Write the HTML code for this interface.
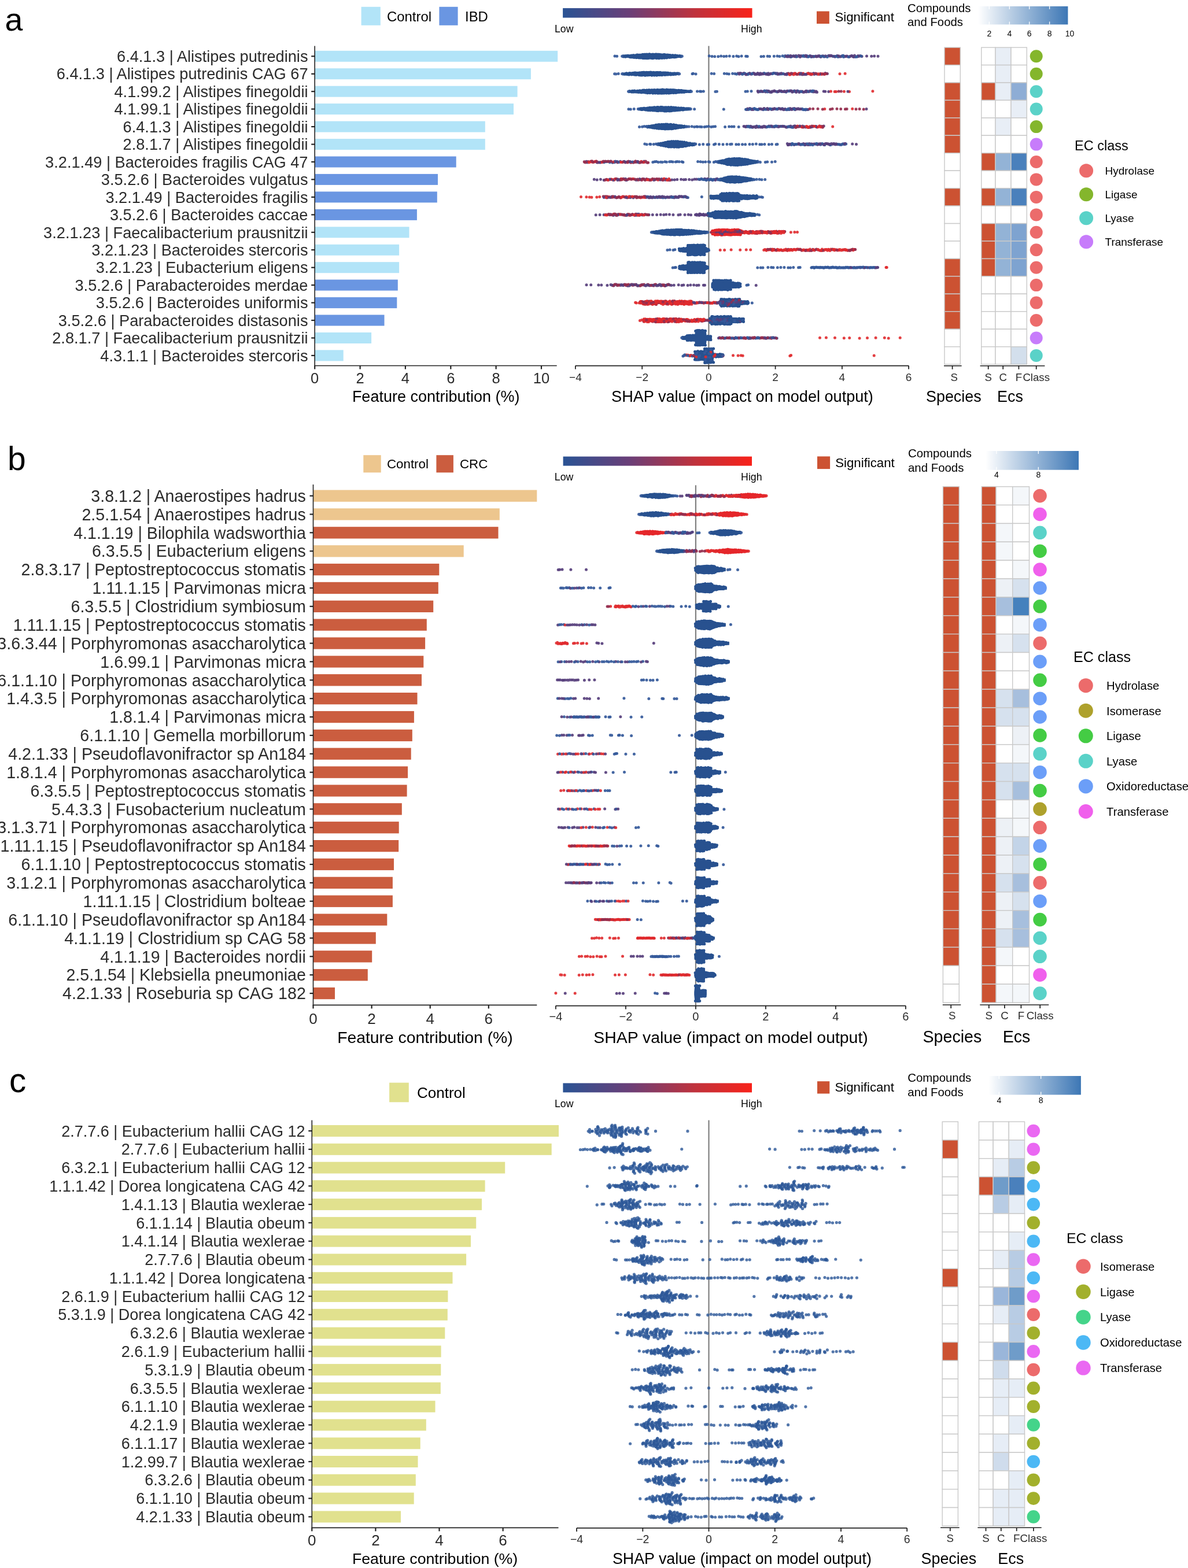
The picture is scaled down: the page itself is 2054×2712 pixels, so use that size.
<!DOCTYPE html><html><head><meta charset="utf-8"><title>Figure</title><style>html,body{margin:0;padding:0;background:#fff;}svg{display:block;font-family:"Liberation Sans",Arial,sans-serif;}path.db,path.dp,path.dr,path.dm{fill:none;stroke-linecap:round;stroke-width:5px}path.db{stroke:#28518f}path.dr{stroke:#e5262a}path.dp{stroke:#573d7a}path.dm{stroke:#952e4e}path.dB,path.dP,path.dR,path.dM,path.dc{fill:none;stroke-linecap:round;stroke-width:5px}path.dB{stroke:#34599a;stroke-opacity:.92}path.dP{stroke:#573f7c;stroke-opacity:.92}path.dR{stroke:#e02a2e;stroke-opacity:.9}path.dM{stroke:#952e4e;stroke-opacity:.92}path.dc{stroke:#2a5697;stroke-opacity:.8;stroke-width:5.2px}</style></head><body><svg width="2054" height="2712" viewBox="0 0 2054 2712"><rect width="2054" height="2712" fill="#fff"/><defs><linearGradient id="shapgrad"><stop offset="0" stop-color="#2a5394"/><stop offset="0.35" stop-color="#6a3f78"/><stop offset="0.7" stop-color="#c0323c"/><stop offset="1" stop-color="#f8221a"/></linearGradient><linearGradient id="ga"><stop offset="0" stop-color="#ffffff"/><stop offset="1" stop-color="#3d77b5"/></linearGradient><linearGradient id="gb"><stop offset="0" stop-color="#ffffff"/><stop offset="1" stop-color="#3d77b5"/></linearGradient><linearGradient id="gc"><stop offset="0" stop-color="#ffffff"/><stop offset="1" stop-color="#3d77b5"/></linearGradient></defs>
<text x="8.5" y="53.3" font-size="55.5" fill="#000">a</text>
<text x="532.5" y="107" font-size="27.2" fill="#2b2b2b" text-anchor="end">6.4.1.3 | Alistipes putredinis</text>
<text x="532.5" y="137.4" font-size="27.2" fill="#2b2b2b" text-anchor="end">6.4.1.3 | Alistipes putredinis CAG 67</text>
<text x="532.5" y="167.9" font-size="27.2" fill="#2b2b2b" text-anchor="end">4.1.99.2 | Alistipes finegoldii</text>
<text x="532.5" y="198.3" font-size="27.2" fill="#2b2b2b" text-anchor="end">4.1.99.1 | Alistipes finegoldii</text>
<text x="532.5" y="228.8" font-size="27.2" fill="#2b2b2b" text-anchor="end">6.4.1.3 | Alistipes finegoldii</text>
<text x="532.5" y="259.2" font-size="27.2" fill="#2b2b2b" text-anchor="end">2.8.1.7 | Alistipes finegoldii</text>
<text x="532.5" y="289.7" font-size="27.2" fill="#2b2b2b" text-anchor="end">3.2.1.49 | Bacteroides fragilis CAG 47</text>
<text x="532.5" y="320.1" font-size="27.2" fill="#2b2b2b" text-anchor="end">3.5.2.6 | Bacteroides vulgatus</text>
<text x="532.5" y="350.6" font-size="27.2" fill="#2b2b2b" text-anchor="end">3.2.1.49 | Bacteroides fragilis</text>
<text x="532.5" y="381" font-size="27.2" fill="#2b2b2b" text-anchor="end">3.5.2.6 | Bacteroides caccae</text>
<text x="532.5" y="411.5" font-size="27.2" fill="#2b2b2b" text-anchor="end">3.2.1.23 | Faecalibacterium prausnitzii</text>
<text x="532.5" y="441.9" font-size="27.2" fill="#2b2b2b" text-anchor="end">3.2.1.23 | Bacteroides stercoris</text>
<text x="532.5" y="472.4" font-size="27.2" fill="#2b2b2b" text-anchor="end">3.2.1.23 | Eubacterium eligens</text>
<text x="532.5" y="502.8" font-size="27.2" fill="#2b2b2b" text-anchor="end">3.5.2.6 | Parabacteroides merdae</text>
<text x="532.5" y="533.3" font-size="27.2" fill="#2b2b2b" text-anchor="end">3.5.2.6 | Bacteroides uniformis</text>
<text x="532.5" y="563.7" font-size="27.2" fill="#2b2b2b" text-anchor="end">3.5.2.6 | Parabacteroides distasonis</text>
<text x="532.5" y="594.2" font-size="27.2" fill="#2b2b2b" text-anchor="end">2.8.1.7 | Faecalibacterium prausnitzii</text>
<text x="532.5" y="624.6" font-size="27.2" fill="#2b2b2b" text-anchor="end">4.3.1.1 | Bacteroides stercoris</text>
<rect x="544.2" y="87.8" width="420" height="19" fill="#b2e4f8"/>
<rect x="544.2" y="118.2" width="373.7" height="19" fill="#b2e4f8"/>
<rect x="544.2" y="148.7" width="350.4" height="19" fill="#b2e4f8"/>
<rect x="544.2" y="179.1" width="343.8" height="19" fill="#b2e4f8"/>
<rect x="544.2" y="209.6" width="294.6" height="19" fill="#b2e4f8"/>
<rect x="544.2" y="240.1" width="294.6" height="19" fill="#b2e4f8"/>
<rect x="544.2" y="270.5" width="244.5" height="19" fill="#6a96e2"/>
<rect x="544.2" y="300.9" width="212.8" height="19" fill="#6a96e2"/>
<rect x="544.2" y="331.4" width="211.6" height="19" fill="#6a96e2"/>
<rect x="544.2" y="361.9" width="176.7" height="19" fill="#6a96e2"/>
<rect x="544.2" y="392.3" width="163.3" height="19" fill="#b2e4f8"/>
<rect x="544.2" y="422.8" width="145.9" height="19" fill="#b2e4f8"/>
<rect x="544.2" y="453.2" width="145.9" height="19" fill="#b2e4f8"/>
<rect x="544.2" y="483.6" width="143.6" height="19" fill="#6a96e2"/>
<rect x="544.2" y="514.1" width="142.1" height="19" fill="#6a96e2"/>
<rect x="544.2" y="544.5" width="120.3" height="19" fill="#6a96e2"/>
<rect x="544.2" y="575" width="97.9" height="19" fill="#b2e4f8"/>
<rect x="544.2" y="605.4" width="49.5" height="19" fill="#b2e4f8"/>
<line x1="544.2" y1="79.4" x2="544.2" y2="633.3" stroke="#222222" stroke-width="1.6"/>
<line x1="538.2" y1="97.3" x2="544.2" y2="97.3" stroke="#222" stroke-width="2.2"/>
<line x1="538.2" y1="127.8" x2="544.2" y2="127.8" stroke="#222" stroke-width="2.2"/>
<line x1="538.2" y1="158.2" x2="544.2" y2="158.2" stroke="#222" stroke-width="2.2"/>
<line x1="538.2" y1="188.6" x2="544.2" y2="188.6" stroke="#222" stroke-width="2.2"/>
<line x1="538.2" y1="219.1" x2="544.2" y2="219.1" stroke="#222" stroke-width="2.2"/>
<line x1="538.2" y1="249.6" x2="544.2" y2="249.6" stroke="#222" stroke-width="2.2"/>
<line x1="538.2" y1="280" x2="544.2" y2="280" stroke="#222" stroke-width="2.2"/>
<line x1="538.2" y1="310.4" x2="544.2" y2="310.4" stroke="#222" stroke-width="2.2"/>
<line x1="538.2" y1="340.9" x2="544.2" y2="340.9" stroke="#222" stroke-width="2.2"/>
<line x1="538.2" y1="371.4" x2="544.2" y2="371.4" stroke="#222" stroke-width="2.2"/>
<line x1="538.2" y1="401.8" x2="544.2" y2="401.8" stroke="#222" stroke-width="2.2"/>
<line x1="538.2" y1="432.2" x2="544.2" y2="432.2" stroke="#222" stroke-width="2.2"/>
<line x1="538.2" y1="462.7" x2="544.2" y2="462.7" stroke="#222" stroke-width="2.2"/>
<line x1="538.2" y1="493.1" x2="544.2" y2="493.1" stroke="#222" stroke-width="2.2"/>
<line x1="538.2" y1="523.6" x2="544.2" y2="523.6" stroke="#222" stroke-width="2.2"/>
<line x1="538.2" y1="554" x2="544.2" y2="554" stroke="#222" stroke-width="2.2"/>
<line x1="538.2" y1="584.5" x2="544.2" y2="584.5" stroke="#222" stroke-width="2.2"/>
<line x1="538.2" y1="614.9" x2="544.2" y2="614.9" stroke="#222" stroke-width="2.2"/>
<line x1="543.4" y1="632.5" x2="962.7" y2="632.5" stroke="#222222" stroke-width="1.6"/>
<line x1="544.2" y1="632.5" x2="544.2" y2="638.5" stroke="#222" stroke-width="2.2"/>
<text x="544.2" y="663" font-size="25.5" fill="#2b2b2b" text-anchor="middle">0</text>
<line x1="622.6" y1="632.5" x2="622.6" y2="638.5" stroke="#222" stroke-width="2.2"/>
<text x="622.6" y="663" font-size="25.5" fill="#2b2b2b" text-anchor="middle">2</text>
<line x1="700.9" y1="632.5" x2="700.9" y2="638.5" stroke="#222" stroke-width="2.2"/>
<text x="700.9" y="663" font-size="25.5" fill="#2b2b2b" text-anchor="middle">4</text>
<line x1="779.3" y1="632.5" x2="779.3" y2="638.5" stroke="#222" stroke-width="2.2"/>
<text x="779.3" y="663" font-size="25.5" fill="#2b2b2b" text-anchor="middle">6</text>
<line x1="857.6" y1="632.5" x2="857.6" y2="638.5" stroke="#222" stroke-width="2.2"/>
<text x="857.6" y="663" font-size="25.5" fill="#2b2b2b" text-anchor="middle">8</text>
<line x1="936" y1="632.5" x2="936" y2="638.5" stroke="#222" stroke-width="2.2"/>
<text x="936" y="663" font-size="25.5" fill="#2b2b2b" text-anchor="middle">10</text>
<text x="753.7" y="695" font-size="27" fill="#000" text-anchor="middle">Feature contribution (%)</text>
<rect x="624.6" y="11.8" width="33.2" height="32" fill="#b2e4f8"/>
<text x="669" y="36.5" font-size="23.9" fill="#000">Control</text>
<rect x="759.4" y="11.8" width="32.2" height="32" fill="#6a96e2"/>
<text x="804" y="36.5" font-size="23.9" fill="#000">IBD</text>
<line x1="1225.4" y1="79.5" x2="1225.4" y2="632.6" stroke="#808080" stroke-width="2.2"/>
<line x1="994.9" y1="632.6" x2="1571.1" y2="632.6" stroke="#222222" stroke-width="1.6"/>
<line x1="994.9" y1="632.6" x2="994.9" y2="638.6" stroke="#222222" stroke-width="1.8"/>
<text x="994.9" y="659.2" font-size="19" fill="#2b2b2b" text-anchor="middle">−4</text>
<line x1="1110.2" y1="632.6" x2="1110.2" y2="638.6" stroke="#222222" stroke-width="1.8"/>
<text x="1110.2" y="659.2" font-size="19" fill="#2b2b2b" text-anchor="middle">−2</text>
<line x1="1225.4" y1="632.6" x2="1225.4" y2="638.6" stroke="#222222" stroke-width="1.8"/>
<text x="1225.4" y="659.2" font-size="19" fill="#2b2b2b" text-anchor="middle">0</text>
<line x1="1340.6" y1="632.6" x2="1340.6" y2="638.6" stroke="#222222" stroke-width="1.8"/>
<text x="1340.6" y="659.2" font-size="19" fill="#2b2b2b" text-anchor="middle">2</text>
<line x1="1455.9" y1="632.6" x2="1455.9" y2="638.6" stroke="#222222" stroke-width="1.8"/>
<text x="1455.9" y="659.2" font-size="19" fill="#2b2b2b" text-anchor="middle">4</text>
<line x1="1571.1" y1="632.6" x2="1571.1" y2="638.6" stroke="#222222" stroke-width="1.8"/>
<text x="1571.1" y="659.2" font-size="19" fill="#2b2b2b" text-anchor="middle">6</text>
<text x="1283.5" y="695.2" font-size="27.1" fill="#000" text-anchor="middle">SHAP value (impact on model output)</text>
<rect x="973.1" y="14.1" width="327.4" height="16.5" fill="url(#shapgrad)"/>
<text x="959" y="55.8" font-size="17.7" fill="#000">Low</text>
<text x="1317.5" y="55.8" font-size="17.7" fill="#000" text-anchor="end">High</text>
<rect x="1412" y="19.5" width="21.8" height="21.5" fill="#cc5232"/>
<text x="1443.5" y="37.2" font-size="22.2" fill="#000">Significant</text>
<text x="1569" y="20.6" font-size="20.3" fill="#000">Compounds</text>
<text x="1569" y="45.3" font-size="20.3" fill="#000">and Foods</text>
<rect x="1690.9" y="10.9" width="155.5" height="31.5" fill="url(#ga)"/>
<line x1="1710.3" y1="10.9" x2="1710.3" y2="15.9" stroke="#fff" stroke-width="1.3"/>
<line x1="1710.3" y1="37.4" x2="1710.3" y2="42.4" stroke="#fff" stroke-width="1.3"/>
<text x="1710.3" y="63.2" font-size="14" fill="#000" text-anchor="middle">2</text>
<line x1="1745.3" y1="10.9" x2="1745.3" y2="15.9" stroke="#fff" stroke-width="1.3"/>
<line x1="1745.3" y1="37.4" x2="1745.3" y2="42.4" stroke="#fff" stroke-width="1.3"/>
<text x="1745.3" y="63.2" font-size="14" fill="#000" text-anchor="middle">4</text>
<line x1="1779.7" y1="10.9" x2="1779.7" y2="15.9" stroke="#fff" stroke-width="1.3"/>
<line x1="1779.7" y1="37.4" x2="1779.7" y2="42.4" stroke="#fff" stroke-width="1.3"/>
<text x="1779.7" y="63.2" font-size="14" fill="#000" text-anchor="middle">6</text>
<line x1="1814.6" y1="10.9" x2="1814.6" y2="15.9" stroke="#fff" stroke-width="1.3"/>
<line x1="1814.6" y1="37.4" x2="1814.6" y2="42.4" stroke="#fff" stroke-width="1.3"/>
<text x="1814.6" y="63.2" font-size="14" fill="#000" text-anchor="middle">8</text>
<text x="1849.5" y="63.2" font-size="14" fill="#000" text-anchor="middle">10</text>
<rect x="1633" y="82.1" width="27.3" height="30.5" fill="#cc5232" stroke="#c9c9c9" stroke-width="1.4"/>
<rect x="1633" y="112.5" width="27.3" height="30.4" fill="#fff" stroke="#c9c9c9" stroke-width="1.4"/>
<rect x="1633" y="143" width="27.3" height="30.4" fill="#cc5232" stroke="#c9c9c9" stroke-width="1.4"/>
<rect x="1633" y="173.4" width="27.3" height="30.4" fill="#cc5232" stroke="#c9c9c9" stroke-width="1.4"/>
<rect x="1633" y="203.9" width="27.3" height="30.4" fill="#cc5232" stroke="#c9c9c9" stroke-width="1.4"/>
<rect x="1633" y="234.3" width="27.3" height="30.5" fill="#cc5232" stroke="#c9c9c9" stroke-width="1.4"/>
<rect x="1633" y="264.8" width="27.3" height="30.4" fill="#fff" stroke="#c9c9c9" stroke-width="1.4"/>
<rect x="1633" y="295.2" width="27.3" height="30.4" fill="#fff" stroke="#c9c9c9" stroke-width="1.4"/>
<rect x="1633" y="325.7" width="27.3" height="30.4" fill="#cc5232" stroke="#c9c9c9" stroke-width="1.4"/>
<rect x="1633" y="356.1" width="27.3" height="30.4" fill="#fff" stroke="#c9c9c9" stroke-width="1.4"/>
<rect x="1633" y="386.6" width="27.3" height="30.4" fill="#fff" stroke="#c9c9c9" stroke-width="1.4"/>
<rect x="1633" y="417" width="27.3" height="30.4" fill="#fff" stroke="#c9c9c9" stroke-width="1.4"/>
<rect x="1633" y="447.5" width="27.3" height="30.4" fill="#cc5232" stroke="#c9c9c9" stroke-width="1.4"/>
<rect x="1633" y="477.9" width="27.3" height="30.4" fill="#cc5232" stroke="#c9c9c9" stroke-width="1.4"/>
<rect x="1633" y="508.4" width="27.3" height="30.5" fill="#cc5232" stroke="#c9c9c9" stroke-width="1.4"/>
<rect x="1633" y="538.8" width="27.3" height="30.5" fill="#cc5232" stroke="#c9c9c9" stroke-width="1.4"/>
<rect x="1633" y="569.3" width="27.3" height="30.5" fill="#fff" stroke="#c9c9c9" stroke-width="1.4"/>
<rect x="1633" y="599.7" width="27.3" height="30.5" fill="#fff" stroke="#c9c9c9" stroke-width="1.4"/>
<rect x="1696.8" y="82.1" width="24.2" height="30.5" fill="#fff" stroke="#c9c9c9" stroke-width="1.4"/>
<rect x="1721" y="82.1" width="27" height="30.5" fill="#e8eef6" stroke="#c9c9c9" stroke-width="1.4"/>
<rect x="1748" y="82.1" width="27.3" height="30.5" fill="#fff" stroke="#c9c9c9" stroke-width="1.4"/>
<rect x="1696.8" y="112.5" width="24.2" height="30.4" fill="#fff" stroke="#c9c9c9" stroke-width="1.4"/>
<rect x="1721" y="112.5" width="27" height="30.4" fill="#e8eef6" stroke="#c9c9c9" stroke-width="1.4"/>
<rect x="1748" y="112.5" width="27.3" height="30.4" fill="#fff" stroke="#c9c9c9" stroke-width="1.4"/>
<rect x="1696.8" y="143" width="24.2" height="30.4" fill="#cc5232" stroke="#c9c9c9" stroke-width="1.4"/>
<rect x="1721" y="143" width="27" height="30.4" fill="#e8eef6" stroke="#c9c9c9" stroke-width="1.4"/>
<rect x="1748" y="143" width="27.3" height="30.4" fill="#8eadd5" stroke="#c9c9c9" stroke-width="1.4"/>
<rect x="1696.8" y="173.4" width="24.2" height="30.4" fill="#fff" stroke="#c9c9c9" stroke-width="1.4"/>
<rect x="1721" y="173.4" width="27" height="30.4" fill="#fff" stroke="#c9c9c9" stroke-width="1.4"/>
<rect x="1748" y="173.4" width="27.3" height="30.4" fill="#e8eef6" stroke="#c9c9c9" stroke-width="1.4"/>
<rect x="1696.8" y="203.9" width="24.2" height="30.4" fill="#fff" stroke="#c9c9c9" stroke-width="1.4"/>
<rect x="1721" y="203.9" width="27" height="30.4" fill="#e8eef6" stroke="#c9c9c9" stroke-width="1.4"/>
<rect x="1748" y="203.9" width="27.3" height="30.4" fill="#fff" stroke="#c9c9c9" stroke-width="1.4"/>
<rect x="1696.8" y="234.3" width="24.2" height="30.5" fill="#fff" stroke="#c9c9c9" stroke-width="1.4"/>
<rect x="1721" y="234.3" width="27" height="30.5" fill="#fff" stroke="#c9c9c9" stroke-width="1.4"/>
<rect x="1748" y="234.3" width="27.3" height="30.5" fill="#fff" stroke="#c9c9c9" stroke-width="1.4"/>
<rect x="1696.8" y="264.8" width="24.2" height="30.4" fill="#cc5232" stroke="#c9c9c9" stroke-width="1.4"/>
<rect x="1721" y="264.8" width="27" height="30.4" fill="#93b3d6" stroke="#c9c9c9" stroke-width="1.4"/>
<rect x="1748" y="264.8" width="27.3" height="30.4" fill="#4a80bc" stroke="#c9c9c9" stroke-width="1.4"/>
<rect x="1696.8" y="295.2" width="24.2" height="30.4" fill="#fff" stroke="#c9c9c9" stroke-width="1.4"/>
<rect x="1721" y="295.2" width="27" height="30.4" fill="#fff" stroke="#c9c9c9" stroke-width="1.4"/>
<rect x="1748" y="295.2" width="27.3" height="30.4" fill="#fff" stroke="#c9c9c9" stroke-width="1.4"/>
<rect x="1696.8" y="325.7" width="24.2" height="30.4" fill="#cc5232" stroke="#c9c9c9" stroke-width="1.4"/>
<rect x="1721" y="325.7" width="27" height="30.4" fill="#93b3d6" stroke="#c9c9c9" stroke-width="1.4"/>
<rect x="1748" y="325.7" width="27.3" height="30.4" fill="#4a80bc" stroke="#c9c9c9" stroke-width="1.4"/>
<rect x="1696.8" y="356.1" width="24.2" height="30.4" fill="#fff" stroke="#c9c9c9" stroke-width="1.4"/>
<rect x="1721" y="356.1" width="27" height="30.4" fill="#fff" stroke="#c9c9c9" stroke-width="1.4"/>
<rect x="1748" y="356.1" width="27.3" height="30.4" fill="#fff" stroke="#c9c9c9" stroke-width="1.4"/>
<rect x="1696.8" y="386.6" width="24.2" height="30.4" fill="#cc5232" stroke="#c9c9c9" stroke-width="1.4"/>
<rect x="1721" y="386.6" width="27" height="30.4" fill="#93b3d6" stroke="#c9c9c9" stroke-width="1.4"/>
<rect x="1748" y="386.6" width="27.3" height="30.4" fill="#7ea3d0" stroke="#c9c9c9" stroke-width="1.4"/>
<rect x="1696.8" y="417" width="24.2" height="30.4" fill="#cc5232" stroke="#c9c9c9" stroke-width="1.4"/>
<rect x="1721" y="417" width="27" height="30.4" fill="#93b3d6" stroke="#c9c9c9" stroke-width="1.4"/>
<rect x="1748" y="417" width="27.3" height="30.4" fill="#7ea3d0" stroke="#c9c9c9" stroke-width="1.4"/>
<rect x="1696.8" y="447.5" width="24.2" height="30.4" fill="#cc5232" stroke="#c9c9c9" stroke-width="1.4"/>
<rect x="1721" y="447.5" width="27" height="30.4" fill="#93b3d6" stroke="#c9c9c9" stroke-width="1.4"/>
<rect x="1748" y="447.5" width="27.3" height="30.4" fill="#7ea3d0" stroke="#c9c9c9" stroke-width="1.4"/>
<rect x="1696.8" y="477.9" width="24.2" height="30.4" fill="#fff" stroke="#c9c9c9" stroke-width="1.4"/>
<rect x="1721" y="477.9" width="27" height="30.4" fill="#fff" stroke="#c9c9c9" stroke-width="1.4"/>
<rect x="1748" y="477.9" width="27.3" height="30.4" fill="#fff" stroke="#c9c9c9" stroke-width="1.4"/>
<rect x="1696.8" y="508.4" width="24.2" height="30.5" fill="#fff" stroke="#c9c9c9" stroke-width="1.4"/>
<rect x="1721" y="508.4" width="27" height="30.5" fill="#fff" stroke="#c9c9c9" stroke-width="1.4"/>
<rect x="1748" y="508.4" width="27.3" height="30.5" fill="#fff" stroke="#c9c9c9" stroke-width="1.4"/>
<rect x="1696.8" y="538.8" width="24.2" height="30.5" fill="#fff" stroke="#c9c9c9" stroke-width="1.4"/>
<rect x="1721" y="538.8" width="27" height="30.5" fill="#fff" stroke="#c9c9c9" stroke-width="1.4"/>
<rect x="1748" y="538.8" width="27.3" height="30.5" fill="#fff" stroke="#c9c9c9" stroke-width="1.4"/>
<rect x="1696.8" y="569.3" width="24.2" height="30.5" fill="#fff" stroke="#c9c9c9" stroke-width="1.4"/>
<rect x="1721" y="569.3" width="27" height="30.5" fill="#fff" stroke="#c9c9c9" stroke-width="1.4"/>
<rect x="1748" y="569.3" width="27.3" height="30.5" fill="#fff" stroke="#c9c9c9" stroke-width="1.4"/>
<rect x="1696.8" y="599.7" width="24.2" height="30.5" fill="#fff" stroke="#c9c9c9" stroke-width="1.4"/>
<rect x="1721" y="599.7" width="27" height="30.5" fill="#fff" stroke="#c9c9c9" stroke-width="1.4"/>
<rect x="1748" y="599.7" width="27.3" height="30.5" fill="#d3dfec" stroke="#c9c9c9" stroke-width="1.4"/>
<circle cx="1791.7" cy="97.3" r="11" fill="#84b62c"/>
<circle cx="1791.7" cy="127.8" r="11" fill="#84b62c"/>
<circle cx="1791.7" cy="158.2" r="11" fill="#5ad2c8"/>
<circle cx="1791.7" cy="188.6" r="11" fill="#5ad2c8"/>
<circle cx="1791.7" cy="219.1" r="11" fill="#84b62c"/>
<circle cx="1791.7" cy="249.6" r="11" fill="#c77cfb"/>
<circle cx="1791.7" cy="280" r="11" fill="#ec6b6b"/>
<circle cx="1791.7" cy="310.4" r="11" fill="#ec6b6b"/>
<circle cx="1791.7" cy="340.9" r="11" fill="#ec6b6b"/>
<circle cx="1791.7" cy="371.4" r="11" fill="#ec6b6b"/>
<circle cx="1791.7" cy="401.8" r="11" fill="#ec6b6b"/>
<circle cx="1791.7" cy="432.2" r="11" fill="#ec6b6b"/>
<circle cx="1791.7" cy="462.7" r="11" fill="#ec6b6b"/>
<circle cx="1791.7" cy="493.1" r="11" fill="#ec6b6b"/>
<circle cx="1791.7" cy="523.6" r="11" fill="#ec6b6b"/>
<circle cx="1791.7" cy="554" r="11" fill="#ec6b6b"/>
<circle cx="1791.7" cy="584.5" r="11" fill="#c77cfb"/>
<circle cx="1791.7" cy="614.9" r="11" fill="#5ad2c8"/>
<text x="1858" y="260" font-size="23.5" fill="#000">EC class</text>
<circle cx="1878.1" cy="295.3" r="12" fill="#ec6b6b"/>
<text x="1910.5" y="302.1" font-size="19" fill="#000">Hydrolase</text>
<circle cx="1878.1" cy="336.3" r="12" fill="#84b62c"/>
<text x="1910.5" y="343.1" font-size="19" fill="#000">Ligase</text>
<circle cx="1878.1" cy="377.3" r="12" fill="#5ad2c8"/>
<text x="1910.5" y="384.1" font-size="19" fill="#000">Lyase</text>
<circle cx="1878.1" cy="418.3" r="12" fill="#c77cfb"/>
<text x="1910.5" y="425.1" font-size="19" fill="#000">Transferase</text>
<line x1="1632" y1="632.7" x2="1662.6" y2="632.7" stroke="#222222" stroke-width="1.6"/>
<line x1="1646.6" y1="632.7" x2="1646.6" y2="638.7" stroke="#222222" stroke-width="1.8"/>
<text x="1649.6" y="658.7" font-size="18.6" fill="#2b2b2b" text-anchor="middle">S</text>
<line x1="1694.6" y1="632.7" x2="1806.4" y2="632.7" stroke="#222222" stroke-width="1.6"/>
<line x1="1708.7" y1="632.7" x2="1708.7" y2="638.7" stroke="#222222" stroke-width="1.8"/>
<text x="1708.7" y="658.7" font-size="18.6" fill="#2b2b2b" text-anchor="middle">S</text>
<line x1="1734.2" y1="632.7" x2="1734.2" y2="638.7" stroke="#222222" stroke-width="1.8"/>
<text x="1734.2" y="658.7" font-size="18.6" fill="#2b2b2b" text-anchor="middle">C</text>
<line x1="1761.4" y1="632.7" x2="1761.4" y2="638.7" stroke="#222222" stroke-width="1.8"/>
<text x="1761.4" y="658.7" font-size="18.6" fill="#2b2b2b" text-anchor="middle">F</text>
<line x1="1791.7" y1="632.7" x2="1791.7" y2="638.7" stroke="#222222" stroke-width="1.8"/>
<text x="1791.7" y="658.7" font-size="18.6" fill="#2b2b2b" text-anchor="middle">Class</text>
<text x="1601" y="695" font-size="26.9" fill="#000">Species</text>
<text x="1724" y="695" font-size="26.9" fill="#000">Ecs</text>
<polygon points="1075.6,94.4 1077.2,94.5 1078.8,94.3 1080.4,94.6 1082,94 1083.6,94.2 1085.2,93.8 1086.8,94.1 1088.4,94.2 1090,94.1 1091.6,93.6 1093.2,93.8 1094.8,93.1 1096.4,93.4 1098,93.4 1099.6,93.3 1101.2,92.3 1102.8,92.8 1104.4,92.7 1106,92.8 1107.6,92.7 1109.2,92.5 1110.8,91.8 1112.4,92 1114,91.8 1115.6,91.8 1117.2,91.7 1118.8,91.6 1120.4,92 1122,91.3 1123.6,91.3 1125.2,92 1126.8,91.9 1128.4,91.5 1130,91.8 1131.6,91.9 1133.2,91.4 1134.8,91.4 1136.4,91.8 1138,91.7 1139.6,91.7 1141.2,92.1 1142.8,92.2 1144.4,92.4 1146,92.6 1147.6,91.9 1149.2,92.1 1150.8,92.5 1152.4,92.7 1154,92.6 1155.6,92.8 1157.2,93 1158.8,93 1160.4,93.6 1162,93.5 1163.6,93.1 1165.2,94 1166.8,93.3 1168.4,93.5 1170,94 1171.6,93.9 1173.2,94.6 1174.8,94.1 1176.4,94.2 1178,94.7 1179.3,94.4 1179.3,100.2 1178,100.2 1176.4,100.6 1174.8,99.9 1173.2,100 1171.6,100.2 1170,100.8 1168.4,101 1166.8,101.2 1165.2,101.3 1163.6,101.1 1162,100.9 1160.4,101.5 1158.8,101.6 1157.2,101.9 1155.6,101.2 1154,102.2 1152.4,102.4 1150.8,102 1149.2,102.7 1147.6,102.6 1146,102.5 1144.4,103 1142.8,102.5 1141.2,102.8 1139.6,103.2 1138,103.1 1136.4,102.7 1134.8,103.3 1133.2,102.4 1131.6,102.6 1130,103 1128.4,103.2 1126.8,102.9 1125.2,102.8 1123.6,102.6 1122,103 1120.4,103.1 1118.8,103.2 1117.2,103 1115.6,103 1114,103 1112.4,103.1 1110.8,103 1109.2,102.2 1107.6,102.4 1106,102.3 1104.4,102.5 1102.8,101.8 1101.2,102 1099.6,102.2 1098,101.5 1096.4,101.9 1094.8,101.5 1093.2,101.3 1091.6,101.3 1090,101.2 1088.4,101 1086.8,100.2 1085.2,100.1 1083.6,100.1 1082,100.7 1080.4,100.5 1078.8,100.3 1077.2,100.5 1075.6,99.7" fill="#28518f"/>
<polygon points="1075.6,125.2 1077.2,125.2 1078.8,125.4 1080.4,125.3 1082,124.6 1083.6,124.3 1085.2,125 1086.8,124.6 1088.4,124.1 1090,124.3 1091.6,124.5 1093.2,124.1 1094.8,123.9 1096.4,123.6 1098,123.4 1099.6,123.5 1101.2,124 1102.8,123.8 1104.4,123.7 1106,123.3 1107.6,123.5 1109.2,123.1 1110.8,122.9 1112.4,122.7 1114,122.8 1115.6,123.3 1117.2,122.7 1118.8,123 1120.4,122.9 1122,122.9 1123.6,122.7 1125.2,122.5 1126.8,122.9 1128.4,123.3 1130,122.7 1131.6,123.3 1133.2,123.3 1134.8,122.9 1136.4,123.1 1138,122.9 1139.6,123.3 1141.2,122.8 1142.8,123.3 1144.4,123.8 1146,123.4 1147.6,123.6 1149.2,123.5 1150.8,123.5 1152.4,123.7 1154,123.7 1155.6,123.8 1157.2,124.5 1158.8,124.2 1160.4,124.5 1162,124.9 1163.6,124.6 1165.2,124.7 1166.8,124.3 1168.4,125 1170,124.5 1171.6,124.6 1173.2,124.8 1174.7,124.6 1174.7,130.5 1173.2,130.4 1171.6,130.1 1170,130.2 1168.4,131.1 1166.8,130.5 1165.2,131.2 1163.6,131.1 1162,131 1160.4,131.6 1158.8,131.4 1157.2,131 1155.6,131.5 1154,131.6 1152.4,131.4 1150.8,131.7 1149.2,132.1 1147.6,131.6 1146,131.7 1144.4,132.4 1142.8,131.8 1141.2,132.3 1139.6,132.1 1138,132 1136.4,132.5 1134.8,132.8 1133.2,132 1131.6,132.7 1130,132.2 1128.4,132.3 1126.8,132.9 1125.2,132.1 1123.6,132.1 1122,132.2 1120.4,132.3 1118.8,132.4 1117.2,132.3 1115.6,133 1114,132.4 1112.4,132.1 1110.8,132.5 1109.2,132.5 1107.6,132.6 1106,132.2 1104.4,132.3 1102.8,131.5 1101.2,131.5 1099.6,132.2 1098,131.4 1096.4,131.8 1094.8,131.1 1093.2,131.2 1091.6,131.6 1090,130.8 1088.4,131.5 1086.8,131.4 1085.2,130.9 1083.6,131 1082,130.4 1080.4,131 1078.8,130.4 1077.2,130.8 1075.6,130.1" fill="#28518f"/>
<polygon points="1086.5,155.7 1088.1,155.1 1089.7,155.4 1091.3,155.5 1092.9,154.8 1094.5,155.1 1096.1,154.8 1097.7,154.6 1099.3,155.4 1100.9,155.1 1102.5,154.7 1104.1,154.9 1105.7,154.2 1107.3,154.4 1108.9,154.7 1110.5,153.8 1112.1,153.7 1113.7,153.5 1115.3,154.1 1116.9,154.1 1118.5,153.3 1120.1,153.9 1121.7,153 1123.3,153.5 1124.9,153.7 1126.5,153.2 1128.1,153.5 1129.7,153.6 1131.3,153 1132.9,153.4 1134.5,153.5 1136.1,153.1 1137.7,152.9 1139.3,153.4 1140.9,153.2 1142.5,153.2 1144.1,152.7 1145.7,152.6 1147.3,152.9 1148.9,153.2 1150.5,153.5 1152.1,152.6 1153.7,152.9 1155.3,153 1156.9,153.6 1158.5,153 1160.1,153.2 1161.7,153.3 1163.3,153.3 1164.9,153.2 1166.5,153.5 1168.1,153.8 1169.7,154.1 1171.3,154.2 1172.9,153.7 1174.5,154.1 1176.1,154.3 1177.7,154.1 1179.3,154.3 1180.9,154.7 1182.5,154.7 1184.1,155 1185.7,154.9 1187.3,155.3 1188.9,155.5 1190.5,155.5 1192.1,155.6 1193.7,155.1 1195.3,155.1 1195.4,155.4 1195.4,160.7 1195.3,160.6 1193.7,161 1192.1,161.1 1190.5,161 1188.9,160.7 1187.3,160.9 1185.7,161.1 1184.1,161.5 1182.5,162 1180.9,161.4 1179.3,162.1 1177.7,161.7 1176.1,161.7 1174.5,162 1172.9,162.1 1171.3,162.3 1169.7,162.7 1168.1,163 1166.5,162.4 1164.9,163.2 1163.3,162.8 1161.7,162.7 1160.1,163.1 1158.5,163.2 1156.9,163.4 1155.3,163.4 1153.7,163.1 1152.1,163.8 1150.5,163.1 1148.9,163.4 1147.3,163.5 1145.7,163.5 1144.1,163.7 1142.5,163.4 1140.9,163.6 1139.3,163.6 1137.7,163.7 1136.1,163.4 1134.5,163 1132.9,163.7 1131.3,163 1129.7,163.4 1128.1,163.7 1126.5,162.6 1124.9,163.1 1123.3,163.2 1121.7,162.8 1120.1,163.3 1118.5,163.2 1116.9,162.4 1115.3,162.7 1113.7,162.1 1112.1,161.9 1110.5,162.1 1108.9,162.5 1107.3,162.1 1105.7,161.8 1104.1,162 1102.5,161.7 1100.9,161.5 1099.3,161.6 1097.7,161.2 1096.1,161.5 1094.5,161.6 1092.9,161.5 1091.3,161.5 1089.7,160.8 1088.1,161.1 1086.5,161.3" fill="#28518f"/>
<polygon points="1103.2,186.2 1104.8,185.9 1106.4,185.4 1108,185.2 1109.6,185.3 1111.2,185.3 1112.8,184.8 1114.4,184.7 1116,185.3 1117.6,184.9 1119.2,184.5 1120.8,184.6 1122.4,184.1 1124,183.8 1125.6,184.3 1127.2,183.8 1128.8,183.9 1130.4,183.3 1132,183.3 1133.6,183.8 1135.2,183.2 1136.8,182.9 1138.4,183 1140,183.7 1141.6,182.8 1143.2,182.9 1144.8,182.7 1146.4,183.4 1148,183.4 1149.6,183.6 1151.2,183.2 1152.8,183.4 1154.4,183.5 1156,183.1 1157.6,183.7 1159.2,183.2 1160.8,183 1162.4,183.8 1164,183.4 1165.6,183.8 1167.2,184.1 1168.8,183.7 1170.4,184.5 1172,184.5 1173.6,184.2 1175.2,184.9 1176.8,184.5 1178.4,184.6 1180,185 1181.6,184.7 1183.2,184.9 1184.8,185.7 1186.4,185.3 1188,185.4 1189.6,185.3 1191.2,185.6 1192.8,185.5 1194.3,185.7 1194.3,191.6 1192.8,191.1 1191.2,191.5 1189.6,191.3 1188,191.7 1186.4,191.6 1184.8,191.7 1183.2,191.7 1181.6,192.4 1180,192.6 1178.4,192.1 1176.8,192.5 1175.2,192.8 1173.6,192.8 1172,193 1170.4,193.1 1168.8,193.2 1167.2,193.4 1165.6,193.4 1164,193.4 1162.4,193.8 1160.8,194.3 1159.2,194.2 1157.6,194.4 1156,194.3 1154.4,193.9 1152.8,194.4 1151.2,194.5 1149.6,194.4 1148,194.4 1146.4,193.7 1144.8,193.7 1143.2,193.8 1141.6,193.8 1140,193.6 1138.4,194.3 1136.8,193.9 1135.2,194.1 1133.6,193.4 1132,193.5 1130.4,193.3 1128.8,193.5 1127.2,193 1125.6,192.8 1124,193.5 1122.4,192.8 1120.8,193.2 1119.2,192.7 1117.6,192.4 1116,192.4 1114.4,192 1112.8,191.6 1111.2,192.1 1109.6,191.9 1108,192 1106.4,191.3 1104.8,191.5 1103.2,190.9" fill="#28518f"/>
<polygon points="1118.2,215.9 1119.8,216.5 1121.4,215.8 1123,216.2 1124.6,215.8 1126.2,215.2 1127.8,215.3 1129.4,214.7 1131,215.1 1132.6,214 1134.2,213.8 1135.8,213.7 1137.4,213.6 1139,213.1 1140.6,213.3 1142.2,213.5 1143.8,212.7 1145.4,213.2 1147,212.8 1148.6,213.2 1150.2,212.5 1151.8,212.8 1153.4,212.5 1155,213.1 1156.6,213.4 1158.2,212.9 1159.8,212.7 1161.4,213.2 1163,213.9 1164.6,213.1 1166.2,213.7 1167.8,214.3 1169.4,214.1 1171,214.8 1172.6,215.1 1174.2,215.2 1175.8,214.7 1177.4,215.4 1179,215.1 1180.6,216.1 1182.2,216.1 1183.8,215.6 1185.4,216.7 1186.8,216.3 1186.8,221.5 1185.4,221.6 1183.8,222.1 1182.2,222.4 1180.6,222.2 1179,222.5 1177.4,223.1 1175.8,222.8 1174.2,223.1 1172.6,223.4 1171,223.5 1169.4,224.1 1167.8,224.5 1166.2,224.1 1164.6,224.7 1163,224.9 1161.4,225.2 1159.8,225.2 1158.2,224.8 1156.6,225.5 1155,224.9 1153.4,225.6 1151.8,224.9 1150.2,225.7 1148.6,225.3 1147,225.1 1145.4,225.1 1143.8,224.9 1142.2,224.8 1140.6,224.5 1139,225.1 1137.4,224.2 1135.8,224.6 1134.2,223.9 1132.6,223.5 1131,224 1129.4,223.3 1127.8,223.5 1126.2,222.8 1124.6,222.6 1123,222.5 1121.4,222.1 1119.8,222.4 1118.2,222.2" fill="#28518f"/>
<polygon points="1136.1,247 1137.7,246.1 1139.3,246.6 1140.9,246 1142.5,245.4 1144.1,245.7 1145.7,244.9 1147.3,245.1 1148.9,244.2 1150.5,244.1 1152.1,244 1153.7,243 1155.3,243 1156.9,242.7 1158.5,243.1 1160.1,242.2 1161.7,242.2 1163.3,242.5 1164.9,242.1 1166.5,242.7 1168.1,242.1 1169.7,242.5 1171.3,242.3 1172.9,242.3 1174.5,243.2 1176.1,242.8 1177.7,243.4 1179.3,243.1 1180.9,243.7 1182.5,243.6 1184.1,243.6 1185.7,244.7 1187.3,244.1 1188.9,245.3 1190.5,245.6 1192.1,245.6 1193.7,245.3 1195.3,246.4 1196.9,246.2 1198.5,246.5 1200.1,246.3 1201.7,246.3 1201.8,246.6 1201.8,252.7 1201.7,252.4 1200.1,252.9 1198.5,253 1196.9,253.4 1195.3,252.9 1193.7,253.1 1192.1,254 1190.5,253.6 1188.9,254.3 1187.3,254.6 1185.7,255.3 1184.1,254.7 1182.5,255.2 1180.9,255.9 1179.3,255.8 1177.7,256 1176.1,255.8 1174.5,256.8 1172.9,256.8 1171.3,256.6 1169.7,256.8 1168.1,256.1 1166.5,256.8 1164.9,256.6 1163.3,256.2 1161.7,256.1 1160.1,256.7 1158.5,256 1156.9,256.6 1155.3,256.3 1153.7,255.8 1152.1,255.1 1150.5,255.4 1148.9,254.6 1147.3,254.4 1145.7,254.2 1144.1,253.5 1142.5,253.9 1140.9,253.1 1139.3,252.8 1137.7,252.6 1136.1,252.7" fill="#28518f"/>
<polygon points="1239.8,277.1 1241.4,277.2 1243,276.5 1244.6,276.5 1246.2,275.9 1247.8,275.7 1249.4,275.3 1251,275.4 1252.6,275 1254.2,273.9 1255.8,273.4 1257.4,273.3 1259,272.8 1260.6,272.5 1262.2,272.8 1263.8,272.9 1265.4,272.3 1267,272.6 1268.6,272 1270.2,271.8 1271.8,272.4 1273.4,271.9 1275,272.3 1276.6,272.1 1278.2,271.9 1279.8,271.9 1281.4,272.7 1283,272.6 1284.6,273.1 1286.2,273.5 1287.8,272.8 1289.4,273.6 1291,273.4 1292.6,273.9 1294.2,274 1295.8,275.1 1297.4,275.3 1299,275.6 1300.6,275.8 1302.2,276.3 1303.8,276.3 1305.4,276.6 1307,276.7 1308.6,276.9 1310.2,276.5 1311.3,276.6 1311.3,282.5 1310.2,282.7 1308.6,282.8 1307,283.5 1305.4,283.6 1303.8,283.8 1302.2,284.3 1300.6,284.2 1299,284.7 1297.4,285.1 1295.8,285.2 1294.2,285.4 1292.6,286.4 1291,286 1289.4,286.8 1287.8,286.4 1286.2,287 1284.6,286.7 1283,287.3 1281.4,287.5 1279.8,287.3 1278.2,287.4 1276.6,287.8 1275,288.2 1273.4,287.8 1271.8,288 1270.2,287.7 1268.6,287.7 1267,287.6 1265.4,287.3 1263.8,287.9 1262.2,287.3 1260.6,286.8 1259,287 1257.4,287 1255.8,286.5 1254.2,285.8 1252.6,285.1 1251,285 1249.4,284.2 1247.8,284.5 1246.2,284 1244.6,283.4 1243,283.5 1241.4,283.3 1239.8,282.8" fill="#28518f"/>
<polygon points="1243.3,308 1244.9,307.2 1246.5,307.2 1248.1,307.1 1249.7,306.8 1251.3,305.4 1252.9,305.4 1254.5,305 1256.1,304.8 1257.7,303.9 1259.3,303.8 1260.9,303.8 1262.5,303.4 1264.1,303.6 1265.7,303.2 1267.3,303.6 1268.9,303.8 1270.5,303.4 1272.1,303.4 1273.7,303.2 1275.3,303.9 1276.9,304.1 1278.5,303.6 1280.1,304.4 1281.7,304.4 1283.3,304.9 1284.9,304.6 1286.5,305.3 1288.1,305.2 1289.7,305.4 1291.3,305.8 1292.9,306 1294.5,306.4 1296.1,306.6 1297.7,306.8 1299.3,306.8 1300.9,307.9 1302.5,307.6 1302.6,307.1 1302.6,313.8 1302.5,313.6 1300.9,313.6 1299.3,313.5 1297.7,314.1 1296.1,314.3 1294.5,314.3 1292.9,314.9 1291.3,315.2 1289.7,315.6 1288.1,315.4 1286.5,315.5 1284.9,315.9 1283.3,316.6 1281.7,317 1280.1,317.1 1278.5,317.1 1276.9,317.5 1275.3,316.8 1273.7,317 1272.1,317.4 1270.5,317.7 1268.9,317.4 1267.3,317.3 1265.7,317 1264.1,317.2 1262.5,317.6 1260.9,317.3 1259.3,316.5 1257.7,317.1 1256.1,316.8 1254.5,316.3 1252.9,315.5 1251.3,315.1 1249.7,314.6 1248.1,314 1246.5,313.6 1244.9,313.9 1243.3,313.5" fill="#28518f"/>
<polygon points="1226.9,338.3 1228.1,337.3 1229.3,337.3 1230.5,337.3 1231.7,336.9 1232.9,337.4 1234.1,337.1 1235.3,337.2 1236.5,337.5 1237.7,337.2 1238.9,337.2 1240.1,337.4 1241.3,336.7 1242.5,337.2 1243.7,336.7 1244.9,337 1246.1,335.1 1247.3,332.8 1248.5,333.3 1249.7,333.3 1250.9,332.7 1252.1,333 1253.3,333.2 1254.5,333.2 1255.7,332.8 1256.9,332.6 1258.1,333.2 1259.3,333.2 1260.5,332.9 1261.7,333.1 1262.9,332.9 1264.1,332.9 1265.3,332.9 1266.5,333 1267.7,332.6 1268.9,332.9 1270.1,333.3 1271.3,333.1 1272.5,333.2 1273.7,333.3 1274.9,332.6 1276.1,332.7 1277.3,332.8 1278.5,335.7 1279.7,336 1280.9,336.6 1282.1,336.8 1283.3,336.6 1284.5,336.2 1285.7,336.7 1286.9,336.5 1288.1,336.6 1289.3,336.3 1290.5,337.1 1291.7,336.4 1292.9,336.8 1294.1,336.7 1295.3,337.2 1296.5,337.3 1297.7,336.9 1298.9,336.8 1300.1,337.3 1301.3,336.8 1302.5,337.1 1303.7,337.6 1304.9,337 1306.1,337.7 1307.3,337.3 1308.5,337.7 1309.7,337.9 1310.9,338 1311.4,338.6 1311.4,343.6 1310.9,343.4 1309.7,344.1 1308.5,344.2 1307.3,344.6 1306.1,344.9 1304.9,344.9 1303.7,344.8 1302.5,344.5 1301.3,344.4 1300.1,344.5 1298.9,345 1297.7,344.7 1296.5,344.9 1295.3,344.7 1294.1,345 1292.9,345.2 1291.7,344.6 1290.5,344.8 1289.3,345.1 1288.1,345.3 1286.9,345.4 1285.7,345.3 1284.5,345.3 1283.3,345.3 1282.1,345.3 1280.9,345.1 1279.7,345.2 1278.5,346 1277.3,348.8 1276.1,349 1274.9,348.7 1273.7,349 1272.5,349.3 1271.3,348.8 1270.1,349 1268.9,349.2 1267.7,348.8 1266.5,349 1265.3,348.5 1264.1,348.7 1262.9,348.8 1261.7,348.6 1260.5,348.7 1259.3,348.9 1258.1,348.6 1256.9,349 1255.7,349.3 1254.5,349 1253.3,348.7 1252.1,349 1250.9,349.1 1249.7,349.1 1248.5,348.6 1247.3,349.3 1246.1,346.7 1244.9,345.1 1243.7,345 1242.5,344.7 1241.3,344.4 1240.1,344.9 1238.9,344.3 1237.7,345 1236.5,344.9 1235.3,344.3 1234.1,344.7 1232.9,344.5 1231.7,344.5 1230.5,344.7 1229.3,344.1 1228.1,344.5 1226.9,343.7" fill="#28518f"/>
<polygon points="1222.4,368.9 1223.6,368.3 1224.8,367.9 1226,367.5 1227.2,367.3 1228.4,367 1229.6,367.3 1230.8,366.6 1232,367.1 1233.2,366.5 1234.4,365.4 1235.6,364.5 1236.8,364.4 1238,364.1 1239.2,364 1240.4,364.1 1241.6,364.5 1242.8,364.6 1244,364 1245.2,364.2 1246.4,364 1247.6,364.7 1248.8,364.2 1250,364.5 1251.2,364.5 1252.4,364.5 1253.6,363.9 1254.8,363.9 1256,364.1 1257.2,364.1 1258.4,364.4 1259.6,364.4 1260.8,364 1262,364.1 1263.2,364.4 1264.4,363.9 1265.6,364.4 1266.8,363.8 1268,364.2 1269.2,364 1270.4,364.1 1271.6,363.8 1272.8,364 1274,364.2 1275.2,364.2 1276.4,364.4 1277.6,365.3 1278.8,365.2 1280,365 1281.2,365.8 1282.4,365.8 1283.6,366 1284.8,366.1 1286,366.7 1287.2,366.4 1288.4,366.9 1289.6,367 1290.8,366.9 1292,367.3 1293.2,367.8 1294.4,367.6 1295.6,367.5 1296.8,367.8 1298,367.4 1299.2,367.9 1300.4,367.9 1301.6,368.3 1302.8,368.5 1304,368.2 1305.2,368 1306.4,368.8 1307.4,368.8 1307.4,374.1 1306.4,374.1 1305.2,374.2 1304,374.4 1302.8,374.5 1301.6,375 1300.4,374.4 1299.2,374.5 1298,375 1296.8,374.9 1295.6,374.9 1294.4,375.3 1293.2,375.5 1292,375.5 1290.8,375.3 1289.6,375.8 1288.4,375.4 1287.2,375.7 1286,376.2 1284.8,376.6 1283.6,376.6 1282.4,376.9 1281.2,377 1280,377.4 1278.8,377.4 1277.6,377.6 1276.4,378.2 1275.2,378.2 1274,378.2 1272.8,378.7 1271.6,378.9 1270.4,378.6 1269.2,378.5 1268,378.6 1266.8,378.6 1265.6,378.6 1264.4,378.6 1263.2,378.3 1262,378.7 1260.8,378.2 1259.6,378.6 1258.4,378.8 1257.2,378.7 1256,378.7 1254.8,378.4 1253.6,378.6 1252.4,378.8 1251.2,378.1 1250,378.5 1248.8,378.5 1247.6,378.4 1246.4,378.5 1245.2,378.3 1244,378.8 1242.8,378.3 1241.6,378.3 1240.4,378.5 1239.2,378.5 1238,378.4 1236.8,378.3 1235.6,378.7 1234.4,377.7 1233.2,376.8 1232,375.8 1230.8,376 1229.6,376 1228.4,375.8 1227.2,375.3 1226,375.4 1224.8,375 1223.6,374.4 1222.4,373.9" fill="#28518f"/>
<polygon points="1126.3,399.3 1127.9,399.3 1129.5,398.8 1131.1,398.9 1132.7,398.6 1134.3,398 1135.9,397.9 1137.5,398.2 1139.1,397.3 1140.7,397.4 1142.3,396.7 1143.9,396.7 1145.5,396.3 1147.1,396.8 1148.7,396.6 1150.3,396.2 1151.9,395.5 1153.5,395.8 1155.1,395.4 1156.7,395.8 1158.3,395.9 1159.9,395.3 1161.5,395.4 1163.1,395.6 1164.7,395.2 1166.3,395.4 1167.9,395 1169.5,394.9 1171.1,395.1 1172.7,394.9 1174.3,395.1 1175.9,394.9 1177.5,395.1 1179.1,395 1180.7,395.8 1182.3,395.9 1183.9,395.7 1185.5,396 1187.1,396 1188.7,396.3 1190.3,395.8 1191.9,396 1193.5,396.7 1195.1,396 1196.7,396.5 1198.3,396.5 1199.9,396.6 1201.5,397.1 1203.1,397.4 1204.7,397.2 1206.3,397.7 1207.9,398.1 1209.5,397.6 1211.1,398.3 1212.7,398.2 1214.3,398.7 1215.9,398.8 1217.5,398.4 1219.1,398.8 1220.7,399 1222.3,398.9 1223.7,398.9 1223.7,404.2 1222.3,404.7 1220.7,404.7 1219.1,405.4 1217.5,405 1215.9,404.9 1214.3,405.5 1212.7,405.7 1211.1,406 1209.5,406 1207.9,405.9 1206.3,405.9 1204.7,405.8 1203.1,406.1 1201.5,406.4 1199.9,406.2 1198.3,406.8 1196.7,407.1 1195.1,406.8 1193.5,407.4 1191.9,407 1190.3,407.7 1188.7,407.3 1187.1,408 1185.5,407.5 1183.9,407.7 1182.3,407.9 1180.7,408.3 1179.1,408.1 1177.5,408 1175.9,408.4 1174.3,408.6 1172.7,408.1 1171.1,408 1169.5,407.8 1167.9,408.4 1166.3,408.4 1164.7,408.6 1163.1,408 1161.5,407.9 1159.9,408.5 1158.3,407.9 1156.7,408 1155.1,407.5 1153.5,408.1 1151.9,407.6 1150.3,407.5 1148.7,407.5 1147.1,407.5 1145.5,407.3 1143.9,406.9 1142.3,406.2 1140.7,405.9 1139.1,405.5 1137.5,405.9 1135.9,405.4 1134.3,405.7 1132.7,405.3 1131.1,405.2 1129.5,404.6 1127.9,404.5 1126.3,404.2" fill="#28518f"/>
<polygon points="1229.4,399.3 1230.6,398.7 1231.8,397.3 1233,397.1 1234.2,396.8 1235.4,396.3 1236.6,396.2 1237.8,395.8 1239,395.4 1240.2,395.6 1241.4,395.5 1242.6,395.5 1243.8,396.1 1245,395.5 1246.2,395.9 1247.4,396.1 1248.6,395.7 1249.8,396.1 1251,395.7 1252.2,395.7 1253.4,395.6 1254.6,395.4 1255.8,395.6 1257,395.8 1258.2,395.9 1259.4,395.7 1260.6,396 1261.8,396 1263,396.1 1264.2,395.7 1265.4,395.5 1266.6,395.6 1267.8,395.8 1269,395.6 1270.2,396 1271.4,395.8 1272.6,395.6 1273.8,395.6 1275,395.6 1276.2,395.5 1277.4,395.9 1278.6,396.1 1279.8,396.4 1281,397.6 1282.2,398.3 1283.4,398.5 1284.6,399.2 1285.4,399.2 1285.4,404.5 1284.6,404.2 1283.4,405.1 1282.2,405.7 1281,406.2 1279.8,407.2 1278.6,407.5 1277.4,407.6 1276.2,408.1 1275,407.9 1273.8,408 1272.6,407.7 1271.4,407.6 1270.2,408 1269,407.8 1267.8,408.1 1266.6,407.6 1265.4,407.7 1264.2,407.7 1263,407.8 1261.8,408 1260.6,407.5 1259.4,407.9 1258.2,407.7 1257,407.6 1255.8,407.7 1254.6,408.1 1253.4,408 1252.2,407.8 1251,407.6 1249.8,407.5 1248.6,407.5 1247.4,408 1246.2,407.6 1245,408.1 1243.8,408.1 1242.6,407.4 1241.4,407.7 1240.2,408.1 1239,407.8 1237.8,407.5 1236.6,407.7 1235.4,407.5 1234.2,406.9 1233,406.3 1231.8,406.4 1230.6,404.8 1229.4,404.3" fill="#e5262a"/>
<polygon points="1172.4,430 1173.6,429.3 1174.8,428.8 1176,428.6 1177.2,428.3 1178.4,428.4 1179.6,428.7 1180.8,427.9 1182,428.3 1183.2,428.1 1184.4,427.7 1185.6,428 1186.8,427.7 1188,422.1 1189.2,422.1 1190.4,422.4 1191.6,422.2 1192.8,422 1194,422.4 1195.2,422.6 1196.4,422 1197.6,422.2 1198.8,421.9 1200,421.9 1201.2,422 1202.4,422.4 1203.6,422.2 1204.8,422.6 1206,422.2 1207.2,422.6 1208.4,422.5 1209.6,422.2 1210.8,422.3 1212,422.4 1213.2,421.9 1214.4,422.6 1215.6,422.2 1216.8,422.3 1218,422 1219.2,422.3 1220.4,428 1221.6,428.6 1222.8,428.7 1224,428.8 1225.2,429 1226.4,429.7 1227.1,429.5 1227.1,434.6 1226.4,435.3 1225.2,435.1 1224,435.8 1222.8,435.9 1221.6,436.4 1220.4,436.9 1219.2,442.4 1218,442.3 1216.8,442.5 1215.6,441.9 1214.4,442.4 1213.2,442 1212,442.3 1210.8,442.5 1209.6,441.9 1208.4,441.9 1207.2,442.1 1206,442.6 1204.8,442.6 1203.6,442.1 1202.4,442.5 1201.2,442.3 1200,442.5 1198.8,442.3 1197.6,442.5 1196.4,442.3 1195.2,442.5 1194,442.2 1192.8,442.6 1191.6,442.5 1190.4,442.1 1189.2,442.4 1188,442 1186.8,436.6 1185.6,437 1184.4,436.2 1183.2,436.2 1182,436.1 1180.8,436.3 1179.6,436.5 1178.4,435.7 1177.2,436.1 1176,436 1174.8,435.8 1173.6,435 1172.4,434.4" fill="#28518f"/>
<polygon points="1172.4,460.5 1173.6,460 1174.8,458.6 1176,458.5 1177.2,458.7 1178.4,458.7 1179.6,458.3 1180.8,458.5 1182,458.1 1183.2,458.3 1184.4,457.8 1185.6,457.6 1186.8,457.9 1188,452.8 1189.2,452.5 1190.4,452.2 1191.6,452.2 1192.8,452.7 1194,452.3 1195.2,452.4 1196.4,452.1 1197.6,452.2 1198.8,452 1200,452 1201.2,452 1202.4,452 1203.6,452.1 1204.8,452.2 1206,452.2 1207.2,452.1 1208.4,452.4 1209.6,452.3 1210.8,452.4 1212,452.3 1213.2,452.1 1214.4,452.1 1215.6,452.3 1216.8,452.5 1218,452.4 1219.2,452.6 1220.4,458.1 1221.6,459 1222.8,459.5 1224,459.2 1225.2,460.2 1225.9,460.1 1225.9,465.4 1225.2,465.1 1224,465.8 1222.8,466.3 1221.6,467 1220.4,466.8 1219.2,472.7 1218,472.9 1216.8,472.8 1215.6,473 1214.4,473.1 1213.2,472.9 1212,473.1 1210.8,473.2 1209.6,472.9 1208.4,472.6 1207.2,472.6 1206,473.2 1204.8,473.3 1203.6,472.7 1202.4,473.1 1201.2,472.7 1200,473 1198.8,473 1197.6,473.2 1196.4,472.7 1195.2,473.4 1194,473.2 1192.8,473.3 1191.6,472.8 1190.4,472.8 1189.2,472.7 1188,472.8 1186.8,467.5 1185.6,467.4 1184.4,467.5 1183.2,467.8 1182,467.5 1180.8,467 1179.6,466.7 1178.4,467.2 1177.2,466.5 1176,466.8 1174.8,466.8 1173.6,466 1172.4,465.4" fill="#28518f"/>
<polygon points="1229.4,490.4 1230.6,489.1 1231.8,487.3 1233,484.4 1234.2,483.9 1235.4,483.6 1236.6,484 1237.8,483.4 1239,483.7 1240.2,483.6 1241.4,483.6 1242.6,483.3 1243.8,484 1245,483.4 1246.2,483.3 1247.4,483.4 1248.6,483.4 1249.8,483.5 1251,483.8 1252.2,483.6 1253.4,483.9 1254.6,483.3 1255.8,483.6 1257,483.3 1258.2,483.3 1259.4,483.8 1260.6,483.4 1261.8,483.8 1263,483.3 1264.2,487.7 1265.4,487.8 1266.6,488.1 1267.8,487.7 1269,488.2 1270.2,487.6 1271.4,487.6 1272.6,487.9 1273.8,488.1 1275,488.3 1276.2,488 1277.4,488.2 1278.6,488.4 1279.8,488.4 1281,489.8 1281.4,490.9 1281.4,495.9 1281,496.1 1279.8,497.6 1278.6,498.1 1277.4,497.9 1276.2,497.9 1275,498.2 1273.8,498.1 1272.6,498.7 1271.4,498.8 1270.2,498.5 1269,498.4 1267.8,498.2 1266.6,499 1265.4,498.6 1264.2,498.4 1263,502.8 1261.8,502.6 1260.6,502.3 1259.4,502.7 1258.2,502.8 1257,502.4 1255.8,502.3 1254.6,502.7 1253.4,502.6 1252.2,503 1251,502.5 1249.8,502.4 1248.6,502.6 1247.4,502.8 1246.2,502.8 1245,502.7 1243.8,502.9 1242.6,502.9 1241.4,503 1240.2,502.3 1239,502.5 1237.8,502.4 1236.6,503 1235.4,503 1234.2,502.6 1233,501.9 1231.8,498.4 1230.6,496.7 1229.4,495.4" fill="#28518f"/>
<polygon points="1242.4,521.4 1243.6,520.2 1244.8,519.5 1246,516.6 1247.2,516.1 1248.4,516 1249.6,516.4 1250.8,516 1252,515.8 1253.2,515.8 1254.4,516.4 1255.6,515.8 1256.8,515.8 1258,516.5 1259.2,516.2 1260.4,516.1 1261.6,516.4 1262.8,516.1 1264,516.6 1265.2,516.3 1266.4,516.1 1267.6,516.6 1268.8,516.1 1270,516.3 1271.2,516.1 1272.4,516.5 1273.6,516.1 1274.8,516.6 1276,515.8 1277.2,516 1278.4,516.2 1279.6,517.3 1280.8,519.7 1282,519.6 1283.2,519.7 1284.4,519.4 1285.6,519.9 1286.8,519.6 1288,520.1 1289.2,520.1 1290.4,519.9 1291.6,520.4 1292.8,520.5 1294,520.1 1295.2,521.4 1295.4,521.5 1295.4,526.3 1295.2,525.8 1294,526.9 1292.8,527.2 1291.6,527.4 1290.4,527.2 1289.2,527.1 1288,527.6 1286.8,527 1285.6,527 1284.4,527.5 1283.2,527.6 1282,527.9 1280.8,527.9 1279.6,530.2 1278.4,530.6 1277.2,531.3 1276,531 1274.8,530.8 1273.6,531.3 1272.4,530.6 1271.2,530.8 1270,531.3 1268.8,531.1 1267.6,531.3 1266.4,531.3 1265.2,530.9 1264,531.1 1262.8,530.7 1261.6,531 1260.4,530.7 1259.2,530.9 1258,530.7 1256.8,531.4 1255.6,531.1 1254.4,531 1253.2,530.7 1252,530.6 1250.8,531.1 1249.6,531 1248.4,531.1 1247.2,530.7 1246,530 1244.8,528.2 1243.6,526.7 1242.4,525.9" fill="#28518f"/>
<polygon points="1225.4,551.9 1226.6,550.6 1227.8,549.3 1229,546.7 1230.2,546 1231.4,545.8 1232.6,546.3 1233.8,545.7 1235,546.2 1236.2,545.8 1237.4,546 1238.6,545.7 1239.8,546.4 1241,546.1 1242.2,546.4 1243.4,545.8 1244.6,545.9 1245.8,546.3 1247,546.1 1248.2,545.9 1249.4,546.3 1250.6,545.9 1251.8,546.4 1253,546 1254.2,545.9 1255.4,545.7 1256.6,546 1257.8,545.7 1259,545.7 1260.2,546.3 1261.4,545.7 1262.6,546.2 1263.8,545.9 1265,548.3 1266.2,549.8 1267.4,549.5 1268.6,549.5 1269.8,549.5 1271,549.9 1272.2,550 1273.4,549.5 1274.6,549.9 1275.8,549.8 1277,550.2 1278.2,549.9 1279.4,550 1280.6,549.9 1281.8,549.8 1283,550.4 1284.2,550.2 1285.4,549.8 1286.6,550.6 1287.4,551.9 1287.4,556.8 1286.6,557 1285.4,557.8 1284.2,558.1 1283,557.7 1281.8,557.8 1280.6,558.4 1279.4,558.3 1278.2,557.9 1277,557.9 1275.8,557.9 1274.6,558.7 1273.4,558 1272.2,558.1 1271,558.5 1269.8,558.4 1268.6,558.1 1267.4,558.9 1266.2,558.9 1265,560.3 1263.8,561.8 1262.6,561.9 1261.4,562 1260.2,561.8 1259,562.3 1257.8,562.3 1256.6,562.1 1255.4,562.1 1254.2,561.9 1253,562.2 1251.8,561.7 1250.6,562.1 1249.4,562.2 1248.2,561.8 1247,561.8 1245.8,562.3 1244.6,562.2 1243.4,561.7 1242.2,562.4 1241,562 1239.8,562.1 1238.6,562 1237.4,561.7 1236.2,562.2 1235,562.1 1233.8,562 1232.6,561.8 1231.4,562.1 1230.2,562 1229,561.2 1227.8,558.5 1226.6,557.8 1225.4,556.7" fill="#28518f"/>
<polygon points="1178.4,581.6 1179.6,581.4 1180.8,581.2 1182,581.6 1183.2,581.5 1184.4,581.3 1185.6,581.1 1186.8,581.5 1188,578.4 1189.2,578.4 1190.4,578.3 1191.6,578.5 1192.8,578.4 1194,578.2 1195.2,578.4 1196.4,578.6 1197.6,578.3 1198.8,578.8 1200,578.9 1201.2,578.8 1202.4,570.4 1203.6,570.3 1204.8,570.6 1206,570.5 1207.2,569.8 1208.4,570 1209.6,570.6 1210.8,569.9 1212,570.1 1213.2,570.3 1214.4,570.6 1215.6,570.2 1216.8,570.1 1218,570.2 1219.2,570.1 1220.4,570.1 1221.6,580.1 1222.8,579.9 1224,579.7 1225.2,580.2 1226.4,580.2 1227.6,579.7 1228.8,580 1230,580.5 1230.9,582.3 1230.9,587 1230,588.8 1228.8,589.1 1227.6,589.2 1226.4,589.3 1225.2,589 1224,588.8 1222.8,589.2 1221.6,589.1 1220.4,598.8 1219.2,599 1218,598.7 1216.8,598.5 1215.6,598.4 1214.4,598.7 1213.2,598.6 1212,598.5 1210.8,598.5 1209.6,598.5 1208.4,598.8 1207.2,598.8 1206,599 1204.8,598.6 1203.6,598.9 1202.4,599.2 1201.2,590.6 1200,590.7 1198.8,590.1 1197.6,590.3 1196.4,590.6 1195.2,590.7 1194,590.6 1192.8,590.2 1191.6,590.6 1190.4,590.9 1189.2,590.6 1188,590.4 1186.8,588 1185.6,588 1184.4,588 1183.2,587.9 1182,587.9 1180.8,587.5 1179.6,586.9 1178.4,586.6" fill="#28518f"/>
<polygon points="1199.4,612.8 1200.6,609.7 1201.8,606.2 1203,606.7 1204.2,606.7 1205.4,606.7 1206.6,606.6 1207.8,606.7 1209,606.7 1210.2,606.5 1211.4,606.5 1212.6,606.4 1213.8,606.1 1215,606.5 1216.2,606 1217.4,601.3 1218.6,601.3 1219.8,601.3 1221,601.1 1222.2,601.4 1223.4,601.5 1224.6,601.7 1225.8,601.5 1227,601.5 1228.2,601.1 1229.4,601.5 1230.6,601.1 1231.8,601.6 1233,601.7 1234.2,610.6 1235.4,610.7 1236.6,610.9 1237.8,610.8 1239,611.4 1240.2,610.8 1241.4,611.5 1242.6,611.6 1243.8,611.5 1245,611.5 1246.2,611.7 1247.4,611.4 1248.6,611.4 1249.8,611.7 1250.4,612.7 1250.4,617.6 1249.8,618.2 1248.6,618.8 1247.4,618.7 1246.2,618.4 1245,618.4 1243.8,618.4 1242.6,618.6 1241.4,618.7 1240.2,619 1239,618.6 1237.8,618.7 1236.6,619 1235.4,618.8 1234.2,618.8 1233,628.9 1231.8,628.2 1230.6,628.4 1229.4,628.3 1228.2,628.6 1227,628.9 1225.8,628.8 1224.6,628.2 1223.4,628.8 1222.2,628.2 1221,628.5 1219.8,628.7 1218.6,628.9 1217.4,628.7 1216.2,623.8 1215,623.8 1213.8,623.9 1212.6,623.2 1211.4,623.8 1210.2,623.3 1209,623.5 1207.8,623.9 1206.6,623.3 1205.4,623.2 1204.2,623.8 1203,623.9 1201.8,623.3 1200.6,620.8 1199.4,617.8" fill="#28518f"/>
<path class="dR" d="M1375.3 218.3h0M1173.8 553.3h0M1167.1 551.5h0M1119.4 526.5h0M1186.2 525.3h0M1123.2 552.1h0M1142.8 523.1h0M1475.1 432.8h0M1147.8 553.3h0M1169.3 553.6h0M1167.2 552.8h0M1199.4 555.6h0M1143.8 521.7h0M1388.7 127.1h0M1434.9 433.5h0M1186.2 614.4h0M1305.1 403.1h0M1139.4 522.2h0M1192.3 523.3h0M1152.4 523.8h0M1389.8 432h0M1138.4 552.6h0M1387.1 220.1h0M1400.5 431.1h0M1193.2 523.5h0M1190.8 553.6h0M1381.2 127.3h0M1336.4 400.7h0M1442.7 432.9h0M1162.3 524.9h0M1337.4 432.4h0M1213.4 555.1h0M1161.8 554.6h0M1170.7 552.5h0M1443.5 584.2h0M1077.6 279.8h0M1178.6 520.8h0M1290.7 401h0M1339.5 402.7h0M1208.8 553.4h0M1350.9 400.3h0M1346.4 432h0M1370 433h0M1105.2 524h0M1420.6 433.5h0M1180.6 524.5h0M1024.3 280.4h0M1376 127.9h0M1110.6 522.6h0M1109.3 521.6h0M1137.5 556.8h0M1344.1 431.3h0M1138.3 523.7h0M1177.8 552.1h0M1120.5 526h0M1143.9 524.5h0M1062 311.3h0M1314.6 400.1h0M1468.7 584.5h0M1436.6 431.1h0M1267.5 614.8h0M1377.2 431.2h0M1069.3 370.6h0M1301.1 401.9h0M1091.9 340.6h0M1188.1 523.4h0M1073.7 342.1h0M1128.6 553.5h0M1234.8 523.1h0M1327.6 400.4h0M1293.6 402.6h0M1074.1 309.2h0M1127.2 522.6h0M1287.4 401.6h0M1217.1 554.4h0M1151.8 521h0M1200.1 553.7h0M1163.4 525.5h0M1193.5 524.1h0M1140.8 523.3h0M1130 522.5h0M1164.9 522.1h0M1061 370.2h0M1060.1 310.8h0M1141.6 552.2h0M1508.9 157.7h0M1078 372h0M1465.9 433.3h0M1190.5 555.3h0M1148.9 524.8h0M1376.1 432.2h0M1125.5 555h0M1239.5 614.6h0M1181 523.6h0M1471.5 432h0M1194.1 524.6h0M1030.1 279.1h0M1174.3 525.2h0M1135.3 524.6h0M1134 555.2h0M1206.9 552.1h0M1057.6 310.3h0M1350.1 432.2h0M1118.8 554h0M1157 521.4h0M1134.5 526.5h0M1373.8 401.5h0"/>
<path class="dB" d="M1252.5 552h0M1229.7 219.6h0M1238.4 309.5h0M1343.8 158.9h0M1209.6 615.1h0M1495.8 462.7h0M1192 615.5h0M1410.4 462.2h0M1246.6 97h0M1137 341.7h0M1379 157.4h0M1353 96.8h0M1278.2 554.7h0M1204.2 219.1h0M1174.7 127.8h0M1356.6 98.1h0M1341.7 158.3h0M1505.8 462.5h0M1218 219.6h0M1118.2 219.1h0M1230 310.5h0M1301.3 127h0M1058.9 281.2h0M1227.4 618.1h0M1336.9 462.7h0M1317 310.8h0M1096.2 188.6h0M1293.6 492.8h0M1242.4 310.4h0M1271.7 554.9h0M1429.4 462.4h0M1307.8 189.1h0M1249 583.7h0M1409.1 462.4h0M1222.5 617.7h0M1373.1 158.2h0M1271.2 552.2h0M1142 340.6h0M1457.9 248.9h0M1163.2 462.9h0M1280.1 583.9h0M1410.4 249.2h0M1231 97.6h0M1486.1 462.2h0M1332.8 159.3h0M1197 127.8h0M1279.4 554.5h0M1225.2 218.6h0M1340.9 126.7h0M1179.3 97.3h0M1411.6 462.3h0M1196.2 218.8h0M1131.9 279.7h0M1272.7 521.6h0M1168.2 280.1h0M1072.5 279.2h0M1351.2 218.5h0M1273.6 96.9h0M1270.8 127.6h0M1350 158.1h0M1063 97.1h0M1346.7 187.8h0M1207.5 618.7h0M1234.3 280.5h0M1272.3 555.7h0M1419.1 462.8h0M1286.5 524.8h0M1075.6 97.3h0M1044.4 280.7h0M1313.7 249.8h0M1273.4 584.8h0M1236.9 158.5h0M1283.5 249.8h0M1284.1 523.4h0M1097.8 279.9h0M1359.2 159.3h0M1228.5 611.9h0M1357.4 96.6h0M1374.9 218.6h0M1343.2 584.9h0M1239.4 158.3h0M1067.4 279.6h0M1130.2 249.5h0M1215.7 249.5h0M1264.3 549.7h0M1304.2 310.8h0M1233.2 550.4h0M1314.9 158.4h0"/>
<path class="dM" d="M1368.4 127.1h0M1214.8 555.3h0M1264 522.7h0M1453.7 188.6h0M1091.2 371.8h0M1236.2 404.1h0M1401.8 127.5h0M1132.8 310.8h0M1480 188.7h0M1477.7 431.4h0M1091.5 491.9h0M1124.4 553.6h0M1294.3 585.2h0M1102.2 310h0M1113.7 340.9h0M1076.7 339.9h0M1406.3 218.2h0M1282.5 401.9h0M1133.7 491.9h0M1066 309.4h0M1300.1 400.8h0M1164.3 521.8h0M1176.2 552.7h0M1334 432.5h0M1282.5 402.3h0M1296.3 583.9h0M1399.6 433.4h0M1050.2 311h0M1264.5 520.3h0M1318.3 584.3h0M1166.5 520.7h0M1386.2 433.3h0M1150.2 525.1h0M1417.6 433.3h0M1079.9 371.9h0M1208.6 523.2h0M1093.4 370.6h0M1260.7 403.2h0M1266.9 584.6h0M1127.1 554.8h0M1229.6 524h0M1258.4 403.1h0M1185.7 614h0M1345.9 403.2h0M1399.6 220h0M1105.4 280.9h0M1411.5 127.5h0M1136.2 523.5h0M1067.8 281.1h0M1106.9 522.1h0M1071.2 370.9h0M1123.6 521h0M1297.9 402.6h0M1084.3 341.9h0M1243 523.1h0M1201.4 524.4h0M1294.5 403.5h0M1051.7 340.5h0M1368.4 431.6h0M1396.2 433.2h0M1345.8 403.1h0M1289.4 585.2h0M1132.4 554h0M1405.7 188.2h0M1221.7 523.6h0M1321.3 402h0M1194.1 614.5h0M1286.9 584.1h0M1305.2 403.3h0M1082.8 493.8h0M1379.7 218.6h0M1258.8 400.3h0M1118.9 552.8h0M1306.8 401.1h0M1118.8 523.1h0"/>
<path class="db" d="M1245.2 525.5h0M1214.5 571.6h0M1240.4 616.2h0M1280 375.7h0M1197.4 588.1h0M1186.9 434.3h0M1210.7 471.4h0M1268.8 529.1h0M1238.5 339h0M1239.6 366.6h0M1234.9 548.5h0M1296 343.3h0M1279.5 343h0M1275.4 556.9h0M1241.3 484.9h0M1212.6 572.1h0M1212.7 440.1h0M1252.3 547.3h0M1256.7 518.3h0M1208.8 608.7h0M1248.2 334.8h0M1202.6 572.4h0M1234.9 616.8h0M1259.5 547.6h0M1242.6 548.3h0M1213.5 471.1h0M1232 373.7h0M1236.5 342.6h0M1278.7 556.8h0M1282.2 367.2h0M1198.9 453.9h0M1196.7 453.7h0M1180.7 583.2h0M1272.6 334.7h0M1238 617.3h0M1213 454.8h0M1204.6 571.7h0M1245.1 548.5h0M1277.7 490h0M1275.5 489.7h0M1232.1 368.1h0M1194.5 454.7h0M1294.5 343.5h0M1191.9 424.4h0M1240.2 547.5h0M1215.4 471.8h0M1266.8 552.1h0M1264.9 346.7h0M1243.7 343.1h0M1225.7 603.4h0M1263.5 518.2h0M1244.9 521.4h0M1250.1 529h0M1260.2 500.3h0M1251.6 529.2h0M1187.9 580.8h0M1271 556.7h0M1270.5 365.6h0M1220.7 460.7h0M1232.4 489.9h0M1273 551.5h0M1190.9 580.6h0M1290.8 524.8h0M1232.3 547.5h0M1251.1 376.4h0M1273.2 365.4h0M1303.4 342.3h0M1267.5 347.5h0M1301.3 372.7h0M1175.3 433.3h0M1208.3 424.3h0M1189.8 453.8h0M1218 440.5h0M1193.9 471.6h0M1182.3 466h0M1303.2 338.7h0"/>
<path class="dP" d="M1387.4 97.2h0M1423.5 249.3h0M1511.6 97h0M1305.5 128.8h0M1143.5 341.6h0M1263.1 403.4h0M1371.5 220.3h0M1311.2 220.1h0M1281.9 127.3h0M1386.1 249.6h0M1476.2 98.6h0M1100.6 372.2h0M1329 188.6h0M1034.8 493h0M1513.7 462.8h0M1487.2 96.4h0M1337 126.6h0M1238.3 401.9h0M1231.3 401.3h0M1014 492.7h0M1409.6 158.9h0M1210.7 370.2h0M1334.1 189.4h0M1346.3 187.7h0M1412.9 97.8h0M1364.3 96.9h0M1060.3 372.5h0M1185.5 310.6h0M1382.9 96.8h0M1090 340.1h0M1441.7 97.2h0M1324.8 220.1h0M1390.2 189.6h0M1047.1 340.8h0M1389 159.4h0M1083.5 311.4h0M1348.4 127.6h0M1089.6 341.7h0M1348.4 218.4h0M1080.8 341h0M1367.3 249.3h0M1381 248.4h0M1328.2 126.8h0M1257 404.8h0M1302.2 189.4h0M1209 372.4h0M1151.7 371.1h0M1362.4 250.7h0M1518 97.2h0M1222.1 554h0M1143.6 493.5h0M1138.3 493.3h0M1108.1 310.4h0M1364.9 189.6h0M1065.7 342.1h0M1381.8 159.4h0M1468.8 98.2h0M1270.3 553.4h0M1361.3 248.6h0M1268.9 585.3h0M1085.5 494.4h0M1060.3 311.6h0M1390.5 159.3h0M1157.7 493.1h0M1343.4 219h0M1357.2 128.5h0M1134.8 340.8h0M1217.1 372.3h0M1325.6 188.9h0M1373.4 187.5h0M1416.4 249.5h0M1393 219.9h0M1356.7 188.7h0M1481.4 462.8h0M1394.5 158.9h0M1336.6 583.9h0M1405.5 127.6h0M1336.5 188.9h0M1325.7 157.1h0M1101.2 370.2h0M1431.1 249h0M1416.8 97.4h0M1220.2 553.9h0M1165.6 342h0M1121.9 493h0M1445.7 248.7h0M1366 187.5h0M1209.7 310.6h0M1412.5 159.4h0M1498.5 96.9h0M1068.3 370.9h0M1378.3 157h0M1216.3 370.6h0M1044.1 371.5h0M1477.2 462.6h0M1335.5 219.3h0M1202.4 371.6h0M1374.5 249.8h0M1430.4 127.5h0M1362 157.2h0M1409.5 97.4h0M1087.8 494.3h0M1432.7 158.4h0M1204.6 493.6h0M1160.8 340h0M1379.2 249.1h0M1161.7 310.9h0M1323.4 218.9h0M1141.8 492.2h0M1513 462.9h0M1407.4 98h0M1123.6 310.7h0M1308.5 128.6h0M1374.2 127h0M1417.5 217.9h0M1354.9 127.7h0M1291.3 218.2h0M1391.3 218.9h0M1154.5 341.1h0M1140.6 492h0M1395.6 157.7h0M1339.6 157.7h0M1276.1 126.8h0M1075 492.9h0"/>
<path class="dr" d="M1250.4 405.9h0M1238.6 398.2h0M1272.2 397.9h0M1248 406.4h0M1282.6 402.8h0M1253.3 397.7h0M1244.1 405.3h0M1280 398.8h0M1274.5 397.5h0M1255.7 397.9h0"/>
<path class="dB" d="M1110.5 219.3h0M1251.3 557.4h0M1325.7 127.4h0M1235.4 310.6h0M1266.6 127.3h0M1294.6 584.9h0M1340.9 217.9h0M1232 625.3h0M1231.2 557.5h0M1234.6 127.5h0M1252.3 127.3h0M1367.5 98.6h0M1126.3 401.8h0M1069.2 127.5h0M1234.5 250h0M1499.8 463.1h0M1251.6 97.5h0M1451.5 250h0M1309.5 371h0M1479.4 98.4h0M1273.5 128.2h0M1407.5 463.3h0M1289 158.3h0M1458 462.9h0M1326 219.4h0M1090.3 189h0M1397.2 189.5h0M1316.2 340.7h0M1219.4 623.1h0M1079.8 279.7h0M1064.9 128.1h0M1327.8 462.6h0M1256.7 127.6h0M1422.1 462.5h0M1455.2 463.1h0M1292.3 157.9h0M1475.5 462.9h0M1301.4 249.5h0M1362.8 462.9h0M1206.1 219.3h0M1062.6 127.8h0M1348.2 128.2h0M1233.8 616.5h0M1329.4 249.8h0M1448.3 249.4h0M1351.7 158.4h0M1356.2 157.5h0M1262.8 558.5h0M1507.8 463h0M1256.9 249.6h0M1322.7 310.6h0M1180.9 280.4h0M1308.2 310.3h0M1402 157.8h0M1309.8 463h0M1360.5 219.9h0M1277.2 219.4h0M1299 157.8h0M1418.8 250.2h0M1383.2 462.4h0M1209.3 250h0M1312.4 188.6h0M1236.5 218.7h0M1220.6 310.7h0M1380.4 157.7h0M1103.2 188.6h0M1236.7 615.4h0M1300.2 220.3h0M1265.1 249.2h0M1298 188.2h0M1331.1 188h0M1219.3 309.4h0M1296.4 220.1h0M1215.8 620.4h0M1331.4 159.1h0M1201.8 249.6h0M1333.2 219h0M1242.5 613.9h0M1182.6 615.1h0M1220.7 606.8h0M1245.3 551.6h0M1248.3 614.2h0M1247.8 615.4h0M1249.2 558.1h0M1146.3 342.1h0M1233.6 548.6h0M1203 127.9h0M1355.9 462.4h0M1237.3 279.6h0M1375.7 249.5h0M1496.7 462.6h0M1169.5 341.4h0M1326.6 584.3h0M1318.9 462.9h0M1364 157.7h0M1239.4 553.1h0M1200 614.4h0M1315.2 462.9h0M1401.8 249h0M1205.2 609.3h0M1392.7 189.9h0M1262.6 249.5h0M1189.3 341.8h0M1075.6 127.8h0"/>
<path class="db" d="M1284.4 339h0M1284.3 342.9h0M1239.1 376.2h0M1237.1 366.1h0M1223.4 463.7h0M1280.8 555.9h0M1183.5 583.6h0M1228.7 581.8h0M1276.7 335.2h0M1286.8 338.4h0M1217.1 572.2h0M1222.3 434.5h0M1271.2 517.6h0M1262 548.3h0M1208.3 471.1h0M1232.2 560h0M1206.7 571.4h0M1237.9 548.5h0M1199.4 440.6h0M1282.6 375h0M1234.5 500.4h0M1257.8 346.6h0M1203.9 622.2h0M1256.1 334.6h0M1250 547.9h0M1225.4 433.1h0M1249.3 616.1h0M1262.9 334.4h0M1272.8 496.2h0M1256.4 377.1h0M1254 376.7h0M1241.2 343h0M1180.6 585.6h0M1228.2 603.7h0M1224.7 431.8h0M1254 528.5h0M1213.6 608.2h0M1237 376.5h0M1229.9 343h0M1246.4 501.1h0M1306.1 339.5h0M1279.9 337.8h0M1204 424.7h0M1213.8 423.9h0M1263.6 528.5h0M1277.3 496.4h0M1198 580.1h0M1257.4 529.2h0M1214.3 621.3h0M1202.4 596.4h0M1251.2 500.2h0M1241.4 376.2h0M1249.8 613.5h0M1253.1 500.4h0M1206.7 622.3h0M1229.2 369.6h0M1222.5 431.1h0M1234.6 339.4h0M1296.4 372.6h0M1204.2 608.6h0M1221.6 586.9h0M1234.8 612.7h0M1201.2 453.7h0M1248.9 501.1h0M1223.8 603.9h0M1263.2 484.9h0M1210.1 597h0M1243.5 376h0M1280.4 367.5h0"/>
<path class="dP" d="M1312.9 128.9h0M1410.9 218.6h0M1271.5 400h0M1346.1 219.4h0M1346.1 127.7h0M1222.8 310.3h0M1306.7 127.9h0M1331 158.9h0M1434.9 250.6h0M1379.9 97.2h0M1276.3 584.3h0M1333.7 159.5h0M1315.8 128.5h0M1348.6 188h0M1056.6 341.2h0M1174.2 339.6h0M1099.5 311.2h0M1230.9 311.1h0M1284.1 524.1h0M1384.5 218.8h0M1452.5 250h0M1078.2 309.2h0M1455 97.1h0M1387.8 217.9h0M1107.1 371.6h0M1142.2 371.3h0M1021.7 492.8h0M1512.4 462.8h0M1470.5 462.7h0M1143.8 309.6h0M1187.4 341.4h0M1494.5 463h0M1182.2 310.8h0M1013.8 279.3h0M1514.8 463h0M1038.4 310.3h0M1287.5 127.3h0M1347.8 157.1h0M1284.8 127.4h0M1039.8 493.1h0M1152.9 493.3h0M1047.4 371.3h0M1337.4 219.1h0M1404.9 219.3h0M1487.4 463.1h0M1345.3 218.2h0M1160.6 493.5h0M1113.2 309.5h0M1369.7 97.4h0M1376.3 96.3h0M1395.9 189.4h0M1359.7 219.9h0M1115.8 339.8h0M1376.6 159.5h0M1324.1 128.2h0M1281.4 127h0M1328.2 189.6h0M1168.5 340.3h0M1093.2 492.1h0M1350.5 157.3h0M1340.6 584.2h0M1338.9 188.1h0M1261.5 523.2h0M1209.5 370.1h0M1184 340.2h0M1055.4 278.9h0M1506.7 97.3h0M1365.3 249.9h0M1388.7 248.7h0M1135.6 371.6h0M1150.5 494.2h0M1087.8 309.4h0M1105.9 309.4h0M1076 371.2h0M1064.7 372h0M1217.5 554.5h0M1260.9 399.2h0M1373.9 157h0M1411.8 219.7h0M1057.7 339.9h0M1386.6 158h0M1405.7 97.9h0M1406.7 126.8h0M1253.8 551.2h0M1451.6 98h0M1424.2 217.9h0M1441.3 248.5h0M1081.5 309.2h0M1173.2 492.8h0M1135.1 340.8h0M1110.8 372.1h0M1337.2 584.1h0M1245.3 523.8h0M1323.6 585h0M1071.1 340.8h0M1106.8 310.8h0M1392.1 249.2h0M1426.8 158.3h0M1121.8 493.6h0M1116.6 494.2h0M1328 583.9h0M1378.8 97.4h0M1242.4 400.6h0M1101.9 341h0M1380.9 96.1h0M1236.4 401.5h0M1118.3 493.2h0M1469.8 97.3h0M1227.4 523.7h0M1415.6 249.2h0M1178.9 493.5h0M1079.1 279.3h0M1321.5 157.6h0M1234.6 399.7h0M1270.5 553h0M1416.5 96.4h0M1200.7 310h0M1068.4 309.9h0M1267.3 402.4h0M1182.1 339.9h0M1171.6 341h0M1360.3 157.6h0M1383 188.8h0M1290.2 219.1h0M1101.2 311.3h0M1344.1 189.1h0M1350.3 218.6h0"/>
<path class="dM" d="M1210.6 552.3h0M1256.8 399.9h0M1450.1 157.9h0M1154.5 556.8h0M1378.6 431.1h0M1330.1 431.4h0M1461.4 188.7h0M1143.5 522h0M1250.7 404.1h0M1133.3 492.3h0M1060 339.7h0M1287.4 523.8h0M1100.1 280.4h0M1136.6 521.7h0M1236.5 403.8h0M1272.2 518.9h0M1065 370.8h0M1439.1 188.3h0M1362.8 431.2h0M1445 432.1h0M1319.5 584.1h0M1193.2 523.6h0M1072.2 370.7h0M1308.2 400.5h0M1397.6 220.4h0M1438.4 431.9h0M1060.6 280.7h0M1411.7 431.1h0M1158.3 311.7h0M1272.1 403.7h0M1156.3 492h0M1422.2 220.2h0M1130.1 494.2h0M1109.2 280.3h0M1072 311.3h0M1289.4 400.3h0M1150.2 520.8h0M1120.2 492.1h0M1314.5 584.4h0M1174.4 552.4h0M1190 525.9h0M1270.1 522h0M1038.2 280.9h0M1059 493.5h0M1400.2 188.2h0M1195.4 521.3h0M1280.6 401.9h0M1413.5 432h0M1302.7 585.1h0M1091.8 371.6h0M1155.7 311.4h0M1332.7 584h0M1209.7 553.8h0M1215.2 552.7h0M1253.1 405h0M1419.3 127.7h0M1330.7 584.8h0M1139.6 556.8h0M1128.7 556.2h0M1307.2 400.9h0M1474.2 431.1h0M1321 585h0M1038.6 280.6h0M1079 371.2h0M1121.4 522.9h0M1324 401.8h0M1086.5 341.6h0M1115.5 311.4h0M1145.5 493.8h0M1425.4 128.6h0M1112.1 340.7h0M1303.5 402.4h0M1090.8 281.2h0M1439.4 431.1h0"/>
<path class="dR" d="M1233.6 522.9h0M1022.9 341.2h0M1339.7 402.3h0M1086.9 371.9h0M1124.4 521.5h0M1304 402.5h0M1140.7 523.5h0M1129.6 525.4h0M1332.4 403.5h0M1358.8 431.1h0M1189.5 525.5h0M1168 553h0M1379.3 128.4h0M1130 552.4h0M1107.7 521.6h0M1355.8 431.9h0M1375 126.9h0M1082.9 340.1h0M1019.2 341h0M1138.1 521.5h0M1401 220.3h0M1208.5 553.5h0M1147.1 522.9h0M1421.3 431h0M1115.6 526.4h0M1132.7 555.3h0M1341.4 402.4h0M1163.6 553.1h0M1061 340.7h0M1100.3 524h0M1148.8 525h0M1425.7 431.7h0M1374.7 432.1h0M1421.8 127.8h0M1175.2 521.2h0M1115.2 553.1h0M1053.5 340.6h0M1131.1 554.8h0M1056.8 310.1h0M1132.8 522.7h0M1183.3 524.6h0M1135.2 556.7h0M1158.7 554.3h0M1295.9 403.2h0M1130.5 553.3h0M1169.5 522.3h0M1202.3 556h0M1170.9 524h0M1195.3 555.7h0M1536.2 585h0M1200.9 552.7h0M1147.8 521.9h0M1193.7 554.9h0M1095 309.6h0M1146.3 555.7h0M1150.3 554.3h0M1214.5 555h0M1361.4 433.4h0M1461.1 127.3h0M1112.9 553.1h0M1131.2 553.5h0M1470.1 432.6h0M1323 402.4h0M1152.2 522.6h0M1109.4 553.6h0M1220 617.2h0M1107.7 342.1h0M1077.8 339.9h0M1004.5 340.6h0M1228 524.5h0M1279.7 432.2h0M1143 553.5h0M1045.3 311.5h0M1138.8 553h0M1167.5 525.1h0M1092.6 280.8h0M1468.5 158.4h0M1134.1 556.7h0M1106.4 554.4h0M1385.4 219.3h0M1177.6 523.5h0M1050 371.7h0M1151.3 553h0M1124.3 522.3h0M1115.5 524.3h0M1292 401.5h0M1291.1 402.5h0M1205.9 552.5h0M1424.6 432.9h0M1394.5 128.3h0M1096.6 340.2h0M1382 126.8h0M1195.8 523.1h0M1176.8 521.9h0M1346.2 400.9h0M1347.5 432.9h0M1033.6 280.9h0M1140.2 521.6h0M1120.5 553.9h0M1131 553.6h0M1085.2 280.9h0"/>
<path class="dr" d="M1282.2 399.6h0M1246.7 406.2h0M1246.7 397.7h0M1239.4 406.1h0M1241.4 398.2h0"/>
<path class="dM" d="M1217.8 554.4h0M1298.2 584.9h0M1143.5 556.7h0M1402.3 129h0M1275.1 584.6h0M1118.9 310.3h0M1224.6 554.3h0M1094.2 493.5h0M1283.5 523.9h0M1263.8 585h0M1023.7 278.8h0M1212.5 555.2h0M1352.3 433.3h0M1067.9 341.5h0M1131.7 309.8h0M1165.1 520.7h0M1342.3 585.1h0M1458.5 432.2h0M1280.4 523h0M1393.9 432.2h0M1102.1 494.3h0M1072.5 341.9h0M1249.7 522h0M1313.6 584.9h0M1111.8 493h0M1223.5 553.7h0M1089.2 372.5h0M1086.5 279.1h0M1052.1 311.2h0M1062.8 492h0M1148.6 493.1h0M1389.5 128.8h0M1074.6 311.1h0M1042.7 279.9h0M1100 492.5h0M1248.4 404.2h0M1133.2 552h0M1389 219.9h0M1218.8 553.6h0M1021.2 279.2h0M1251.9 403.6h0M1095.1 281.2h0M1319.5 401.3h0M1133.2 525.2h0M1055.6 310.3h0M1086.8 492.1h0M1135.2 309.7h0M1359.9 432.6h0M1127.2 493.8h0M1113 555.9h0M1245.8 521.8h0M1175.4 522.6h0M1338.4 431.3h0M1269.6 585.3h0M1253.5 401.3h0M1447 188.3h0M1422.7 433.3h0M1125.5 311.2h0M1150.8 553.4h0M1467.6 432.8h0M1050.7 341.4h0M1251.5 585.2h0M1167.6 523.6h0M1333.7 585.3h0M1131.8 492.2h0M1316.3 584.2h0M1062.9 370.1h0M1139.8 523.3h0M1356.1 400.6h0M1464.1 188.4h0M1010.2 279.8h0M1381.1 219.3h0M1182.5 521.2h0M1413 219.9h0M1049.3 339.8h0M1465.2 433h0"/>
<path class="dB" d="M1215.4 280.3h0M1427 462.2h0M1393.5 189h0M1259.9 520.3h0M1423.5 463.3h0M1462.7 249.1h0M1318.9 158.6h0M1302.6 310.4h0M1395.1 96.6h0M1178.7 584.3h0M1319.6 189.7h0M1227.4 310.5h0M1464.5 462.8h0M1356.1 218.4h0M1200.6 188.7h0M1153.9 432.6h0M1369.5 248.6h0M1460.6 249.7h0M1342.3 217.9h0M1313 310.3h0M1365.8 157.1h0M1245.6 526.8h0M1117.3 218.7h0M1327.9 157.4h0M1342.1 249.8h0M1223 250h0M1174.2 279.7h0M1221.4 219.1h0M1309.9 584.8h0M1170.9 279.6h0M1213.2 219.4h0M1260.8 559.4h0M1433.7 463.2h0M1449.4 463.2h0M1478.2 463.2h0M1228.9 309.8h0M1474.5 462.9h0M1274.9 584.7h0M1340.2 279.6h0M1372.8 96.7h0M1291 493.3h0M1306.3 189.1h0M1421.5 96.9h0M1233.1 218.9h0M1313.2 157.9h0M1168.4 462.5h0M1126.3 341.5h0M1366.5 462.9h0M1448.9 98.5h0M1431.1 97.1h0M1447.1 96.7h0M1341.8 188.8h0M1377 98.2h0M1119.4 340.2h0M1253.6 219.6h0M1375.7 98.1h0M1371.3 187.9h0M1385.5 188.7h0M1368.4 97.6h0M1333.6 462.5h0M1255.9 97.3h0M1271.7 584h0M1440.2 97.6h0M1114.8 249.1h0M1437 463.1h0M1409 248.9h0M1498.6 462.6h0M1401.5 96.8h0M1413.5 462.7h0M1402.7 98.4h0M1362.3 127.2h0M1430.4 98.5h0M1213.3 340.4h0M1296 249.6h0M1321.9 249.6h0M1366.2 219.4h0M1428.8 97.9h0M1412.1 462.2h0M1207.4 310.1h0M1117.1 341.6h0M1426.8 462.3h0M1344 249.6h0M1317 249.8h0M1118.2 249.7h0M1267.9 97.5h0M1464.7 462.3h0M1392 189.6h0M1247.4 614.1h0M1349.9 462.4h0M1492.6 462.1h0M1454.2 250.4h0M1263.2 584.6h0M1272.3 521.2h0M1261.3 97h0M1054.3 280.7h0M1128.8 280.5h0M1504 463.1h0M1239.8 280h0M1425.8 250.8h0M1299 219.3h0"/>
<path class="dP" d="M1334.1 218h0M1292.5 188.1h0M1362.1 219.2h0M1353.3 158.2h0M1211.9 371.5h0M1475.1 97.9h0M1312.8 188.2h0M1324.8 585.2h0M1113.9 371.7h0M1084.3 280h0M1150.4 311.3h0M1426.9 126.6h0M1312.9 128h0M1276.7 404h0M1383.9 250.3h0M1278.2 128.3h0M1289.2 219.5h0M1358.6 219.8h0M1299.7 189.6h0M1303 126.5h0M1067.8 372.1h0M1398.4 158.7h0M1334.9 188.4h0M1297.8 218.2h0M1366.9 157.2h0M1326.8 128.7h0M1339 219.5h0M1461.4 97.8h0M1307.2 493.6h0M1385.2 96.6h0M1436.5 96.1h0M1286.2 126.5h0M1464.3 96.9h0M1459.7 97.3h0M1157.4 371.1h0M1128.3 371.5h0M1094.9 341.9h0M1097.8 372.6h0M1123.3 341.5h0M1396.8 97.9h0M1453.7 98.1h0M1364.5 218.7h0M1142.2 310.8h0M1320.2 158h0M1407.8 157.5h0M1423.1 96.7h0M1286 218.5h0M1393.5 249h0M1145.1 339.8h0M1296.3 126.8h0M1099.7 340.5h0M1371.4 96.8h0M1157.8 340.7h0M1252.5 399.9h0M1035 280.8h0M1498 188.5h0M1387 128.9h0M1255.5 550.1h0M1146.6 492.9h0M1398.5 127h0M1220.3 370.9h0M1113.6 279h0M1403.7 248.9h0M1320.5 188h0M1242.9 523.6h0M1378.5 219.3h0M1061.2 494.1h0M1280.5 555.7h0M1295.4 188.3h0M1382.6 158.7h0M1323.7 159h0M1304.2 584h0M1376.4 158.5h0M1167.5 340.6h0M1411.1 157.9h0M1361 127.2h0M1219 371.9h0M1097.6 492.8h0M1440 249.2h0M1374 217.8h0M1472.6 96.5h0M1234.5 310.2h0M1322.6 127.4h0M1214.6 371.5h0M1032.1 280.9h0M1310.6 583.8h0M1392.1 158.4h0M1334.9 157.9h0M1243.1 523.3h0M1236 524h0M1225.7 554.1h0M1105.6 494h0M1138.6 493.3h0M1320 127.6h0M1291.8 189.1h0M1427.1 248.6h0M1041 280.3h0M1383.9 158.1h0M1433.4 96.1h0M1079.1 492.2h0M1321.8 188.5h0M1135 494h0M1447.6 96.5h0M1370.1 127.3h0M1322.2 583.9h0M1338.8 157h0M1056.1 370.8h0M1189.1 493.6h0M1137.4 309.9h0M1230.7 556.7h0M1088.5 280h0M1318.4 220.1h0M1075.6 280.4h0"/>
<path class="dR" d="M1178.6 521.3h0M1342.2 400.1h0M1160.7 553.5h0M1147.3 555.1h0M1303.4 401.9h0M1144.1 520.9h0M1137.1 551.3h0M1187.9 613.9h0M1307.5 403.4h0M1326.2 403.3h0M1116.8 552.5h0M1172.9 521.5h0M1234.7 616.2h0M1408.1 433h0M1048.6 371.9h0M1173.9 524.5h0M1108.6 521.4h0M1180.6 521.7h0M1318.3 400.9h0M1453.4 432.8h0M1329.6 431.9h0M1171.8 526.4h0M1192.3 526.2h0M1396.5 220.3h0M1085.8 370.5h0M1157.9 555.3h0M1366.1 431.6h0M1197.3 524.2h0M1137.7 311.3h0M1224.5 523.6h0M1140.6 521.8h0M1027.9 279.7h0M1499.5 584.5h0M1147.3 556.8h0M1160.9 525h0M1215.7 553.7h0M1138.6 520.9h0M1164.8 524.7h0M1148.8 309.3h0M1321.4 402.1h0M1309.5 403.5h0M1161.5 526.5h0M1399.6 127.9h0M1157.5 524.3h0M1388.7 432.8h0M1093.9 309.4h0M1452.2 431.5h0M1181.9 554.4h0M1333.9 402.7h0M1186.9 552.5h0M1172.9 521.5h0M1112 525.6h0M1063.3 309.6h0M1327.8 400.7h0M1387.5 432.6h0M1169.4 551.4h0M1126.1 521.7h0M1314 403h0M1181.9 553.8h0M1463.6 432.5h0M1141 552.6h0M1107.1 524.1h0M1195.9 526.3h0M1163.5 552.7h0M1178.6 525.6h0M1115.2 341.5h0M1455.1 433.1h0M1155 522.5h0M1130 552.4h0M1158 551.9h0M1106 341.2h0M1158.5 524.6h0M1156.6 309.2h0M1292.8 403h0M1310.9 400.5h0M1116.1 521.5h0M1310.4 402.1h0M1288.9 401.1h0M1154.8 524h0M1125.2 553.2h0M1333 403.1h0M1128.1 526.5h0M1173.6 552.7h0M1121.5 556.8h0M1137.7 556.2h0M1318.1 402.9h0M1144.5 555.6h0M1147 551.3h0M1354.3 433.2h0M1231.3 524.2h0M1372.3 431.5h0M1212.3 552.4h0M1142.6 523.7h0M1183.1 554h0M1113.1 553.2h0M1440.6 431.8h0M1324.9 402.1h0M1163.9 522.1h0M1190.1 614.2h0M1532 462.5h0M1357.9 432.8h0M1211.6 523.5h0M1162.7 525.8h0M1420.7 128.6h0M1169.1 522.7h0"/>
<path class="dr" d="M1267.7 398.3h0M1276.9 397.6h0M1265 406h0M1260.7 398h0"/>
<path class="db" d="M1246 345h0M1222.6 461.5h0M1282.8 551.5h0M1228.9 587.7h0M1258.6 560.8h0M1196.4 424.3h0M1308.1 338.6h0M1260.4 366.2h0M1270.3 347.2h0M1301.7 370h0M1201.4 621.9h0M1189.5 424.6h0M1248.7 366.2h0M1279.9 491h0M1282.1 338.3h0M1267.5 366.6h0M1263.4 500.4h0M1243 613.2h0M1229.4 374h0M1288.5 521.8h0M1218.4 424.6h0M1272.6 377.2h0M1183 585.7h0M1282.6 521.7h0M1189.2 440.7h0M1274.8 347.4h0M1253.5 346.7h0M1199.3 423.9h0M1200.8 471.4h0M1238.6 484.9h0M1277.7 347.3h0M1274.1 518.1h0M1285.4 551.6h0M1261.1 376.3h0M1217 596.5h0M1286.9 369.3h0M1270.5 496.2h0M1215 454.6h0M1244 339.4h0M1208.2 454h0M1273 556.8h0M1289.4 373.9h0M1237 501.2h0M1265.2 334.7h0M1218.3 603.2h0M1246.2 366.3h0M1252.4 560.8h0M1204.2 440.7h0M1230.7 547.6h0M1301.7 342.4h0M1255.2 500.5h0M1234.4 367.7h0M1285.1 524.9h0M1244.5 366.7h0M1290.6 521.9h0M1266.5 529.2h0M1226.4 581.9h0M1191.3 440.7h0M1237.3 613h0M1240.4 560.6h0M1201.4 441.1h0M1299.4 342.8h0M1188.1 588.4h0M1292.5 521.5h0M1184.7 460.4h0M1216.6 608.3h0M1206.6 607.6h0M1238.6 500.8h0M1206 423.7h0M1224.5 587.2h0M1186.8 429.5h0M1223.6 627.3h0M1225.9 626.2h0M1254.1 518.2h0M1245.1 560.4h0M1220.4 464.7h0M1259.4 528.7h0M1229 338.9h0M1249.2 517.7h0M1181.9 459.6h0M1194.7 588.4h0M1200.5 580.2h0"/>
<path class="dR" d="M1281.2 614.7h0M1170.9 521.8h0M1113.5 551.8h0M1205.4 555.6h0M1124.3 554.5h0M1190.6 526h0M1245.2 432.6h0M1117.6 524.5h0M1040.6 280.5h0M1123 553.5h0M1115.9 551.7h0M1397.5 432.3h0M1128.9 525.6h0M1394.5 218.4h0M1323.2 401.1h0M1184.2 522h0M1188.6 552.5h0M1148.7 551.9h0M1433.2 431.9h0M1134.2 556.2h0M1176.6 555.3h0M1156 524.9h0M1174.3 523.3h0M1131.4 524.2h0M1172.3 552.9h0M1155.1 553.1h0M1345 432.7h0M1135.7 521.1h0M1203.4 555.5h0M1142 521.1h0M1476.7 431.4h0M1193.3 615.4h0M1152.8 552.8h0M1378.9 217.9h0M1330.8 401.6h0M1140.2 551.6h0M1198.2 554.3h0M1514.1 584.3h0M1108.6 279.3h0M1174.9 554.5h0M1351.6 401.3h0M1452 127.7h0M1144.8 552h0M1367.8 432.2h0M1177.2 525.1h0M1217 524.2h0M1456.5 432h0M1229 608.9h0M1193.2 555.5h0M1182.1 525.4h0M1204.8 523.2h0M1141.2 553.7h0M1184.7 555.2h0M1181 552.8h0M1218.6 523.6h0M1114.9 523h0M1109.8 521.7h0M1209.7 553.2h0M1155.7 524.6h0M1111.9 523.1h0M1299.8 401.1h0M1147.5 521.3h0M1192 555.9h0M1276.1 615h0M1445.6 158.4h0M1121.1 554.3h0M1158.2 555.5h0M1242.6 614.2h0M1207.4 556h0M1112.8 526h0M1144.5 553.5h0M1148.7 524.4h0M1117.6 521.8h0M1071.2 279.9h0M1159.7 525.6h0M1158.8 551.4h0M1122.1 523.1h0M1156.5 554.2h0M1112 525.3h0M1333.3 400.6h0M1087.8 339.7h0M1367.4 401.8h0M1365.8 615.4h0M1029.2 279.4h0M1149.4 551.6h0M1533.2 462.5h0M1380 431h0M1127.5 525.7h0M1119.9 552.2h0M1340 432.4h0M1184.2 521h0M1427.5 431.8h0M1459.4 158.2h0M1383.2 431h0M1137.3 552.7h0M1425.9 127.9h0M1347.6 400.5h0M1439.7 219.1h0M1137 555.1h0M1160.3 522.7h0M1336 431.7h0M1237.7 522.9h0M1122.5 552.4h0M1031.8 340.9h0M1400.3 218.7h0M1214.7 523.3h0M1322.7 431.4h0M1175 520.7h0M1231.8 524.2h0M1172 525.1h0M1130.9 525.4h0M1139.2 552.2h0M1142.1 556.8h0M1132 554.6h0"/>
<path class="dP" d="M1218.2 309.3h0M1357.7 188.5h0M1501.6 462.7h0M1140.9 341.6h0M1396.7 250.5h0M1152 309.7h0M1400.1 96.5h0M1517.6 462.5h0M1300 584.5h0M1162.8 341.6h0M1407.1 249.1h0M1473.7 97.1h0M1184 371.5h0M1071 493h0M1321.2 187.4h0M1322.4 219.4h0M1338.6 584.5h0M1310.2 157.5h0M1369.8 159.2h0M1317.9 158.3h0M1259.6 584.8h0M1442.6 248.7h0M1377.6 188.4h0M1089.8 280h0M1267.7 555.5h0M1329.2 218.1h0M1155.1 491.9h0M1118.7 492.7h0M1419 98.4h0M1306.7 584.9h0M1130.6 341.2h0M1438.2 96.7h0M1301.9 219.9h0M1337.6 188.3h0M1320.9 218.3h0M1102.5 494h0M1223.5 309.2h0M1477.5 96.1h0M1044.2 311.5h0M1243.6 523.6h0M1429.7 248.4h0M1032.2 310.9h0M1030.2 371.7h0M1166.2 310.9h0M1402.3 219.8h0M1049.9 493.6h0M1356.2 189.5h0M1425.3 98h0M1165.2 493.2h0M1123.6 494h0M1447.1 249.7h0M1412.7 128.2h0M1054.4 371.7h0M1295.7 126.9h0M1389.5 248.8h0M1427.1 96.8h0M1072.7 493.5h0M1407.9 128.5h0M1104.3 370.3h0M1299.3 128.3h0M1432.6 249.1h0M1257.6 405h0M1354.7 189.7h0M1414.9 248.9h0M1292 128.7h0M1110.8 492.3h0M1248.3 520.6h0M1122 371.4h0M1194.5 371.8h0M1236.2 553.2h0M1310 126.5h0M1360.8 98h0M1493.5 463h0M1132.7 341.7h0M1256.5 400.8h0M1399.1 248.5h0M1366.9 96.3h0M1141.3 311.1h0M1099.6 492.1h0M1294.1 127.2h0M1345.4 158.4h0M1374.8 189.8h0M1118.3 340.6h0M1411.6 98.1h0M1257.4 549h0M1284.3 523.3h0M1108.5 493.1h0M1151.9 341.2h0M1319.5 218.7h0M1381.9 249h0M1457.4 249h0M1137 493.9h0M1216.3 493.2h0M1170.8 310.6h0M1239.7 523.5h0M1483.5 96.4h0M1410.5 97h0M1172.9 341.4h0M1276.5 552.6h0M1301.2 188.6h0M1120.1 341h0M1277.5 585.1h0M1045.5 279.2h0M1252.6 552.2h0M1420.7 249h0M1246.3 519.9h0M1369 189.6h0M1482.1 462.9h0M1394.8 98.1h0M1278.1 520.4h0M1314.6 220.1h0M1331.9 217.9h0"/>
<path class="dM" d="M1060 494h0M1344.4 401.7h0M1120.7 371.7h0M1405.4 431.2h0M1112.5 280.7h0M1356.8 400.5h0M1177.8 523.2h0M1271.3 400.4h0M1403.8 218h0M1121.2 554.5h0M1420.6 218.4h0M1404.2 432.8h0M1109.5 311.6h0M1259 528h0M1123 311.5h0M1172.7 555.8h0M1261.5 403.9h0M1104 341.2h0M1183.6 522.9h0M1067.4 493.8h0M1100.6 340.1h0M1119 281.2h0M1170.4 556.2h0M1135.2 551.7h0M1301.8 583.9h0M1118.3 371.2h0M1113.9 525.4h0M1031.4 278.9h0M1043.2 339.7h0M1334.4 403h0M1423.6 127.9h0M1153.7 492.6h0M1079.8 340.7h0M1203.7 524.3h0M1103.3 279.7h0M1149.1 556.8h0M1493.2 189h0M1072.8 310h0M1199.9 615.6h0M1266.3 401.2h0M1255.4 584.5h0M1229.4 401.8h0M1113.5 492h0M1117.8 309.5h0M1162.3 525.1h0M1363.3 127.1h0M1115.8 370.7h0M1098.9 370.2h0M1110.3 522.2h0M1329.4 402.6h0M1114.4 310.8h0M1160.4 553.5h0M1151.1 552.3h0M1105.4 372.6h0M1120.7 310.2h0M1454.2 158.1h0M1114.7 521.9h0M1110.6 309.6h0M1109.1 492.7h0M1110.2 370.9h0M1198.3 555.3h0M1056.6 279.1h0M1091.1 310.1h0M1469.3 433.5h0M1225.8 523.8h0M1120.1 525.2h0M1022.1 279.1h0M1409.6 431.9h0M1049.7 279.5h0M1414 188.3h0M1026.1 280.6h0M1120.5 521.1h0M1330.9 401.4h0"/>
<path class="dB" d="M1015.5 280.9h0M1265.1 219.1h0M1225.5 249.8h0M1370.1 248.5h0M1510.8 462.5h0M1226.3 311.3h0M1435.6 462.8h0M1186.8 219.1h0M1246.7 555.1h0M1282.1 97.1h0M1272.8 249.7h0M1436 250.8h0M1206.2 621h0M1421.5 248.6h0M1246.1 527.8h0M1352.1 218.4h0M1186.5 340.4h0M1486.4 97.1h0M1210.2 219.2h0M1200.5 219.4h0M1314.4 280.4h0M1086.5 158.2h0M1233.7 553.2h0M1062.5 280.7h0M1326.7 280h0M1344 97.1h0M1432.3 462.6h0M1323.8 189.3h0M1285.1 555.5h0M1238.3 550.9h0M1321 126.5h0M1307.3 249.1h0M1397.6 158.1h0M1237.1 557h0M1291.5 128.5h0M1469.6 462.4h0M1239 615.1h0M1353.5 127.5h0M1347.9 97.4h0M1291.6 583.9h0M1086.9 188.8h0M1294.4 218.2h0M1389.5 96.2h0M1183.8 613.8h0M1136.1 249.6h0M1457.1 463h0M1320.4 97.6h0M1293.9 523.8h0M1472.1 462.7h0M1250.2 614.8h0M1251.3 188.9h0M1131 341.2h0M1304.6 187.8h0M1150.5 342.1h0M1267.9 554h0M1406.6 97.4h0M1123.6 249.2h0M1371.7 462.6h0M1402.9 463h0M1236.1 559.1h0M1368.3 250.4h0M1437.5 462.5h0M1308.9 584.2h0M1227 280.2h0M1138.1 280.5h0M1226 611.5h0M1438.9 462.3h0M1509.6 462.4h0M1225.1 279.7h0M1362.3 96.2h0M1202.8 249.1h0M1103.9 280.9h0M1312.6 340.8h0M1391.1 250.7h0M1352.5 187.8h0M1351.6 128h0M1308.2 218h0M1415.3 462.4h0M1235.7 97.7h0M1206.6 279.6h0M1312.7 371.7h0M1311.3 280h0M1300.3 524.1h0M1226.3 554.6h0M1441.5 462.8h0M1268.9 526h0M1232.1 311.7h0M1334.9 584.1h0M1332.4 188.6h0M1377.3 249.8h0M1205.5 158.1h0M1284.8 523.4h0M1397 98.1h0M1234.4 555.2h0M1219.7 280.1h0M1447.6 463.1h0M1256.6 584h0M1166.5 462.8h0"/>
<path class="db" d="M1216 621.2h0M1193.4 580.3h0M1244.7 612.6h0M1258.5 485.7h0M1241 339h0M1193.7 424.5h0M1219.5 572.2h0M1218.3 454.9h0M1263.5 376.7h0M1176.9 433.9h0M1294.9 369.4h0M1220.2 429.2h0M1215.9 440.3h0M1283.3 555.6h0M1256.4 560.5h0M1226.4 587.2h0M1268.6 551.4h0M1267.8 376.9h0M1258.2 501.4h0M1204.8 596.8h0M1261.8 529.2h0M1273.1 528.7h0M1254.6 548.1h0M1286 521.7h0M1308.3 342.8h0M1199.5 588.2h0M1281 525.8h0M1282.9 525.3h0M1252.3 517.8h0M1183.9 465.3h0M1224.7 372.9h0M1306.1 343.2h0M1199.3 471h0M1208 439.8h0M1296.5 338.8h0M1270.7 376.2h0M1260 485.8h0M1191.8 471.1h0M1256.1 347.6h0M1212 596.3h0M1254.2 365.4h0M1230.2 603.2h0M1269.6 490.3h0M1177.2 461h0M1189.4 471.7h0M1258 335.2h0M1243.4 500.4h0M1261.9 560.8h0M1291.5 373.6h0M1189.9 588h0M1179.2 430.3h0M1234.5 560h0M1247.1 616.6h0M1275.9 529.7h0M1247.5 529.4h0M1271.1 551.4h0M1267.4 489h0M1276.4 517.8h0M1292 343.8h0M1254.1 560.3h0M1203.4 454.9h0M1177.2 465.2h0M1258.8 366.3h0M1185.8 585.8h0M1246.8 517.5h0M1304.6 372.8h0M1216.2 423.7h0M1174.3 430.2h0M1205.7 454.1h0M1179.4 465.3h0M1231.4 339.6h0M1210.7 453.8h0M1220.7 627.2h0M1272.7 346.8h0M1277.2 376h0"/>
<path class="dr" d="M1265.6 398h0M1275.5 405.7h0M1269.8 397.3h0M1231.7 399.2h0M1234.3 404.7h0M1236.9 398.2h0M1277.9 405.8h0M1234.8 399.1h0"/>
<path class="dM" d="M1134.4 526.3h0M1279.5 401.6h0M1409.9 126.9h0M1098.8 278.8h0M1069.8 340.2h0M1066.1 372.4h0M1128.5 493.3h0M1178.2 553.4h0M1065 309.2h0M1113.7 339.7h0M1226.7 554.3h0M1402.6 433.5h0M1395.8 127.5h0M1289.1 584.9h0M1087.9 370.7h0M1095 371.2h0M1109.2 371.1h0M1384.4 431.7h0M1332.6 402.7h0M1314.2 400.5h0M1156.9 552h0M1179.4 554.5h0M1317 583.9h0M1081.2 281.1h0M1111.9 522.1h0M1312.9 402.7h0M1353.8 400.3h0M1257.6 584.5h0M1070.3 493.1h0M1083.9 492.5h0M1139.6 309.4h0M1297.3 400.2h0M1052.4 279.2h0M1043.1 278.9h0M1176.3 555.8h0M1055.3 371.3h0M1209.5 522.8h0M1255.3 403.9h0M1124.7 311.5h0M1096.5 492.3h0M1260.1 526.3h0M1308.6 403.5h0M1170.2 555h0M1216 523.8h0M1418.3 127.4h0M1156.1 556.5h0M1183.2 552.8h0M1011.3 280.7h0M1115.2 280.2h0M1226.1 554.3h0M1017 279.4h0M1386.4 127.2h0M1076.5 280.4h0M1180.6 552.9h0M1337.4 400.7h0M1071.3 310.9h0M1149.4 494.4h0M1342.5 400.7h0M1012.4 281.1h0M1239.3 524.4h0M1286 402.6h0M1046.4 339.8h0M1062.8 341.1h0M1081.9 493.1h0M1145.2 311.2h0M1081.4 372.4h0M1135.7 309.4h0M1346.9 400.2h0M1145.2 492.8h0M1048.7 310.2h0M1174 551.6h0M1472.4 432h0M1053.4 370.7h0M1278.8 584.4h0M1478.7 431.4h0M1116.4 279.1h0M1284.9 401.7h0M1168.4 551.4h0M1377.2 219.2h0M1114.6 370.9h0M1429.2 127.4h0"/>
<path class="dR" d="M1151.8 556.1h0M1186.4 553.1h0M1383.8 218.5h0M1204.9 552.2h0M1172.1 555.2h0M1173.5 556.7h0M1160.3 524.9h0M1236.8 613.7h0M1119.2 553h0M1325.1 433.2h0M1186.3 524.9h0M1120.5 552.8h0M1124.7 525.3h0M1143.1 554.6h0M1352 401.2h0M1158.9 554h0M1096.4 371.9h0M1123.3 523.4h0M1129 552.4h0M1213.5 553.8h0M1156 523.9h0M1114.3 523.1h0M1297.7 431.9h0M1378.5 401.5h0M1336.7 402.7h0M1284.2 615.2h0M1013.9 340.7h0M1414.6 431.5h0M1187.2 554.2h0M1343.9 403.4h0M1141.5 554.3h0M1309.9 402.5h0M1397.2 126.8h0M1365 128.9h0M1350.3 403.6h0M1319.9 400.8h0M1450.8 432.7h0M1135.7 555.6h0M1158 523.5h0M1529.3 584.2h0M1176.8 552.2h0M1182.1 525.8h0M1195.6 523.2h0M1144.3 525.2h0M1406.4 432h0M1132.9 555.5h0M1449.7 432h0M1127.3 310.3h0M1121.6 554.3h0M1019.5 280.6h0M1117.5 554.8h0M1306.3 401.5h0M1169.5 556.8h0M1326 402h0M1124.5 553.4h0M1194.4 521.1h0M1216.9 552.1h0M1462.3 432.8h0M1165.5 554.6h0M1093.3 340.1h0M1187.3 521.7h0M1127.1 523.5h0M1436.5 157.9h0M1146 552.2h0M1203.4 553.4h0M1443.1 158.4h0M1195.6 614.7h0M1177.1 525.1h0M1429 431.6h0M1248.4 614.3h0M1348.6 400.9h0M1312.8 402h0M1298.3 401.4h0M1111.1 341.3h0M1121.5 525.9h0M1432.2 431.2h0M1062 279.6h0M1395.5 219.1h0M1074.7 340.9h0M1179.3 523.9h0M1136.7 520.7h0M1204 617.3h0M1018.3 281h0M1335.3 433.3h0M1168.1 525.9h0M1210.7 552.9h0M1363.6 432.3h0M1149 554.5h0M1150.3 522.9h0M1395.9 432.4h0M1118.4 520.7h0M1146.3 526.6h0M1143.2 525h0M1173.7 553.4h0M1415.6 432.6h0M1160 522.7h0M1339.9 400.6h0M1123.5 523.8h0M1196.9 556h0M1133.1 520.8h0M1073.1 370.9h0M1350.6 432h0M1169.1 525.2h0M1190 522.8h0M1320.7 432.6h0M1473.7 188.2h0M1287.2 402.9h0M1200.7 552.8h0M1419.1 433.2h0M1184.9 521.6h0M1166.4 523.2h0M1417.5 584.2h0M1098.6 523.3h0M1163.1 520.8h0M1126.9 555.5h0M1404.2 128.3h0M1301.8 400.3h0M1247.9 614.1h0M1347.4 400.3h0"/>
<path class="dP" d="M1148.2 340.4h0M1089.6 279.7h0M1149.3 341h0M1351.1 188.2h0M1027.3 310.2h0M1359.5 96.9h0M1181.9 492.9h0M1199.1 522.9h0M1204.2 370.8h0M1368.1 157h0M1063.3 340h0M1354.6 218.8h0M1391.7 128.5h0M1124.8 340.2h0M1296.5 187.4h0M1140.1 340.1h0M1283.6 522.9h0M1418.1 248.5h0M1310.2 219.6h0M1276.7 521.3h0M1246.7 585.1h0M1246.4 552.6h0M1082.2 311.4h0M1361 189.7h0M1367 218h0M1473.7 249.1h0M1329 129h0M1083.5 372.6h0M1284.8 584.5h0M1176.1 371.3h0M1199.6 493h0M1410.2 218.5h0M1304 127.2h0M1082.8 341.6h0M1365.8 97.9h0M1204 310.1h0M1444.1 250h0M1077.5 493.8h0M1355.5 158.5h0M1433.6 249.4h0M1184.7 339.8h0M1178.4 339.7h0M1484.7 97.3h0M1244 583.9h0M1069.4 310.9h0M1240 309.3h0M1281 584.6h0M1392.6 250.6h0M1236.8 311.4h0M1393.7 157.3h0M1360.2 129h0M1400.7 157.3h0M1406.1 158.9h0M1362.7 98h0M1375.9 188.5h0M1143 494.3h0M1343.6 126.7h0M1317.1 189.1h0M1465.8 97.7h0M1213.4 523.4h0M1370.1 188.2h0M1222.5 371.7h0M1333.4 127.3h0M1306.7 220.4h0M1177.6 310.3h0M1489 462.5h0M1363.3 250.6h0M1402.5 97.6h0M1207.5 523.8h0M1253.7 584.9h0M1319.1 128.1h0M1270.4 585h0M1147.7 371.4h0M1102.3 279.2h0M1353.1 188.3h0M1381.3 249.4h0M1331.3 128h0M1381.9 188.8h0M1311 159.3h0M1382.8 217.9h0M1165.2 340.7h0M1172.9 371.7h0M1417.1 128.5h0M1490.1 97.4h0M1384.6 126.7h0M1315.8 157.4h0M1297.9 128.1h0M1444.4 97.6h0M1314.4 126.8h0M1282.9 584.6h0M1220 523.6h0M1240.3 552.3h0M1443.7 98.3h0M1212.5 523.1h0M1278.8 399.3h0M1357.6 158.4h0M1404.2 97.6h0M1308.6 218.4h0M1067.9 311.5h0M1387.5 158.6h0M1153.4 340.7h0M1261.8 584.7h0M1380 187.7h0M1054.6 341.6h0M1076.5 493h0M1193.9 492.9h0"/>
<path class="dB" d="M1467 462.7h0M1292.2 97.4h0M1260.6 219.1h0M1484 462.4h0M1160.3 279.5h0M1503.6 463.1h0M1164 432.6h0M1461 463.2h0M1269 219.1h0M1246.4 524.1h0M1446.4 462.9h0M1217.4 310.7h0M1070 280.4h0M1387.1 188.2h0M1398.1 98h0M1272 520.9h0M1195.4 158.2h0M1362.6 219.2h0M1404.1 462.4h0M1180.9 615.9h0M1419.9 462.7h0M1480.2 463h0M1343.2 188.6h0M1363.5 219.1h0M1211.2 279.7h0M1191.1 218.9h0M1152.4 280.3h0M1284.4 554.2h0M1288.2 127.2h0M1121.1 340.5h0M1243.3 310.4h0M1429 462.5h0M1157.6 279.8h0M1388.8 189.8h0M1364.4 189.4h0M1250.9 558.2h0M1269.9 554.6h0M1181.6 340.7h0M1212.8 309.2h0M1163.4 341h0M1230.1 127.3h0M1342.1 127.8h0M1425.2 463.1h0M1293.3 128.4h0M1467.8 463.2h0M1066.6 97.3h0M1329.1 584.6h0M1293.9 189.5h0M1312.5 218.5h0M1405.1 250.7h0M1390.9 97.7h0M1296.9 188.7h0M1272.3 584.1h0M1419.8 97.3h0M1203.6 612.7h0M1456.2 97h0M1458.6 98.5h0M1189 615.1h0M1387.3 250.1h0M1459.1 462.9h0M1288.6 249.7h0M1310.4 189.7h0M1363 188.1h0M1233.4 310.5h0M1306.3 584.7h0M1334.5 280.2h0M1330.5 219.2h0M1210.6 310.1h0M1424.6 98h0M1198.5 127.3h0M1160.1 341.2h0M1210.2 158h0M1241.7 97.8h0M1064 279h0M1281.8 584.2h0M1125 249.5h0M1318.4 341.3h0M1467.1 98.6h0M1208.5 616.5h0M1236.9 249.1h0M1197.1 615.9h0M1216.3 157.9h0M1251.2 555.9h0M1204.6 610.6h0M1218.4 610.5h0M1327.1 159.1h0M1188.4 219h0M1431.2 462.1h0M1277 97.7h0M1372.2 157.4h0M1300.2 127.8h0M1048.1 279.7h0M1221.2 311.7h0M1105.5 219.5h0M1335.5 127.7h0M1488.2 462.2h0M1388.2 96.8h0"/>
<path class="db" d="M1274.8 495.9h0M1270.5 334.8h0M1209.4 621.9h0M1206.9 597.1h0M1247.5 612.9h0M1175.1 464.4h0M1219.9 434.4h0M1231.9 496.5h0M1259.6 517.8h0M1301.6 338.8h0M1264 559.8h0M1278.2 367.2h0M1294.3 372.7h0M1285.1 368.6h0M1227.4 551h0M1205.4 471.4h0M1214.6 596.4h0M1246.4 547.5h0M1251.3 334.9h0M1278.7 517.4h0M1268.9 518.5h0M1303.6 370.3h0M1238.9 342.6h0M1181.5 434.5h0M1266.1 556.8h0M1274.7 334.4h0M1246.6 485.4h0M1193.8 440.4h0M1206.4 440h0M1248.8 347.3h0M1266.8 518.1h0M1230.6 560.4h0M1299.4 339.6h0M1211.1 440.7h0M1285.5 556.5h0M1260.9 334.2h0M1245.6 616.8h0M1217.6 471.5h0M1299.1 372.9h0M1267.9 496.6h0M1236.6 484.9h0M1243.8 485.1h0M1271.1 529.1h0M1272.7 490.5h0M1233.8 343.3h0M1237.3 560.8h0M1260.7 347.4h0M1249.6 559.5h0M1247 376.5h0M1248.7 485.4h0M1276.2 551.8h0M1268.4 556.7h0M1280 495.2h0M1203.9 471.3h0M1251.2 347.2h0M1186.4 459.8h0M1218.6 627.4h0M1185.3 582.8h0M1209.2 571.5h0M1253.1 484.9h0M1224.4 369.1h0M1275.3 366.1h0M1184.5 434.8h0M1195.9 439.8h0M1262.3 346.9h0M1280.4 521.1h0M1247.3 559.8h0M1179.3 433.7h0"/>
<path class="dr" d="M1273.1 405.3h0M1257.7 397.5h0M1258.2 405.8h0M1255.8 405.6h0M1249 397.6h0M1280.1 405.9h0M1260.2 405.9h0M1236.1 406.2h0M1251.1 397.4h0"/>
<path class="dP" d="M1296.5 585.3h0M1367.7 188.7h0M1428.7 248.6h0M1207.4 371.7h0M1378.8 188.6h0M1049.4 342h0M1124.2 341.8h0M1315.9 219.5h0M1248.9 405.1h0M1370.6 158.5h0M1054.3 310h0M1287.8 218.8h0M1472 96.8h0M1256.3 555.2h0M1393 96.1h0M1127.6 341.9h0M1393.3 128.7h0M1437.2 248.4h0M1326.6 187.6h0M1315.4 188.2h0M1317.3 127.5h0M1200.9 523.5h0M1196.7 310.9h0M1241.1 523.9h0M1176.1 339.9h0M1129.5 493.6h0M1065.5 492.1h0M1516.4 462.7h0M1126.1 493.2h0M1249.4 523.9h0M1424.6 250.6h0M1206.5 371.4h0M1267 518.9h0M1462.5 97.2h0M1336.8 157.9h0M1273.4 523h0M1138.6 340.3h0M1434.8 97h0M1350.7 126.8h0M1424.2 158.1h0M1311.4 127.7h0M1044.3 341.4h0M1163.9 371.6h0M1465.9 158.3h0M1365 249.3h0M1374 97.7h0M1122.1 342h0M1346.5 157.9h0M1190.2 371.2h0M1344.9 158.3h0M1156.9 341.5h0M1357.8 128.4h0M1413.3 250.3h0M1438.7 249.1h0M1350.1 188.8h0M1459.2 249h0M1037.1 371.4h0M1383.4 98.4h0M1115.1 493.8h0M1151.2 493.5h0M1339.4 126.7h0M1398.3 250.2h0M1383 128.5h0M1450.1 96.7h0M1403.8 157.8h0M1179.6 340.5h0M1208.1 493.2h0M1285.4 523h0M1353.4 218.2h0M1243.6 553.9h0M1065.9 279.7h0M1289.9 129h0M1095.4 492.5h0M1384.5 188.4h0M1130.6 311.5h0M1329 157.5h0M1482.6 98.1h0M1314.9 188.2h0M1191.6 310.4h0M1461.1 248.3h0M1344.9 128.4h0M1302.4 219.5h0M1480.5 249.6h0M1213.5 371.2h0M1057.7 493h0M1393.9 96.8h0M1205 372.3h0M1369.5 128h0M1084.4 371h0M1368.4 219.5h0M1242.5 584.8h0M1056 492.5h0M1339.3 187.7h0M1290.9 189.4h0M1414.4 96.7h0M1331.8 127.8h0M1471.3 463.1h0M1036.7 281.1h0M1371.8 218.4h0M1104.2 493.9h0M1066.5 492.5h0M1279.4 126.5h0M1081.9 280.4h0M1305 218.9h0M1256.9 525h0M1274.3 400.5h0M1129.3 340.6h0M1090.1 493h0M1317.3 220h0M1373 250.4h0M1073.9 492.6h0M1177.2 340.1h0M1244.4 403.4h0M1155.5 341.2h0M1218.5 493.3h0"/>
<path class="dR" d="M1325.8 432.1h0M1128.3 522.5h0M1161.9 556.2h0M1302.1 403h0M1165 553.6h0M1414.8 219.5h0M1119.6 310.9h0M1046.7 371.8h0M1125.6 552.2h0M1461.7 431.4h0M1131 524.6h0M1294.2 401.4h0M1342.3 433.3h0M1172.5 524.6h0M1511.2 615h0M1408.1 218.4h0M1155 526.2h0M1189.4 523.7h0M1153.7 526.1h0M1191.5 521h0M1193.7 520.9h0M1295.2 400.7h0M1442.4 431.2h0M1187.9 521.9h0M1160.5 523.8h0M1367.6 614.6h0M1155.2 553.1h0M1202.8 554.6h0M1419 219.7h0M1314.9 402.5h0M1166.3 523.8h0M1170.6 521.8h0M1373 127.3h0M1185.2 554.9h0M1126.1 520.8h0M1296 402.4h0M1335.1 431.1h0M1372.3 129h0M1158.2 520.7h0M1107.3 371.3h0M1285.8 400.7h0M1153.5 311.6h0M1196.9 554.8h0M1328.9 431.9h0M1165.8 551.8h0M1102.8 372.2h0M1157.8 522.6h0M1556.2 584.3h0M1354.9 400.3h0M1195.5 553.5h0M1355.2 402.6h0M1316.1 402.3h0M1146.1 522.7h0M1415 128.4h0M1415 127.8h0M1425.8 188.5h0M1428.4 584h0M1459.9 431.6h0M1222.9 523.7h0M1050.9 311.2h0M1182.9 526.5h0M1112.3 280.6h0M1340.9 401.3h0M1118.4 556.3h0M1127.8 554.3h0M1249.9 615.4h0M1119.1 556.7h0M1353.9 402.3h0M1337.5 401.4h0M1373.1 431.2h0M1171.4 522.8h0M1147.6 309.3h0M1048.2 341.8h0M1188.8 525.5h0M1348.6 400.7h0M1290.2 432h0M1391.4 432.9h0M1252.6 432.4h0M1178.6 556h0M1205.4 523.9h0M1073.7 280.4h0M1108.7 524.3h0M1348.7 432.2h0M1116.1 553.9h0M1152.7 553.4h0M1134.6 524.7h0M1264.1 431.9h0M1161.9 556.2h0M1167.6 552.3h0M1486.1 584.9h0M1448.3 433h0M1089.2 309.3h0M1237.1 613.7h0M1114 556.2h0M1365.4 432.9h0M1150.3 553.5h0M1459.3 584.7h0M1036.7 340.5h0M1186.4 524.2h0M1114.1 523.7h0M1302.8 402h0M1300.2 403.3h0M1146.1 551.9h0M1076.3 310h0M1114 553.2h0M1160.5 551.6h0M1315.7 401.9h0M1153.1 526.1h0M1446.3 431.9h0M1113.3 525h0M1430.6 433.2h0M1137 521.7h0M1324.8 432.4h0M1338.9 400.3h0M1366.2 128.9h0M1113.1 371.9h0M1416.5 218h0"/>
<path class="dB" d="M1451.3 462.2h0M1408 463.2h0M1489 97h0M1491.2 462.3h0M1213.9 309.9h0M1323.3 280.4h0M1309.3 189.5h0M1462.2 462.3h0M1444.8 462.3h0M1249 615.4h0M1334.5 249.6h0M1338.6 218.8h0M1445.4 97.6h0M1194.3 188.6h0M1252.2 584.8h0M1385.2 158.6h0M1338.3 97.3h0M1411.9 248.3h0M1250 249.7h0M1373.2 189h0M1450 249.8h0M1243.3 249.5h0M1337.8 126.5h0M1312.1 584.5h0M1418.1 462.3h0M1424.4 463h0M1166.9 431.8h0M1369.3 220.2h0M1359.8 189.8h0M1293.3 584.1h0M1113.9 218.6h0M1344.3 462.7h0M1134.8 279.6h0M1400.9 250.4h0M1447.1 462.9h0M1149.6 279.8h0M1327.7 219h0M1289.5 189.3h0M1303.8 187.7h0M1289.6 97.2h0M1229.1 624.8h0M1466.1 462.7h0M1268.7 520.6h0M1440 462.1h0M1241.5 311h0M1443.4 462.8h0M1215.3 310.4h0M1316 97.8h0M1403.2 158.3h0M1292.8 219.2h0M1226.2 96.8h0M1257.4 558.6h0M1265.7 584.9h0M1456.2 249.3h0M1406.1 462.3h0M1416.8 462.9h0M1405.4 157.1h0M1260.2 128.1h0M1253.4 554.8h0M1453.7 463h0M1225.5 310.5h0M1481.1 98.1h0M1145.1 280.4h0M1322.1 156.9h0M1385 249.9h0M1330.6 97.4h0M1254.2 552.7h0M1395.8 248.8h0M1452.7 463.2h0M1270.1 555.8h0M1457.6 96.1h0M1178.9 279.7h0M1249.9 614.8h0M1158.1 432h0M1327.1 97.2h0M1093.9 280h0M1283.5 128.5h0M1223.7 401.8h0M1212.3 158.2h0M1163.3 280h0M1134.3 249.1h0M1142.4 280.2h0M1229.2 604.5h0M1277.2 249.7h0M1380.5 462.7h0M1372.4 249.8h0"/>
<path class="db" d="M1230.5 626.6h0M1277.8 529.6h0M1186.7 465.5h0M1251.3 366.7h0M1227.3 373.5h0M1196.8 471.5h0M1294.4 339.2h0M1233.6 626.7h0M1177.5 430.8h0M1179.5 459.7h0M1265 488.9h0M1211.2 621.6h0M1286.9 342.7h0M1233.8 484.9h0M1191.6 453.6h0M1285.1 374.4h0M1242.5 617h0M1183.9 430.5h0M1291.6 338.2h0M1241.9 559.7h0M1221.5 603.3h0M1242.1 366h0M1278.1 551h0M1194.8 581h0M1192.5 588h0M1219.4 597.1h0M1228.3 626.9h0M1287 374.7h0M1201.5 608.2h0M1289.5 339.3h0M1182 429.6h0M1227.7 369.7h0M1211.8 607.8h0M1175 460.4h0M1282 344.1h0M1248.5 376.6h0M1267.4 334.3h0M1289.4 369.3h0M1228 557.7h0M1263.3 547.4h0M1234.7 376h0M1287.9 524.7h0M1236.3 339.4h0M1296.2 368.9h0M1241.9 501.3h0M1263.7 366h0M1274.6 376.3h0M1292.6 525.1h0M1252.8 335h0M1231.9 342.5h0M1255.9 485.1h0M1257 547.7h0M1211.1 424h0M1299 369.8h0M1201 424.2h0M1266.1 366.6h0M1265.8 376.3h0M1265.1 496.3h0M1261.3 517.6h0M1258.1 376.5h0M1280.3 552.1h0M1223.7 581.5h0M1292.2 369.5h0M1240.5 613.4h0M1245.6 336.5h0M1233.6 602.9h0M1251.4 486.1h0M1256.1 365.9h0M1221.1 582.1h0M1288.8 343.6h0"/>
<path class="dM" d="M1152.9 551.6h0M1120.6 281.3h0M1128.2 309.2h0M1422.8 218.8h0M1153.5 525.2h0M1377.8 128.5h0M1381.6 431.8h0M1069 492.9h0M1125.3 493.6h0M1058.1 371.8h0M1271.4 399.5h0M1332 431.1h0M1166.8 556.3h0M1286.3 585.1h0M1204.4 553.3h0M1098.1 339.9h0M1085.1 280.4h0M1098.3 310.3h0M1283.2 401.2h0M1106.5 281.2h0M1097 280.3h0M1146.5 311.5h0M1133.3 556.7h0M1261.1 584h0M1327.4 584.3h0M1317 400.1h0M1112.7 523.2h0M1249.8 584.2h0M1486.1 188.4h0M1327.4 431.3h0M1047 311h0M1117.5 524h0M1074.9 370.9h0M1129.6 523h0M1304.7 583.7h0M1367.5 127.1h0M1262.4 399.2h0M1059.1 371.3h0M1066.5 341.8h0M1128.8 309.8h0M1267.6 519.2h0M1148.1 555.6h0M1164 551.6h0M1329.5 400.8h0M1317.4 401.9h0M1107.3 494.2h0M1198.8 615h0M1422.3 188.9h0M1117.7 553.4h0M1188.6 555.7h0M1146.3 522.3h0M1100.8 342.1h0M1119 371.6h0M1080.4 310.7h0M1058.6 341.3h0M1375.9 220.4h0M1109.9 280.2h0M1111.7 309.7h0M1077.1 309.5h0M1191.6 555.6h0M1186.2 554.3h0M1103.8 311.2h0M1245.8 399.9h0M1278.1 519.1h0M1091.8 310.1h0M1047 279h0M1105.8 340.7h0M1080.6 492h0M1447.1 432.5h0M1097.2 309.9h0M1162.6 520.9h0M1109.1 340.8h0M1051.2 279.1h0M1064.3 492.1h0M1245.5 584.6h0M1392.9 433.4h0M1086.9 309.5h0M1085.4 310.4h0M1298.2 401.1h0M1052 370.4h0M1341.6 432.4h0M1147.3 493.1h0M1125.7 524.4h0M1435.6 189.1h0"/>
<path class="dr" d="M1232 404.8h0M1243.2 397.5h0M1267.8 405.2h0M1270.6 405.8h0M1241.7 405.9h0M1263.4 398.2h0M1253.2 406.1h0M1262.9 406.3h0"/>
<text x="13" y="813" font-size="57" fill="#000">b</text>
<text x="528.8" y="867.8" font-size="28.6" fill="#2b2b2b" text-anchor="end">3.8.1.2 | Anaerostipes hadrus</text>
<text x="528.8" y="899.6" font-size="28.6" fill="#2b2b2b" text-anchor="end">2.5.1.54 | Anaerostipes hadrus</text>
<text x="528.8" y="931.5" font-size="28.6" fill="#2b2b2b" text-anchor="end">4.1.1.19 | Bilophila wadsworthia</text>
<text x="528.8" y="963.4" font-size="28.6" fill="#2b2b2b" text-anchor="end">6.3.5.5 | Eubacterium eligens</text>
<text x="528.8" y="995.2" font-size="28.6" fill="#2b2b2b" text-anchor="end">2.8.3.17 | Peptostreptococcus stomatis</text>
<text x="528.8" y="1027.1" font-size="28.6" fill="#2b2b2b" text-anchor="end">1.11.1.15 | Parvimonas micra</text>
<text x="528.8" y="1059" font-size="28.6" fill="#2b2b2b" text-anchor="end">6.3.5.5 | Clostridium symbiosum</text>
<text x="528.8" y="1090.8" font-size="28.6" fill="#2b2b2b" text-anchor="end">1.11.1.15 | Peptostreptococcus stomatis</text>
<text x="528.8" y="1122.7" font-size="28.6" fill="#2b2b2b" text-anchor="end">3.6.3.44 | Porphyromonas asaccharolytica</text>
<text x="528.8" y="1154.6" font-size="28.6" fill="#2b2b2b" text-anchor="end">1.6.99.1 | Parvimonas micra</text>
<text x="528.8" y="1186.5" font-size="28.6" fill="#2b2b2b" text-anchor="end">6.1.1.10 | Porphyromonas asaccharolytica</text>
<text x="528.8" y="1218.3" font-size="28.6" fill="#2b2b2b" text-anchor="end">1.4.3.5 | Porphyromonas asaccharolytica</text>
<text x="528.8" y="1250.2" font-size="28.6" fill="#2b2b2b" text-anchor="end">1.8.1.4 | Parvimonas micra</text>
<text x="528.8" y="1282.1" font-size="28.6" fill="#2b2b2b" text-anchor="end">6.1.1.10 | Gemella morbillorum</text>
<text x="528.8" y="1313.9" font-size="28.6" fill="#2b2b2b" text-anchor="end">4.2.1.33 | Pseudoflavonifractor sp An184</text>
<text x="528.8" y="1345.8" font-size="28.6" fill="#2b2b2b" text-anchor="end">1.8.1.4 | Porphyromonas asaccharolytica</text>
<text x="528.8" y="1377.7" font-size="28.6" fill="#2b2b2b" text-anchor="end">6.3.5.5 | Peptostreptococcus stomatis</text>
<text x="528.8" y="1409.5" font-size="28.6" fill="#2b2b2b" text-anchor="end">5.4.3.3 | Fusobacterium nucleatum</text>
<text x="528.8" y="1441.4" font-size="28.6" fill="#2b2b2b" text-anchor="end">3.1.3.71 | Porphyromonas asaccharolytica</text>
<text x="528.8" y="1473.3" font-size="28.6" fill="#2b2b2b" text-anchor="end">1.11.1.15 | Pseudoflavonifractor sp An184</text>
<text x="528.8" y="1505.2" font-size="28.6" fill="#2b2b2b" text-anchor="end">6.1.1.10 | Peptostreptococcus stomatis</text>
<text x="528.8" y="1537" font-size="28.6" fill="#2b2b2b" text-anchor="end">3.1.2.1 | Porphyromonas asaccharolytica</text>
<text x="528.8" y="1568.9" font-size="28.6" fill="#2b2b2b" text-anchor="end">1.11.1.15 | Clostridium bolteae</text>
<text x="528.8" y="1600.8" font-size="28.6" fill="#2b2b2b" text-anchor="end">6.1.1.10 | Pseudoflavonifractor sp An184</text>
<text x="528.8" y="1632.6" font-size="28.6" fill="#2b2b2b" text-anchor="end">4.1.1.19 | Clostridium sp CAG 58</text>
<text x="528.8" y="1664.5" font-size="28.6" fill="#2b2b2b" text-anchor="end">4.1.1.19 | Bacteroides nordii</text>
<text x="528.8" y="1696.4" font-size="28.6" fill="#2b2b2b" text-anchor="end">2.5.1.54 | Klebsiella pneumoniae</text>
<text x="528.8" y="1728.2" font-size="28.6" fill="#2b2b2b" text-anchor="end">4.2.1.33 | Roseburia sp CAG 182</text>
<rect x="541.5" y="847.5" width="386.8" height="20.3" fill="#edc68e"/>
<rect x="541.5" y="879.3" width="322.3" height="20.3" fill="#edc68e"/>
<rect x="541.5" y="911.2" width="320" height="20.3" fill="#cb5d3f"/>
<rect x="541.5" y="943.1" width="260.2" height="20.3" fill="#edc68e"/>
<rect x="541.5" y="974.9" width="217.8" height="20.3" fill="#cb5d3f"/>
<rect x="541.5" y="1006.8" width="216.3" height="20.3" fill="#cb5d3f"/>
<rect x="541.5" y="1038.7" width="207.7" height="20.3" fill="#cb5d3f"/>
<rect x="541.5" y="1070.5" width="196.3" height="20.3" fill="#cb5d3f"/>
<rect x="541.5" y="1102.4" width="193.6" height="20.3" fill="#cb5d3f"/>
<rect x="541.5" y="1134.3" width="190.8" height="20.3" fill="#cb5d3f"/>
<rect x="541.5" y="1166.1" width="187.5" height="20.3" fill="#cb5d3f"/>
<rect x="541.5" y="1198" width="180" height="20.3" fill="#cb5d3f"/>
<rect x="541.5" y="1229.9" width="174.4" height="20.3" fill="#cb5d3f"/>
<rect x="541.5" y="1261.8" width="171.3" height="20.3" fill="#cb5d3f"/>
<rect x="541.5" y="1293.6" width="169.2" height="20.3" fill="#cb5d3f"/>
<rect x="541.5" y="1325.5" width="163.6" height="20.3" fill="#cb5d3f"/>
<rect x="541.5" y="1357.4" width="162.1" height="20.3" fill="#cb5d3f"/>
<rect x="541.5" y="1389.2" width="153.3" height="20.3" fill="#cb5d3f"/>
<rect x="541.5" y="1421.1" width="148.2" height="20.3" fill="#cb5d3f"/>
<rect x="541.5" y="1453" width="147.7" height="20.3" fill="#cb5d3f"/>
<rect x="541.5" y="1484.8" width="139.5" height="20.3" fill="#cb5d3f"/>
<rect x="541.5" y="1516.7" width="137.4" height="20.3" fill="#cb5d3f"/>
<rect x="541.5" y="1548.6" width="137.4" height="20.3" fill="#cb5d3f"/>
<rect x="541.5" y="1580.5" width="127.8" height="20.3" fill="#cb5d3f"/>
<rect x="541.5" y="1612.3" width="108.3" height="20.3" fill="#cb5d3f"/>
<rect x="541.5" y="1644.2" width="101.7" height="20.3" fill="#cb5d3f"/>
<rect x="541.5" y="1676.1" width="94.3" height="20.3" fill="#cb5d3f"/>
<rect x="541.5" y="1707.9" width="37.5" height="20.3" fill="#cb5d3f"/>
<line x1="541.5" y1="838" x2="541.5" y2="1739.2" stroke="#222222" stroke-width="1.6"/>
<line x1="535.5" y1="857.6" x2="541.5" y2="857.6" stroke="#222" stroke-width="2.2"/>
<line x1="535.5" y1="889.5" x2="541.5" y2="889.5" stroke="#222" stroke-width="2.2"/>
<line x1="535.5" y1="921.3" x2="541.5" y2="921.3" stroke="#222" stroke-width="2.2"/>
<line x1="535.5" y1="953.2" x2="541.5" y2="953.2" stroke="#222" stroke-width="2.2"/>
<line x1="535.5" y1="985.1" x2="541.5" y2="985.1" stroke="#222" stroke-width="2.2"/>
<line x1="535.5" y1="1017" x2="541.5" y2="1017" stroke="#222" stroke-width="2.2"/>
<line x1="535.5" y1="1048.8" x2="541.5" y2="1048.8" stroke="#222" stroke-width="2.2"/>
<line x1="535.5" y1="1080.7" x2="541.5" y2="1080.7" stroke="#222" stroke-width="2.2"/>
<line x1="535.5" y1="1112.6" x2="541.5" y2="1112.6" stroke="#222" stroke-width="2.2"/>
<line x1="535.5" y1="1144.4" x2="541.5" y2="1144.4" stroke="#222" stroke-width="2.2"/>
<line x1="535.5" y1="1176.3" x2="541.5" y2="1176.3" stroke="#222" stroke-width="2.2"/>
<line x1="535.5" y1="1208.2" x2="541.5" y2="1208.2" stroke="#222" stroke-width="2.2"/>
<line x1="535.5" y1="1240" x2="541.5" y2="1240" stroke="#222" stroke-width="2.2"/>
<line x1="535.5" y1="1271.9" x2="541.5" y2="1271.9" stroke="#222" stroke-width="2.2"/>
<line x1="535.5" y1="1303.8" x2="541.5" y2="1303.8" stroke="#222" stroke-width="2.2"/>
<line x1="535.5" y1="1335.7" x2="541.5" y2="1335.7" stroke="#222" stroke-width="2.2"/>
<line x1="535.5" y1="1367.5" x2="541.5" y2="1367.5" stroke="#222" stroke-width="2.2"/>
<line x1="535.5" y1="1399.4" x2="541.5" y2="1399.4" stroke="#222" stroke-width="2.2"/>
<line x1="535.5" y1="1431.3" x2="541.5" y2="1431.3" stroke="#222" stroke-width="2.2"/>
<line x1="535.5" y1="1463.1" x2="541.5" y2="1463.1" stroke="#222" stroke-width="2.2"/>
<line x1="535.5" y1="1495" x2="541.5" y2="1495" stroke="#222" stroke-width="2.2"/>
<line x1="535.5" y1="1526.9" x2="541.5" y2="1526.9" stroke="#222" stroke-width="2.2"/>
<line x1="535.5" y1="1558.7" x2="541.5" y2="1558.7" stroke="#222" stroke-width="2.2"/>
<line x1="535.5" y1="1590.6" x2="541.5" y2="1590.6" stroke="#222" stroke-width="2.2"/>
<line x1="535.5" y1="1622.5" x2="541.5" y2="1622.5" stroke="#222" stroke-width="2.2"/>
<line x1="535.5" y1="1654.3" x2="541.5" y2="1654.3" stroke="#222" stroke-width="2.2"/>
<line x1="535.5" y1="1686.2" x2="541.5" y2="1686.2" stroke="#222" stroke-width="2.2"/>
<line x1="535.5" y1="1718.1" x2="541.5" y2="1718.1" stroke="#222" stroke-width="2.2"/>
<line x1="540.7" y1="1738.4" x2="928.3" y2="1738.4" stroke="#222222" stroke-width="1.6"/>
<line x1="541.5" y1="1738.4" x2="541.5" y2="1744.4" stroke="#222" stroke-width="2.2"/>
<text x="541.5" y="1770.6" font-size="26" fill="#2b2b2b" text-anchor="middle">0</text>
<line x1="642.6" y1="1738.4" x2="642.6" y2="1744.4" stroke="#222" stroke-width="2.2"/>
<text x="642.6" y="1770.6" font-size="26" fill="#2b2b2b" text-anchor="middle">2</text>
<line x1="743.7" y1="1738.4" x2="743.7" y2="1744.4" stroke="#222" stroke-width="2.2"/>
<text x="743.7" y="1770.6" font-size="26" fill="#2b2b2b" text-anchor="middle">4</text>
<line x1="844.8" y1="1738.4" x2="844.8" y2="1744.4" stroke="#222" stroke-width="2.2"/>
<text x="844.8" y="1770.6" font-size="26" fill="#2b2b2b" text-anchor="middle">6</text>
<text x="734.9" y="1803.6" font-size="28.3" fill="#000" text-anchor="middle">Feature contribution (%)</text>
<rect x="628.3" y="787.2" width="30.4" height="30.1" fill="#edc68e"/>
<text x="669" y="810.1" font-size="22.3" fill="#000">Control</text>
<rect x="754.4" y="787.2" width="29.5" height="30.1" fill="#cb5d3f"/>
<text x="795" y="810.1" font-size="22.3" fill="#000">CRC</text>
<line x1="1202.9" y1="839.2" x2="1202.9" y2="1739.6" stroke="#808080" stroke-width="2.2"/>
<line x1="960.9" y1="1739.6" x2="1565.9" y2="1739.6" stroke="#222222" stroke-width="1.6"/>
<line x1="960.9" y1="1739.6" x2="960.9" y2="1745.6" stroke="#222222" stroke-width="1.8"/>
<text x="960.9" y="1764.8" font-size="20" fill="#2b2b2b" text-anchor="middle">−4</text>
<line x1="1081.9" y1="1739.6" x2="1081.9" y2="1745.6" stroke="#222222" stroke-width="1.8"/>
<text x="1081.9" y="1764.8" font-size="20" fill="#2b2b2b" text-anchor="middle">−2</text>
<line x1="1202.9" y1="1739.6" x2="1202.9" y2="1745.6" stroke="#222222" stroke-width="1.8"/>
<text x="1202.9" y="1764.8" font-size="20" fill="#2b2b2b" text-anchor="middle">0</text>
<line x1="1323.9" y1="1739.6" x2="1323.9" y2="1745.6" stroke="#222222" stroke-width="1.8"/>
<text x="1323.9" y="1764.8" font-size="20" fill="#2b2b2b" text-anchor="middle">2</text>
<line x1="1444.9" y1="1739.6" x2="1444.9" y2="1745.6" stroke="#222222" stroke-width="1.8"/>
<text x="1444.9" y="1764.8" font-size="20" fill="#2b2b2b" text-anchor="middle">4</text>
<line x1="1565.9" y1="1739.6" x2="1565.9" y2="1745.6" stroke="#222222" stroke-width="1.8"/>
<text x="1565.9" y="1764.8" font-size="20" fill="#2b2b2b" text-anchor="middle">6</text>
<text x="1263.5" y="1803.8" font-size="28.4" fill="#000" text-anchor="middle">SHAP value (impact on model output)</text>
<rect x="973.6" y="789.6" width="326.4" height="16" fill="url(#shapgrad)"/>
<text x="958.8" y="830.8" font-size="17.7" fill="#000">Low</text>
<text x="1317.5" y="830.8" font-size="17.7" fill="#000" text-anchor="end">High</text>
<rect x="1413" y="789.4" width="22.1" height="21.7" fill="#cc5232"/>
<text x="1444.3" y="808.3" font-size="22.2" fill="#000">Significant</text>
<text x="1570" y="791" font-size="20.4" fill="#000">Compounds</text>
<text x="1570" y="816.3" font-size="20.4" fill="#000">and Foods</text>
<rect x="1704" y="780" width="161" height="32.7" fill="url(#gb)"/>
<line x1="1722.9" y1="780" x2="1722.9" y2="785" stroke="#fff" stroke-width="1.3"/>
<line x1="1722.9" y1="807.7" x2="1722.9" y2="812.7" stroke="#fff" stroke-width="1.3"/>
<text x="1722.9" y="826.4" font-size="14" fill="#000" text-anchor="middle">4</text>
<line x1="1795.3" y1="780" x2="1795.3" y2="785" stroke="#fff" stroke-width="1.3"/>
<line x1="1795.3" y1="807.7" x2="1795.3" y2="812.7" stroke="#fff" stroke-width="1.3"/>
<text x="1795.3" y="826.4" font-size="14" fill="#000" text-anchor="middle">8</text>
<rect x="1630.4" y="841.7" width="27.9" height="31.9" fill="#cc5232" stroke="#c9c9c9" stroke-width="1.4"/>
<rect x="1630.4" y="873.5" width="27.9" height="31.9" fill="#cc5232" stroke="#c9c9c9" stroke-width="1.4"/>
<rect x="1630.4" y="905.4" width="27.9" height="31.9" fill="#cc5232" stroke="#c9c9c9" stroke-width="1.4"/>
<rect x="1630.4" y="937.3" width="27.9" height="31.9" fill="#cc5232" stroke="#c9c9c9" stroke-width="1.4"/>
<rect x="1630.4" y="969.1" width="27.9" height="31.9" fill="#cc5232" stroke="#c9c9c9" stroke-width="1.4"/>
<rect x="1630.4" y="1001" width="27.9" height="31.9" fill="#cc5232" stroke="#c9c9c9" stroke-width="1.4"/>
<rect x="1630.4" y="1032.9" width="27.9" height="31.9" fill="#cc5232" stroke="#c9c9c9" stroke-width="1.4"/>
<rect x="1630.4" y="1064.8" width="27.9" height="31.9" fill="#cc5232" stroke="#c9c9c9" stroke-width="1.4"/>
<rect x="1630.4" y="1096.6" width="27.9" height="31.9" fill="#cc5232" stroke="#c9c9c9" stroke-width="1.4"/>
<rect x="1630.4" y="1128.5" width="27.9" height="31.9" fill="#cc5232" stroke="#c9c9c9" stroke-width="1.4"/>
<rect x="1630.4" y="1160.4" width="27.9" height="31.9" fill="#cc5232" stroke="#c9c9c9" stroke-width="1.4"/>
<rect x="1630.4" y="1192.2" width="27.9" height="31.9" fill="#cc5232" stroke="#c9c9c9" stroke-width="1.4"/>
<rect x="1630.4" y="1224.1" width="27.9" height="31.9" fill="#cc5232" stroke="#c9c9c9" stroke-width="1.4"/>
<rect x="1630.4" y="1256" width="27.9" height="31.9" fill="#cc5232" stroke="#c9c9c9" stroke-width="1.4"/>
<rect x="1630.4" y="1287.8" width="27.9" height="31.9" fill="#cc5232" stroke="#c9c9c9" stroke-width="1.4"/>
<rect x="1630.4" y="1319.7" width="27.9" height="31.9" fill="#cc5232" stroke="#c9c9c9" stroke-width="1.4"/>
<rect x="1630.4" y="1351.6" width="27.9" height="31.9" fill="#cc5232" stroke="#c9c9c9" stroke-width="1.4"/>
<rect x="1630.4" y="1383.5" width="27.9" height="31.9" fill="#cc5232" stroke="#c9c9c9" stroke-width="1.4"/>
<rect x="1630.4" y="1415.3" width="27.9" height="31.9" fill="#cc5232" stroke="#c9c9c9" stroke-width="1.4"/>
<rect x="1630.4" y="1447.2" width="27.9" height="31.9" fill="#cc5232" stroke="#c9c9c9" stroke-width="1.4"/>
<rect x="1630.4" y="1479.1" width="27.9" height="31.9" fill="#cc5232" stroke="#c9c9c9" stroke-width="1.4"/>
<rect x="1630.4" y="1510.9" width="27.9" height="31.9" fill="#cc5232" stroke="#c9c9c9" stroke-width="1.4"/>
<rect x="1630.4" y="1542.8" width="27.9" height="31.9" fill="#cc5232" stroke="#c9c9c9" stroke-width="1.4"/>
<rect x="1630.4" y="1574.7" width="27.9" height="31.9" fill="#cc5232" stroke="#c9c9c9" stroke-width="1.4"/>
<rect x="1630.4" y="1606.5" width="27.9" height="31.9" fill="#cc5232" stroke="#c9c9c9" stroke-width="1.4"/>
<rect x="1630.4" y="1638.4" width="27.9" height="31.9" fill="#cc5232" stroke="#c9c9c9" stroke-width="1.4"/>
<rect x="1630.4" y="1670.3" width="27.9" height="31.9" fill="#fff" stroke="#c9c9c9" stroke-width="1.4"/>
<rect x="1630.4" y="1702.2" width="27.9" height="31.9" fill="#fff" stroke="#c9c9c9" stroke-width="1.4"/>
<rect x="1697.2" y="841.7" width="24.9" height="31.9" fill="#cc5232" stroke="#c9c9c9" stroke-width="1.4"/>
<rect x="1722.1" y="841.7" width="28.6" height="31.9" fill="#fff" stroke="#c9c9c9" stroke-width="1.4"/>
<rect x="1750.7" y="841.7" width="28.8" height="31.9" fill="#f4f7fa" stroke="#c9c9c9" stroke-width="1.4"/>
<rect x="1697.2" y="873.5" width="24.9" height="31.9" fill="#cc5232" stroke="#c9c9c9" stroke-width="1.4"/>
<rect x="1722.1" y="873.5" width="28.6" height="31.9" fill="#fff" stroke="#c9c9c9" stroke-width="1.4"/>
<rect x="1750.7" y="873.5" width="28.8" height="31.9" fill="#fff" stroke="#c9c9c9" stroke-width="1.4"/>
<rect x="1697.2" y="905.4" width="24.9" height="31.9" fill="#cc5232" stroke="#c9c9c9" stroke-width="1.4"/>
<rect x="1722.1" y="905.4" width="28.6" height="31.9" fill="#f4f7fa" stroke="#c9c9c9" stroke-width="1.4"/>
<rect x="1750.7" y="905.4" width="28.8" height="31.9" fill="#fff" stroke="#c9c9c9" stroke-width="1.4"/>
<rect x="1697.2" y="937.3" width="24.9" height="31.9" fill="#cc5232" stroke="#c9c9c9" stroke-width="1.4"/>
<rect x="1722.1" y="937.3" width="28.6" height="31.9" fill="#f4f7fa" stroke="#c9c9c9" stroke-width="1.4"/>
<rect x="1750.7" y="937.3" width="28.8" height="31.9" fill="#fff" stroke="#c9c9c9" stroke-width="1.4"/>
<rect x="1697.2" y="969.1" width="24.9" height="31.9" fill="#cc5232" stroke="#c9c9c9" stroke-width="1.4"/>
<rect x="1722.1" y="969.1" width="28.6" height="31.9" fill="#fff" stroke="#c9c9c9" stroke-width="1.4"/>
<rect x="1750.7" y="969.1" width="28.8" height="31.9" fill="#f4f7fa" stroke="#c9c9c9" stroke-width="1.4"/>
<rect x="1697.2" y="1001" width="24.9" height="31.9" fill="#cc5232" stroke="#c9c9c9" stroke-width="1.4"/>
<rect x="1722.1" y="1001" width="28.6" height="31.9" fill="#edf1f6" stroke="#c9c9c9" stroke-width="1.4"/>
<rect x="1750.7" y="1001" width="28.8" height="31.9" fill="#d6e1ee" stroke="#c9c9c9" stroke-width="1.4"/>
<rect x="1697.2" y="1032.9" width="24.9" height="31.9" fill="#cc5232" stroke="#c9c9c9" stroke-width="1.4"/>
<rect x="1722.1" y="1032.9" width="28.6" height="31.9" fill="#a7bfdd" stroke="#c9c9c9" stroke-width="1.4"/>
<rect x="1750.7" y="1032.9" width="28.8" height="31.9" fill="#4581bd" stroke="#c9c9c9" stroke-width="1.4"/>
<rect x="1697.2" y="1064.8" width="24.9" height="31.9" fill="#cc5232" stroke="#c9c9c9" stroke-width="1.4"/>
<rect x="1722.1" y="1064.8" width="28.6" height="31.9" fill="#fff" stroke="#c9c9c9" stroke-width="1.4"/>
<rect x="1750.7" y="1064.8" width="28.8" height="31.9" fill="#f4f7fa" stroke="#c9c9c9" stroke-width="1.4"/>
<rect x="1697.2" y="1096.6" width="24.9" height="31.9" fill="#cc5232" stroke="#c9c9c9" stroke-width="1.4"/>
<rect x="1722.1" y="1096.6" width="28.6" height="31.9" fill="#edf1f6" stroke="#c9c9c9" stroke-width="1.4"/>
<rect x="1750.7" y="1096.6" width="28.8" height="31.9" fill="#d6e1ee" stroke="#c9c9c9" stroke-width="1.4"/>
<rect x="1697.2" y="1128.5" width="24.9" height="31.9" fill="#cc5232" stroke="#c9c9c9" stroke-width="1.4"/>
<rect x="1722.1" y="1128.5" width="28.6" height="31.9" fill="#fff" stroke="#c9c9c9" stroke-width="1.4"/>
<rect x="1750.7" y="1128.5" width="28.8" height="31.9" fill="#fff" stroke="#c9c9c9" stroke-width="1.4"/>
<rect x="1697.2" y="1160.4" width="24.9" height="31.9" fill="#cc5232" stroke="#c9c9c9" stroke-width="1.4"/>
<rect x="1722.1" y="1160.4" width="28.6" height="31.9" fill="#fff" stroke="#c9c9c9" stroke-width="1.4"/>
<rect x="1750.7" y="1160.4" width="28.8" height="31.9" fill="#fff" stroke="#c9c9c9" stroke-width="1.4"/>
<rect x="1697.2" y="1192.2" width="24.9" height="31.9" fill="#cc5232" stroke="#c9c9c9" stroke-width="1.4"/>
<rect x="1722.1" y="1192.2" width="28.6" height="31.9" fill="#d6e1ee" stroke="#c9c9c9" stroke-width="1.4"/>
<rect x="1750.7" y="1192.2" width="28.8" height="31.9" fill="#a7bfdd" stroke="#c9c9c9" stroke-width="1.4"/>
<rect x="1697.2" y="1224.1" width="24.9" height="31.9" fill="#cc5232" stroke="#c9c9c9" stroke-width="1.4"/>
<rect x="1722.1" y="1224.1" width="28.6" height="31.9" fill="#d6e1ee" stroke="#c9c9c9" stroke-width="1.4"/>
<rect x="1750.7" y="1224.1" width="28.8" height="31.9" fill="#d6e1ee" stroke="#c9c9c9" stroke-width="1.4"/>
<rect x="1697.2" y="1256" width="24.9" height="31.9" fill="#cc5232" stroke="#c9c9c9" stroke-width="1.4"/>
<rect x="1722.1" y="1256" width="28.6" height="31.9" fill="#fff" stroke="#c9c9c9" stroke-width="1.4"/>
<rect x="1750.7" y="1256" width="28.8" height="31.9" fill="#edf1f6" stroke="#c9c9c9" stroke-width="1.4"/>
<rect x="1697.2" y="1287.8" width="24.9" height="31.9" fill="#cc5232" stroke="#c9c9c9" stroke-width="1.4"/>
<rect x="1722.1" y="1287.8" width="28.6" height="31.9" fill="#fff" stroke="#c9c9c9" stroke-width="1.4"/>
<rect x="1750.7" y="1287.8" width="28.8" height="31.9" fill="#f4f7fa" stroke="#c9c9c9" stroke-width="1.4"/>
<rect x="1697.2" y="1319.7" width="24.9" height="31.9" fill="#cc5232" stroke="#c9c9c9" stroke-width="1.4"/>
<rect x="1722.1" y="1319.7" width="28.6" height="31.9" fill="#d6e1ee" stroke="#c9c9c9" stroke-width="1.4"/>
<rect x="1750.7" y="1319.7" width="28.8" height="31.9" fill="#d6e1ee" stroke="#c9c9c9" stroke-width="1.4"/>
<rect x="1697.2" y="1351.6" width="24.9" height="31.9" fill="#cc5232" stroke="#c9c9c9" stroke-width="1.4"/>
<rect x="1722.1" y="1351.6" width="28.6" height="31.9" fill="#d6e1ee" stroke="#c9c9c9" stroke-width="1.4"/>
<rect x="1750.7" y="1351.6" width="28.8" height="31.9" fill="#a7bfdd" stroke="#c9c9c9" stroke-width="1.4"/>
<rect x="1697.2" y="1383.5" width="24.9" height="31.9" fill="#cc5232" stroke="#c9c9c9" stroke-width="1.4"/>
<rect x="1722.1" y="1383.5" width="28.6" height="31.9" fill="#fff" stroke="#c9c9c9" stroke-width="1.4"/>
<rect x="1750.7" y="1383.5" width="28.8" height="31.9" fill="#f4f7fa" stroke="#c9c9c9" stroke-width="1.4"/>
<rect x="1697.2" y="1415.3" width="24.9" height="31.9" fill="#cc5232" stroke="#c9c9c9" stroke-width="1.4"/>
<rect x="1722.1" y="1415.3" width="28.6" height="31.9" fill="#edf1f6" stroke="#c9c9c9" stroke-width="1.4"/>
<rect x="1750.7" y="1415.3" width="28.8" height="31.9" fill="#f4f7fa" stroke="#c9c9c9" stroke-width="1.4"/>
<rect x="1697.2" y="1447.2" width="24.9" height="31.9" fill="#cc5232" stroke="#c9c9c9" stroke-width="1.4"/>
<rect x="1722.1" y="1447.2" width="28.6" height="31.9" fill="#edf1f6" stroke="#c9c9c9" stroke-width="1.4"/>
<rect x="1750.7" y="1447.2" width="28.8" height="31.9" fill="#c3d4e8" stroke="#c9c9c9" stroke-width="1.4"/>
<rect x="1697.2" y="1479.1" width="24.9" height="31.9" fill="#cc5232" stroke="#c9c9c9" stroke-width="1.4"/>
<rect x="1722.1" y="1479.1" width="28.6" height="31.9" fill="#edf1f6" stroke="#c9c9c9" stroke-width="1.4"/>
<rect x="1750.7" y="1479.1" width="28.8" height="31.9" fill="#d6e1ee" stroke="#c9c9c9" stroke-width="1.4"/>
<rect x="1697.2" y="1510.9" width="24.9" height="31.9" fill="#cc5232" stroke="#c9c9c9" stroke-width="1.4"/>
<rect x="1722.1" y="1510.9" width="28.6" height="31.9" fill="#d6e1ee" stroke="#c9c9c9" stroke-width="1.4"/>
<rect x="1750.7" y="1510.9" width="28.8" height="31.9" fill="#a7bfdd" stroke="#c9c9c9" stroke-width="1.4"/>
<rect x="1697.2" y="1542.8" width="24.9" height="31.9" fill="#cc5232" stroke="#c9c9c9" stroke-width="1.4"/>
<rect x="1722.1" y="1542.8" width="28.6" height="31.9" fill="#edf1f6" stroke="#c9c9c9" stroke-width="1.4"/>
<rect x="1750.7" y="1542.8" width="28.8" height="31.9" fill="#d6e1ee" stroke="#c9c9c9" stroke-width="1.4"/>
<rect x="1697.2" y="1574.7" width="24.9" height="31.9" fill="#cc5232" stroke="#c9c9c9" stroke-width="1.4"/>
<rect x="1722.1" y="1574.7" width="28.6" height="31.9" fill="#edf1f6" stroke="#c9c9c9" stroke-width="1.4"/>
<rect x="1750.7" y="1574.7" width="28.8" height="31.9" fill="#a7bfdd" stroke="#c9c9c9" stroke-width="1.4"/>
<rect x="1697.2" y="1606.5" width="24.9" height="31.9" fill="#cc5232" stroke="#c9c9c9" stroke-width="1.4"/>
<rect x="1722.1" y="1606.5" width="28.6" height="31.9" fill="#d6e1ee" stroke="#c9c9c9" stroke-width="1.4"/>
<rect x="1750.7" y="1606.5" width="28.8" height="31.9" fill="#a7bfdd" stroke="#c9c9c9" stroke-width="1.4"/>
<rect x="1697.2" y="1638.4" width="24.9" height="31.9" fill="#cc5232" stroke="#c9c9c9" stroke-width="1.4"/>
<rect x="1722.1" y="1638.4" width="28.6" height="31.9" fill="#f4f7fa" stroke="#c9c9c9" stroke-width="1.4"/>
<rect x="1750.7" y="1638.4" width="28.8" height="31.9" fill="#fff" stroke="#c9c9c9" stroke-width="1.4"/>
<rect x="1697.2" y="1670.3" width="24.9" height="31.9" fill="#cc5232" stroke="#c9c9c9" stroke-width="1.4"/>
<rect x="1722.1" y="1670.3" width="28.6" height="31.9" fill="#fff" stroke="#c9c9c9" stroke-width="1.4"/>
<rect x="1750.7" y="1670.3" width="28.8" height="31.9" fill="#fff" stroke="#c9c9c9" stroke-width="1.4"/>
<rect x="1697.2" y="1702.2" width="24.9" height="31.9" fill="#cc5232" stroke="#c9c9c9" stroke-width="1.4"/>
<rect x="1722.1" y="1702.2" width="28.6" height="31.9" fill="#f4f7fa" stroke="#c9c9c9" stroke-width="1.4"/>
<rect x="1750.7" y="1702.2" width="28.8" height="31.9" fill="#f4f7fa" stroke="#c9c9c9" stroke-width="1.4"/>
<circle cx="1798" cy="857.6" r="11.8" fill="#ec6b6b"/>
<circle cx="1798" cy="889.5" r="11.8" fill="#f060ec"/>
<circle cx="1798" cy="921.3" r="11.8" fill="#5ad2c8"/>
<circle cx="1798" cy="953.2" r="11.8" fill="#44cc44"/>
<circle cx="1798" cy="985.1" r="11.8" fill="#f060ec"/>
<circle cx="1798" cy="1017" r="11.8" fill="#6b9ef8"/>
<circle cx="1798" cy="1048.8" r="11.8" fill="#44cc44"/>
<circle cx="1798" cy="1080.7" r="11.8" fill="#6b9ef8"/>
<circle cx="1798" cy="1112.6" r="11.8" fill="#ec6b6b"/>
<circle cx="1798" cy="1144.4" r="11.8" fill="#6b9ef8"/>
<circle cx="1798" cy="1176.3" r="11.8" fill="#44cc44"/>
<circle cx="1798" cy="1208.2" r="11.8" fill="#6b9ef8"/>
<circle cx="1798" cy="1240" r="11.8" fill="#6b9ef8"/>
<circle cx="1798" cy="1271.9" r="11.8" fill="#44cc44"/>
<circle cx="1798" cy="1303.8" r="11.8" fill="#5ad2c8"/>
<circle cx="1798" cy="1335.7" r="11.8" fill="#6b9ef8"/>
<circle cx="1798" cy="1367.5" r="11.8" fill="#44cc44"/>
<circle cx="1798" cy="1399.4" r="11.8" fill="#aea12c"/>
<circle cx="1798" cy="1431.3" r="11.8" fill="#ec6b6b"/>
<circle cx="1798" cy="1463.1" r="11.8" fill="#6b9ef8"/>
<circle cx="1798" cy="1495" r="11.8" fill="#44cc44"/>
<circle cx="1798" cy="1526.9" r="11.8" fill="#ec6b6b"/>
<circle cx="1798" cy="1558.7" r="11.8" fill="#6b9ef8"/>
<circle cx="1798" cy="1590.6" r="11.8" fill="#44cc44"/>
<circle cx="1798" cy="1622.5" r="11.8" fill="#5ad2c8"/>
<circle cx="1798" cy="1654.3" r="11.8" fill="#5ad2c8"/>
<circle cx="1798" cy="1686.2" r="11.8" fill="#f060ec"/>
<circle cx="1798" cy="1718.1" r="11.8" fill="#5ad2c8"/>
<text x="1856" y="1145" font-size="25.1" fill="#000">EC class</text>
<circle cx="1877.3" cy="1185.7" r="12.5" fill="#ec6b6b"/>
<text x="1913" y="1193" font-size="20.3" fill="#000">Hydrolase</text>
<circle cx="1877.3" cy="1229.2" r="12.5" fill="#aea12c"/>
<text x="1913" y="1236.6" font-size="20.3" fill="#000">Isomerase</text>
<circle cx="1877.3" cy="1272.8" r="12.5" fill="#44cc44"/>
<text x="1913" y="1280.1" font-size="20.3" fill="#000">Ligase</text>
<circle cx="1877.3" cy="1316.3" r="12.5" fill="#5ad2c8"/>
<text x="1913" y="1323.7" font-size="20.3" fill="#000">Lyase</text>
<circle cx="1877.3" cy="1359.9" r="12.5" fill="#6b9ef8"/>
<text x="1913" y="1367.2" font-size="20.3" fill="#000">Oxidoreductase</text>
<circle cx="1877.3" cy="1403.5" r="12.5" fill="#f060ec"/>
<text x="1913" y="1410.8" font-size="20.3" fill="#000">Transferase</text>
<line x1="1629.8" y1="1738" x2="1661.3" y2="1738" stroke="#222222" stroke-width="1.6"/>
<line x1="1644.2" y1="1738" x2="1644.2" y2="1744" stroke="#222222" stroke-width="1.8"/>
<text x="1646.2" y="1763.2" font-size="18.7" fill="#2b2b2b" text-anchor="middle">S</text>
<line x1="1694.3" y1="1738" x2="1813.3" y2="1738" stroke="#222222" stroke-width="1.6"/>
<line x1="1709.8" y1="1738" x2="1709.8" y2="1744" stroke="#222222" stroke-width="1.8"/>
<text x="1709.8" y="1763.2" font-size="18.7" fill="#2b2b2b" text-anchor="middle">S</text>
<line x1="1736.9" y1="1738" x2="1736.9" y2="1744" stroke="#222222" stroke-width="1.8"/>
<text x="1736.9" y="1763.2" font-size="18.7" fill="#2b2b2b" text-anchor="middle">C</text>
<line x1="1765.4" y1="1738" x2="1765.4" y2="1744" stroke="#222222" stroke-width="1.8"/>
<text x="1765.4" y="1763.2" font-size="18.7" fill="#2b2b2b" text-anchor="middle">F</text>
<line x1="1798.2" y1="1738" x2="1798.2" y2="1744" stroke="#222222" stroke-width="1.8"/>
<text x="1798.2" y="1763.2" font-size="18.7" fill="#2b2b2b" text-anchor="middle">Class</text>
<text x="1595.5" y="1803.4" font-size="28.6" fill="#000">Species</text>
<text x="1733.7" y="1803.4" font-size="28.6" fill="#000">Ecs</text>
<polygon points="1108.1,855.4 1109.7,854.4 1111.3,855 1112.9,854.7 1114.5,854.5 1116.1,854.3 1117.7,853.9 1119.3,854 1120.9,854 1122.5,853.3 1124.1,852.7 1125.7,853 1127.3,852.7 1128.9,852.7 1130.5,852.3 1132.1,852.3 1133.7,852.5 1135.3,852.6 1136.9,852.8 1138.5,852.6 1140.1,852.7 1141.7,852.3 1143.3,852.9 1144.9,852.8 1146.5,852.6 1148.1,852.8 1149.7,853 1151.3,853 1152.9,853.8 1154.5,853.7 1156.1,854.1 1157.7,853.8 1159.3,854.5 1160.9,854.9 1162.5,855.1 1164.1,855.3 1165.1,854.9 1165.1,860.3 1164.1,860.6 1162.5,860.3 1160.9,860.4 1159.3,860.5 1157.7,860.9 1156.1,861.3 1154.5,862 1152.9,861.8 1151.3,862.4 1149.7,862.6 1148.1,862.8 1146.5,862.6 1144.9,862.9 1143.3,862.4 1141.7,863.3 1140.1,863.1 1138.5,863.2 1136.9,863.1 1135.3,862.5 1133.7,863.2 1132.1,862.3 1130.5,862.1 1128.9,862.6 1127.3,862.8 1125.7,862 1124.1,861.6 1122.5,861.6 1120.9,861.7 1119.3,861.9 1117.7,861.1 1116.1,860.7 1114.5,860.9 1112.9,860.5 1111.3,860.8 1109.7,860 1108.1,860.7" fill="#28518f"/>
<polygon points="1269.5,855.1 1271,854.6 1272.6,854.1 1274.2,854.8 1275.8,853.9 1277.4,854 1279,854 1280.6,853.3 1282.2,853.1 1283.8,853.5 1285.4,853.1 1287,853.2 1288.6,852.4 1290.2,853 1291.8,852.6 1293.4,852.1 1295,852.7 1296.6,852.2 1298.2,852.8 1299.8,853 1301.4,852.6 1303,852.7 1304.6,853.3 1306.2,852.7 1307.8,853.7 1309.4,853.2 1311,854 1312.6,854 1314.2,853.6 1315.8,853.8 1317.4,854.4 1319,854.8 1320.6,854.4 1322.2,854.8 1323.8,855.1 1325.1,854.8 1325.1,860.5 1323.8,860.2 1322.2,860.5 1320.6,860.8 1319,861 1317.4,860.8 1315.8,860.8 1314.2,860.9 1312.6,861.8 1311,861.6 1309.4,861.5 1307.8,861.7 1306.2,862.3 1304.6,862.2 1303,862.4 1301.4,862.3 1299.8,862.2 1298.2,862.8 1296.6,862.2 1295,862.6 1293.4,863 1291.8,862.2 1290.2,862.2 1288.6,862.6 1287,862.4 1285.4,862.3 1283.8,861.9 1282.2,861.7 1280.6,861.4 1279,861.6 1277.4,860.8 1275.8,861.1 1274.2,860.8 1272.6,860.1 1271,860.4 1269.5,859.9" fill="#e5262a"/>
<polygon points="1104.5,887 1106.1,887.2 1107.7,886.6 1109.3,886 1110.9,886.2 1112.5,886.4 1114.1,885.4 1115.7,885.4 1117.3,885.8 1118.9,884.8 1120.5,885.4 1122.1,885 1123.7,884.5 1125.3,884.7 1126.9,884.5 1128.5,884.3 1130.1,884.5 1131.7,884.8 1133.3,884.1 1134.9,884.1 1136.5,884.8 1138.1,884.2 1139.7,884.9 1141.3,885.2 1142.9,884.6 1144.5,885 1146.1,885.5 1147.7,885.8 1149.3,886.3 1150.9,885.7 1152.5,886.3 1154.1,886.5 1155.7,886.2 1157.3,886.9 1157.9,886.7 1157.9,892.3 1157.3,892.2 1155.7,892.3 1154.1,892.6 1152.5,893 1150.9,893.1 1149.3,892.8 1147.7,893.5 1146.1,893.1 1144.5,893.5 1142.9,893.8 1141.3,893.7 1139.7,894.3 1138.1,894.8 1136.5,894.6 1134.9,894.1 1133.3,894.3 1131.7,894.3 1130.1,894.9 1128.5,894.2 1126.9,894.8 1125.3,894.4 1123.7,894.6 1122.1,893.6 1120.5,894.2 1118.9,893.4 1117.3,893.2 1115.7,893.2 1114.1,893.6 1112.5,892.9 1110.9,892.5 1109.3,892.4 1107.7,892.5 1106.1,892.5 1104.5,892.3" fill="#28518f"/>
<polygon points="1236.2,886.6 1237.8,886.8 1239.4,886.8 1241,886.7 1242.6,886.3 1244.2,885.8 1245.8,885 1247.4,885.6 1249,885.2 1250.6,885 1252.2,884.2 1253.8,884.7 1255.4,884.4 1257,884.1 1258.6,884.6 1260.2,884.8 1261.8,884.3 1263.4,884.1 1265,884.9 1266.6,884.6 1268.2,884.4 1269.8,884.5 1271.4,884.7 1273,885.1 1274.6,885.2 1276.2,885.1 1277.8,885.8 1279.4,886.4 1281,886.1 1282.6,886.2 1284.2,886.5 1285.8,886.5 1287.4,887.2 1288.8,886.9 1288.8,891.8 1287.4,892.5 1285.8,892.3 1284.2,892.5 1282.6,893.1 1281,892.8 1279.4,892.6 1277.8,893.1 1276.2,893.4 1274.6,893.7 1273,893.7 1271.4,893.4 1269.8,893.8 1268.2,894.3 1266.6,894.7 1265,894.7 1263.4,894.2 1261.8,894.8 1260.2,894.6 1258.6,894.9 1257,894 1255.4,894.7 1253.8,894.3 1252.2,894.3 1250.6,894.5 1249,894.5 1247.4,893.2 1245.8,893.3 1244.2,893.7 1242.6,893.3 1241,892.8 1239.4,892.3 1237.8,891.9 1236.2,892.6" fill="#e5262a"/>
<polygon points="1100.7,918.4 1102.3,918.3 1103.9,918.4 1105.5,918.8 1107.1,917.8 1108.7,918.1 1110.3,917.8 1111.9,917.3 1113.5,917.2 1115.1,916.6 1116.7,917 1118.3,916.7 1119.9,916.8 1121.5,917 1123.1,916.6 1124.7,916.5 1126.3,917.3 1127.9,916.5 1129.5,916.7 1131.1,917.2 1132.7,917.1 1134.3,917.3 1135.9,917.6 1137.5,917.5 1139.1,917.9 1140.7,918.3 1142.3,917.7 1143.9,918.6 1145.5,918.3 1147.1,918.7 1148.7,918.4 1150.3,919.1 1150.9,918.9 1150.9,924.4 1150.3,923.8 1148.7,923.9 1147.1,923.9 1145.5,924.5 1143.9,924.1 1142.3,924.4 1140.7,924.8 1139.1,925.2 1137.5,925.6 1135.9,925.6 1134.3,925 1132.7,925.5 1131.1,925.5 1129.5,926.2 1127.9,926 1126.3,925.7 1124.7,925.6 1123.1,926.2 1121.5,926.2 1119.9,925.8 1118.3,925.7 1116.7,925.5 1115.1,926 1113.5,925.9 1111.9,925.6 1110.3,924.6 1108.7,924.7 1107.1,924.5 1105.5,924.4 1103.9,924.3 1102.3,923.7 1100.7,923.7" fill="#e5262a"/>
<polygon points="1227.1,918.7 1228.7,918 1230.3,917.9 1231.9,918.2 1233.5,918.2 1235.1,917.6 1236.7,917.2 1238.3,917.2 1239.9,916.5 1241.5,916.6 1243.1,915.6 1244.7,915.4 1246.3,915.2 1247.9,915.7 1249.5,915.5 1251.1,915 1252.7,915.4 1254.3,915 1255.9,915.5 1257.5,915.8 1259.1,915.2 1260.7,915.8 1262.3,915.5 1263.9,915.5 1265.5,915.8 1267.1,916.3 1268.7,916.6 1270.3,916.6 1271.9,917.5 1273.5,917.4 1275.1,917.9 1276.7,918 1278.3,917.7 1279.9,917.9 1281.5,918.2 1281.6,918.9 1281.6,924.5 1281.5,924.5 1279.9,924.2 1278.3,924 1276.7,924.3 1275.1,925.2 1273.5,925.7 1271.9,925.9 1270.3,925.4 1268.7,925.6 1267.1,926 1265.5,926.8 1263.9,926.3 1262.3,926.5 1260.7,927 1259.1,927.4 1257.5,926.9 1255.9,926.9 1254.3,927.8 1252.7,927.5 1251.1,927.3 1249.5,927.5 1247.9,927.4 1246.3,927.4 1244.7,927.4 1243.1,927.1 1241.5,926.5 1239.9,926.3 1238.3,925.8 1236.7,925.1 1235.1,925 1233.5,925.4 1231.9,925 1230.3,924.7 1228.7,924.8 1227.1,924.5" fill="#28518f"/>
<polygon points="1135.4,950.2 1137,950.7 1138.6,950.7 1140.2,949.9 1141.8,949.9 1143.4,949.5 1145,949.3 1146.6,949.1 1148.2,948.9 1149.8,949 1151.4,948.7 1153,948.4 1154.6,948.6 1156.2,948.6 1157.8,948.3 1159.4,948.7 1161,947.8 1162.6,947.9 1164.2,948.3 1165.8,948.2 1167.4,948.8 1169,948.5 1170.6,948.4 1172.2,948.7 1173.8,949.3 1175.4,949 1177,950 1178.6,949.6 1180.2,949.9 1181.8,950 1183.4,950.2 1184.1,950.6 1184.1,956 1183.4,956.3 1181.8,956.6 1180.2,956.6 1178.6,956.4 1177,956.4 1175.4,956.8 1173.8,957.1 1172.2,957.8 1170.6,957.5 1169,958.1 1167.4,957.8 1165.8,958.4 1164.2,957.9 1162.6,957.8 1161,957.9 1159.4,958.1 1157.8,958 1156.2,958.2 1154.6,958.5 1153,958.1 1151.4,957.6 1149.8,957.7 1148.2,957.4 1146.6,957.5 1145,957.1 1143.4,956.6 1141.8,956.9 1140.2,956.4 1138.6,956.6 1137,956.1 1135.4,956.2" fill="#28518f"/>
<polygon points="1236.2,950.5 1237.8,949.9 1239.4,949.7 1241,950.4 1242.6,949.5 1244.2,949.3 1245.8,949.6 1247.4,949.4 1249,948.8 1250.6,948.6 1252.2,948.9 1253.8,948.5 1255.4,948.5 1257,947.7 1258.6,947.7 1260.2,947.9 1261.8,948.4 1263.4,948.4 1265,948.8 1266.6,948.8 1268.2,948.9 1269.8,948.5 1271.4,948.7 1273,948.6 1274.6,949.4 1276.2,949 1277.8,949.1 1279.4,949.5 1281,949 1282.6,950.1 1284.2,950 1285.8,950 1287.4,950.3 1289,950.5 1290.6,950.8 1292.2,950.4 1293.8,951 1294.3,950.3 1294.3,956.1 1293.8,955.8 1292.2,955.8 1290.6,955.9 1289,956.5 1287.4,956.7 1285.8,956.5 1284.2,956.4 1282.6,957.2 1281,956.9 1279.4,956.7 1277.8,957.6 1276.2,957 1274.6,957.3 1273,957.4 1271.4,957.5 1269.8,957.5 1268.2,957.8 1266.6,957.7 1265,957.7 1263.4,958.5 1261.8,957.9 1260.2,958.4 1258.6,958.6 1257,958.6 1255.4,958.1 1253.8,958.5 1252.2,958.4 1250.6,957.6 1249,957.4 1247.4,957.1 1245.8,956.8 1244.2,957.4 1242.6,957.1 1241,956.1 1239.4,955.8 1237.8,956.4 1236.2,955.9" fill="#e5262a"/>
<polygon points="1200.4,982.3 1201.6,981.5 1202.8,981.4 1204,979.8 1205.2,978.5 1206.4,978 1207.6,978 1208.8,978.3 1210,977.8 1211.2,977.8 1212.4,978.2 1213.6,977.7 1214.8,978 1216,978.3 1217.2,977.5 1218.4,977.9 1219.6,977.9 1220.8,977.5 1222,978.1 1223.2,977.5 1224.4,977.5 1225.6,977.5 1226.8,977.6 1228,977.8 1229.2,977.8 1230.4,978.1 1231.6,977.8 1232.8,977.4 1234,978 1235.2,977.2 1236.4,978.1 1237.6,979.9 1238.8,980.9 1240,980.9 1241.2,981 1242.4,980.9 1243.6,981 1244.8,981.6 1246,981.6 1247.2,981.5 1248.4,981.6 1249.6,982.1 1250.8,982.2 1252,982 1253.2,982.4 1254.4,982.3 1254.9,982.9 1254.9,987.4 1254.4,987.9 1253.2,988.2 1252,988 1250.8,988.5 1249.6,988.5 1248.4,988.1 1247.2,988.8 1246,988.9 1244.8,988.7 1243.6,988.8 1242.4,989.1 1241.2,989.2 1240,989.5 1238.8,989.5 1237.6,989.7 1236.4,991.9 1235.2,992.8 1234,992.7 1232.8,992.6 1231.6,992.2 1230.4,992.6 1229.2,992.4 1228,992.5 1226.8,992.7 1225.6,992.2 1224.4,992.4 1223.2,992.5 1222,992.1 1220.8,992.3 1219.6,992.6 1218.4,992.4 1217.2,992.2 1216,992.6 1214.8,992.2 1213.6,992.2 1212.4,992.5 1211.2,992 1210,991.8 1208.8,991.8 1207.6,992.1 1206.4,991.8 1205.2,991.4 1204,990.4 1202.8,989.4 1201.6,988.1 1200.4,987.7" fill="#28518f"/>
<polygon points="1200.4,1014.3 1201.6,1014 1202.8,1013.1 1204,1011.9 1205.2,1010.4 1206.4,1009.6 1207.6,1009.7 1208.8,1009.6 1210,1009.4 1211.2,1009.3 1212.4,1008.5 1213.6,1009.1 1214.8,1008.6 1216,1008.2 1217.2,1008.3 1218.4,1008.2 1219.6,1008.1 1220.8,1008.7 1222,1008.8 1223.2,1008.6 1224.4,1008.2 1225.6,1008.2 1226.8,1008.3 1228,1008.4 1229.2,1008.1 1230.4,1008.6 1231.6,1009.7 1232.8,1011 1234,1011.5 1235.2,1011.8 1236.4,1011.7 1237.6,1012.4 1238.8,1012.4 1240,1012.4 1241.2,1012.4 1242.4,1012.5 1243.6,1012.7 1244.8,1013.3 1246,1013 1247.2,1013.4 1248.4,1013.5 1249.6,1013.2 1250.8,1013.7 1252,1014.1 1253.2,1014 1254.4,1013.9 1255.6,1014.6 1256.8,1014.8 1256.9,1014.1 1256.9,1019.4 1256.8,1019.8 1255.6,1020 1254.4,1020 1253.2,1019.9 1252,1020.5 1250.8,1020.3 1249.6,1020.2 1248.4,1020.5 1247.2,1020.6 1246,1020.9 1244.8,1021 1243.6,1020.8 1242.4,1021.1 1241.2,1021.2 1240,1021.4 1238.8,1021.6 1237.6,1022.1 1236.4,1022.1 1235.2,1022.1 1234,1022.3 1232.8,1022.7 1231.6,1024 1230.4,1025.1 1229.2,1025.6 1228,1025.8 1226.8,1025.1 1225.6,1025.2 1224.4,1025.1 1223.2,1025.8 1222,1025.4 1220.8,1025.8 1219.6,1025.5 1218.4,1025.8 1217.2,1025.4 1216,1025.5 1214.8,1025.2 1213.6,1024.9 1212.4,1025.1 1211.2,1025 1210,1024.8 1208.8,1024.1 1207.6,1024.6 1206.4,1024.2 1205.2,1023.1 1204,1021.9 1202.8,1020.7 1201.6,1020.5 1200.4,1019.7" fill="#28518f"/>
<polygon points="1201.9,1046.4 1203.1,1045.3 1204.3,1045 1205.5,1044.2 1206.7,1043.6 1207.9,1043.4 1209.1,1043.3 1210.3,1043.2 1211.5,1043.3 1212.7,1043.1 1213.9,1043.1 1215.1,1042.4 1216.3,1038.9 1217.5,1038.6 1218.7,1039.2 1219.9,1038.9 1221.1,1039.1 1222.3,1039.1 1223.5,1038.7 1224.7,1038.5 1225.9,1038.9 1227.1,1038.7 1228.3,1038.5 1229.5,1041.4 1230.7,1043.5 1231.9,1043.5 1233.1,1043.5 1234.3,1043.5 1235.5,1043.4 1236.7,1043.3 1237.9,1043.6 1239.1,1045.6 1240.3,1045.1 1241.5,1045.9 1242.7,1045.7 1243.9,1045.7 1245.1,1046 1246.3,1046.4 1246.9,1046.5 1246.9,1051.3 1246.3,1051.2 1245.1,1051.7 1243.9,1051.7 1242.7,1051.7 1241.5,1051.9 1240.3,1052.4 1239.1,1052.3 1237.9,1054.1 1236.7,1054.6 1235.5,1054.3 1234.3,1054.4 1233.1,1054.1 1231.9,1054.5 1230.7,1054.6 1229.5,1056.4 1228.3,1058.7 1227.1,1058.4 1225.9,1059 1224.7,1058.5 1223.5,1058.9 1222.3,1059 1221.1,1059.1 1219.9,1058.5 1218.7,1058.5 1217.5,1059.1 1216.3,1059 1215.1,1055.6 1213.9,1054.6 1212.7,1054.5 1211.5,1054.4 1210.3,1053.9 1209.1,1054.7 1207.9,1054.5 1206.7,1053.8 1205.5,1053.1 1204.3,1053.3 1203.1,1052.8 1201.9,1051.5" fill="#28518f"/>
<polygon points="1200.4,1078.2 1201.6,1077.1 1202.8,1076.5 1204,1075.9 1205.2,1074.3 1206.4,1073.6 1207.6,1073.2 1208.8,1073.5 1210,1072.8 1211.2,1073.2 1212.4,1072.7 1213.6,1072.6 1214.8,1072 1216,1072.4 1217.2,1071.9 1218.4,1071.8 1219.6,1072.1 1220.8,1072.2 1222,1072.5 1223.2,1072.5 1224.4,1072.1 1225.6,1072.1 1226.8,1071.9 1228,1072.1 1229.2,1072 1230.4,1072.4 1231.6,1073.8 1232.8,1074.6 1234,1075.4 1235.2,1075.3 1236.4,1075.8 1237.6,1075.7 1238.8,1075.8 1240,1076.1 1241.2,1076.5 1242.4,1077 1243.6,1077.1 1244.8,1076.6 1246,1077.1 1247.2,1076.8 1248.4,1077.3 1249.6,1077.3 1250.8,1077.6 1252,1077.4 1253.2,1077.6 1254.4,1077.8 1254.9,1078.3 1254.9,1083.5 1254.4,1083.6 1253.2,1083.8 1252,1084.1 1250.8,1083.9 1249.6,1083.7 1248.4,1083.8 1247.2,1084.2 1246,1084.6 1244.8,1084.2 1243.6,1084.6 1242.4,1084.9 1241.2,1084.6 1240,1085.3 1238.8,1085.5 1237.6,1085.3 1236.4,1085.8 1235.2,1086.3 1234,1086.3 1232.8,1086.9 1231.6,1087.9 1230.4,1089 1229.2,1089 1228,1089.3 1226.8,1089.4 1225.6,1088.9 1224.4,1089.2 1223.2,1089.5 1222,1089.1 1220.8,1088.9 1219.6,1089 1218.4,1089.3 1217.2,1089.4 1216,1089.1 1214.8,1089.1 1213.6,1088.6 1212.4,1088.9 1211.2,1088.6 1210,1088.5 1208.8,1088.5 1207.6,1088.2 1206.4,1087.6 1205.2,1087.3 1204,1085.9 1202.8,1084.4 1201.6,1083.7 1200.4,1083.5" fill="#28518f"/>
<polygon points="1200.4,1110 1201.6,1109.1 1202.8,1108.9 1204,1107.8 1205.2,1106.3 1206.4,1105.6 1207.6,1104.9 1208.8,1105.2 1210,1104.8 1211.2,1104.9 1212.4,1104.7 1213.6,1104.4 1214.8,1104.1 1216,1103.8 1217.2,1104.2 1218.4,1104 1219.6,1104 1220.8,1103.8 1222,1104.5 1223.2,1103.7 1224.4,1103.9 1225.6,1103.8 1226.8,1103.8 1228,1103.9 1229.2,1104.4 1230.4,1104.4 1231.6,1105.3 1232.8,1106.6 1234,1107.1 1235.2,1107.2 1236.4,1107.2 1237.6,1107.6 1238.8,1108 1240,1108.2 1241.2,1108 1242.4,1108 1243.6,1108.2 1244.8,1108.7 1246,1108.6 1247.2,1108.5 1248.4,1109.1 1249.6,1108.8 1250.8,1108.8 1252,1109.5 1253.2,1109.1 1254.4,1109.6 1255.6,1109 1256.8,1109.3 1258,1110 1259.2,1109.6 1260.4,1109.9 1260.9,1109.9 1260.9,1115.5 1260.4,1115.5 1259.2,1115.7 1258,1115.8 1256.8,1115.4 1255.6,1116.1 1254.4,1115.7 1253.2,1115.6 1252,1115.7 1250.8,1115.9 1249.6,1116.5 1248.4,1116.4 1247.2,1116.8 1246,1116.5 1244.8,1116.5 1243.6,1116.9 1242.4,1116.9 1241.2,1116.5 1240,1117.1 1238.8,1116.9 1237.6,1117 1236.4,1118 1235.2,1118.2 1234,1118.1 1232.8,1118.7 1231.6,1119.9 1230.4,1120.7 1229.2,1121.1 1228,1121.3 1226.8,1121.1 1225.6,1121.4 1224.4,1120.9 1223.2,1121 1222,1121.2 1220.8,1121.4 1219.6,1121.4 1218.4,1120.7 1217.2,1121.3 1216,1121.2 1214.8,1121.4 1213.6,1121 1212.4,1120.9 1211.2,1120.2 1210,1120.2 1208.8,1119.7 1207.6,1120.2 1206.4,1119.9 1205.2,1119.1 1204,1117.6 1202.8,1116.5 1201.6,1115.9 1200.4,1115.4" fill="#28518f"/>
<polygon points="1200.4,1141.9 1201.6,1141.2 1202.8,1140.4 1204,1139.7 1205.2,1138.2 1206.4,1137.3 1207.6,1136.8 1208.8,1136.6 1210,1136.7 1211.2,1136.4 1212.4,1136.2 1213.6,1136 1214.8,1135.6 1216,1135.9 1217.2,1135.9 1218.4,1135.7 1219.6,1136 1220.8,1135.9 1222,1135.9 1223.2,1135.6 1224.4,1135.8 1225.6,1135.7 1226.8,1136.3 1228,1135.8 1229.2,1135.9 1230.4,1136.1 1231.6,1137.3 1232.8,1138 1234,1138.7 1235.2,1138.9 1236.4,1139.3 1237.6,1139.3 1238.8,1139.6 1240,1140.2 1241.2,1140.1 1242.4,1140.3 1243.6,1140.3 1244.8,1140.4 1246,1140.2 1247.2,1140.5 1248.4,1140.6 1249.6,1140.6 1250.8,1140.7 1252,1140.5 1253.2,1141.3 1254.4,1141.2 1255.6,1141.3 1256.8,1141.6 1258,1141.5 1259.2,1141.6 1260.4,1141.9 1261.6,1141.9 1261.9,1141.7 1261.9,1146.8 1261.6,1147.2 1260.4,1147.5 1259.2,1147.7 1258,1147.1 1256.8,1147.4 1255.6,1148 1254.4,1148.1 1253.2,1147.9 1252,1147.8 1250.8,1148 1249.6,1148.5 1248.4,1148.1 1247.2,1148.2 1246,1148.5 1244.8,1148.6 1243.6,1148.4 1242.4,1148.9 1241.2,1149 1240,1149.2 1238.8,1148.9 1237.6,1149.5 1236.4,1149.2 1235.2,1150 1234,1150 1232.8,1150.3 1231.6,1151.3 1230.4,1152.9 1229.2,1153.2 1228,1152.6 1226.8,1153.3 1225.6,1152.8 1224.4,1152.7 1223.2,1152.9 1222,1152.6 1220.8,1152.5 1219.6,1152.7 1218.4,1153.1 1217.2,1153.3 1216,1152.6 1214.8,1152.6 1213.6,1152.4 1212.4,1152.9 1211.2,1152.3 1210,1151.8 1208.8,1151.9 1207.6,1151.7 1206.4,1151.4 1205.2,1150.9 1204,1149.3 1202.8,1148.1 1201.6,1147.9 1200.4,1147.2" fill="#28518f"/>
<polygon points="1200.4,1174 1201.6,1173.2 1202.8,1172.3 1204,1171.2 1205.2,1170.1 1206.4,1169.3 1207.6,1169.4 1208.8,1168.9 1210,1168.8 1211.2,1168.2 1212.4,1168.3 1213.6,1168.3 1214.8,1167.6 1216,1167.6 1217.2,1168.2 1218.4,1167.9 1219.6,1168.2 1220.8,1168.1 1222,1167.5 1223.2,1167.8 1224.4,1167.6 1225.6,1167.8 1226.8,1168.1 1228,1167.6 1229.2,1167.5 1230.4,1167.8 1231.6,1169.5 1232.8,1170.2 1234,1170.4 1235.2,1170.8 1236.4,1171.3 1237.6,1171.2 1238.8,1172 1240,1172.2 1241.2,1172.1 1242.4,1172.3 1243.6,1172.5 1244.8,1172.9 1246,1173 1247.2,1172.5 1248.4,1173.1 1249.6,1172.6 1250.8,1173.5 1252,1173 1253.2,1173.7 1254.4,1173.4 1254.9,1173.5 1254.9,1178.9 1254.4,1179.1 1253.2,1179.4 1252,1179.3 1250.8,1179.5 1249.6,1179.3 1248.4,1179.8 1247.2,1179.8 1246,1179.9 1244.8,1180.5 1243.6,1180.1 1242.4,1180.4 1241.2,1180.3 1240,1180.8 1238.8,1180.8 1237.6,1180.8 1236.4,1181.5 1235.2,1181.5 1234,1181.9 1232.8,1182.4 1231.6,1183.3 1230.4,1184.6 1229.2,1184.4 1228,1184.9 1226.8,1184.6 1225.6,1185 1224.4,1185.1 1223.2,1184.9 1222,1184.7 1220.8,1185 1219.6,1185.1 1218.4,1184.5 1217.2,1185 1216,1185 1214.8,1184.8 1213.6,1184.5 1212.4,1184.2 1211.2,1184.3 1210,1183.7 1208.8,1184 1207.6,1183.3 1206.4,1183.4 1205.2,1182.6 1204,1181.4 1202.8,1179.9 1201.6,1179.4 1200.4,1178.9" fill="#28518f"/>
<polygon points="1200.4,1205.5 1201.6,1204.7 1202.8,1203.9 1204,1203.5 1205.2,1202 1206.4,1201.4 1207.6,1201.2 1208.8,1200.9 1210,1200.7 1211.2,1199.9 1212.4,1200.2 1213.6,1200.1 1214.8,1199.7 1216,1200 1217.2,1199.3 1218.4,1199.3 1219.6,1199.6 1220.8,1200 1222,1199.3 1223.2,1199.6 1224.4,1200 1225.6,1200 1226.8,1199.6 1228,1199.4 1229.2,1199.9 1230.4,1200 1231.6,1201 1232.8,1201.8 1234,1202.1 1235.2,1202.6 1236.4,1203 1237.6,1203.7 1238.8,1203.7 1240,1203.9 1241.2,1204 1242.4,1204.1 1243.6,1204.3 1244.8,1203.9 1246,1204.3 1247.2,1204.6 1248.4,1204 1249.6,1204.8 1250.8,1204.4 1252,1205 1253.2,1204.7 1254.4,1204.7 1255.6,1205.2 1256.8,1205.3 1258,1205.3 1259.2,1205.3 1260.4,1205.8 1261.6,1205.4 1261.9,1205.8 1261.9,1210.6 1261.6,1210.4 1260.4,1210.6 1259.2,1210.9 1258,1211.4 1256.8,1211.3 1255.6,1211.3 1254.4,1211.6 1253.2,1211.6 1252,1212 1250.8,1211.7 1249.6,1212 1248.4,1211.9 1247.2,1211.9 1246,1211.9 1244.8,1212.3 1243.6,1212.4 1242.4,1212.8 1241.2,1212.1 1240,1212.6 1238.8,1212.4 1237.6,1213.2 1236.4,1212.9 1235.2,1213.7 1234,1214 1232.8,1214.1 1231.6,1215 1230.4,1216.6 1229.2,1216.5 1228,1216.3 1226.8,1216.5 1225.6,1216.3 1224.4,1216.3 1223.2,1216.9 1222,1216.7 1220.8,1216.3 1219.6,1216.3 1218.4,1216.3 1217.2,1217 1216,1216.4 1214.8,1216.8 1213.6,1216.3 1212.4,1216.5 1211.2,1216 1210,1216.2 1208.8,1215.4 1207.6,1215.6 1206.4,1215.2 1205.2,1214.6 1204,1213.5 1202.8,1212.2 1201.6,1211.5 1200.4,1211" fill="#28518f"/>
<polygon points="1200.4,1237.5 1201.6,1236.9 1202.8,1236.4 1204,1234.6 1205.2,1233.8 1206.4,1232.8 1207.6,1232.7 1208.8,1232.2 1210,1232.6 1211.2,1231.9 1212.4,1232.1 1213.6,1231.9 1214.8,1231.4 1216,1231.6 1217.2,1231.3 1218.4,1231.5 1219.6,1231.2 1220.8,1231.2 1222,1231.4 1223.2,1231.4 1224.4,1231.4 1225.6,1231.5 1226.8,1231.3 1228,1231.8 1229.2,1231.3 1230.4,1231.8 1231.6,1232.6 1232.8,1233.9 1234,1234.6 1235.2,1234.9 1236.4,1234.7 1237.6,1235.5 1238.8,1235.6 1240,1235.7 1241.2,1235.8 1242.4,1235.9 1243.6,1236 1244.8,1236.2 1246,1236.5 1247.2,1236.9 1248.4,1236.6 1249.6,1237.6 1250.8,1237.5 1251.9,1237.4 1251.9,1242.2 1250.8,1242.9 1249.6,1243.2 1248.4,1243.1 1247.2,1243.4 1246,1243.5 1244.8,1243.5 1243.6,1243.7 1242.4,1243.9 1241.2,1244.5 1240,1244.1 1238.8,1244.4 1237.6,1244.5 1236.4,1245.3 1235.2,1245.8 1234,1245.5 1232.8,1246.3 1231.6,1247.3 1230.4,1248.2 1229.2,1248.7 1228,1248.8 1226.8,1248.6 1225.6,1248.4 1224.4,1248.6 1223.2,1248.5 1222,1248.2 1220.8,1248.7 1219.6,1248.8 1218.4,1248.5 1217.2,1248.2 1216,1248.8 1214.8,1248.3 1213.6,1248.7 1212.4,1247.8 1211.2,1247.8 1210,1247.5 1208.8,1247.7 1207.6,1247.2 1206.4,1246.9 1205.2,1246 1204,1245.1 1202.8,1244.4 1201.6,1243.4 1200.4,1242.6" fill="#28518f"/>
<polygon points="1200.4,1269.3 1201.6,1268.6 1202.8,1267.6 1204,1267.2 1205.2,1265.4 1206.4,1264.8 1207.6,1264.7 1208.8,1264 1210,1264.2 1211.2,1263.8 1212.4,1263.9 1213.6,1264 1214.8,1263.2 1216,1263.6 1217.2,1263.7 1218.4,1263.6 1219.6,1263.4 1220.8,1263.3 1222,1263.2 1223.2,1263.5 1224.4,1263.4 1225.6,1263.6 1226.8,1263.5 1228,1263.2 1229.2,1263.3 1230.4,1264 1231.6,1265.1 1232.8,1266.1 1234,1266.1 1235.2,1266.9 1236.4,1267 1237.6,1267.2 1238.8,1267.4 1240,1267.7 1241.2,1267.7 1242.4,1268.1 1243.6,1267.7 1244.8,1267.9 1246,1268.5 1247.2,1268.8 1248.4,1268.6 1249.6,1269.1 1250.8,1269.5 1251.9,1269.4 1251.9,1274.8 1250.8,1274.8 1249.6,1274.5 1248.4,1274.8 1247.2,1275.5 1246,1275.6 1244.8,1275.4 1243.6,1275.5 1242.4,1276.1 1241.2,1276.1 1240,1276.6 1238.8,1276.4 1237.6,1277.1 1236.4,1277.1 1235.2,1277.3 1234,1277.7 1232.8,1278.1 1231.6,1279.2 1230.4,1279.8 1229.2,1280.6 1228,1280.8 1226.8,1280.8 1225.6,1280.4 1224.4,1280.4 1223.2,1280.7 1222,1280.2 1220.8,1280.1 1219.6,1280.2 1218.4,1280.2 1217.2,1280.3 1216,1280.4 1214.8,1280.7 1213.6,1279.9 1212.4,1280.3 1211.2,1279.5 1210,1279.2 1208.8,1279.4 1207.6,1279.5 1206.4,1279.2 1205.2,1278.4 1204,1276.8 1202.8,1275.9 1201.6,1275.3 1200.4,1274.1" fill="#28518f"/>
<polygon points="1200.4,1301.3 1201.6,1300.4 1202.8,1299.5 1204,1296.4 1205.2,1294.1 1206.4,1294 1207.6,1294.2 1208.8,1294.1 1210,1294.6 1211.2,1294.7 1212.4,1294.4 1213.6,1294.2 1214.8,1294.1 1216,1294.1 1217.2,1294.2 1218.4,1294.2 1219.6,1294.3 1220.8,1294.2 1222,1294.2 1223.2,1294.5 1224.4,1294.5 1225.6,1294.6 1226.8,1294.5 1228,1294.3 1229.2,1296 1230.4,1299.7 1231.6,1299.7 1232.8,1299.8 1234,1299.5 1235.2,1299.9 1236.4,1299.9 1237.6,1300.3 1238.8,1300 1240,1299.8 1241.2,1300 1242.4,1300.4 1243.6,1300.5 1244.8,1300.8 1246,1300.6 1247.2,1301 1248.4,1301 1249.6,1301.6 1249.9,1301.3 1249.9,1306.2 1249.6,1306.2 1248.4,1306.2 1247.2,1306.7 1246,1307 1244.8,1307 1243.6,1307.1 1242.4,1306.8 1241.2,1307.4 1240,1307 1238.8,1307.6 1237.6,1307.6 1236.4,1307.8 1235.2,1307.8 1234,1307.5 1232.8,1307.7 1231.6,1308.4 1230.4,1308.4 1229.2,1311.9 1228,1313.4 1226.8,1313.4 1225.6,1313.1 1224.4,1313 1223.2,1313.1 1222,1313.5 1220.8,1313.2 1219.6,1313.4 1218.4,1313.6 1217.2,1312.9 1216,1313 1214.8,1313.1 1213.6,1313 1212.4,1313.6 1211.2,1313.6 1210,1313.1 1208.8,1313.2 1207.6,1313.3 1206.4,1313 1205.2,1312.9 1204,1311.1 1202.8,1307.9 1201.6,1307.1 1200.4,1306.5" fill="#28518f"/>
<polygon points="1200.4,1333.3 1201.6,1332.1 1202.8,1331.4 1204,1328.7 1205.2,1325.8 1206.4,1326.4 1207.6,1326.4 1208.8,1326.4 1210,1326.5 1211.2,1326.5 1212.4,1326.2 1213.6,1325.9 1214.8,1326.4 1216,1326.3 1217.2,1326 1218.4,1325.9 1219.6,1326.2 1220.8,1325.8 1222,1326.2 1223.2,1326.4 1224.4,1326.2 1225.6,1326 1226.8,1326.1 1228,1325.8 1229.2,1327.6 1230.4,1331 1231.6,1331.1 1232.8,1331.8 1234,1331.9 1235.2,1331.7 1236.4,1331.6 1237.6,1331.9 1238.8,1331.9 1240,1331.9 1241.2,1332 1242.4,1332.9 1243.6,1332.5 1244.8,1332.5 1246,1332.6 1246.9,1333 1246.9,1338.3 1246,1338.7 1244.8,1338.6 1243.6,1338.4 1242.4,1339 1241.2,1338.9 1240,1339 1238.8,1339.1 1237.6,1339.4 1236.4,1339.7 1235.2,1339.5 1234,1340.1 1232.8,1340.1 1231.6,1340.2 1230.4,1339.8 1229.2,1343.6 1228,1345.4 1226.8,1344.9 1225.6,1345 1224.4,1344.8 1223.2,1345.2 1222,1345 1220.8,1344.9 1219.6,1345.5 1218.4,1344.8 1217.2,1345.3 1216,1345.1 1214.8,1345.3 1213.6,1345.1 1212.4,1345 1211.2,1345.4 1210,1345.1 1208.8,1345 1207.6,1345.1 1206.4,1345.3 1205.2,1345.1 1204,1342.5 1202.8,1339.8 1201.6,1338.8 1200.4,1337.8" fill="#28518f"/>
<polygon points="1200.4,1364.6 1201.6,1364 1202.8,1363.9 1204,1360.5 1205.2,1357.8 1206.4,1358.1 1207.6,1358.4 1208.8,1357.7 1210,1357.9 1211.2,1358.4 1212.4,1358.3 1213.6,1357.7 1214.8,1358.3 1216,1357.6 1217.2,1358 1218.4,1357.7 1219.6,1358 1220.8,1357.8 1222,1358.2 1223.2,1357.9 1224.4,1357.9 1225.6,1358.4 1226.8,1358.4 1228,1358 1229.2,1359.6 1230.4,1362.7 1231.6,1363.5 1232.8,1362.9 1234,1363.5 1235.2,1363.2 1236.4,1363.4 1237.6,1363.6 1238.8,1363.8 1240,1364.3 1241.2,1363.8 1242.4,1363.8 1243.6,1363.9 1244.8,1364.5 1246,1364.3 1247.2,1364.8 1248.4,1364.7 1249.6,1365 1249.9,1364.7 1249.9,1370.2 1249.6,1370 1248.4,1370.6 1247.2,1370.7 1246,1370.8 1244.8,1370.5 1243.6,1370.9 1242.4,1371 1241.2,1371.2 1240,1371.1 1238.8,1371.1 1237.6,1371.6 1236.4,1371.2 1235.2,1371.3 1234,1372 1232.8,1371.7 1231.6,1371.8 1230.4,1372 1229.2,1375.9 1228,1377.2 1226.8,1377.4 1225.6,1377.1 1224.4,1376.8 1223.2,1377.1 1222,1377.4 1220.8,1376.8 1219.6,1377.1 1218.4,1376.9 1217.2,1377.4 1216,1377 1214.8,1377.3 1213.6,1377.1 1212.4,1377.2 1211.2,1377 1210,1377.3 1208.8,1377.4 1207.6,1377.2 1206.4,1377 1205.2,1376.8 1204,1374.2 1202.8,1371.2 1201.6,1370.8 1200.4,1369.7" fill="#28518f"/>
<polygon points="1200.4,1397.2 1201.6,1395.9 1202.8,1395.6 1204,1392.5 1205.2,1390.3 1206.4,1390.1 1207.6,1390.2 1208.8,1389.5 1210,1389.7 1211.2,1389.8 1212.4,1390.2 1213.6,1389.9 1214.8,1389.8 1216,1389.9 1217.2,1390 1218.4,1390 1219.6,1390.3 1220.8,1390.1 1222,1389.9 1223.2,1389.5 1224.4,1389.5 1225.6,1390.2 1226.8,1390.1 1228,1389.9 1229.2,1391.2 1230.4,1395.1 1231.6,1395.2 1232.8,1395.2 1234,1395.6 1235.2,1395.4 1236.4,1396.1 1237.6,1396.4 1238.8,1396.2 1240,1396.1 1241.2,1396.7 1242.4,1396.5 1242.9,1397.1 1242.9,1401.5 1242.4,1402.3 1241.2,1402.4 1240,1402.4 1238.8,1402.7 1237.6,1403 1236.4,1402.7 1235.2,1403.3 1234,1403.2 1232.8,1403.5 1231.6,1403.7 1230.4,1403.6 1229.2,1407.1 1228,1408.8 1226.8,1409.2 1225.6,1408.9 1224.4,1409.2 1223.2,1408.6 1222,1409.1 1220.8,1408.7 1219.6,1408.8 1218.4,1409.1 1217.2,1409.3 1216,1408.5 1214.8,1408.8 1213.6,1408.8 1212.4,1409.3 1211.2,1408.6 1210,1409.2 1208.8,1408.9 1207.6,1408.6 1206.4,1409.1 1205.2,1409.2 1204,1406.6 1202.8,1403 1201.6,1402.9 1200.4,1401.9" fill="#28518f"/>
<polygon points="1200.4,1428.9 1201.6,1428 1202.8,1427.2 1204,1424.2 1205.2,1421.9 1206.4,1421.9 1207.6,1421.6 1208.8,1421.7 1210,1421.6 1211.2,1421.7 1212.4,1421.5 1213.6,1421.7 1214.8,1421.9 1216,1421.7 1217.2,1422.1 1218.4,1422 1219.6,1422.2 1220.8,1422.1 1222,1421.8 1223.2,1421.5 1224.4,1421.6 1225.6,1421.4 1226.8,1421.4 1228,1421.4 1229.2,1423.4 1230.4,1426.8 1231.6,1427.3 1232.8,1427.2 1234,1427.3 1235.2,1427.2 1236.4,1427.4 1237.6,1428.2 1238.8,1428 1240,1428.3 1241.2,1428.3 1242.4,1429 1242.9,1429.1 1242.9,1433.9 1242.4,1433.6 1241.2,1434.4 1240,1434.4 1238.8,1434.1 1237.6,1434.5 1236.4,1435 1235.2,1434.6 1234,1435.1 1232.8,1435.1 1231.6,1435.9 1230.4,1435.3 1229.2,1439.1 1228,1440.7 1226.8,1440.6 1225.6,1441.1 1224.4,1440.5 1223.2,1440.7 1222,1440.5 1220.8,1440.7 1219.6,1441.1 1218.4,1440.7 1217.2,1441.1 1216,1440.4 1214.8,1441 1213.6,1440.8 1212.4,1440.7 1211.2,1440.9 1210,1441 1208.8,1440.4 1207.6,1441 1206.4,1440.8 1205.2,1440.8 1204,1438 1202.8,1435.3 1201.6,1434.1 1200.4,1433.9" fill="#28518f"/>
<polygon points="1200.4,1461 1201.6,1460 1202.8,1459.4 1204,1455.6 1205.2,1452.9 1206.4,1452.8 1207.6,1452.7 1208.8,1452.6 1210,1452.8 1211.2,1452.7 1212.4,1453.2 1213.6,1453.1 1214.8,1452.6 1216,1453.1 1217.2,1453.1 1218.4,1454.1 1219.6,1455.9 1220.8,1455.5 1222,1455.5 1223.2,1455.5 1224.4,1455.3 1225.6,1455.5 1226.8,1455.3 1228,1455.9 1229.2,1458.6 1230.4,1459 1231.6,1459.6 1232.8,1459.7 1234,1459.7 1235.2,1459.5 1236.4,1460 1237.6,1460 1238.8,1460.5 1240,1460.3 1240.9,1460.7 1240.9,1465.6 1240,1465.9 1238.8,1466.3 1237.6,1466.6 1236.4,1466.8 1235.2,1466.9 1234,1466.5 1232.8,1466.9 1231.6,1466.7 1230.4,1467.3 1229.2,1467.3 1228,1470.5 1226.8,1470.3 1225.6,1470.8 1224.4,1470.6 1223.2,1470.9 1222,1470.7 1220.8,1470.8 1219.6,1471 1218.4,1472 1217.2,1473.4 1216,1473.2 1214.8,1473.1 1213.6,1473.5 1212.4,1473.6 1211.2,1473.2 1210,1473.6 1208.8,1473.8 1207.6,1473.4 1206.4,1473.5 1205.2,1473.5 1204,1470.6 1202.8,1467.4 1201.6,1466.2 1200.4,1465.5" fill="#28518f"/>
<polygon points="1200.4,1492.1 1201.6,1492 1202.8,1491.1 1204,1487.2 1205.2,1484.5 1206.4,1485.1 1207.6,1484.4 1208.8,1485 1210,1484.5 1211.2,1484.9 1212.4,1485 1213.6,1485.1 1214.8,1484.4 1216,1484.9 1217.2,1484.7 1218.4,1485.9 1219.6,1487.4 1220.8,1487.4 1222,1487.7 1223.2,1487.7 1224.4,1487.6 1225.6,1487.4 1226.8,1487.2 1228,1487.5 1229.2,1490.8 1230.4,1490.9 1231.6,1491.5 1232.8,1490.8 1234,1491.1 1235.2,1491.3 1236.4,1491.8 1237.6,1491.9 1238.8,1491.7 1240,1492 1241.2,1492.3 1241.9,1492.4 1241.9,1497.3 1241.2,1497.6 1240,1498.2 1238.8,1498 1237.6,1498.3 1236.4,1498.4 1235.2,1498.5 1234,1498.9 1232.8,1498.8 1231.6,1498.9 1230.4,1499.2 1229.2,1498.8 1228,1501.9 1226.8,1502.5 1225.6,1502.8 1224.4,1502.1 1223.2,1502.2 1222,1502.8 1220.8,1502.4 1219.6,1502.3 1218.4,1503.5 1217.2,1505 1216,1505.1 1214.8,1505.7 1213.6,1505.7 1212.4,1505 1211.2,1505.3 1210,1505.1 1208.8,1505.4 1207.6,1505.3 1206.4,1505.2 1205.2,1505.6 1204,1502.3 1202.8,1498.7 1201.6,1497.9 1200.4,1497.8" fill="#28518f"/>
<polygon points="1200.4,1524.4 1201.6,1524 1202.8,1522.5 1204,1519.7 1205.2,1516.2 1206.4,1516.3 1207.6,1516.7 1208.8,1516.3 1210,1516.6 1211.2,1516.2 1212.4,1516.4 1213.6,1516.6 1214.8,1516.7 1216,1516.5 1217.2,1516.8 1218.4,1518.1 1219.6,1519.1 1220.8,1519.5 1222,1519 1223.2,1519.5 1224.4,1519.4 1225.6,1519.2 1226.8,1519.5 1228,1519.8 1229.2,1522.5 1230.4,1522.9 1231.6,1523.3 1232.8,1523.2 1234,1522.9 1235.2,1523.7 1236.4,1523.4 1237.6,1523.9 1238.8,1523.8 1240,1524.1 1240.9,1524.7 1240.9,1529.1 1240,1529.2 1238.8,1529.7 1237.6,1529.9 1236.4,1529.8 1235.2,1530.3 1234,1530.5 1232.8,1530.8 1231.6,1530.6 1230.4,1530.9 1229.2,1531.1 1228,1533.9 1226.8,1534.7 1225.6,1534.4 1224.4,1534.2 1223.2,1534.1 1222,1534.1 1220.8,1534.5 1219.6,1534.3 1218.4,1535.7 1217.2,1537 1216,1537.5 1214.8,1536.9 1213.6,1537.2 1212.4,1537 1211.2,1536.8 1210,1537.2 1208.8,1536.8 1207.6,1537.1 1206.4,1537.4 1205.2,1537.2 1204,1534.7 1202.8,1531.1 1201.6,1530.1 1200.4,1529.5" fill="#28518f"/>
<polygon points="1200.4,1556.1 1201.6,1555.1 1202.8,1554.6 1204,1551.2 1205.2,1548.7 1206.4,1548.5 1207.6,1548.1 1208.8,1548.6 1210,1548.6 1211.2,1548.5 1212.4,1548.4 1213.6,1548.7 1214.8,1548.6 1216,1548.7 1217.2,1548.3 1218.4,1550.2 1219.6,1551.3 1220.8,1551.5 1222,1551.2 1223.2,1551.3 1224.4,1551.5 1225.6,1551.5 1226.8,1551.1 1228,1551.8 1229.2,1554.5 1230.4,1554.6 1231.6,1555.2 1232.8,1555 1234,1554.7 1235.2,1555.3 1236.4,1555.6 1237.6,1555.1 1238.8,1555.5 1240,1555.7 1241.2,1555.7 1242.4,1555.9 1242.9,1555.9 1242.9,1561.6 1242.4,1561.1 1241.2,1561.5 1240,1561.7 1238.8,1562 1237.6,1562 1236.4,1562.3 1235.2,1562.5 1234,1562.3 1232.8,1562.4 1231.6,1562.4 1230.4,1562.5 1229.2,1562.7 1228,1566.1 1226.8,1566.4 1225.6,1566 1224.4,1566.2 1223.2,1566.1 1222,1566 1220.8,1565.9 1219.6,1566.6 1218.4,1567.2 1217.2,1569 1216,1568.9 1214.8,1568.9 1213.6,1569 1212.4,1569.1 1211.2,1568.7 1210,1568.8 1208.8,1568.9 1207.6,1568.8 1206.4,1569.2 1205.2,1569.3 1204,1566.6 1202.8,1562.4 1201.6,1562.2 1200.4,1561.6" fill="#28518f"/>
<polygon points="1200.4,1588.1 1201.6,1587 1202.8,1586.2 1204,1581.5 1205.2,1578 1206.4,1578 1207.6,1578.2 1208.8,1578 1210,1578.2 1211.2,1578.4 1212.4,1578.5 1213.6,1577.9 1214.8,1578.7 1216,1578 1217.2,1578.7 1218.4,1578.2 1219.6,1581.6 1220.8,1583.4 1222,1583 1223.2,1583.1 1224.4,1583.5 1225.6,1582.8 1226.8,1583 1228,1583.1 1229.2,1586.3 1230.4,1586.9 1231.6,1587.4 1232.8,1587.3 1234,1587.7 1234.9,1588.2 1234.9,1593.2 1234,1593 1232.8,1593.4 1231.6,1594.4 1230.4,1594.8 1229.2,1594.8 1228,1597.9 1226.8,1597.9 1225.6,1598 1224.4,1598.3 1223.2,1598 1222,1597.8 1220.8,1598.4 1219.6,1599.9 1218.4,1602.8 1217.2,1602.9 1216,1602.9 1214.8,1602.7 1213.6,1602.9 1212.4,1603.3 1211.2,1602.9 1210,1603 1208.8,1603.2 1207.6,1602.6 1206.4,1602.9 1205.2,1602.7 1204,1599.3 1202.8,1595.4 1201.6,1594 1200.4,1593.3" fill="#28518f"/>
<polygon points="1200.4,1619.7 1201.6,1618.9 1202.8,1617.7 1204,1613.7 1205.2,1610.7 1206.4,1610.3 1207.6,1610.4 1208.8,1610.9 1210,1610.7 1211.2,1610.1 1212.4,1610.2 1213.6,1610.7 1214.8,1610.8 1216,1610.7 1217.2,1610.6 1218.4,1610.8 1219.6,1615.2 1220.8,1615.2 1222,1615.3 1223.2,1615.4 1224.4,1615.2 1225.6,1615.6 1226.8,1615.1 1228,1618.3 1229.2,1618.3 1230.4,1618.2 1231.6,1618.7 1232.8,1619 1234,1619.9 1235.2,1620.1 1235.9,1619.7 1235.9,1625 1235.2,1625.2 1234,1625.1 1232.8,1625.5 1231.6,1626 1230.4,1626.5 1229.2,1626.7 1228,1626.8 1226.8,1629.2 1225.6,1629.7 1224.4,1629.3 1223.2,1629.2 1222,1629.4 1220.8,1629.2 1219.6,1629.2 1218.4,1634.7 1217.2,1634.7 1216,1634.2 1214.8,1634.6 1213.6,1634.3 1212.4,1634.8 1211.2,1634.1 1210,1634.7 1208.8,1634.4 1207.6,1634.7 1206.4,1634.5 1205.2,1634.4 1204,1631.2 1202.8,1626.6 1201.6,1626.3 1200.4,1625" fill="#28518f"/>
<polygon points="1200.4,1651.7 1201.6,1650.6 1202.8,1649.8 1204,1646.3 1205.2,1643.8 1206.4,1642.5 1207.6,1642.6 1208.8,1642.5 1210,1642 1211.2,1642.6 1212.4,1642.4 1213.6,1642.4 1214.8,1642.4 1216,1642.4 1217.2,1642.3 1218.4,1642 1219.6,1649.7 1220.8,1649.2 1222,1649.6 1223.2,1649.5 1224.4,1650.1 1225.6,1649.5 1226.8,1649.7 1228,1649.9 1229.2,1650.3 1230.4,1650.1 1231.6,1650 1232.8,1650.7 1233.9,1651.9 1233.9,1656.9 1232.8,1657.4 1231.6,1658.7 1230.4,1658.3 1229.2,1658.3 1228,1658.9 1226.8,1658.8 1225.6,1658.8 1224.4,1658.7 1223.2,1659.4 1222,1658.8 1220.8,1659.3 1219.6,1659.4 1218.4,1666.3 1217.2,1666.5 1216,1666.2 1214.8,1666.7 1213.6,1666.5 1212.4,1666 1211.2,1666.4 1210,1666.6 1208.8,1666.1 1207.6,1666.7 1206.4,1666.5 1205.2,1665.7 1204,1661.9 1202.8,1659.1 1201.6,1657.9 1200.4,1656.8" fill="#28518f"/>
<polygon points="1200.2,1683.7 1201.4,1682.7 1202.6,1681.1 1203.8,1678.3 1205,1675.2 1206.2,1674.2 1207.4,1673.7 1208.6,1673.9 1209.8,1674 1211,1673.8 1212.2,1674.1 1213.4,1673.8 1214.6,1673.9 1215.8,1674.3 1217,1674.3 1218.2,1674.1 1219.4,1680.6 1220.6,1681.1 1221.8,1680.8 1223,1681.5 1224.2,1681 1225.4,1681.2 1226.6,1681.4 1227.8,1681.2 1229,1681.3 1230.2,1681.5 1231.4,1681.5 1232.6,1681.9 1233.8,1681.8 1235,1681.9 1236.2,1683.4 1236.9,1683.6 1236.9,1688.5 1236.2,1689.4 1235,1690.1 1233.8,1690.3 1232.6,1690.4 1231.4,1690.2 1230.2,1691 1229,1690.9 1227.8,1690.9 1226.6,1690.7 1225.4,1691.2 1224.2,1691 1223,1691.6 1221.8,1691.6 1220.6,1691.9 1219.4,1691.3 1218.2,1698.3 1217,1698.4 1215.8,1698.4 1214.6,1698.4 1213.4,1698.7 1212.2,1698.7 1211,1698.2 1209.8,1698.3 1208.6,1698.4 1207.4,1698.8 1206.2,1698.5 1205,1697 1203.8,1694.2 1202.6,1691.7 1201.4,1689.8 1200.2,1688.6" fill="#28518f"/>
<polygon points="1200.2,1715.8 1201.4,1702.7 1202.6,1702.9 1203.8,1702.9 1205,1703.1 1206.2,1703.1 1207.4,1703.2 1208.6,1703.3 1209.8,1702.7 1211,1711.7 1212.2,1711.8 1213.4,1711.6 1214.6,1711.2 1215.8,1711.7 1217,1711.2 1218.2,1711.5 1219.4,1711.4 1220.6,1712.5 1221.8,1715.3 1221.9,1715.4 1221.9,1720.2 1221.8,1721.2 1220.6,1723.8 1219.4,1724.9 1218.2,1724.6 1217,1724.3 1215.8,1724.3 1214.6,1724.4 1213.4,1724.5 1212.2,1724.5 1211,1724.5 1209.8,1733.5 1208.6,1733.2 1207.4,1733 1206.2,1733.2 1205,1733.4 1203.8,1732.9 1202.6,1733.1 1201.4,1733.1 1200.2,1720.6" fill="#28518f"/>
<path class="dP" d="M978.6 1526.8h0M1029.5 1336h0M1098.2 1717.9h0M1194 953.4h0M1017.9 1304.2h0M1151.8 920.3h0M1004.2 1144.1h0M993.6 1080.5h0M1031.9 1112.1h0M984.7 1526.7h0M1008.5 1144.9h0M1176.9 921.2h0M1130.3 1112.5h0M1043.8 1558.8h0M1095.2 1653.9h0M1063.9 1399.8h0M1047.4 1336h0M1103.9 1049.2h0M1198 952.7h0M1199 1622h0M1152.5 1717.9h0M1196.4 858.7h0M1000.4 1526.9h0M987 1526.7h0M1209.8 856.9h0M1033.6 1494.9h0M1018.5 1367.9h0M1019.6 1239.9h0M985.9 1494.9h0M1008.1 1240.3h0M1005 1239.7h0M1202.6 858.3h0M1191.1 856.5h0M982.3 1526.7h0M1013.6 1527.1h0M1054.8 1527.3h0M966.1 1176.1h0M991.4 1208.2h0M983.9 1144.6h0M1155.3 1718.3h0M1007.4 1240.3h0M1016 1494.7h0M1023.9 1495.1h0M981.2 1367.8h0M1014.8 1208.2h0M1168.4 920.5h0M1159.8 921.7h0M964.6 1081.1h0"/>
<path class="db" d="M1215 1247.2h0M1232 979.2h0M1202.5 1528.9h0M1256.1 1143.6h0M1248.9 1239h0M1241.6 1114.9h0M1212.3 1723.2h0M1209.8 1600.8h0M1224.6 1423.1h0M1204.7 1601.2h0M1223.8 1202h0M1234.4 1013.8h0M1239.4 1496.2h0M1236.3 1686.7h0M1233.8 1365.3h0M1214.9 1503.1h0M1220.1 1202h0M1204.8 1503.7h0M1244 1178.7h0M1226.9 1214.5h0M1217.7 1550.1h0M1240.5 1048h0M1207.4 1697h0M1241.1 1141.8h0M1214.8 1550.6h0M1236.3 1302.1h0M1215.4 1074.7h0M1231.4 1267.4h0M1217.3 1183.1h0M1235.9 1398.3h0M1233.9 1401.5h0M1246 1369.1h0M1212.3 1550.3h0M1216.8 1535.5h0M1217.3 1722.9h0M1248.1 1146.8h0M1251.1 1015h0M1224.3 1375.2h0M1219.8 1564.8h0M1226.8 1532.1h0M1234.5 1140.7h0M1241.3 1206h0M1207.1 1327.4h0M1216.7 1265.7h0M1243.2 1206.3h0M1234.2 1084.9h0M1221.9 1595.7h0M1253.7 1017.6h0M1217.7 1311.4h0M1224.5 1501.1h0M1238.3 1205.4h0M1239.3 1146.9h0M1202.5 1560.5h0M1207.6 1705.3h0M1247.9 983.3h0M1204.8 1695.1h0M1236.2 1084.3h0M1239.3 1275.2h0M1232 1106.7h0M1236.8 989.6h0M1219.1 1087.2h0M1204.7 1296h0M1240.8 987.8h0M1214.6 1119.6h0M1214.9 990.4h0M1255.5 1146.5h0M1234.6 1301.5h0M1215.1 1343.5h0M1233.8 1683.7h0M1210.1 1203h0M1236.2 1077.3h0M1253.1 1142.8h0M1214.7 1182.8h0M1217.5 1296.9h0M1203.3 1369.3h0M1202.5 1333.9h0M1209.8 1182.4h0M1246.1 982.7h0M1246.6 1238h0M1246.5 1241.9h0M1217.7 1503.4h0M1224.9 1310.9h0M1229.8 1651.4h0M1226.8 1024.1h0M1219.6 1182.9h0M1214.9 1580.5h0M1236.9 1557h0M1222.1 1500.4h0M1220 1151.1h0M1234.2 1557.6h0M1212 1138.3h0M1207.6 1665.1h0M1210.6 1455.4h0M1212 1051.8h0M1238.4 1560.2h0M1217 1471.5h0M1209.7 1245.7h0M1224.7 1278.9h0M1226.3 1265.2h0M1215.4 1455h0M1202.9 1401.9h0M1221.1 1057.3h0M1248.5 1110.4h0M1226.8 1277.9h0M1227.4 1563.9h0M1212.9 1665.2h0M1210.1 1551h0M1205.5 1276.3h0M1211.9 1535.1h0M1211.9 1311.7h0M1228.8 1524.5h0M1212.3 1233.2h0M1202.9 1110.8h0M1231.3 1276.9h0M1229.2 1328.8h0M1214.7 1644.2h0M1210.1 1106.5h0M1226.8 990.7h0M1240.6 1014.5h0M1238.7 1369.4h0M1212 1327.4h0M1229.7 1150.5h0M1219.2 1057h0M1207.6 1423.8h0M1212.8 1118.6h0M1209.5 1233.8h0M1239 1110.2h0M1233.4 1528.7h0M1204.8 1085h0M1214.4 1663.9h0M1219.4 1138.3h0M1231.7 1333.9h0M1240.7 1146.7h0M1250.3 1174.8h0M1209.2 1676.2h0M1234.6 1205h0"/>
<path class="dB" d="M1052.9 1017.1h0M1046.6 1526.9h0M1135.3 1654.3h0M999 1495.2h0M1032.9 1367.5h0M1019.6 1272.2h0M984.2 1016.5h0M1065.6 1399.3h0M1116 1048.5h0M1154.4 921.4h0M1185.7 1048.6h0M1060.1 1336h0M1108.1 857.6h0M962.7 1272.1h0M1111.4 1558.3h0M1135.6 1462.8h0M982.4 1495.3h0M976.2 1144.6h0M1150 1654.7h0M1169.2 1335.4h0M1071.2 1463.3h0M1020.9 1494.8h0M1100.3 1144.4h0M1099.5 1431.6h0M1129 1176.5h0M1136.3 1718.5h0M1112.6 1176h0M1023.5 1240.2h0M984.1 1495h0M1061.9 1463.5h0M1167.2 1622.8h0M996 1495h0M974.9 1080.3h0M964.3 1207.9h0M1047 1494.6h0M1027 1399.1h0M1127.3 1048.3h0M1160.1 1527.4h0M1016.7 1399.9h0M1259.2 1049.1h0M1096 1144.2h0M1005.5 1080.4h0M1151.3 1654.7h0M1011 1335.9h0M1137.7 1654.7h0M1158.2 1526.6h0M967.4 1080.4h0M1196 920.8h0M1180.8 920.1h0M1022.6 1335.3h0M965.1 1144.7h0M1281.6 921.3h0M1180.4 1558.5h0M1064.4 1303.4h0M1057.5 1558.5h0M1055 1240h0M996.9 1240.1h0M1275.5 985.4h0M1159.8 1335.8h0M994.2 1494.8h0M1192.3 1049.2h0"/>
<path class="dM" d="M1050.1 1590.8h0M1035.3 1591h0M1266.7 858.7h0M1264.6 856.3h0M1275.8 858.7h0M1278.5 857.6h0M1186.9 954.3h0M1237.8 888.3h0M1253.4 858.2h0M1271.1 858.3h0M1050.2 1590.3h0M1198 857.2h0M1072.8 1590.8h0M1238.9 890.6h0M1189.3 953.6h0M1213.7 953h0M989.9 1462.9h0M1208.5 856.4h0M1043.8 1463h0M991.8 1463.2h0"/>
<path class="dR" d="M1294.3 953.2h0M1187.7 1686h0M976.2 1111.9h0M1018.6 1494.9h0M1024.3 1430.8h0M1125.1 1622.7h0M1056.2 1590.4h0M1009.3 1303.8h0M1076.6 1558.6h0M1147 1686h0M1080.2 1049.8h0M1086.2 1590.4h0M990.6 1367.7h0M1076.5 1654.1h0M1070.3 1686h0M969 1686h0M1045.4 1462.9h0M1185.7 890h0M1029.8 1463.4h0M1171.3 889.4h0M1023.8 1463h0M960.9 1717.7h0M1036.4 1494.8h0M1288.8 889.5h0M1022.3 1399.9h0M1038.4 1591.1h0M985.3 1463.4h0M1262.7 858h0M976.9 1336.1h0M1173.2 1686h0M1031.5 1590.5h0M1197.5 889h0M968 1399.5h0M1123.4 1622.6h0M1006.6 1494.9h0M1235 953.8h0M1118.8 1622.3h0M1236.3 858.2h0M998.6 1112.3h0M980.4 1112.4h0M1176.1 1686h0M972.3 1112.7h0M1228.9 889.1h0M1005 1399.1h0M1075.2 1049.2h0M1234.2 888.9h0M1079.3 1558.5h0M971 1686.2h0M1271.9 858h0M1223.8 890.3h0M1023.5 1622.7h0M1102.3 1622.7h0M1177.9 888.6h0M1008.5 1336.1h0M993.7 1112.6h0"/>
<path class="db" d="M1202.3 1731.3h0M1239.4 1461.8h0M1208.5 1052.8h0M1238.3 1174h0M1231.8 1212.8h0M1221.8 1533.1h0M1228.6 1437h0M1208 1391.3h0M1209.7 1731.3h0M1226.7 1627.7h0M1217.2 1392.1h0M1224.9 1183.5h0M1203.4 1205.6h0M1214.6 1137.8h0M1227.4 1585.6h0M1210 1118.4h0M1214.4 1567.2h0M1214.7 1600.6h0M1205.7 980.1h0M1216.7 1423.6h0M1215 1472.1h0M1216.6 1580h0M1222 1657.6h0M1229.7 1119.6h0M1210.4 1391.4h0M1231.2 1138.7h0M1212.2 1391.2h0M1239.1 1337.1h0M1257.4 1207.1h0M1207.8 1375.6h0M1245.9 1210.2h0M1219 1682.1h0M1223.6 1056.8h0M1251 1110.5h0M1202.5 1238.6h0M1222 1616.9h0M1226.4 1618h0M1222.2 979.1h0M1231.8 1306.8h0M1207.8 1022.7h0M1224.7 1215.3h0M1207 1107.7h0M1216.6 1566.6h0M1214.1 1052.2h0M1229.1 1201h0M1229.3 1341.6h0M1224.9 1150.4h0M1232.7 1053.1h0M1224.7 1688.7h0M1224.9 1656.7h0M1205.1 1580.8h0M1210.4 1359.6h0M1236.2 1275.3h0M1202.8 1014.3h0M1203 1274.6h0M1248.9 1271h0M1222.3 1375.7h0M1205.4 1550h0M1229.5 1561h0M1212.4 1265.4h0M1227.1 1088h0M1219.5 1406.3h0M1209.6 1566.7h0M1236 1044.8h0M1234.5 1560h0M1216 1056.8h0M1231.1 1561h0M1229.7 979.1h0M1232.1 1302h0M1205.6 1310.8h0M1246.1 1142.5h0M1226.7 1201.8h0M1236.2 1242.8h0M1245.9 1304.5h0M1212.7 990h0M1232.1 1592h0M1214.6 1265.4h0M1236.1 1172.5h0M1234.5 1306.1h0M1241.7 1273.6h0M1207.7 1182.2h0M1222.2 1137.6h0M1217.2 1601h0M1238.4 1334.1h0M1238.7 1493.7h0M1236.8 1401.2h0M1234 1211.8h0M1203 986.7h0M1211.8 1150.2h0M1214.2 1201.2h0M1234 1115.9h0M1229.6 1169h0M1243.7 1237.4h0M1209.6 1534.7h0M1223.9 1342.9h0M1210.4 1343.9h0M1202.4 1651.1h0M1248.7 1081.6h0M1217.6 1214.8h0M1205 1204.2h0M1224.6 1137.6h0M1212.5 1022.7h0M1203 1018.6h0M1210.1 1011.3h0M1219.4 1074h0M1219.3 1105.5h0M1235.9 1052.8h0M1219.3 1311.9h0M1226.4 1501.1h0M1251.2 1177h0M1207.1 1731.4h0M1236.3 1333h0M1219.4 1169.1h0M1205.3 1423.4h0M1246.3 1115.2h0M1250.7 986.2h0M1238.8 1430h0M1212.4 1374.8h0M1219.2 1233.9h0M1243.2 1274.4h0M1224.8 979.3h0M1207.9 1567.3h0M1229.5 1298.3h0M1204.9 1632.7h0M1221.6 1086.8h0M1224.1 1439.4h0M1215.2 1424.1h0M1219.9 1532.3h0M1202.4 1460.9h0M1229.4 1009.8h0M1235.8 1685.5h0M1205.7 1455h0M1212.4 1182.8h0M1220.1 1246.4h0M1215.2 1391.1h0M1231.7 1244.9h0M1229.5 1233.3h0M1238.9 1242.3h0M1236.2 1147.7h0M1217.7 1454.6h0"/>
<path class="dM" d="M1182.2 890h0M1224.4 889.4h0M1180.8 1621.9h0M1233.4 857.3h0M1180 889.6h0M1144.8 1686.4h0M1209.6 890.2h0M1042.9 1590.6h0M1260.6 856.8h0M1219 858.1h0M1190.4 953.7h0M1215.1 856.7h0M1010.1 1526.8h0M1021.2 1526.9h0M1002.1 1527h0M1204.9 857.3h0M1213.9 857h0M1037.9 1462.9h0"/>
<path class="dR" d="M1069.1 1558.4h0M1209.2 889h0M984.1 1463.1h0M1248.2 857.6h0M1220.3 952.8h0M1166.6 1686.2h0M1034.1 1303.7h0M1046.9 1654h0M1227.5 954h0M1044.5 1463.1h0M1115.9 1622.8h0M1269.7 857.6h0M1189.8 1686h0M1033.9 1590.6h0M1110.3 1622.7h0M1013.4 1335.5h0M1222.4 952.7h0M1218.4 890.7h0M987.3 1463.2h0M1033.7 1463.3h0M1054.3 1622.3h0M1025.8 1654.8h0M1172.8 889.2h0M1010.4 1462.9h0M1158.2 1686.1h0M1212.3 889.3h0M1114.1 1622.5h0M1005.1 1113h0M1020.8 1654.8h0M1074.8 1590.6h0M996.1 1463.3h0M1015.7 1654.1h0M968.9 1112.5h0M969.3 1113.4h0M1013.8 1367.6h0M1131.2 1622.7h0M1269.5 857.6h0M1103 1622.2h0M977.1 1081.1h0M1040.4 1590.3h0M1177.8 1622.6h0M1230.8 952.4h0M1088.1 1590.6h0M1188.7 890h0M1024.2 1303.6h0M1229.8 952.1h0M1032.1 1654h0M1240.7 858.5h0M1143.3 1622.4h0M1145.9 1686h0M1225.6 954.3h0M1232.3 952.4h0M968.2 1112.8h0M1221 952.6h0M991.4 1112.8h0M1168.1 1686.6h0M983 1367.2h0M1016.1 1462.9h0M979.4 1398.9h0M1029.1 1399.7h0"/>
<path class="dP" d="M1192.1 952.1h0M1071.3 1717.9h0M1081.1 1144.7h0M1184.9 953.2h0M992.8 1017.2h0M1207.3 858.1h0M980 1271.7h0M1000.8 1240.2h0M1228.7 858h0M976.7 1431.3h0M990.8 1527h0M1022.2 1526.7h0M1016.5 1495.2h0M1002.5 1495.2h0M987.8 1367.5h0M1195.4 857.7h0M1157.2 1048.6h0M1007.1 1527h0M1028.6 1558.8h0M1215.7 858.2h0M972.8 1335.4h0M1042.3 1558.7h0M1203 952h0M983.6 1081.1h0M966.3 1431.1h0M1007 1527.1h0M990.9 1495.1h0M1119.4 1144.4h0M1189.3 922.5h0M974.2 1176.5h0M1232.4 857.3h0M989 1399.6h0M1027.6 1367h0M1018.5 1239.9h0M1020.8 1335.5h0M1106.7 1653.9h0M973.9 1303.9h0M1018 1526.6h0M982 1431.1h0M1029.7 1239.9h0M995.9 1239.9h0M1077.4 1718.2h0M1034.7 1208h0M1111.9 1048.7h0M1036.8 1527h0M996.8 1017h0M972 985h0M1035.9 1144.8h0"/>
<path class="dB" d="M1099.7 1048.4h0M978.9 1016.5h0M1004 1240h0M974.1 1017.3h0M1170.7 858h0M1192.7 921.9h0M1005.1 1495.1h0M1111.5 1144.1h0M1047 1239.8h0M994.3 1240.3h0M1200.2 1622.4h0M999.7 1017h0M983 1336.1h0M1057.9 1431.7h0M1010.7 1239.9h0M1251.9 1399.8h0M996.6 1494.9h0M1053.6 1495.3h0M971.9 1017.1h0M977 1208.5h0M1033.8 1239.9h0M1054.2 1558.8h0M1250.1 1431.2h0M1100.2 1527h0M1052.5 1144.8h0M1263.4 1080.2h0M1102.1 1590.4h0M1250.7 1495.4h0M1001.3 1494.9h0M1121.8 1208.4h0M1013.6 1399.1h0M1035.1 1495.2h0M970.5 1080.3h0M1141.5 1048.6h0M1134.6 1559.2h0M1144.5 1048.8h0M1142.1 1654.3h0M1010.6 1080.6h0M1017.5 1016.5h0M980.9 1208.3h0M1082.8 1558.4h0M1069.4 1271.8h0M1156.3 1654.2h0M985.2 1240.2h0M1103.9 1431h0M1112.2 1527h0M1162 921.9h0M1153.3 1654.7h0M993.9 1367.8h0M970.8 1144.5h0M1108.4 1048.7h0M1149.3 1049.2h0M998.3 1240h0M1002.6 1367.1h0"/>
<path class="db" d="M1212.2 1454.4h0M1231.1 1045.3h0M1209.2 1696.4h0M1231 991.1h0M1229 1465.5h0M1207.4 1202.5h0M1209.4 1138.6h0M1210.1 1633.2h0M1224.1 1488.9h0M1205 1212.6h0M1229.3 1309.4h0M1209.8 1643.8h0M1238.9 1237.9h0M1246.1 1015.1h0M1258 1145.9h0M1234 1276.3h0M1231.5 1683.3h0M1231.2 1337.8h0M1218.6 1040.6h0M1210.4 1503.1h0M1236.2 1268h0M1219.5 1023.7h0M1217.1 1664.1h0M1227.2 1247.2h0M1229 1074.5h0M1212.3 1278.6h0M1205.7 989.3h0M1247.9 1142.6h0M1229.1 1373.9h0M1222.3 1201.3h0M1212.8 1295.7h0M1248.1 1241.6h0M1207.8 1518.1h0M1227.1 1688.6h0M1236.9 1493.4h0M1202.1 1682.6h0M1215.3 1438.4h0M1252.7 1113.4h0M1226.7 1074.3h0M1241.4 1337.1h0M1236.1 1461h0M1224.5 1595.9h0M1248 1175.3h0M1217.6 1518h0M1208.1 1580.5h0M1219.1 1424.2h0M1227.1 1360.4h0M1202.3 1209.6h0M1207.8 1075.1h0M1231.3 1011.2h0M1212.6 1439.3h0M1204.9 1392h0M1248.3 1015.9h0M1236.2 1527.9h0M1205.1 1567.7h0M1203.3 1497h0M1215.1 1310.9h0M1202.9 1658h0M1238.2 1114.6h0M1216.7 1343.8h0M1245.6 1178.4h0M1219.4 1327.8h0M1243.3 1050.6h0M1239.3 1141.5h0M1207.8 1149.8h0M1219.2 1656.8h0M1240.6 982.1h0M1202.7 1242.1h0M1221.6 1278.2h0M1207.8 1407.5h0M1236 1525.3h0M1224 1009.9h0M1205.5 1328.1h0M1233.5 1492.5h0M1236.6 1369.7h0M1220 1583.6h0M1205.6 1149.5h0M1251.4 984.1h0M1222.6 1074.4h0M1255.6 1111.4h0M1227.3 1375.7h0M1202.8 1114.4h0M1248.3 1273.6h0M1221.7 1233.7h0M1243 1241.5h0M1212.5 1503.6h0M1211.9 1601h0M1228.8 1624.8h0M1219.9 1214.6h0M1207.4 1311.4h0M1221.5 1422.9h0M1248.2 1178.3h0M1209.2 1045h0M1221.8 1246.8h0M1214 1696.9h0M1233.6 1338.3h0M1227.3 1489.5h0M1205.2 1267.6h0M1202.9 1173.6h0M1212.6 1087.3h0M1214 1045.1h0M1229.4 1461h0M1208 1234.7h0M1234.2 1243.3h0M1235.8 1236.3h0M1202.3 1079h0M1205.6 1343.1h0M1222.1 1521.5h0M1202.7 1365.8h0M1212.3 1580.3h0M1234.6 979.7h0M1226.8 1233.5h0M1206.5 1052h0M1219.5 1713.3h0M1231.5 1460.4h0M1231.2 1401.5h0M1219.2 1009.6h0M1214.6 1150.7h0M1202.3 1705.2h0M1229.2 1587.6h0M1224.3 1521.1h0M1209.6 1438.9h0M1233.8 1497.2h0M1251.2 1081.3h0M1214.8 1278.9h0M1221.6 1010.4h0M1226.5 1056.4h0M1243.3 1369.2h0M1232.1 1652.4h0M1243.6 1211h0M1205.7 1375.7h0M1224.9 991h0M1223.8 1564.1h0M1217.2 1407.3h0M1235.8 1205.3h0M1246.1 1146.2h0M1238.9 1305.8h0M1209.9 1375.2h0M1246.1 1273.6h0M1227.4 1296.7h0M1215 1105.6h0M1241.3 1304.8h0M1226.3 1311.6h0M1207.3 1600.4h0M1243.6 1078.8h0M1250.5 1079.9h0M1241.7 1238.4h0M1246.5 1174.3h0M1226.4 1423.6h0M1219.1 1392.2h0M1221.3 1689.5h0M1229.3 1424.8h0"/>
<path class="dR" d="M1014.4 1112.9h0M1081.1 1590.3h0M1258.1 857.5h0M1205.1 890.4h0M1181.5 1685.9h0M1167.8 888.3h0M1004.4 1463h0M999.9 1463h0M1175.5 888.4h0M1106.2 1622.2h0M1052 1590.7h0M1125.7 1622.7h0M1047.1 1590.2h0M1050 1431.1h0M1150.9 921.3h0M1229 952.5h0M1165 1686.5h0M1066.9 1048.5h0M1164.3 889.9h0M1233.4 952.6h0M1236.2 953.2h0M1031.4 1622h0M1277.5 858.3h0M1065.1 1049.8h0M1235.8 952.7h0M975.1 1112.9h0M1127.3 1622.5h0M1169.4 889.5h0M1078.3 1049.5h0M1063.5 1686.2h0M1081.1 1050h0M1064.8 1558.6h0M964.5 1304.2h0M1194.2 1622.5h0M1266.4 858.6h0M1005.6 1653.9h0M1053.7 1591h0M977.4 1111.5h0M1166.8 889.6h0M1055.7 1048.7h0M1066.1 1590.4h0M1168.7 1686h0M1069.4 1622.6h0M1183.1 1686.6h0M1082.8 1049.7h0M1129.1 1622.8h0M1236.2 888.4h0M1247.7 857.7h0M1273.5 856.5h0M969.7 1367.6h0M994 1335.3h0M1183.7 1685.9h0M1152.1 1686.6h0M1161.9 1686.5h0M1060.1 1590.8h0M1022.6 1495h0M1142.8 1686.3h0M1019.4 1304h0M1087.3 1048h0M1031.7 1495.3h0M1111.7 1622.7h0"/>
<path class="dP" d="M1005.7 1272h0M977 1176.3h0M980.3 1303.9h0M1182.3 922.4h0M1009.8 1367.6h0M989.5 1495.2h0M1171.4 921.6h0M1012 1144.1h0M1028.5 1495h0M1188.4 921h0M971.3 1271.6h0M979.5 1144.4h0M1173.6 921.7h0M1002.3 1272h0M1231.7 856.5h0M1013.4 1240.2h0M994.1 1304.2h0M965.2 985.5h0M1189.9 856.7h0M1220.9 857.4h0M1199.2 857.9h0M1085 1144.8h0M1008 1431h0M993.4 1176.4h0M1187.7 856.9h0M1197.3 920.3h0M1019.8 1527h0M1184.4 1622.1h0M1014.5 1080.4h0M1161 920.9h0M992.8 1430.8h0M1064.6 1144.2h0M1016.2 1526.9h0M1031 1304h0M1224.8 858.8h0M1028.9 1080.7h0M974.3 1208.2h0M1045.6 1399.1h0M993.8 1527h0M999.5 1176h0M1002 1016.7h0M1108.4 1144.9h0M987.9 1144.2h0M1153.2 1048.4h0M986.3 1017.4h0M1190.8 922h0M990.6 1176.1h0"/>
<path class="dB" d="M1180.3 1622.8h0M1157.9 889.5h0M986.9 1207.7h0M1129.3 1654.7h0M1098.1 1049.3h0M1034.6 1367h0M1078.9 1207.7h0M1005.6 1240.3h0M1184.5 920.2h0M981 1016.8h0M1165.9 1208.6h0M1030.5 1494.7h0M1024.2 1271.9h0M991.2 1240.2h0M1008.3 1367.6h0M1006 1304.1h0M1063.1 1558.4h0M1021 1240.1h0M1035.8 1240h0M975.4 1239.8h0M991.5 1399.9h0M1152.7 920.9h0M1055.3 1271.6h0M1131.4 1654.3h0M969.4 1016.9h0M1139.6 1654.5h0M1132.1 1654.7h0M1167 1335.7h0M1208.9 921.6h0M1196.2 1271.8h0M1033.5 1144h0M1002.8 1399.1h0M1163.3 1622.1h0M1118 1176.2h0M1188.6 1623h0M1016.4 1367.8h0M1021.8 1016.6h0M1043.8 1526.6h0M1066.5 1303.3h0M1050.1 1495.4h0M1088.4 1144.5h0M998.8 1368h0M1057.6 1271.8h0M1261.9 985h0M1144.8 1208.3h0M1109.7 1239.9h0"/>
<path class="dM" d="M1210.2 953.7h0M1042.6 1590.6h0M1032.6 1463.3h0M1189.3 1622.4h0M1161 1686.2h0M1204.2 953.3h0M1178.4 889.3h0M1050.1 1049.1h0M1006.3 1462.9h0M1155.6 1622.3h0M1044 1590.6h0M1202.8 890.7h0M1199.2 890.1h0M1050.8 1463.2h0"/>
<path class="dB" d="M1022.1 1240h0M1018.6 1431.5h0M1107.9 1462.9h0M971.7 1399.1h0M1017.2 1240h0M1003.6 1494.7h0M1187.2 1558.5h0M1145.2 1654.7h0M1049.2 1558.4h0M1054.2 1430.9h0M984.1 1431.6h0M1159.8 1654.3h0M1021.5 1558.3h0M1136.3 1175.9h0M1159.6 1622.6h0M1143.9 1654.1h0M1026.6 1017h0M1119.9 1559h0M1015.9 1558.5h0M982.8 1271.6h0M1159.6 1048.4h0M1137.3 1559h0M1037.7 1016.9h0M1008.9 1016.7h0M983.8 1208.4h0M1137.8 1463.6h0M1044.4 1144.5h0M1058.6 1463.2h0M1096.4 1304.2h0M1175.1 922.2h0M1030.9 1240h0M1205.7 921.7h0M1026 1304.3h0M1184.1 953.2h0M1185 1622.1h0M1044.6 1430.9h0M1138 1048.5h0M989.6 1017.3h0M1014.8 1494.7h0M1009.1 1494.9h0M1148.6 1654.6h0"/>
<path class="db" d="M1219.6 1689.2h0M1212.2 1612h0M1207.5 1266.5h0M1208.1 1471.1h0M1221.4 1183.4h0M1205 1535h0M1232.2 1085.8h0M1241.5 1178.5h0M1205.1 1116.7h0M1202.3 1141.8h0M1232.2 1525h0M1212.6 1201.7h0M1222.6 1342.7h0M1205.3 1731.3h0M1233.8 1460.9h0M1207.1 1245.1h0M1207.8 1644.6h0M1210.3 1519.1h0M1236.9 1019.8h0M1204.4 1051.3h0M1214.5 1170.1h0M1233.4 1397.4h0M1222.1 1469.4h0M1217.6 1613h0M1229.1 1620.5h0M1238.8 1528h0M1212.1 1359.3h0M1222.3 1151.7h0M1239.8 1050h0M1248.1 987.3h0M1216.7 1202.1h0M1224.4 1327.4h0M1224 1023.4h0M1229.4 1361.6h0M1216.8 1151.4h0M1252.9 1207.2h0M1209.9 1023h0M1212.2 1567.3h0M1253 1210.3h0M1239.3 1525.1h0M1217.4 1106.1h0M1217.7 1137.2h0M1231.4 1370h0M1243.8 987.6h0M1229 1528.8h0M1216.5 1696.9h0M1224.5 1531.9h0M1243.8 1142.6h0M1215.1 1712.9h0M1248.7 1079.1h0M1224.3 1468.5h0M1212.4 979.9h0M1202.4 1619.5h0M1233.4 1524.8h0M1231.4 1621.5h0M1243.8 1173.6h0M1217 1438.6h0M1241.2 1082.7h0M1217.1 979.6h0M1226.2 979.6h0M1227.2 1652.1h0M1234.1 1433h0M1216.6 1375.3h0M1229.6 1215.1h0M1222.5 1457.7h0M1215.2 1486.7h0M1243.7 983.4h0M1207.6 1549.8h0M1221.8 1312h0M1207.5 1086.6h0M1209.8 1278.4h0M1207.9 1212.9h0M1224.7 1264.9h0M1212.7 1519h0M1203.2 1689.8h0M1220.2 1374.7h0M1210.3 1170.4h0M1236 1464.8h0M1207.1 1343.1h0M1207.1 1139.1h0M1227.2 1182.3h0M1234.3 990.5h0M1231.6 1624.7h0M1220.2 1627.5h0M1203.2 1556h0M1224.6 1407.5h0M1234.4 1267.7h0M1231.4 1497.4h0M1226.7 1438.9h0M1238.2 1020h0M1255.3 1206.1h0M1221.6 1360.1h0M1229.8 1105.5h0M1205.1 1360.2h0M1202.6 1397.4h0M1234.2 1369.4h0M1250.8 1114.9h0M1202.2 982.5h0M1245.7 1018.2h0M1226.6 1657.1h0M1228 1057.3h0M1221.8 1328.4h0M1221.6 1119.4h0M1229.8 1405.9h0M1205.4 1438.9h0M1205.2 1517.8h0M1210.2 1150.3h0M1203.3 1464.8h0M1245.9 1205.9h0M1209.9 1295.6h0M1245.5 986.7h0M1210.1 1423.9h0M1210.4 1086.7h0M1221.6 1170.1h0M1216.6 1328.4h0M1236 1432.9h0M1237 1337.4h0M1207.4 1632.2h0M1243.6 1305.2h0M1216.7 1359.6h0M1224.9 1169.1h0M1234 1148.7h0M1231.6 1181.3h0M1202.7 1083.3h0M1228.7 1137.7h0M1231.2 1149.3h0M1227.1 1010.1h0M1245.9 1366.9h0M1236.2 1559.7h0M1239.1 1432.5h0M1221.6 1105.4h0M1207.4 1011.2h0M1224.1 1074.4h0M1243.8 1334.9h0M1212.4 1106.9h0M1216.6 1040.3h0M1219.4 1295.5h0M1224.7 1617.8h0M1221.5 1265.7h0M1229.6 1393.5h0M1216.6 1675.9h0M1231.1 1203.2h0M1215.1 1010.5h0M1226.5 1407h0M1226.8 1596.3h0"/>
<path class="dR" d="M1103.8 1622.7h0M1232.1 888.2h0M1063.8 1591h0M1183.6 890.1h0M1001.2 1686.5h0M1163.4 889.9h0M1238.5 857.5h0M1119.6 1622.4h0M1161.6 889h0M1216.2 890.5h0M1227.1 889.6h0M1213.2 889.7h0M1151.3 1685.9h0M1214.3 890.2h0M1084.1 1048.2h0M1263 858.7h0M1033.8 1399.5h0M1167.9 1622.8h0M1220.4 890.6h0M1187.2 1686.3h0M1043.5 1303.9h0M1083.7 1590.5h0M1021.3 1462.9h0M1190.8 889.6h0M1068.3 1048.7h0M1255.5 856.8h0M1100.7 921.3h0M1063.6 1049.6h0M1036.3 1463.4h0M1170.2 889.4h0M1049.5 1462.9h0M1012 1654.2h0M1037.2 1654.8h0M1149.8 1686.4h0M1064.4 1047.9h0M1122.4 1622.3h0M1011.5 1495h0M999.3 1304h0M984.3 1399.3h0M1028.7 1463.1h0M1243.3 857.7h0M1205.6 889.7h0M1178.7 1686.5h0M1268.6 856.7h0M998.4 1399h0M981.7 1495.2h0M1086 1558.6h0M1117.5 1622.6h0M1108.4 1622.2h0M1249.8 856.7h0M1037.3 1590.8h0M1070.1 1590.2h0M962 1112.3h0M1029.3 1590.2h0M963.7 1111.3h0M997.6 1463.3h0"/>
<path class="dM" d="M1174.6 1686h0M1183.1 1623.1h0M1186.3 1685.9h0M1201.9 952h0M1013.3 1463.4h0M987.7 1463.2h0M1228 889.2h0M1201.1 890h0M1049 1463.1h0M1170.8 1622.4h0M1015.1 1526.9h0M1251.8 858.9h0M1077.9 1590.3h0M1034.6 1590.7h0M1196.9 951.9h0M1155.4 1686.4h0M1042.1 1463.2h0M1007.5 1463.2h0M1210.4 889.6h0"/>
<path class="dP" d="M1015.2 1239.9h0M1004.8 1527.1h0M1022.8 1559.2h0M987.6 1240.1h0M980.8 1176.3h0M1005.2 1526.9h0M1046.6 1304.1h0M1148.6 1718.1h0M1101.9 1653.9h0M984.8 1176h0M1031.6 1527.1h0M1091.3 1653.9h0M1003.2 1526.9h0M970.5 1431.3h0M989.5 1271.5h0M1005.2 1336h0M1197.1 1623.1h0M1165.4 921.7h0M982.6 1176.6h0M990.2 1527.1h0M997 1527.1h0M1040.9 1112.9h0M986.2 1495.1h0M986.3 1080.8h0M972.4 1176.4h0M1017.4 1336h0M1173.1 922.6h0M1004.8 1303.7h0M989.7 1431.4h0M997.3 1080.7h0M974.8 1271.4h0M971.1 1239.8h0M980.7 1240.3h0M1072.8 1239.8h0M998.7 1335.2h0M995.6 1144.1h0M1066.2 1718.3h0M1159.6 889.4h0M1117.2 1144h0M966.1 1335.8h0M1193.8 922h0M1226 858.9h0M1034.8 1112.6h0M1010.2 1208h0M986.9 1303.7h0M1187.1 856.6h0M1008.2 1271.6h0M1036.9 1303.5h0M1068.6 1399.2h0M1022.5 1080.6h0M1012 1526.9h0M1157.5 921.3h0M1200 952.5h0M996.5 1176.2h0M987.6 1176h0M968.4 1144.8h0M1025.5 1495.2h0M965.4 1399.3h0M963.6 1176h0"/>
<path class="dR" d="M1013.3 1431.1h0M1207.9 889.9h0M974.8 1367.1h0M1040.7 1622.4h0M994.5 1463.2h0M1088.2 1048.2h0M1070.5 1050h0M1015.2 1463.2h0M1236.2 889.5h0M1130.5 1622.7h0M1232.8 889h0M971 1304.2h0M1036.8 1399.5h0M1071.7 1590.9h0M1039.9 1303.8h0M1081.3 1686.1h0M1148.8 1686.1h0M1225.4 888.3h0M1077 1590.6h0M1069.3 1590.2h0M1291.2 889.8h0M1071.9 1050.1h0M1040.5 1463.4h0M1196.2 890.1h0M977.9 1304h0M1238.5 953h0M1107 1622.6h0M1076.2 1047.9h0M1018.7 1686h0M1040 1654.7h0M996 1304h0M1008.7 1462.9h0M1222.6 888.8h0M1123.9 1685.8h0M1019.3 1399.7h0M978.6 1335.3h0M1019.4 1463h0M1014 1686.2h0M1091.1 1049.7h0M1073.4 1048.4h0M1081.8 1048.5h0M973 1112.3h0M1237.5 954.1h0M1121.6 1622.3h0M1079.5 1590.5h0M985.4 1367.7h0M1061.6 1591.1h0M1024.2 1367.6h0M971.3 1113.7h0M1027.5 1622.7h0M1188.7 1685.9h0M1007.3 1686h0M1273.1 858.7h0M1077.8 1049.1h0M1008.1 1112.5h0M1036.9 1590.3h0M1035.8 1622.5h0M1012.1 1463.2h0M1191.8 1686.5h0M1184.7 1686.5h0M1013.2 1494.8h0M1112.6 1622.2h0M1060.6 1622.9h0M998.1 1463h0M1038.4 1367.5h0M1225.4 953.2h0M1259.9 858.7h0M1235.7 858.1h0M1221.7 889.5h0M1001.4 1654.2h0M1165.5 890.4h0M1026 1463.1h0"/>
<path class="dB" d="M1026.8 1240.2h0M988.4 1335.2h0M1002.1 1239.8h0M1172.5 1622.2h0M1167.9 857.4h0M1028.8 1240.1h0M992.9 1239.8h0M1138.8 1527.1h0M1062.2 1304.2h0M1090.7 1463.6h0M1173.3 1654.1h0M1170.3 1654.1h0M1071.2 1271.5h0M1039.4 1527.1h0M1049.1 1144h0M1005.4 1017.2h0M1132.6 1717.7h0M1133.2 1654.5h0M1186.5 922.1h0M1050.6 1367.5h0M1129.5 1558.9h0M1254.3 1335.4h0M1258.4 985.5h0M984.1 1303.3h0M1083.5 1463.3h0M1124 1558.5h0M1030.9 1559.1h0M1192 1622.8h0M1081.9 1304.2h0M1051.6 1526.8h0M1146 1654h0M1108.3 1590.8h0M1179.4 922.4h0M1058.7 1495.1h0M1165.5 1654.2h0M1124.4 1176.6h0M1116.5 1558.8h0M1109.3 1176.2h0M1127.8 1654.1h0M967.6 1303.8h0M999.1 1144.5h0M1019.7 1144.7h0M1012.8 1303.5h0M992.2 1494.8h0M1227.1 921.3h0M1042.6 1431.8h0M1125.9 1654.6h0M1169.8 921.7h0M1095.5 1527.1h0"/>
<path class="db" d="M1215.4 1233h0M1221.5 1553.4h0M1210.5 1311.1h0M1207 1438.4h0M1212 1011.2h0M1238.5 988.1h0M1220.1 1616.7h0M1231.1 1434h0M1226.9 1521.1h0M1205.4 1172.6h0M1231.3 1465.8h0M1232.1 1429.3h0M1207.2 1503.3h0M1219.3 1457.8h0M1210.4 989.9h0M1258.4 1143.5h0M1212.9 1074.3h0M1231.2 1589.1h0M1205.3 1243.9h0M1248.7 1206h0M1238.9 1558h0M1226.5 1119.6h0M1234.1 1076.4h0M1211.8 1696.4h0M1204.8 1486.9h0M1205 1021.6h0M1217.2 1023.3h0M1239.2 1210.6h0M1221.9 1627.6h0M1214.9 979.8h0M1243.7 1146.1h0M1243.7 1082.5h0M1202.8 1302h0M1227.1 1138.4h0M1202.4 1178.3h0M1226.8 1552.9h0M1204.9 1180.4h0M1236.7 1115.5h0M1212.5 1170.3h0M1253.3 1111.5h0M1207.6 1454.8h0M1248.5 1018.6h0M1230.5 1052.4h0M1224.3 1234h0M1234.5 1108.4h0M1217.3 1087.4h0M1229.2 1688.6h0M1207.9 1296.4h0M1209.4 1665h0M1205.3 1611.9h0M1212.5 1343.2h0M1241.1 1243h0M1238.4 1302.2h0M1209.8 1214h0M1219.5 1343.9h0M1215 1328.5h0M1214.8 1214.2h0M1202.6 1432.7h0M1210.2 1074.9h0M1233.3 1688.9h0M1240.9 1368.8h0M1243.8 1269.7h0M1221.9 1489.8h0M1222.3 1023h0M1214.8 1296.4h0M1241 1269.4h0M1229.7 1492.8h0M1224.6 1359.4h0M1231.4 1556.7h0M1219.7 1597.1h0M1240.8 1301.7h0M1204.7 1644.6h0M1238.9 1083.7h0M1212.8 1675.2h0M1215.3 1535.3h0M1226.1 1683.8h0M1219.4 1553.7h0M1245.8 1079h0M1229.6 1086.9h0M1203 1624.5h0M1209.9 1328.6h0M1210.5 1472.2h0M1202.3 1587.9h0M1231.2 1688.4h0M1209.8 980.5h0M1228.6 1264.9h0M1236.3 1496.9h0M1203.2 1269.3h0M1238.7 982.2h0M1222.5 1438.6h0M1219.1 1489.9h0M1222.1 1565h0M1227.4 1328.4h0M1234.2 1429h0M1205.5 1139.7h0M1222.3 1391.1h0M1240.9 1334.4h0M1221.8 1214.4h0M1207.1 990.5h0M1212 1214.9h0M1214.9 1359.6h0M1258.3 1209.2h0M1219.8 1500.1h0M1219.6 1521.6h0M1241.2 1078.3h0M1224.4 1119.4h0M1231.6 1117.3h0M1214.4 1613.1h0M1217.8 1632.8h0M1219.5 1650.6h0M1232.9 1044.9h0M1220 1360.4h0M1224.5 1247.2h0M1229.7 1593.4h0M1246.4 1081.8h0M1234 1333.8h0M1207.5 1675.5h0M1217 1278.3h0M1221.2 1040.2h0M1229.8 1023.6h0M1203.1 1338.3h0M1216.7 1010.4h0M1207.1 1486.3h0M1226.9 1391.9h0M1205.2 1664.1h0M1242.5 1047.6h0M1202.6 1493.4h0M1204.8 1471.6h0M1226.7 1468.1h0M1212.9 1246.1h0M1236.7 1211h0M1234.3 1235.5h0M1219.2 1723.1h0M1226.2 1343.9h0M1234.6 1465.3h0M1231.4 1365.6h0M1236.3 1365.5h0M1208 1277.1h0M1214.8 1518.8h0M1229.5 1278.1h0M1209.6 1580.4h0M1224.2 1683.1h0M1207.4 1359.5h0M1209.8 1705h0M1243.2 1337.4h0"/>
<path class="dP" d="M1193 858.8h0M1166.8 920.7h0M1062.3 1431.1h0M1016.9 1526.9h0M1169.4 1622.1h0M997.9 1431.5h0M1178.7 1622.4h0M1191.9 857.2h0M1156 920.4h0M989.9 1080.4h0M1179.2 858h0M1052.1 1559h0M1013.5 985.3h0M1228.7 858h0M1183.7 953.5h0M1227.8 857.4h0M1030.5 1367.1h0M1187.4 922.4h0M1176 857.9h0M980.7 1081h0M1020.1 1430.8h0M1010.4 1176.5h0M1027.1 1335.5h0M1073.4 1144.8h0M1027.9 1176h0M1001.1 1431.6h0M979.3 1494.8h0M987.9 1526.9h0M1027.1 1494.8h0M1157.6 1622.4h0"/>
<path class="dM" d="M1230.9 890h0M1217.5 890.2h0M1052.7 1590.8h0M1171.9 1686.4h0M1017.7 1463.2h0M1193.4 888.6h0M1212 858.9h0M1059.6 1590.8h0M1188.5 953.2h0M1045.7 1590.3h0M1242.8 858.4h0M1034.8 1463.3h0M1001.5 1527h0M988.7 1463.1h0M1002.8 1463.3h0M1230.5 856.3h0M1009.3 1526.6h0M1194.7 857.3h0M1222.1 858.6h0M1194.4 889.5h0M1054.8 1590.3h0M1245.5 858.7h0M1223.4 856.5h0"/>
<path class="dB" d="M1021.8 1367.5h0M1058.2 1526.9h0M1074.5 1463.1h0M1015.7 1144.7h0M1196.6 1622.1h0M1104.5 889.5h0M1121.2 1462.7h0M1000.7 1335.4h0M1178 1049h0M1147.2 1654.6h0M1183.7 920.6h0M1005.5 1367.9h0M1041 1144.5h0M1151 921.8h0M993.2 1144.9h0M1152 1654.5h0M1103.2 1144h0M1094.3 1048.5h0M1243.4 1654.2h0M1091.6 1272.4h0M1135.4 953.2h0M992.3 1239.9h0M1174.5 1271.9h0M987.6 1494.9h0M1008.1 1494.9h0M999 1240.3h0M1034 1431.4h0M1056.8 1143.9h0M1146.8 1208.4h0M1162.8 920.6h0M982.3 1399.5h0M1052.9 1240.2h0M1029.6 1144.8h0M1018.7 1080.9h0M1079.5 1335.4h0M1136.5 1654.2h0M974.6 1399.9h0M1176.2 1622.4h0M1054 1367.6h0M1131.3 1048.7h0M1017.4 1271.8h0M985.1 1271.5h0M1140.7 1654h0M1134.1 1654.2h0M1133.9 1049h0M1055 1016.6h0M1163.8 1049h0M1170 1208.6h0M1075.3 1144.7h0M995.6 1399.9h0M1178.7 921.7h0M1165.1 857.6h0M1009.7 1239.9h0M1076.4 1272.1h0M1035.5 1559.2h0M1092.1 1144.6h0M1031.9 1240.2h0M1034.7 1240.2h0M1046.3 1367.5h0M1061.5 1144.7h0M1071 1495.1h0M967.4 1272.2h0M1091 1240.3h0M1164.7 922.6h0M1068.5 1144.5h0M1118 1048.7h0"/>
<path class="db" d="M1240.9 1019.1h0M1240.8 1210.7h0M1207.5 1535.6h0M1219.6 1119.8h0M1237.9 1052.9h0M1222.2 1407.6h0M1231.7 1655.9h0M1219 1468.2h0M1241.6 1366.1h0M1245.9 1270.1h0M1203.1 1593h0M1221.7 1295.6h0M1203.1 1524.2h0M1255.8 1113.6h0M1208.1 979.7h0M1215.2 1087.3h0M1216.9 1247h0M1224.4 1087.4h0M1236.8 1428.9h0M1253.6 1145.4h0M1250.9 1018.5h0M1216.9 1486.6h0M1251.2 1142.1h0M1251.1 1146.1h0M1256 1209.4h0M1207.8 1170.8h0M1212.9 1644.7h0M1214.5 1407h0M1219.2 1439h0M1214.2 1723h0M1221.9 1585.4h0M1216.7 1170.1h0M1217 1644h0M1224.3 1391.5h0M1243.1 1115h0M1205 1234.9h0M1238.9 1269.8h0M1236.6 1141.8h0M1233.7 1171.9h0M1231.2 1234.3h0M1212.1 1632.4h0M1243.8 1303h0M1221.7 1651.1h0M1217.1 991.1h0M1226.5 1151.2h0M1232 1492.9h0M1238.2 1044.9h0M1239 1398.7h0M1202.5 1306.4h0M1211.9 1486.9h0M1235.8 1306.1h0M1226.3 1041.4h0M1243.8 1014.2h0M1231.7 1528.8h0M1205.1 1108.7h0M1225 1105.2h0M1229.4 1182.3h0M1209.9 1487h0M1217.1 1233.8h0M1212.8 1406.7h0M1209.6 1265.6h0M1250.6 1209.9h0M1217.4 1118.5h0M1229.1 1683.3h0M1241.3 1174.2h0M1229.4 1247h0M1204.2 1046.2h0M1224 1552.6h0M1228.5 1040.2h0M1219.5 990.8h0M1243.2 1365.7h0M1239.2 1400.2h0M1229.2 1497.5h0M1236.2 1013.7h0M1247.8 1210.3h0M1207.1 1117.7h0M1212.2 1713.7h0M1214.3 1022.9h0M1236.1 980.4h0M1238.9 1013.7h0M1238.6 1179.3h0M1231.4 1075.3h0M1248.1 1113.9h0M1246.2 1302.6h0M1233.5 1020.8h0M1214.8 1375.7h0M1228.9 1657.1h0M1203.1 1145.9h0M1219.6 979.2h0M1204.9 1677.8h0M1207 1046.1h0M1209.8 1612.2h0M1212.4 1471.5h0M1232.1 1396.4h0M1236.3 1108.7h0M1204.7 1075.7h0M1233.7 1179.7h0M1207.9 1612.4h0M1221.5 1682.3h0M1246 1110.9h0M1204.9 1012.3h0M1244.1 1110h0M1220 1265.8h0M1241.5 1110.1h0M1231.3 1022.5h0M1204.6 1704.5h0M1224 1651.2h0M1238.3 1463.9h0M1239.1 1365.1h0M1210.6 1407.7h0M1250.4 1206h0M1231.5 1171.4h0M1205.7 1406.4h0M1236 1179.4h0M1224.9 1295.5h0M1226.7 1457.7h0M1223.7 1041.3h0M1214.7 1675.9h0M1243.6 1018.5h0M1212.1 1424.3h0M1226.3 1105.3h0M1226.6 1169.6h0M1221.9 990.4h0M1219.6 1278.4h0M1216.9 1073.8h0M1253.7 1015.7h0M1202.7 1429.1h0M1228.8 1555.8h0M1215.4 1632.8h0M1229.6 989.9h0M1217.2 1713h0M1212 1045.2h0M1224.1 1457.1h0M1224.4 1584.9h0M1238.9 1078.6h0M1224.2 1627.9h0"/>
<path class="dP" d="M991.9 1336.1h0M1110.9 1654h0M1025.3 1080.4h0M995.5 1526.9h0M973.6 1431.7h0M1000.6 1272.1h0M971.3 1208h0M994.7 1207.9h0M1202 856.5h0M1066.8 1463.4h0M1019.4 1208.6h0M1016.4 1240h0M986.9 985.2h0M1199.7 954.2h0M1175.8 921.5h0M998.2 1526.9h0M967 1207.9h0M1123.2 1048.8h0M1001.6 1081h0M964.1 1336h0M967.7 985.3h0M1165.5 1622.3h0M1021.6 1494.9h0M1206.5 857.2h0M1007.6 1080.9h0M1024.8 1144.2h0M1155.3 920.3h0M1018.7 1175.9h0M968.6 1176h0M1025.8 1240.2h0M990.9 1304.3h0M1037.5 1558.6h0M1008 1526.7h0M1010.3 1399.3h0M997.9 1494.8h0M1200.3 858.5h0M1037.4 1431.6h0M1216.6 858.3h0M977.2 1718.1h0M1029.9 1431.1h0M1218 857.5h0M1151.3 1718h0M1158.5 889.5h0M1212.2 856.5h0"/>
<path class="dR" d="M1203.3 888.7h0M1191.1 1622.8h0M1187.4 1622.9h0M1159.9 1686.6h0M1177.3 1685.9h0M1085.7 1049.2h0M1063.1 1591.1h0M1163 1686.3h0M969.5 1335.6h0M1128.8 1622.5h0M1237.8 856.7h0M1160.2 890.6h0M1004.9 1431.6h0M1256.2 857h0M1058 1590.4h0M1064.7 1431.5h0M1159.9 1622.1h0M1089.5 1048.9h0M1164.7 1622.9h0M1192.1 890.5h0M1072.2 1559.1h0M979.3 1113.3h0M1154.2 1686.5h0M1039.2 1463.2h0M1180.7 1685.8h0M994.2 1718.1h0M1187.5 890.3h0M986.4 1335.2h0M976.2 1686.4h0M1083.1 1590.2h0M1173.6 1621.9h0M1067.7 1590.2h0M964.9 1113.6h0M1129.6 1686.3h0M1024.9 1685.8h0M1069.6 1048.1h0M1224.3 952h0M996.1 1367.3h0M1156.7 1686.5h0M1019.6 1495.3h0M1063.7 1622.8h0M1157.8 1622.2h0M1001.9 1463.1h0M1148.3 1622.5h0M1027.8 1463.3h0M966.5 1113.3h0M1325.1 857.6h0M980.9 1113.5h0M1170.3 1686.2h0"/>
<path class="dM" d="M1030.9 1462.9h0M1246.3 857.1h0M1052.4 1049.1h0M1195.7 953.7h0M1161.9 1622.6h0M1084.7 1590.4h0M1187.2 952h0M1048.4 1590.6h0M992.3 1526.6h0M1181 889.4h0M1195.1 888.3h0M1194.1 953.7h0M1195.5 858.9h0M1194.9 1622.5h0M1174.9 1622.8h0M1184.6 889.8h0M1174.9 890h0M1233.7 857.9h0M1241 857.9h0M993.5 1462.8h0M1218.3 953.3h0M1046.7 1463.1h0M1022.8 1463.2h0M1040.9 1590.8h0"/>
<text x="15.9" y="1889" font-size="58.5" fill="#000">c</text>
<text x="527.5" y="1965.6" font-size="27" fill="#2b2b2b" text-anchor="end">2.7.7.6 | Eubacterium hallii CAG 12</text>
<text x="527.5" y="1997.4" font-size="27" fill="#2b2b2b" text-anchor="end">2.7.7.6 | Eubacterium hallii</text>
<text x="527.5" y="2029.1" font-size="27" fill="#2b2b2b" text-anchor="end">6.3.2.1 | Eubacterium hallii CAG 12</text>
<text x="527.5" y="2060.9" font-size="27" fill="#2b2b2b" text-anchor="end">1.1.1.42 | Dorea longicatena CAG 42</text>
<text x="527.5" y="2092.7" font-size="27" fill="#2b2b2b" text-anchor="end">1.4.1.13 | Blautia wexlerae</text>
<text x="527.5" y="2124.5" font-size="27" fill="#2b2b2b" text-anchor="end">6.1.1.14 | Blautia obeum</text>
<text x="527.5" y="2156.3" font-size="27" fill="#2b2b2b" text-anchor="end">1.4.1.14 | Blautia wexlerae</text>
<text x="527.5" y="2188" font-size="27" fill="#2b2b2b" text-anchor="end">2.7.7.6 | Blautia obeum</text>
<text x="527.5" y="2219.8" font-size="27" fill="#2b2b2b" text-anchor="end">1.1.1.42 | Dorea longicatena</text>
<text x="527.5" y="2251.6" font-size="27" fill="#2b2b2b" text-anchor="end">2.6.1.9 | Eubacterium hallii CAG 12</text>
<text x="527.5" y="2283.4" font-size="27" fill="#2b2b2b" text-anchor="end">5.3.1.9 | Dorea longicatena CAG 42</text>
<text x="527.5" y="2315.2" font-size="27" fill="#2b2b2b" text-anchor="end">6.3.2.6 | Blautia wexlerae</text>
<text x="527.5" y="2346.9" font-size="27" fill="#2b2b2b" text-anchor="end">2.6.1.9 | Eubacterium hallii</text>
<text x="527.5" y="2378.7" font-size="27" fill="#2b2b2b" text-anchor="end">5.3.1.9 | Blautia obeum</text>
<text x="527.5" y="2410.5" font-size="27" fill="#2b2b2b" text-anchor="end">6.3.5.5 | Blautia wexlerae</text>
<text x="527.5" y="2442.3" font-size="27" fill="#2b2b2b" text-anchor="end">6.1.1.10 | Blautia wexlerae</text>
<text x="527.5" y="2474.1" font-size="27" fill="#2b2b2b" text-anchor="end">4.2.1.9 | Blautia wexlerae</text>
<text x="527.5" y="2505.8" font-size="27" fill="#2b2b2b" text-anchor="end">6.1.1.17 | Blautia wexlerae</text>
<text x="527.5" y="2537.6" font-size="27" fill="#2b2b2b" text-anchor="end">1.2.99.7 | Blautia wexlerae</text>
<text x="527.5" y="2569.4" font-size="27" fill="#2b2b2b" text-anchor="end">6.3.2.6 | Blautia obeum</text>
<text x="527.5" y="2601.2" font-size="27" fill="#2b2b2b" text-anchor="end">6.1.1.10 | Blautia obeum</text>
<text x="527.5" y="2633" font-size="27" fill="#2b2b2b" text-anchor="end">4.2.1.33 | Blautia obeum</text>
<rect x="539.3" y="1946" width="426.7" height="20" fill="#e1e18e"/>
<rect x="539.3" y="1977.8" width="414.4" height="20" fill="#e1e18e"/>
<rect x="539.3" y="2009.6" width="333.9" height="20" fill="#e1e18e"/>
<rect x="539.3" y="2041.3" width="299.3" height="20" fill="#e1e18e"/>
<rect x="539.3" y="2073.1" width="293.7" height="20" fill="#e1e18e"/>
<rect x="539.3" y="2104.9" width="283.9" height="20" fill="#e1e18e"/>
<rect x="539.3" y="2136.7" width="274.7" height="20" fill="#e1e18e"/>
<rect x="539.3" y="2168.5" width="266.8" height="20" fill="#e1e18e"/>
<rect x="539.3" y="2200.2" width="243.2" height="20" fill="#e1e18e"/>
<rect x="539.3" y="2232" width="235.1" height="20" fill="#e1e18e"/>
<rect x="539.3" y="2263.8" width="234.5" height="20" fill="#e1e18e"/>
<rect x="539.3" y="2295.6" width="230" height="20" fill="#e1e18e"/>
<rect x="539.3" y="2327.4" width="223.3" height="20" fill="#e1e18e"/>
<rect x="539.3" y="2359.1" width="223" height="20" fill="#e1e18e"/>
<rect x="539.3" y="2390.9" width="222.5" height="20" fill="#e1e18e"/>
<rect x="539.3" y="2422.7" width="213.2" height="20" fill="#e1e18e"/>
<rect x="539.3" y="2454.5" width="197.5" height="20" fill="#e1e18e"/>
<rect x="539.3" y="2486.3" width="187.4" height="20" fill="#e1e18e"/>
<rect x="539.3" y="2518" width="183.2" height="20" fill="#e1e18e"/>
<rect x="539.3" y="2549.8" width="179.5" height="20" fill="#e1e18e"/>
<rect x="539.3" y="2581.6" width="176.4" height="20" fill="#e1e18e"/>
<rect x="539.3" y="2613.4" width="153.7" height="20" fill="#e1e18e"/>
<line x1="539.3" y1="1937.4" x2="539.3" y2="2643.2" stroke="#222222" stroke-width="1.6"/>
<line x1="533.3" y1="1956" x2="539.3" y2="1956" stroke="#222" stroke-width="2.2"/>
<line x1="533.3" y1="1987.8" x2="539.3" y2="1987.8" stroke="#222" stroke-width="2.2"/>
<line x1="533.3" y1="2019.6" x2="539.3" y2="2019.6" stroke="#222" stroke-width="2.2"/>
<line x1="533.3" y1="2051.3" x2="539.3" y2="2051.3" stroke="#222" stroke-width="2.2"/>
<line x1="533.3" y1="2083.1" x2="539.3" y2="2083.1" stroke="#222" stroke-width="2.2"/>
<line x1="533.3" y1="2114.9" x2="539.3" y2="2114.9" stroke="#222" stroke-width="2.2"/>
<line x1="533.3" y1="2146.7" x2="539.3" y2="2146.7" stroke="#222" stroke-width="2.2"/>
<line x1="533.3" y1="2178.5" x2="539.3" y2="2178.5" stroke="#222" stroke-width="2.2"/>
<line x1="533.3" y1="2210.2" x2="539.3" y2="2210.2" stroke="#222" stroke-width="2.2"/>
<line x1="533.3" y1="2242" x2="539.3" y2="2242" stroke="#222" stroke-width="2.2"/>
<line x1="533.3" y1="2273.8" x2="539.3" y2="2273.8" stroke="#222" stroke-width="2.2"/>
<line x1="533.3" y1="2305.6" x2="539.3" y2="2305.6" stroke="#222" stroke-width="2.2"/>
<line x1="533.3" y1="2337.4" x2="539.3" y2="2337.4" stroke="#222" stroke-width="2.2"/>
<line x1="533.3" y1="2369.1" x2="539.3" y2="2369.1" stroke="#222" stroke-width="2.2"/>
<line x1="533.3" y1="2400.9" x2="539.3" y2="2400.9" stroke="#222" stroke-width="2.2"/>
<line x1="533.3" y1="2432.7" x2="539.3" y2="2432.7" stroke="#222" stroke-width="2.2"/>
<line x1="533.3" y1="2464.5" x2="539.3" y2="2464.5" stroke="#222" stroke-width="2.2"/>
<line x1="533.3" y1="2496.3" x2="539.3" y2="2496.3" stroke="#222" stroke-width="2.2"/>
<line x1="533.3" y1="2528" x2="539.3" y2="2528" stroke="#222" stroke-width="2.2"/>
<line x1="533.3" y1="2559.8" x2="539.3" y2="2559.8" stroke="#222" stroke-width="2.2"/>
<line x1="533.3" y1="2591.6" x2="539.3" y2="2591.6" stroke="#222" stroke-width="2.2"/>
<line x1="533.3" y1="2623.4" x2="539.3" y2="2623.4" stroke="#222" stroke-width="2.2"/>
<line x1="538.5" y1="2642.4" x2="965.5" y2="2642.4" stroke="#222222" stroke-width="1.6"/>
<line x1="539.3" y1="2642.4" x2="539.3" y2="2648.4" stroke="#222" stroke-width="2.2"/>
<text x="539.3" y="2672.8" font-size="26" fill="#2b2b2b" text-anchor="middle">0</text>
<line x1="649.4" y1="2642.4" x2="649.4" y2="2648.4" stroke="#222" stroke-width="2.2"/>
<text x="649.4" y="2672.8" font-size="26" fill="#2b2b2b" text-anchor="middle">2</text>
<line x1="759.5" y1="2642.4" x2="759.5" y2="2648.4" stroke="#222" stroke-width="2.2"/>
<text x="759.5" y="2672.8" font-size="26" fill="#2b2b2b" text-anchor="middle">4</text>
<line x1="869.6" y1="2642.4" x2="869.6" y2="2648.4" stroke="#222" stroke-width="2.2"/>
<text x="869.6" y="2672.8" font-size="26" fill="#2b2b2b" text-anchor="middle">6</text>
<text x="752.1" y="2705" font-size="26.7" fill="#000" text-anchor="middle">Feature contribution (%)</text>
<rect x="673.1" y="1872.6" width="33.7" height="33.7" fill="#e1e18e"/>
<text x="721" y="1898.7" font-size="26" fill="#000">Control</text>
<line x1="1225.5" y1="1937.6" x2="1225.5" y2="2642.9" stroke="#808080" stroke-width="2.2"/>
<line x1="997" y1="2642.9" x2="1568.2" y2="2642.9" stroke="#222222" stroke-width="1.6"/>
<line x1="997" y1="2642.9" x2="997" y2="2648.9" stroke="#222222" stroke-width="1.8"/>
<text x="997" y="2668.5" font-size="19.5" fill="#2b2b2b" text-anchor="middle">−4</text>
<line x1="1111.3" y1="2642.9" x2="1111.3" y2="2648.9" stroke="#222222" stroke-width="1.8"/>
<text x="1111.3" y="2668.5" font-size="19.5" fill="#2b2b2b" text-anchor="middle">−2</text>
<line x1="1225.5" y1="2642.9" x2="1225.5" y2="2648.9" stroke="#222222" stroke-width="1.8"/>
<text x="1225.5" y="2668.5" font-size="19.5" fill="#2b2b2b" text-anchor="middle">0</text>
<line x1="1339.7" y1="2642.9" x2="1339.7" y2="2648.9" stroke="#222222" stroke-width="1.8"/>
<text x="1339.7" y="2668.5" font-size="19.5" fill="#2b2b2b" text-anchor="middle">2</text>
<line x1="1454" y1="2642.9" x2="1454" y2="2648.9" stroke="#222222" stroke-width="1.8"/>
<text x="1454" y="2668.5" font-size="19.5" fill="#2b2b2b" text-anchor="middle">4</text>
<line x1="1568.2" y1="2642.9" x2="1568.2" y2="2648.9" stroke="#222222" stroke-width="1.8"/>
<text x="1568.2" y="2668.5" font-size="19.5" fill="#2b2b2b" text-anchor="middle">6</text>
<text x="1282.9" y="2704.8" font-size="26.8" fill="#000" text-anchor="middle">SHAP value (impact on model output)</text>
<rect x="973.4" y="1873.4" width="326.6" height="16" fill="url(#shapgrad)"/>
<text x="959" y="1914.6" font-size="17.7" fill="#000">Low</text>
<text x="1317.5" y="1914.6" font-size="17.7" fill="#000" text-anchor="end">High</text>
<rect x="1413" y="1870.2" width="21.3" height="21.3" fill="#cc5232"/>
<text x="1443.5" y="1888.3" font-size="22.2" fill="#000">Significant</text>
<text x="1569.3" y="1871" font-size="20.4" fill="#000">Compounds</text>
<text x="1569.3" y="1896.3" font-size="20.4" fill="#000">and Foods</text>
<rect x="1709.2" y="1861" width="159.7" height="32.5" fill="url(#gc)"/>
<line x1="1727.3" y1="1861" x2="1727.3" y2="1866" stroke="#fff" stroke-width="1.3"/>
<line x1="1727.3" y1="1888.5" x2="1727.3" y2="1893.5" stroke="#fff" stroke-width="1.3"/>
<text x="1727.3" y="1907.6" font-size="14" fill="#000" text-anchor="middle">4</text>
<line x1="1799.7" y1="1861" x2="1799.7" y2="1866" stroke="#fff" stroke-width="1.3"/>
<line x1="1799.7" y1="1888.5" x2="1799.7" y2="1893.5" stroke="#fff" stroke-width="1.3"/>
<text x="1799.7" y="1907.6" font-size="14" fill="#000" text-anchor="middle">8</text>
<rect x="1629.2" y="1940.1" width="27.2" height="31.8" fill="#fff" stroke="#c9c9c9" stroke-width="1.4"/>
<rect x="1629.2" y="1971.9" width="27.2" height="31.8" fill="#cc5232" stroke="#c9c9c9" stroke-width="1.4"/>
<rect x="1629.2" y="2003.7" width="27.2" height="31.8" fill="#fff" stroke="#c9c9c9" stroke-width="1.4"/>
<rect x="1629.2" y="2035.5" width="27.2" height="31.8" fill="#fff" stroke="#c9c9c9" stroke-width="1.4"/>
<rect x="1629.2" y="2067.2" width="27.2" height="31.8" fill="#fff" stroke="#c9c9c9" stroke-width="1.4"/>
<rect x="1629.2" y="2099" width="27.2" height="31.8" fill="#fff" stroke="#c9c9c9" stroke-width="1.4"/>
<rect x="1629.2" y="2130.8" width="27.2" height="31.8" fill="#fff" stroke="#c9c9c9" stroke-width="1.4"/>
<rect x="1629.2" y="2162.6" width="27.2" height="31.8" fill="#fff" stroke="#c9c9c9" stroke-width="1.4"/>
<rect x="1629.2" y="2194.3" width="27.2" height="31.8" fill="#cc5232" stroke="#c9c9c9" stroke-width="1.4"/>
<rect x="1629.2" y="2226.1" width="27.2" height="31.8" fill="#fff" stroke="#c9c9c9" stroke-width="1.4"/>
<rect x="1629.2" y="2257.9" width="27.2" height="31.8" fill="#fff" stroke="#c9c9c9" stroke-width="1.4"/>
<rect x="1629.2" y="2289.7" width="27.2" height="31.8" fill="#fff" stroke="#c9c9c9" stroke-width="1.4"/>
<rect x="1629.2" y="2321.5" width="27.2" height="31.8" fill="#cc5232" stroke="#c9c9c9" stroke-width="1.4"/>
<rect x="1629.2" y="2353.2" width="27.2" height="31.8" fill="#fff" stroke="#c9c9c9" stroke-width="1.4"/>
<rect x="1629.2" y="2385" width="27.2" height="31.8" fill="#fff" stroke="#c9c9c9" stroke-width="1.4"/>
<rect x="1629.2" y="2416.8" width="27.2" height="31.8" fill="#fff" stroke="#c9c9c9" stroke-width="1.4"/>
<rect x="1629.2" y="2448.6" width="27.2" height="31.8" fill="#fff" stroke="#c9c9c9" stroke-width="1.4"/>
<rect x="1629.2" y="2480.4" width="27.2" height="31.8" fill="#fff" stroke="#c9c9c9" stroke-width="1.4"/>
<rect x="1629.2" y="2512.2" width="27.2" height="31.8" fill="#fff" stroke="#c9c9c9" stroke-width="1.4"/>
<rect x="1629.2" y="2543.9" width="27.2" height="31.8" fill="#fff" stroke="#c9c9c9" stroke-width="1.4"/>
<rect x="1629.2" y="2575.7" width="27.2" height="31.8" fill="#fff" stroke="#c9c9c9" stroke-width="1.4"/>
<rect x="1629.2" y="2607.5" width="27.2" height="31.8" fill="#fff" stroke="#c9c9c9" stroke-width="1.4"/>
<rect x="1692.5" y="1940.1" width="24.6" height="31.8" fill="#fff" stroke="#c9c9c9" stroke-width="1.4"/>
<rect x="1717.1" y="1940.1" width="27.2" height="31.8" fill="#fff" stroke="#c9c9c9" stroke-width="1.4"/>
<rect x="1744.3" y="1940.1" width="27.2" height="31.8" fill="#fff" stroke="#c9c9c9" stroke-width="1.4"/>
<rect x="1692.5" y="1971.9" width="24.6" height="31.8" fill="#fff" stroke="#c9c9c9" stroke-width="1.4"/>
<rect x="1717.1" y="1971.9" width="27.2" height="31.8" fill="#fff" stroke="#c9c9c9" stroke-width="1.4"/>
<rect x="1744.3" y="1971.9" width="27.2" height="31.8" fill="#e6edf6" stroke="#c9c9c9" stroke-width="1.4"/>
<rect x="1692.5" y="2003.7" width="24.6" height="31.8" fill="#fff" stroke="#c9c9c9" stroke-width="1.4"/>
<rect x="1717.1" y="2003.7" width="27.2" height="31.8" fill="#e6edf6" stroke="#c9c9c9" stroke-width="1.4"/>
<rect x="1744.3" y="2003.7" width="27.2" height="31.8" fill="#b8cce4" stroke="#c9c9c9" stroke-width="1.4"/>
<rect x="1692.5" y="2035.5" width="24.6" height="31.8" fill="#cc5232" stroke="#c9c9c9" stroke-width="1.4"/>
<rect x="1717.1" y="2035.5" width="27.2" height="31.8" fill="#6f9cc9" stroke="#c9c9c9" stroke-width="1.4"/>
<rect x="1744.3" y="2035.5" width="27.2" height="31.8" fill="#4a80bc" stroke="#c9c9c9" stroke-width="1.4"/>
<rect x="1692.5" y="2067.2" width="24.6" height="31.8" fill="#fff" stroke="#c9c9c9" stroke-width="1.4"/>
<rect x="1717.1" y="2067.2" width="27.2" height="31.8" fill="#b8cce4" stroke="#c9c9c9" stroke-width="1.4"/>
<rect x="1744.3" y="2067.2" width="27.2" height="31.8" fill="#e6edf6" stroke="#c9c9c9" stroke-width="1.4"/>
<rect x="1692.5" y="2099" width="24.6" height="31.8" fill="#fff" stroke="#c9c9c9" stroke-width="1.4"/>
<rect x="1717.1" y="2099" width="27.2" height="31.8" fill="#fff" stroke="#c9c9c9" stroke-width="1.4"/>
<rect x="1744.3" y="2099" width="27.2" height="31.8" fill="#fff" stroke="#c9c9c9" stroke-width="1.4"/>
<rect x="1692.5" y="2130.8" width="24.6" height="31.8" fill="#fff" stroke="#c9c9c9" stroke-width="1.4"/>
<rect x="1717.1" y="2130.8" width="27.2" height="31.8" fill="#fff" stroke="#c9c9c9" stroke-width="1.4"/>
<rect x="1744.3" y="2130.8" width="27.2" height="31.8" fill="#e6edf6" stroke="#c9c9c9" stroke-width="1.4"/>
<rect x="1692.5" y="2162.6" width="24.6" height="31.8" fill="#fff" stroke="#c9c9c9" stroke-width="1.4"/>
<rect x="1717.1" y="2162.6" width="27.2" height="31.8" fill="#e6edf6" stroke="#c9c9c9" stroke-width="1.4"/>
<rect x="1744.3" y="2162.6" width="27.2" height="31.8" fill="#b8cce4" stroke="#c9c9c9" stroke-width="1.4"/>
<rect x="1692.5" y="2194.3" width="24.6" height="31.8" fill="#fff" stroke="#c9c9c9" stroke-width="1.4"/>
<rect x="1717.1" y="2194.3" width="27.2" height="31.8" fill="#fff" stroke="#c9c9c9" stroke-width="1.4"/>
<rect x="1744.3" y="2194.3" width="27.2" height="31.8" fill="#b8cce4" stroke="#c9c9c9" stroke-width="1.4"/>
<rect x="1692.5" y="2226.1" width="24.6" height="31.8" fill="#fff" stroke="#c9c9c9" stroke-width="1.4"/>
<rect x="1717.1" y="2226.1" width="27.2" height="31.8" fill="#9ab6da" stroke="#c9c9c9" stroke-width="1.4"/>
<rect x="1744.3" y="2226.1" width="27.2" height="31.8" fill="#6f9cc9" stroke="#c9c9c9" stroke-width="1.4"/>
<rect x="1692.5" y="2257.9" width="24.6" height="31.8" fill="#fff" stroke="#c9c9c9" stroke-width="1.4"/>
<rect x="1717.1" y="2257.9" width="27.2" height="31.8" fill="#e6edf6" stroke="#c9c9c9" stroke-width="1.4"/>
<rect x="1744.3" y="2257.9" width="27.2" height="31.8" fill="#b8cce4" stroke="#c9c9c9" stroke-width="1.4"/>
<rect x="1692.5" y="2289.7" width="24.6" height="31.8" fill="#fff" stroke="#c9c9c9" stroke-width="1.4"/>
<rect x="1717.1" y="2289.7" width="27.2" height="31.8" fill="#fff" stroke="#c9c9c9" stroke-width="1.4"/>
<rect x="1744.3" y="2289.7" width="27.2" height="31.8" fill="#b8cce4" stroke="#c9c9c9" stroke-width="1.4"/>
<rect x="1692.5" y="2321.5" width="24.6" height="31.8" fill="#fff" stroke="#c9c9c9" stroke-width="1.4"/>
<rect x="1717.1" y="2321.5" width="27.2" height="31.8" fill="#9ab6da" stroke="#c9c9c9" stroke-width="1.4"/>
<rect x="1744.3" y="2321.5" width="27.2" height="31.8" fill="#6f9cc9" stroke="#c9c9c9" stroke-width="1.4"/>
<rect x="1692.5" y="2353.2" width="24.6" height="31.8" fill="#fff" stroke="#c9c9c9" stroke-width="1.4"/>
<rect x="1717.1" y="2353.2" width="27.2" height="31.8" fill="#cfdcec" stroke="#c9c9c9" stroke-width="1.4"/>
<rect x="1744.3" y="2353.2" width="27.2" height="31.8" fill="#fff" stroke="#c9c9c9" stroke-width="1.4"/>
<rect x="1692.5" y="2385" width="24.6" height="31.8" fill="#fff" stroke="#c9c9c9" stroke-width="1.4"/>
<rect x="1717.1" y="2385" width="27.2" height="31.8" fill="#e6edf6" stroke="#c9c9c9" stroke-width="1.4"/>
<rect x="1744.3" y="2385" width="27.2" height="31.8" fill="#e6edf6" stroke="#c9c9c9" stroke-width="1.4"/>
<rect x="1692.5" y="2416.8" width="24.6" height="31.8" fill="#fff" stroke="#c9c9c9" stroke-width="1.4"/>
<rect x="1717.1" y="2416.8" width="27.2" height="31.8" fill="#e6edf6" stroke="#c9c9c9" stroke-width="1.4"/>
<rect x="1744.3" y="2416.8" width="27.2" height="31.8" fill="#fff" stroke="#c9c9c9" stroke-width="1.4"/>
<rect x="1692.5" y="2448.6" width="24.6" height="31.8" fill="#fff" stroke="#c9c9c9" stroke-width="1.4"/>
<rect x="1717.1" y="2448.6" width="27.2" height="31.8" fill="#fff" stroke="#c9c9c9" stroke-width="1.4"/>
<rect x="1744.3" y="2448.6" width="27.2" height="31.8" fill="#e6edf6" stroke="#c9c9c9" stroke-width="1.4"/>
<rect x="1692.5" y="2480.4" width="24.6" height="31.8" fill="#fff" stroke="#c9c9c9" stroke-width="1.4"/>
<rect x="1717.1" y="2480.4" width="27.2" height="31.8" fill="#e6edf6" stroke="#c9c9c9" stroke-width="1.4"/>
<rect x="1744.3" y="2480.4" width="27.2" height="31.8" fill="#fff" stroke="#c9c9c9" stroke-width="1.4"/>
<rect x="1692.5" y="2512.2" width="24.6" height="31.8" fill="#fff" stroke="#c9c9c9" stroke-width="1.4"/>
<rect x="1717.1" y="2512.2" width="27.2" height="31.8" fill="#cfdcec" stroke="#c9c9c9" stroke-width="1.4"/>
<rect x="1744.3" y="2512.2" width="27.2" height="31.8" fill="#fff" stroke="#c9c9c9" stroke-width="1.4"/>
<rect x="1692.5" y="2543.9" width="24.6" height="31.8" fill="#fff" stroke="#c9c9c9" stroke-width="1.4"/>
<rect x="1717.1" y="2543.9" width="27.2" height="31.8" fill="#fff" stroke="#c9c9c9" stroke-width="1.4"/>
<rect x="1744.3" y="2543.9" width="27.2" height="31.8" fill="#e6edf6" stroke="#c9c9c9" stroke-width="1.4"/>
<rect x="1692.5" y="2575.7" width="24.6" height="31.8" fill="#fff" stroke="#c9c9c9" stroke-width="1.4"/>
<rect x="1717.1" y="2575.7" width="27.2" height="31.8" fill="#e6edf6" stroke="#c9c9c9" stroke-width="1.4"/>
<rect x="1744.3" y="2575.7" width="27.2" height="31.8" fill="#e6edf6" stroke="#c9c9c9" stroke-width="1.4"/>
<rect x="1692.5" y="2607.5" width="24.6" height="31.8" fill="#fff" stroke="#c9c9c9" stroke-width="1.4"/>
<rect x="1717.1" y="2607.5" width="27.2" height="31.8" fill="#e6edf6" stroke="#c9c9c9" stroke-width="1.4"/>
<rect x="1744.3" y="2607.5" width="27.2" height="31.8" fill="#e6edf6" stroke="#c9c9c9" stroke-width="1.4"/>
<circle cx="1786.8" cy="1956" r="11.3" fill="#ea68f2"/>
<circle cx="1786.8" cy="1987.8" r="11.3" fill="#ea68f2"/>
<circle cx="1786.8" cy="2019.6" r="11.3" fill="#a2b02c"/>
<circle cx="1786.8" cy="2051.3" r="11.3" fill="#4cb8f5"/>
<circle cx="1786.8" cy="2083.1" r="11.3" fill="#4cb8f5"/>
<circle cx="1786.8" cy="2114.9" r="11.3" fill="#a2b02c"/>
<circle cx="1786.8" cy="2146.7" r="11.3" fill="#4cb8f5"/>
<circle cx="1786.8" cy="2178.5" r="11.3" fill="#ea68f2"/>
<circle cx="1786.8" cy="2210.2" r="11.3" fill="#4cb8f5"/>
<circle cx="1786.8" cy="2242" r="11.3" fill="#ea68f2"/>
<circle cx="1786.8" cy="2273.8" r="11.3" fill="#ec6b6b"/>
<circle cx="1786.8" cy="2305.6" r="11.3" fill="#a2b02c"/>
<circle cx="1786.8" cy="2337.4" r="11.3" fill="#ea68f2"/>
<circle cx="1786.8" cy="2369.1" r="11.3" fill="#ec6b6b"/>
<circle cx="1786.8" cy="2400.9" r="11.3" fill="#a2b02c"/>
<circle cx="1786.8" cy="2432.7" r="11.3" fill="#a2b02c"/>
<circle cx="1786.8" cy="2464.5" r="11.3" fill="#44d48a"/>
<circle cx="1786.8" cy="2496.3" r="11.3" fill="#a2b02c"/>
<circle cx="1786.8" cy="2528" r="11.3" fill="#4cb8f5"/>
<circle cx="1786.8" cy="2559.8" r="11.3" fill="#a2b02c"/>
<circle cx="1786.8" cy="2591.6" r="11.3" fill="#a2b02c"/>
<circle cx="1786.8" cy="2623.4" r="11.3" fill="#44d48a"/>
<text x="1844" y="2149.9" font-size="24.8" fill="#000">EC class</text>
<circle cx="1873" cy="2190.3" r="12.7" fill="#ec6b6b"/>
<text x="1902" y="2197.6" font-size="20.2" fill="#000">Isomerase</text>
<circle cx="1873" cy="2234.2" r="12.7" fill="#a2b02c"/>
<text x="1902" y="2241.5" font-size="20.2" fill="#000">Ligase</text>
<circle cx="1873" cy="2278.1" r="12.7" fill="#44d48a"/>
<text x="1902" y="2285.4" font-size="20.2" fill="#000">Lyase</text>
<circle cx="1873" cy="2322" r="12.7" fill="#4cb8f5"/>
<text x="1902" y="2329.3" font-size="20.2" fill="#000">Oxidoreductase</text>
<circle cx="1873" cy="2365.9" r="12.7" fill="#ea68f2"/>
<text x="1902" y="2373.2" font-size="20.2" fill="#000">Transferase</text>
<line x1="1626.1" y1="2642.2" x2="1658.7" y2="2642.2" stroke="#222222" stroke-width="1.6"/>
<line x1="1642.8" y1="2642.2" x2="1642.8" y2="2648.2" stroke="#222222" stroke-width="1.8"/>
<text x="1642.8" y="2667.4" font-size="18.7" fill="#2b2b2b" text-anchor="middle">S</text>
<line x1="1690.4" y1="2642.2" x2="1800.7" y2="2642.2" stroke="#222222" stroke-width="1.6"/>
<line x1="1704.5" y1="2642.2" x2="1704.5" y2="2648.2" stroke="#222222" stroke-width="1.8"/>
<text x="1704.5" y="2667.4" font-size="18.7" fill="#2b2b2b" text-anchor="middle">S</text>
<line x1="1730.8" y1="2642.2" x2="1730.8" y2="2648.2" stroke="#222222" stroke-width="1.8"/>
<text x="1730.8" y="2667.4" font-size="18.7" fill="#2b2b2b" text-anchor="middle">C</text>
<line x1="1757.7" y1="2642.2" x2="1757.7" y2="2648.2" stroke="#222222" stroke-width="1.8"/>
<text x="1757.7" y="2667.4" font-size="18.7" fill="#2b2b2b" text-anchor="middle">F</text>
<line x1="1786.9" y1="2642.2" x2="1786.9" y2="2648.2" stroke="#222222" stroke-width="1.8"/>
<text x="1786.9" y="2667.4" font-size="18.7" fill="#2b2b2b" text-anchor="middle">Class</text>
<text x="1592.5" y="2705" font-size="26.9" fill="#000">Species</text>
<text x="1725.3" y="2705" font-size="26.9" fill="#000">Ecs</text>
<path class="dc" d="M1017.2 1956.6h0M1023.5 1956.5h0M1029.9 1953.4h0M1032.1 1954.2h0M1032.8 1960.9h0M1033.6 1948.7h0M1039.8 1953.9h0M1044.3 1957.6h0M1046.3 1952.1h0M1050.2 1954.5h0M1051.3 1954.5h0M1056.9 1955.8h0M1055.5 1960.2h0M1058.6 1950.6h0M1060.1 1964.4h0M1058.6 1956.5h0M1063.5 1959.8h0M1064.5 1949.9h0M1064.5 1965.7h0M1066.3 1955.8h0M1066.5 1959.7h0M1070.7 1950.9h0M1074.6 1957.3h0M1073.9 1952.7h0M1074.3 1962.9h0M1075.2 1956.6h0M1081.6 1955.8h0M1081.6 1960.5h0M1086.3 1950.6h0M1088.4 1954.9h0M1094.1 1954.9h0M1096.1 1956.3h0M1100.6 1957.7h0M1101.7 1952.1h0M1105.4 1956h0M1116.7 1957.2h0M1119.7 1951.7h0M1188.9 1956.4h0M1407.7 1955.6h0M1429.7 1955.2h0M1436.9 1956.7h0M1446.8 1955.5h0M1450.3 1955.1h0M1454 1959.2h0M1457.3 1956.6h0M1462.8 1955.5h0M1469.2 1957h0M1472.4 1956.4h0M1476.6 1955.4h0M1478.4 1960.3h0M1477.7 1950.9h0M1482.4 1957.9h0M1482.8 1954.3h0M1488.6 1954.4h0M1489 1959.6h0M1491.2 1955.1h0M1493.6 1960.2h0M1492.7 1950.5h0M1493.7 1955.3h0M1499.8 1958.5h0M1508.1 1957.1h0M1520.8 1955.5h0M1003.4 1988.5h0M1015.6 1988.3h0M1026.3 1987.2h0M1029.8 1989.8h0M1039.4 1988.6h0M1041.7 1989.4h0M1045.7 1985.3h0M1046.7 1992.6h0M1050 1987h0M1054.7 1987.6h0M1055.8 1991.2h0M1058.3 1989h0M1059.7 1984.8h0M1062.2 1993.6h0M1061.9 1986.8h0M1063.2 1991.7h0M1066.6 1988h0M1067.7 1991h0M1070.2 1984.4h0M1070.9 1986.5h0M1073 1991.2h0M1072.8 1982.2h0M1074.8 1996.1h0M1076.6 1977.9h0M1078.5 1986h0M1080.9 1987h0M1083.7 1990.3h0M1090 1989.4h0M1087.7 1984.4h0M1094.2 1989h0M1095.9 1988h0M1100.7 1987.4h0M1106.4 1990.7h0M1105.3 1989.2h0M1108.3 1985.5h0M1112.6 1989.7h0M1117.9 1987.6h0M1119.1 1991h0M1121 1987.4h0M1330.6 1987.3h0M1391.4 1988.1h0M1417.1 1987.9h0M1427.7 1988.9h0M1435.2 1986.1h0M1438.3 1985.4h0M1438.5 1990.1h0M1442.9 1983.6h0M1445 1985.2h0M1447.3 1992.7h0M1450.3 1986.3h0M1454.8 1987.5h0M1459.5 1991.7h0M1461 1985.7h0M1462.5 1994.1h0M1465.6 1990.3h0M1466.5 1983.7h0M1475.3 1987.1h0M1478.1 1986.3h0M1480.5 1990.4h0M1486.1 1990h0M1494.5 1987.5h0M1497.4 1991.8h0M1505.1 1987.1h0M1511 1989h0M1517.5 1989.4h0M1062.1 2019.3h0M1077.8 2016.9h0M1080.1 2021h0M1088.1 2020.3h0M1093.8 2019.8h0M1095.8 2023.2h0M1097 2013.7h0M1097.4 2029.2h0M1104.9 2019.7h0M1105.6 2023.1h0M1107.1 2014.1h0M1109.2 2022.2h0M1114.4 2019.2h0M1113.2 2023.9h0M1118.4 2012.9h0M1119.3 2018h0M1121.4 2026h0M1123.6 2010.8h0M1123.7 2018.3h0M1123.7 2026h0M1125 2011.9h0M1129.3 2021.2h0M1132.8 2017.8h0M1139.8 2021.2h0M1142.1 2019.9h0M1144.9 2023.9h0M1148.8 2019.7h0M1149.7 2023.2h0M1153.1 2014.1h0M1155.5 2018.2h0M1157.1 2017.7h0M1164 2021.2h0M1163.9 2016.4h0M1169.6 2022.1h0M1174.7 2021.7h0M1177.9 2019.1h0M1184.3 2019h0M1365.4 2019.1h0M1387.8 2019.7h0M1417.7 2019.9h0M1423.6 2018.5h0M1434.6 2018.5h0M1439 2017.9h0M1442.1 2021.8h0M1450.9 2018.9h0M1452.6 2022.6h0M1456.9 2017.6h0M1463.1 2021h0M1463.8 2021.3h0M1471.9 2020.8h0M1480 2021.6h0M1484.7 2016.8h0M1486.7 2018h0M1509.7 2020.3h0M1514.7 2017.9h0M1525.3 2020.2h0M1015.3 2051.8h0M1053.8 2049.2h0M1054.1 2052.9h0M1064.4 2052.6h0M1068.1 2052.4h0M1071 2053h0M1075.5 2048.3h0M1078.7 2049.1h0M1080.3 2056.6h0M1080.4 2045.5h0M1081.3 2051.1h0M1082.5 2054.1h0M1083.3 2046h0M1087.9 2051.2h0M1086.8 2054.5h0M1087 2047.1h0M1090.1 2051.8h0M1091.7 2054.9h0M1097 2050.9h0M1098.9 2055.3h0M1100.1 2046.2h0M1102.5 2051.7h0M1109.9 2053.3h0M1114.8 2053.5h0M1116.4 2048h0M1115.8 2057.4h0M1118.5 2050.4h0M1121.2 2051.6h0M1127.4 2051.2h0M1131 2054.5h0M1137.8 2051.9h0M1204.6 2051.4h0M1290.3 2051.4h0M1331.1 2052.1h0M1334.9 2050.7h0M1341.5 2053.6h0M1347 2050.8h0M1349.3 2053.6h0M1352.5 2048.6h0M1353 2056.9h0M1356.5 2049.4h0M1359.2 2056.5h0M1361.9 2049.9h0M1363.6 2056.5h0M1370.2 2051.5h0M1371.1 2054.9h0M1372.4 2046.5h0M1372.6 2058.9h0M1378.6 2053.6h0M1383.1 2052.8h0M1386.3 2052.2h0M1388.9 2048.6h0M1389.2 2052.6h0M1392.9 2048.7h0M1396 2052.7h0M1398 2048.1h0M1407 2051.2h0M1414.8 2051.7h0M1428.1 2051.3h0M1032.2 2083.9h0M1056.6 2083h0M1062.4 2082.4h0M1067.2 2083.5h0M1068.8 2086h0M1071.7 2082.6h0M1073.5 2086h0M1075.2 2077h0M1076.4 2092.4h0M1077.9 2080.7h0M1082.2 2088.9h0M1082.1 2085.7h0M1082.6 2080.1h0M1085.9 2090.7h0M1088.7 2080.8h0M1088.2 2089h0M1088.6 2075.8h0M1094.3 2083.8h0M1092.1 2087.2h0M1094.4 2077.6h0M1096.4 2083.6h0M1099.7 2086.1h0M1103.1 2083.2h0M1104.4 2086.2h0M1106.6 2077.8h0M1125 2082.8h0M1140.7 2082.8h0M1175.4 2082.6h0M1192.2 2083.1h0M1263.6 2083.9h0M1276.4 2082.8h0M1289.3 2082.9h0M1317.7 2082.3h0M1327.5 2082.8h0M1339.7 2085.8h0M1344.5 2085.7h0M1348.1 2078.2h0M1353.2 2083.7h0M1358.3 2088.3h0M1358.1 2076.5h0M1362.6 2080.9h0M1362.5 2083.9h0M1367.7 2087.8h0M1370.5 2081.4h0M1375 2090.5h0M1377.4 2080.6h0M1380.2 2085h0M1384.5 2085.4h0M1387.6 2077.9h0M1389 2083.7h0M1391.5 2087.2h0M1418.8 2082.4h0M1049 2114.4h0M1073.4 2114.5h0M1077.5 2112.5h0M1080.5 2117.2h0M1085.5 2111.9h0M1086.1 2116.2h0M1087.8 2111.9h0M1091.7 2116.1h0M1093 2111.5h0M1096.2 2122.1h0M1097.8 2116.6h0M1098.6 2111.2h0M1098.6 2121.4h0M1099.5 2114.1h0M1099.4 2117.7h0M1103.4 2110.2h0M1103.1 2124.4h0M1106.8 2117h0M1112.2 2115.5h0M1113.4 2115h0M1116.3 2118.2h0M1116.9 2109.2h0M1122.5 2117.2h0M1123.8 2110.6h0M1125 2114.9h0M1131.9 2115.3h0M1136.2 2119h0M1139.6 2113.3h0M1142.8 2115.6h0M1174.3 2114.1h0M1270.1 2114.2h0M1293.6 2114.5h0M1316.5 2117.2h0M1322.8 2114.4h0M1325.2 2114.8h0M1333.9 2115.5h0M1341.1 2115h0M1342.7 2118.6h0M1350.7 2112.5h0M1353.4 2116.5h0M1351.3 2110.9h0M1354.2 2116h0M1359.2 2111.8h0M1362.5 2113h0M1363 2120.3h0M1368.6 2117h0M1370.5 2110.6h0M1373 2113.2h0M1377.1 2114.7h0M1378 2118h0M1382.6 2117.3h0M1384.7 2114.7h0M1389.5 2118.1h0M1397.1 2115.4h0M1407.6 2115.3h0M1429.2 2114.6h0M1446.3 2114.6h0M1060.7 2147.3h0M1069.6 2146.7h0M1093.2 2145.2h0M1097.1 2147.5h0M1099.8 2144.6h0M1100.8 2151.6h0M1101.1 2139h0M1101.9 2144.5h0M1102 2151.7h0M1103 2141.7h0M1104.1 2148.6h0M1108.6 2144.3h0M1109 2151.8h0M1110.4 2140.3h0M1109.4 2157.2h0M1110.3 2144.6h0M1113.3 2151h0M1114.9 2140.3h0M1113.2 2155.5h0M1115.6 2144.9h0M1137.5 2146h0M1156.7 2146.1h0M1172.8 2147.3h0M1212.9 2147.2h0M1247.8 2147.3h0M1290.6 2146.5h0M1319.6 2146.6h0M1321.9 2147.5h0M1331.7 2146.3h0M1337.3 2146.9h0M1337.4 2149.7h0M1340.6 2148.7h0M1341.6 2143.6h0M1345.6 2153.8h0M1345.1 2148.7h0M1347.4 2143.7h0M1347.8 2153.4h0M1352.9 2144.8h0M1354.3 2151.8h0M1355.4 2145h0M1366 2146.5h0M1372.5 2148.8h0M1373.4 2142.9h0M1379.6 2148.4h0M1383.1 2145.5h0M1386 2149h0M1393.4 2147.7h0M1408.1 2146.6h0M1062.1 2178.4h0M1084.3 2179.2h0M1094.2 2180.1h0M1098 2179.2h0M1099.2 2181.7h0M1100.2 2176.8h0M1104.6 2183.5h0M1108.2 2177.1h0M1109 2184.1h0M1108.2 2171.8h0M1113.2 2181h0M1111.7 2175.6h0M1113.8 2186.1h0M1117.5 2178.4h0M1119.9 2182.2h0M1119.2 2173.1h0M1122 2180.9h0M1125.1 2175.3h0M1126 2186h0M1125.4 2176.2h0M1132.5 2177.8h0M1132.4 2181.9h0M1135.8 2180.1h0M1140.8 2175.1h0M1144.1 2176.5h0M1166.6 2178.4h0M1183.2 2179.1h0M1227.2 2178.5h0M1257.9 2178.7h0M1274 2178.1h0M1291 2179.1h0M1344.8 2178.4h0M1360.4 2178.1h0M1379 2179.8h0M1384.9 2177.8h0M1387.6 2180.3h0M1388.9 2175.6h0M1391.9 2178.4h0M1393.1 2181.6h0M1399.5 2179.2h0M1401 2178.3h0M1400.9 2181.5h0M1401.6 2175.2h0M1404.3 2183.9h0M1406.2 2180h0M1413.1 2178.8h0M1424.2 2178.9h0M1428.7 2178.1h0M1488.3 2179.3h0M1079.4 2210.1h0M1085.3 2210h0M1087 2213.8h0M1090.1 2211.8h0M1096.8 2211.9h0M1097.4 2206.5h0M1097.3 2218.2h0M1100.4 2207.8h0M1106.7 2210.5h0M1107.4 2213.7h0M1109.1 2210h0M1111.7 2214.2h0M1112.9 2203.8h0M1116.4 2207.9h0M1116.3 2215.4h0M1117.8 2203h0M1120.1 2212h0M1123.7 2206.6h0M1127.4 2208.9h0M1128.3 2216.2h0M1129.4 2210.3h0M1132.1 2214.3h0M1137.2 2209h0M1141.3 2210.6h0M1145.6 2213.7h0M1148.1 2212.5h0M1156.4 2210.1h0M1169.8 2209.8h0M1184 2210.9h0M1198.7 2210.9h0M1212.8 2210.5h0M1226.9 2210.7h0M1241 2210h0M1253.2 2209.6h0M1269.4 2210.4h0M1283.2 2210.3h0M1294.9 2209.8h0M1309.8 2210.8h0M1331.2 2210h0M1343.4 2212.8h0M1346.9 2210.7h0M1351.3 2214.5h0M1356.7 2208.3h0M1357.3 2211.3h0M1359.6 2206.8h0M1364.4 2212.8h0M1366.1 2210h0M1377.7 2212.5h0M1386.3 2209.9h0M1410.4 2210h0M1431.5 2210.8h0M1448.6 2209.6h0M1466.9 2211h0M1109.2 2242.3h0M1113.9 2240.8h0M1120.6 2243.9h0M1125.9 2241.1h0M1130.5 2244.2h0M1134.3 2244h0M1138.8 2241.8h0M1141.8 2241.7h0M1143.2 2245.2h0M1144.2 2237.8h0M1145.4 2249.9h0M1146 2242.4h0M1147 2245.7h0M1150.6 2238h0M1152.1 2248.9h0M1152.6 2241h0M1153.6 2246.8h0M1153 2235.5h0M1153 2250.3h0M1156.9 2231.9h0M1158.3 2240.3h0M1156.8 2246h0M1160 2236h0M1164.3 2244.3h0M1167.4 2239.8h0M1165.9 2240.2h0M1174.4 2242h0M1175.3 2244.4h0M1177 2244.1h0M1180.6 2239.7h0M1186.8 2240.1h0M1189 2243.3h0M1303.8 2242.3h0M1341.1 2243.8h0M1354.2 2244h0M1357.1 2240.6h0M1363.3 2242.7h0M1374.7 2241.8h0M1382.9 2240.4h0M1389.8 2242.4h0M1394.5 2246.4h0M1398 2244.2h0M1405.2 2242.5h0M1411.7 2240.3h0M1429 2241.7h0M1453.2 2242.7h0M1467.1 2241.4h0M1470.7 2244.4h0M1081.3 2274.5h0M1084.7 2273.6h0M1087.8 2276.7h0M1092.5 2274h0M1096.7 2275.6h0M1103.1 2275.2h0M1104.1 2271.8h0M1106.9 2275.8h0M1109.1 2271.5h0M1112.1 2273.1h0M1114.4 2277.1h0M1112.3 2268.8h0M1113.7 2281.7h0M1116.3 2274.8h0M1119.4 2271.2h0M1122.1 2274.4h0M1124.5 2271.6h0M1126 2273.5h0M1128.5 2276.6h0M1129.3 2272h0M1131.5 2277.6h0M1134.8 2268.2h0M1137.6 2272.4h0M1139.1 2277.2h0M1147.4 2275.2h0M1149.6 2271.6h0M1152.7 2271.8h0M1157 2272.5h0M1166.6 2273.1h0M1185.4 2273.4h0M1208.9 2274.3h0M1234.5 2273.8h0M1248.5 2274.4h0M1262.6 2273.7h0M1278.5 2274.5h0M1295.9 2273.7h0M1335.3 2276h0M1340.7 2273.5h0M1345.6 2273.7h0M1348.6 2277.7h0M1354 2271.9h0M1357.9 2276.3h0M1363 2276.2h0M1364.1 2269.1h0M1368.9 2270.9h0M1369.7 2281h0M1375.3 2273.8h0M1379 2277.9h0M1381.9 2271.7h0M1387.8 2276.2h0M1394 2274h0M1409.5 2276.3h0M1412.7 2274h0M1422.7 2273.2h0M1065.9 2305.1h0M1084.5 2308.5h0M1091.2 2308.3h0M1093.1 2300.9h0M1100.2 2306.3h0M1106 2307.7h0M1108.9 2305.3h0M1112.4 2309.5h0M1112.7 2299.1h0M1117.8 2302.6h0M1117.3 2313.2h0M1118.3 2303.1h0M1121.6 2312h0M1124.4 2305.4h0M1127.8 2305.9h0M1130.4 2309.6h0M1134 2299h0M1135.4 2303.2h0M1134.2 2312.7h0M1140.4 2305.6h0M1140.3 2310.3h0M1145 2305h0M1145.2 2310.7h0M1147.7 2299.2h0M1149.3 2308.1h0M1153.4 2301.6h0M1158.1 2302.5h0M1160.9 2302.9h0M1201.5 2305.8h0M1219.8 2304.9h0M1238.6 2305.2h0M1258.8 2306.1h0M1288.1 2306.3h0M1314.3 2305.7h0M1325.2 2304.6h0M1328.2 2305.5h0M1330.5 2308.3h0M1332.3 2300.1h0M1332.5 2303.7h0M1339.7 2307h0M1343.4 2305.2h0M1344.5 2308.6h0M1346.2 2306.9h0M1350 2301.7h0M1352.6 2306h0M1357.7 2309h0M1356.3 2303.2h0M1358.5 2310.3h0M1359.2 2299.1h0M1364.2 2303.3h0M1364.2 2310.8h0M1369.4 2306.5h0M1376.4 2304.6h0M1391.5 2306.3h0M1409.3 2305.2h0M1105.3 2336.7h0M1118.8 2338.8h0M1126.3 2339.4h0M1131.1 2338h0M1129.6 2340.6h0M1132.8 2337.6h0M1137.7 2339.8h0M1137.1 2339.6h0M1142 2337.3h0M1143.3 2340.7h0M1145.8 2332.5h0M1149.1 2339h0M1149.4 2334.4h0M1150 2343.6h0M1151.5 2337.4h0M1155.4 2340.4h0M1153 2332.8h0M1156.6 2345.8h0M1155.6 2328.3h0M1158.3 2339h0M1160.3 2334.8h0M1161.3 2344.3h0M1162.6 2337.6h0M1167 2339.9h0M1166 2337.9h0M1171.1 2340.8h0M1176.3 2335.5h0M1180.2 2339.6h0M1181.4 2334.7h0M1181.7 2344.2h0M1185.6 2336.3h0M1187.4 2341.4h0M1189.8 2335.5h0M1194.4 2337.6h0M1207.8 2337.8h0M1349.5 2339.6h0M1351.4 2339h0M1361.6 2336.9h0M1385.4 2336.7h0M1389.3 2339.2h0M1397.2 2336.6h0M1412.2 2340.3h0M1417.1 2339.8h0M1426.4 2339.2h0M1446.2 2337.6h0M1466.5 2337.2h0M1093.2 2369.1h0M1114.2 2368.9h0M1121 2368.9h0M1122.3 2373.7h0M1124.2 2368.9h0M1127.4 2372.5h0M1128.6 2369.1h0M1131 2372.8h0M1133.9 2362.6h0M1135.4 2367.6h0M1138.3 2375.5h0M1140.9 2370.5h0M1140.4 2365.7h0M1143.4 2377.4h0M1144.5 2369.8h0M1147.8 2373.3h0M1148.6 2362.6h0M1150.2 2378.4h0M1152.6 2367.1h0M1152.4 2374.9h0M1154.5 2367.6h0M1157.8 2375.4h0M1157.7 2362h0M1164.4 2368.7h0M1168.7 2372.7h0M1171.9 2370.4h0M1173 2365.8h0M1177.2 2367.5h0M1235.8 2368.5h0M1265.1 2369.4h0M1297.5 2368.7h0M1323.1 2369.6h0M1328.3 2367.3h0M1330.1 2367.8h0M1336.4 2372.7h0M1337.6 2368.7h0M1342.5 2367.5h0M1346.3 2367.7h0M1348.8 2369.2h0M1353.6 2372.3h0M1355.3 2369.4h0M1356.1 2371.1h0M1357.8 2366.3h0M1357.5 2375.1h0M1360.2 2362.8h0M1368.9 2369.6h0M1372.2 2369.3h0M1372.2 2371.4h0M1393.2 2368.6h0M1408.6 2369h0M1095.9 2402.5h0M1104.7 2401.8h0M1106.9 2402.9h0M1108.9 2397.8h0M1112.6 2399.9h0M1117.8 2400.2h0M1117.9 2404.3h0M1123.7 2400.5h0M1122.2 2404.3h0M1125.4 2396.3h0M1124.4 2409.9h0M1126.8 2400.5h0M1129 2403.9h0M1131.7 2396.6h0M1136.2 2398.8h0M1135.5 2406.3h0M1136.5 2403.4h0M1139.6 2397.9h0M1139.1 2408.2h0M1140.1 2401.1h0M1142.8 2404.6h0M1143 2396.5h0M1145.8 2400.5h0M1151 2404h0M1153.6 2401h0M1160.3 2402.1h0M1185.9 2401.1h0M1249.8 2401h0M1288 2401.7h0M1303.1 2401.6h0M1309.7 2401.1h0M1313.2 2403.9h0M1316.1 2398.9h0M1320.6 2403h0M1324.3 2398.7h0M1323.8 2406.7h0M1327.9 2399.5h0M1332.8 2399h0M1332.7 2405.5h0M1336.4 2401.4h0M1336.8 2404h0M1337.4 2401.6h0M1339.2 2403.2h0M1342.8 2397.2h0M1344.5 2407.7h0M1346.1 2401.6h0M1350.1 2399.2h0M1356.5 2399.6h0M1357.7 2405.5h0M1361.9 2399.8h0M1368.1 2401.3h0M1376.7 2403.1h0M1089.5 2432.7h0M1110.9 2434.2h0M1114.6 2430.4h0M1118.8 2430.4h0M1120.8 2431.8h0M1121.4 2437.4h0M1125 2433.9h0M1129.1 2429.9h0M1129.8 2440h0M1130.3 2433.8h0M1132.5 2429.6h0M1131.1 2440h0M1135.5 2424.6h0M1135.1 2431.2h0M1134.4 2437.4h0M1138.4 2425.7h0M1141.3 2442.2h0M1140.2 2431.7h0M1145.2 2437.1h0M1146 2434.6h0M1144.8 2429.3h0M1150.6 2432.5h0M1153.5 2436h0M1156.6 2433.8h0M1159.6 2432.3h0M1168.7 2433.2h0M1196 2431.9h0M1220.1 2432.5h0M1271.2 2433.3h0M1285 2432.3h0M1302.3 2432.5h0M1305.8 2436.3h0M1315 2434.3h0M1317.9 2429.8h0M1318.3 2435.2h0M1322.8 2429.4h0M1327.9 2434.9h0M1327.9 2428.8h0M1332 2434.8h0M1333.3 2429.9h0M1338.3 2431.4h0M1339.7 2434.1h0M1342.8 2429.5h0M1345.7 2430.8h0M1348.5 2437.2h0M1347.1 2425.6h0M1349.1 2431.4h0M1352.4 2438.5h0M1352.3 2432.9h0M1356.7 2436.3h0M1356.3 2433.5h0M1362 2435.7h0M1370.2 2430.6h0M1099.5 2463.8h0M1110.9 2466.2h0M1114 2464.1h0M1115.5 2468.7h0M1119.3 2464.4h0M1120.5 2468.6h0M1120.7 2459.3h0M1122.8 2474.3h0M1126.6 2466.7h0M1126.9 2460.5h0M1128 2464.9h0M1128.9 2467.8h0M1135.1 2466.1h0M1136.1 2460.4h0M1137.1 2472h0M1140 2465.5h0M1140.6 2460.7h0M1142.1 2471.7h0M1141.1 2454.9h0M1147.9 2465.9h0M1149 2463.8h0M1151.4 2468.8h0M1154.3 2464.8h0M1168.3 2464.1h0M1183.1 2464.4h0M1219.5 2463.8h0M1234.2 2465.2h0M1259.1 2465.1h0M1279.8 2465h0M1293.4 2464.4h0M1300 2466.4h0M1306.7 2463.2h0M1308.6 2465.6h0M1310.5 2460.6h0M1312.2 2471.4h0M1312.2 2464.9h0M1315.8 2468.2h0M1316.7 2459.6h0M1321 2466.2h0M1323.7 2460.7h0M1322.3 2464.6h0M1324 2467.9h0M1326 2459.6h0M1326 2473.2h0M1329 2465.3h0M1331.2 2460.9h0M1336.2 2462.8h0M1338.4 2464.7h0M1362.6 2464.4h0M1111.1 2497.4h0M1117.3 2495.3h0M1117.1 2501.5h0M1122.8 2496.8h0M1123.2 2499.1h0M1129.9 2496.2h0M1131.6 2499.7h0M1131.3 2492.2h0M1136 2498.5h0M1135.9 2492.8h0M1135 2502.7h0M1136.6 2488h0M1139.9 2496.8h0M1140.2 2499h0M1142.2 2492.4h0M1141.1 2503.8h0M1145 2494.6h0M1147.1 2501.4h0M1149.8 2490.8h0M1150.9 2494.3h0M1152.5 2497h0M1158.1 2499.7h0M1159.8 2495.5h0M1162.2 2501.2h0M1163.5 2490.2h0M1171.7 2496.7h0M1175.2 2494.9h0M1189.6 2496h0M1226.4 2496.8h0M1241.7 2496.2h0M1277.3 2495.6h0M1294.7 2495.5h0M1296.1 2495.5h0M1298.7 2499.6h0M1303.4 2495.7h0M1304.5 2500.7h0M1309.7 2498.4h0M1311 2491.6h0M1315.6 2498.9h0M1315.5 2496h0M1317.1 2499.4h0M1321.4 2498.4h0M1321.5 2492.9h0M1325 2504h0M1328.5 2497.5h0M1329.7 2492.6h0M1332.9 2498.5h0M1334.4 2491.6h0M1340.7 2496.1h0M1343.8 2498.9h0M1344.5 2492.8h0M1348.3 2497.9h0M1350.1 2491.8h0M1105.8 2530.1h0M1108.4 2526.3h0M1114.9 2527.5h0M1116 2531.7h0M1117.9 2530.4h0M1124.5 2529.7h0M1125.2 2525.2h0M1126.2 2525.6h0M1129.3 2533.9h0M1131 2528.2h0M1135.9 2531.6h0M1138.5 2530.4h0M1140.5 2523.8h0M1139.9 2535.7h0M1144 2527.8h0M1148.3 2529.4h0M1151.3 2525.2h0M1154.1 2529.5h0M1156 2524.7h0M1157.2 2535.4h0M1157.2 2527h0M1158.3 2533.3h0M1160.7 2528h0M1165.8 2531.6h0M1166.7 2530.3h0M1173 2524.5h0M1179.2 2526.2h0M1183.9 2530.2h0M1200.3 2528.4h0M1218.8 2527.8h0M1252.8 2528.1h0M1273 2528.7h0M1278.9 2527.6h0M1288.9 2528.4h0M1294.8 2530.5h0M1296.8 2529.2h0M1298.7 2523.9h0M1301.6 2526.4h0M1305 2533.6h0M1304.9 2521.1h0M1306.6 2525.7h0M1309.4 2532.5h0M1313.6 2527h0M1314.7 2529.8h0M1317.1 2525.3h0M1320.8 2528.4h0M1324.5 2531.1h0M1328.3 2525.8h0M1330.2 2529.2h0M1333.8 2524.7h0M1338.2 2529.7h0M1339.6 2523.8h0M1339.2 2535.3h0M1342.8 2526.3h0M1353.2 2526.4h0M1119.9 2562.4h0M1124 2561h0M1129.3 2557.8h0M1132.6 2561.6h0M1134.2 2556.7h0M1138.4 2560.2h0M1138.5 2563.9h0M1139.1 2555.1h0M1142.6 2562.3h0M1143.4 2555.9h0M1145.7 2567.7h0M1149.4 2557.3h0M1152.2 2559.6h0M1154.7 2562.8h0M1156.8 2554.3h0M1157.4 2559.9h0M1157.5 2562.9h0M1160.4 2555h0M1162.7 2568.4h0M1160.8 2557.9h0M1164.3 2565.5h0M1164.8 2552.2h0M1166 2559.9h0M1166.4 2562.7h0M1170.1 2559.6h0M1172.2 2563.3h0M1180 2560.2h0M1181.1 2561.8h0M1221 2560.2h0M1274.4 2559.7h0M1289 2560.2h0M1302.7 2559.6h0M1304.8 2562.2h0M1306.8 2558.8h0M1311.6 2559.3h0M1317.3 2561.1h0M1318.9 2559.1h0M1324.3 2561.8h0M1322.1 2556.7h0M1324.7 2565.6h0M1324.6 2552h0M1328.1 2558h0M1328.2 2563.8h0M1330.7 2560.5h0M1332.7 2557.1h0M1332.9 2564.6h0M1334.5 2561h0M1335.9 2557.4h0M1343.2 2559h0M1344 2561.5h0M1347.4 2557.1h0M1360.2 2560.1h0M1116.9 2593h0M1127 2594.1h0M1129.9 2590.1h0M1128.9 2597.2h0M1134.2 2590h0M1140.2 2592.2h0M1142.6 2595.5h0M1142.2 2593.1h0M1146.1 2587.8h0M1148.4 2591.6h0M1148 2596h0M1150.7 2585.6h0M1152.2 2601.1h0M1154.8 2590.1h0M1154.8 2596.9h0M1156.3 2584.8h0M1158.9 2594h0M1157.5 2588.4h0M1158 2598.2h0M1162.1 2581.7h0M1162.4 2592.9h0M1165.8 2588.5h0M1167.2 2599.2h0M1168.8 2589.7h0M1169.5 2596.6h0M1175.1 2591.3h0M1175.7 2595.5h0M1176.4 2586.6h0M1176.6 2601.4h0M1184.8 2593.8h0M1196.4 2592.2h0M1209.6 2591.5h0M1222.5 2591h0M1235.3 2592.3h0M1247.9 2591.8h0M1261 2591.9h0M1274.8 2590.8h0M1302.7 2591.9h0M1314.1 2593.4h0M1320.2 2591.3h0M1326.3 2593.4h0M1333.6 2590.4h0M1336.8 2593.6h0M1339.8 2587.9h0M1339.7 2590.9h0M1340.8 2595.9h0M1343.6 2586.7h0M1349.6 2589.6h0M1350.2 2597.5h0M1355.6 2592.7h0M1359 2593.2h0M1366.6 2590.1h0M1370.2 2589.5h0M1369.8 2593.4h0M1372.5 2587.4h0M1375.4 2590.9h0M1377.1 2595.4h0M1383.3 2589.2h0M1403.7 2592.7h0M1125.7 2624.2h0M1130 2624.9h0M1133.6 2624.7h0M1143.3 2623.1h0M1147 2626.5h0M1147.7 2622.5h0M1148.2 2627.5h0M1155.8 2622h0M1155.6 2621.5h0M1158 2626.8h0M1159.3 2618.2h0M1157.9 2632.1h0M1158.1 2613.9h0M1159.9 2624.2h0M1162 2621.4h0M1163.8 2629.3h0M1164.4 2616.5h0M1167.1 2624h0M1168.2 2626.6h0M1166.7 2619.6h0M1168.3 2630.6h0M1169.5 2625.2h0M1173.8 2620.9h0M1174.6 2628.6h0M1174.9 2623.5h0M1176.1 2626.8h0M1177.1 2618.5h0M1182.6 2621.6h0M1183.6 2628.2h0M1188.7 2625.4h0M1202.6 2622.8h0M1218 2622.9h0M1231.7 2623.8h0M1247.8 2623.8h0M1265.9 2623.5h0M1280.8 2623.6h0M1294.5 2622.9h0M1299.8 2622.6h0M1303.8 2622.8h0M1306.1 2627.6h0M1308 2616.9h0M1317.3 2625.4h0M1317.3 2618.9h0M1319.6 2621.7h0M1324.3 2629.2h0M1323.5 2620.9h0M1328.1 2628.5h0M1332.8 2626h0M1338.5 2621.4h0M1341.5 2623h0M1343.5 2627.7h0M1344 2617h0M1345.9 2625h0M1346.7 2619.9h0"/>
<path class="dc" d="M1019.8 1958.3h0M1024.2 1956.5h0M1031.9 1956.6h0M1033.6 1959.6h0M1033.2 1949.8h0M1035.7 1955.7h0M1039 1959.4h0M1043.2 1953.7h0M1047 1956.2h0M1050.4 1956.3h0M1050.5 1959.5h0M1057.4 1958.3h0M1057.5 1953h0M1056.8 1963.5h0M1058.2 1946.2h0M1059.3 1958.4h0M1063.3 1951.6h0M1064.8 1964h0M1063.5 1946.3h0M1066.1 1957.7h0M1071.2 1952.2h0M1070.9 1963.4h0M1072 1954.6h0M1073.3 1961.1h0M1075.9 1949.4h0M1077.1 1957.5h0M1080.9 1957.6h0M1083 1952.5h0M1087.3 1956.4h0M1090.4 1955.6h0M1094.7 1959.3h0M1100.6 1958.5h0M1102.5 1953.5h0M1103.7 1961.8h0M1107.5 1958h0M1116.4 1954.4h0M1119.9 1961.3h0M1382.1 1956.3h0M1418.2 1955.8h0M1432.4 1957.7h0M1439.9 1955.8h0M1450 1955.3h0M1449.5 1958.2h0M1453 1952.4h0M1459.3 1956.4h0M1462.3 1958h0M1467.6 1955.1h0M1473.8 1955.5h0M1475.1 1959.2h0M1476 1952.1h0M1480.8 1961.4h0M1481.4 1955.2h0M1485.6 1955.9h0M1487.8 1958.8h0M1488.8 1956.3h0M1489.8 1958h0M1492.1 1953h0M1493.7 1962.7h0M1496.5 1956.8h0M1498.8 1955.6h0M1513 1956.2h0M1521.8 1957.7h0M1007.8 1988.4h0M1020.6 1988h0M1026.8 1989.9h0M1033.3 1988.4h0M1042.4 1988.7h0M1043.1 1985.7h0M1044.6 1991.8h0M1047.1 1988.5h0M1049.2 1990h0M1054.6 1988.5h0M1056.3 1985.2h0M1057.7 1986.6h0M1060.2 1991.9h0M1060.7 1988.5h0M1061.8 1990.7h0M1065.1 1984.4h0M1066.4 1989h0M1069.1 1985.9h0M1070.9 1988.4h0M1071.2 1990.2h0M1071.7 1983.6h0M1073.7 1993.6h0M1076.3 1980.4h0M1077.5 1987.6h0M1080.6 1990.6h0M1083.1 1988.6h0M1086 1985.4h0M1086.9 1986.4h0M1089.8 1991.6h0M1095.6 1987.1h0M1095.8 1989.8h0M1103.1 1989.7h0M1105.2 1984.7h0M1107.3 1986.2h0M1109.7 1991h0M1113.7 1987h0M1117.1 1988.6h0M1121 1984.4h0M1123.9 1989.4h0M1340.1 1987.9h0M1398.3 1987.3h0M1419.9 1987.2h0M1430.3 1988.2h0M1435.7 1988.1h0M1436.1 1991.6h0M1439.7 1986.4h0M1444.6 1988.3h0M1446.3 1991.7h0M1448.6 1987.5h0M1452.5 1991.8h0M1454 1990.1h0M1462.5 1987.7h0M1464.3 1990.9h0M1463.5 1981.3h0M1466.8 1985.2h0M1466.7 1992.8h0M1478 1987.3h0M1478.3 1991.8h0M1481.3 1985.2h0M1490.6 1987.6h0M1497.7 1989.3h0M1501.4 1988.5h0M1508 1989.8h0M1512.9 1985.9h0M1546.5 1987.7h0M1075.4 2019.1h0M1076.9 2023.4h0M1083.5 2019.7h0M1089.7 2021.6h0M1091 2021.4h0M1094.5 2015.8h0M1095.1 2026.8h0M1098.7 2018.8h0M1103 2021.9h0M1106.5 2015h0M1106.6 2026.9h0M1112.1 2018.3h0M1112.7 2020.9h0M1115.4 2016.2h0M1116.5 2019.3h0M1120.1 2023.8h0M1120.7 2013.4h0M1123 2019.5h0M1125.6 2023.7h0M1126.7 2014.4h0M1125.3 2029.9h0M1133.9 2019.8h0M1133.5 2023.2h0M1137.9 2017.9h0M1143.2 2021.3h0M1146.2 2015h0M1149.6 2020.8h0M1150.1 2015h0M1155.7 2020h0M1158.6 2020h0M1160.4 2022.8h0M1165.2 2017.3h0M1164.2 2025.1h0M1172.3 2017.3h0M1173.8 2017.4h0M1178.8 2022h0M1185.7 2021.5h0M1379.8 2019.4h0M1390.8 2020.1h0M1421.6 2019.6h0M1432 2020.1h0M1435.2 2019h0M1438.3 2023h0M1443 2018.1h0M1454.2 2021.5h0M1457.4 2019.9h0M1459.1 2023.4h0M1464.3 2017.1h0M1466.7 2018h0M1475.2 2020.3h0M1480.3 2017.6h0M1486.1 2019.8h0M1489.7 2023.1h0M1507.8 2019.2h0M1514.2 2019.8h0M1560.8 2019h0M1051 2051.2h0M1053.5 2054.1h0M1060.1 2050h0M1064.4 2050h0M1067.8 2050.3h0M1073.3 2049.5h0M1074.3 2051.5h0M1077.8 2054.3h0M1079.4 2047.3h0M1081.3 2059h0M1082.4 2053.5h0M1083.4 2047.5h0M1084.8 2057.7h0M1086.9 2053.3h0M1086.3 2047.7h0M1089 2057.8h0M1089.1 2053.5h0M1094.1 2048.3h0M1097.1 2053.6h0M1096.1 2048.6h0M1100.2 2057.8h0M1101.9 2052.2h0M1110.7 2050.1h0M1115.1 2050.3h0M1113.4 2055.8h0M1116 2050.7h0M1117.1 2054.1h0M1121.9 2052.1h0M1127.9 2052.6h0M1132 2051.1h0M1159.3 2051.8h0M1205.2 2050.7h0M1323.2 2051.3h0M1332.8 2052.5h0M1337.9 2053.7h0M1344.9 2050h0M1347.6 2052.4h0M1352.6 2050.2h0M1351.8 2056.2h0M1355.2 2052h0M1358.8 2053.9h0M1362.4 2051h0M1362.3 2054.9h0M1365.6 2052h0M1369.2 2053.2h0M1373.1 2048.9h0M1370.9 2058.3h0M1373.7 2043h0M1381 2049.5h0M1382.4 2050.2h0M1387.9 2050.4h0M1387.5 2056.3h0M1394.6 2049.9h0M1395.8 2056.4h0M1397 2050h0M1402.7 2051.6h0M1409 2053.2h0M1416.4 2052.6h0M1433.2 2051.9h0M1040.9 2082.7h0M1058 2085.7h0M1065.1 2085.1h0M1066.6 2084.5h0M1070.9 2079.9h0M1073.7 2084.5h0M1074.7 2079.5h0M1077.4 2089.9h0M1076.2 2082.7h0M1076.8 2087.1h0M1081.8 2077.4h0M1082.9 2080.8h0M1085.6 2088.5h0M1086.1 2083.7h0M1088.2 2087.3h0M1088.8 2077.5h0M1090.7 2091.5h0M1094.5 2084.2h0M1093.4 2080h0M1094.4 2089.5h0M1098.9 2084.8h0M1101.5 2080.2h0M1101.4 2084.4h0M1103.8 2079h0M1116.2 2083.2h0M1131.7 2083.9h0M1144.3 2083.7h0M1180.5 2083.2h0M1210.1 2083.1h0M1267.6 2083h0M1283 2082.9h0M1295.9 2083.6h0M1320.1 2083.1h0M1331.7 2082.6h0M1342.5 2083.5h0M1345.2 2080.6h0M1348.2 2082.7h0M1354.8 2084.7h0M1358.7 2079.1h0M1358.5 2083.3h0M1365.1 2088.2h0M1364.8 2086h0M1371.2 2083.3h0M1371.6 2087.5h0M1373.8 2083h0M1377.6 2087.9h0M1378.7 2080.4h0M1386.3 2081.1h0M1387.5 2090.5h0M1391.9 2085.3h0M1408.2 2083.3h0M1423 2082.4h0M1064.9 2114.7h0M1075 2115.6h0M1077.1 2118.5h0M1081.4 2113.2h0M1085.6 2119.6h0M1087.5 2113h0M1087.9 2120.6h0M1091 2113h0M1093.1 2119.8h0M1096.6 2107.4h0M1096.5 2112.9h0M1097 2120.9h0M1100.4 2107.1h0M1099.5 2116.9h0M1101.7 2110.9h0M1105.6 2121.8h0M1102.8 2106.2h0M1106.9 2112.5h0M1115.6 2116.4h0M1114.1 2116h0M1117.6 2111.4h0M1121.7 2121.6h0M1119.9 2112.8h0M1123.9 2120.1h0M1127.4 2117.4h0M1131.4 2116.3h0M1134.2 2114.6h0M1138.9 2118.4h0M1143.2 2117h0M1213.5 2114.4h0M1273.9 2114.1h0M1297 2114.3h0M1318.9 2115.2h0M1323.9 2116.7h0M1327 2116.8h0M1338 2114.7h0M1342.8 2116.9h0M1345.3 2115.4h0M1351.4 2118.7h0M1352 2113.1h0M1355.6 2120.4h0M1358.3 2112.8h0M1359.8 2115.1h0M1361.5 2119.2h0M1363.9 2109.2h0M1366.4 2113.4h0M1372.5 2115.2h0M1376.2 2119.3h0M1379 2117.5h0M1378.5 2111.8h0M1381.7 2113.7h0M1388.3 2117.3h0M1391.2 2115.6h0M1399.2 2117.5h0M1408.8 2116.6h0M1434.2 2114.2h0M1451.7 2114.6h0M1063.8 2146.9h0M1092.2 2147.4h0M1093.9 2149.1h0M1097.2 2146h0M1097 2150.2h0M1100 2141.5h0M1101 2146.6h0M1101.1 2149.4h0M1102.9 2142.4h0M1103.5 2154.4h0M1105.1 2145.7h0M1105.9 2151.4h0M1105.9 2141.5h0M1109.3 2155.7h0M1110.8 2147.3h0M1113.6 2149.4h0M1111.7 2142.1h0M1113.8 2154.3h0M1115 2146h0M1121.3 2149.1h0M1145.3 2146.8h0M1161.4 2145.9h0M1180.6 2146.8h0M1228.4 2146.2h0M1279.5 2146.1h0M1308.7 2146h0M1318.3 2149h0M1324.1 2149.2h0M1333.5 2148.1h0M1337 2147.7h0M1341.2 2142.7h0M1343.2 2144.9h0M1344.4 2151.5h0M1346.5 2139.4h0M1345.2 2144.8h0M1348.8 2151.6h0M1350.6 2146.7h0M1353.6 2150.7h0M1354.5 2147.3h0M1360.3 2149.5h0M1370.9 2148.6h0M1371.9 2145.6h0M1375.4 2151.1h0M1380.3 2146.9h0M1384.1 2150.9h0M1387.4 2145.5h0M1394.5 2145.4h0M1415.7 2146.6h0M1065.7 2179.2h0M1088.3 2179h0M1093.7 2177.2h0M1096.9 2180.8h0M1099.9 2178.7h0M1102.3 2181.5h0M1105.8 2179.1h0M1108.9 2181.5h0M1110.8 2172.9h0M1111.1 2186.7h0M1111.1 2176.5h0M1114.5 2183.3h0M1112.8 2171.1h0M1116.1 2180.8h0M1118.5 2175.4h0M1121.3 2184.7h0M1123.6 2176.3h0M1124.9 2183.1h0M1126.1 2177.7h0M1128 2182.1h0M1130.4 2179.9h0M1132.9 2174.7h0M1137.5 2176.6h0M1141.7 2177.7h0M1145.8 2178.2h0M1170.4 2177.8h0M1187.6 2178.6h0M1248.3 2177.9h0M1262.8 2177.8h0M1281.4 2178.8h0M1296.2 2178.8h0M1350.3 2178.6h0M1364.7 2178.2h0M1381.7 2177.8h0M1384.4 2181.3h0M1386.2 2177.6h0M1387.7 2182.2h0M1393.2 2179.8h0M1393.5 2175.4h0M1400.8 2177.8h0M1398.9 2179.4h0M1402.1 2175.9h0M1402.5 2182.8h0M1404.7 2173h0M1409.1 2177.1h0M1414 2180.3h0M1427.4 2178.2h0M1430.2 2179.8h0M1075 2210.1h0M1079.8 2212.3h0M1089 2211.8h0M1087.8 2206.5h0M1091.9 2208.4h0M1096.6 2208.7h0M1096.9 2216.8h0M1101.9 2210.5h0M1102 2213.4h0M1104.8 2211.8h0M1108.5 2206.5h0M1109.6 2212.9h0M1110.8 2206.3h0M1115.3 2210h0M1115.8 2215h0M1116.8 2204.1h0M1117.2 2219.9h0M1122.1 2208.2h0M1123.4 2210.2h0M1126.8 2214.7h0M1128 2203.8h0M1131.1 2213h0M1136.5 2210h0M1137.2 2214.1h0M1143 2211.6h0M1147.6 2210.8h0M1150.2 2207.7h0M1161.3 2210h0M1175 2209.5h0M1189 2210.2h0M1202 2210.1h0M1216.6 2210.9h0M1229.7 2210.4h0M1246.4 2209.6h0M1259.6 2209.9h0M1273.3 2209.9h0M1285.9 2210.2h0M1300.9 2209.7h0M1328.6 2210.3h0M1338.4 2210h0M1343.3 2207.7h0M1348.1 2212.7h0M1354.9 2210.7h0M1354.3 2213.9h0M1356.7 2208.1h0M1360.1 2215.7h0M1365.7 2208.9h0M1367.9 2212.4h0M1382.1 2208.7h0M1386.1 2212h0M1416.6 2210.9h0M1437.6 2210.5h0M1454.6 2209.8h0M1472.7 2210.1h0M1114.2 2242.7h0M1115.9 2245.6h0M1123.4 2241.6h0M1126.1 2245h0M1131.8 2240.8h0M1136.8 2240.1h0M1140.9 2243.9h0M1141.1 2243.6h0M1145.5 2239h0M1144.1 2247.6h0M1145.5 2235.2h0M1148 2243.7h0M1147.9 2239.3h0M1148.7 2247.2h0M1153.8 2241.4h0M1150.9 2245h0M1152.1 2238.2h0M1155.9 2249.5h0M1153.6 2233.8h0M1158.4 2242.8h0M1159.2 2244.2h0M1160.1 2238.3h0M1162.9 2248.6h0M1164.1 2241.1h0M1165.9 2241.5h0M1167.9 2244.9h0M1176.2 2243.3h0M1177.7 2238.8h0M1181.6 2240.7h0M1183.4 2241.3h0M1186.4 2245.6h0M1193.7 2241.9h0M1337.3 2242.2h0M1342.8 2239.2h0M1356.6 2241.6h0M1362 2241.3h0M1368.6 2242.7h0M1378.3 2241.9h0M1383.3 2246.6h0M1390.7 2243.7h0M1393.8 2242h0M1397.9 2239.5h0M1408.5 2242.4h0M1412.2 2246h0M1426.1 2244.6h0M1455.6 2243.8h0M1465.1 2243.8h0M1068.2 2273.4h0M1081.3 2274.9h0M1086.7 2275h0M1086.6 2270.4h0M1093 2274.6h0M1097.5 2273.2h0M1102 2271.9h0M1104 2278h0M1107.5 2273h0M1111 2273.7h0M1111.4 2276.5h0M1113.1 2269.4h0M1115.5 2279.9h0M1115.9 2266.4h0M1116.4 2272.1h0M1119.6 2277.7h0M1123.5 2272.7h0M1123.8 2278.6h0M1126.5 2275.9h0M1130.8 2273.8h0M1132.2 2276.8h0M1133.2 2270.1h0M1136.7 2273.4h0M1136.4 2277h0M1143.5 2273.4h0M1148 2272.2h0M1150.3 2273.4h0M1154.3 2274.5h0M1163.5 2274.4h0M1174.8 2273.9h0M1188.5 2274.1h0M1223.8 2274.4h0M1238.9 2273.8h0M1252.8 2273.6h0M1270.8 2273.9h0M1283.6 2274.4h0M1297.9 2274.4h0M1338.9 2274.5h0M1343.9 2275.9h0M1347 2276h0M1349.3 2274.2h0M1355 2277.7h0M1358.8 2271.1h0M1364.1 2271.9h0M1365.8 2273h0M1370.5 2278.5h0M1373.3 2274.3h0M1378.3 2276.8h0M1380 2273.7h0M1383 2278.1h0M1387.1 2271h0M1398.1 2273.9h0M1407.9 2271.2h0M1412.9 2276.8h0M1426.7 2273.2h0M1068.1 2305.7h0M1086.1 2302.6h0M1089.9 2303.9h0M1092.8 2305.8h0M1102.2 2308.6h0M1106.1 2303.2h0M1108.1 2308.7h0M1111.1 2301.3h0M1115.5 2305h0M1117.2 2310.9h0M1118.6 2305.5h0M1121.4 2310.8h0M1119.9 2298.8h0M1126.7 2308.7h0M1127.9 2307.7h0M1132.2 2301.1h0M1134 2306h0M1134.4 2309.4h0M1137 2298.5h0M1140.7 2307.9h0M1140.6 2301.3h0M1145.4 2307.2h0M1143.8 2301.6h0M1147.9 2314.7h0M1152.7 2303.9h0M1157.2 2306.4h0M1159.1 2305.7h0M1186.2 2305.3h0M1208 2305.2h0M1223.3 2306.1h0M1243.4 2306.1h0M1262.6 2305.1h0M1290.5 2305h0M1321.1 2304.8h0M1325.7 2308.7h0M1328.6 2307.3h0M1332.8 2302.7h0M1332.6 2305.9h0M1335.2 2309.7h0M1339.1 2303.7h0M1342 2306.7h0M1345 2302h0M1349.8 2303.3h0M1350.5 2311.2h0M1354.4 2306.8h0M1358.8 2305.2h0M1359.3 2309.7h0M1359.6 2299.9h0M1361.9 2305.4h0M1365.1 2308.4h0M1367.2 2301h0M1373.9 2306.2h0M1377.8 2306.1h0M1397.8 2305.1h0M1418 2305.9h0M1112.8 2337.8h0M1120.5 2335.8h0M1126.3 2335.5h0M1129.2 2339.7h0M1131.9 2334.9h0M1132.3 2338.7h0M1136.5 2333.6h0M1139 2335.3h0M1141.2 2339.1h0M1145.5 2333.7h0M1146.9 2344.4h0M1149 2335.2h0M1148.7 2341.7h0M1151.4 2331.7h0M1152.4 2338.3h0M1152.4 2334.3h0M1154.6 2343.3h0M1155.3 2328.9h0M1157.9 2348.2h0M1159 2336.5h0M1162 2341.4h0M1162.1 2331.1h0M1163.1 2338.5h0M1167.7 2334.1h0M1171.1 2338.5h0M1175.5 2338.1h0M1175.6 2340.5h0M1178.2 2336.3h0M1180 2342.3h0M1184.4 2336.8h0M1183.9 2340.5h0M1187 2337.7h0M1191.1 2341.1h0M1196.6 2339.6h0M1338.9 2338h0M1351.3 2334.8h0M1355 2334.9h0M1370.8 2338h0M1384 2339.2h0M1392 2335h0M1399.3 2339.7h0M1412.4 2336.9h0M1417.7 2335.1h0M1430.4 2334.9h0M1452.6 2337.1h0M1469.8 2339.1h0M1098.7 2368.4h0M1114.7 2370.5h0M1120.1 2371.6h0M1124.1 2365.8h0M1126.2 2371.9h0M1127.1 2364.7h0M1130.2 2371.9h0M1131.5 2365.6h0M1135 2369.6h0M1138.2 2372.8h0M1139.2 2362.7h0M1139.5 2367h0M1140 2374.7h0M1142.3 2360.6h0M1145.8 2371.6h0M1148.1 2365.3h0M1147.4 2377h0M1151.1 2369.2h0M1152.5 2373.1h0M1154 2369.7h0M1156.3 2373.7h0M1159.3 2362.6h0M1161.3 2369.4h0M1166.3 2371.2h0M1165.5 2364.9h0M1169.9 2366.5h0M1173.6 2369.4h0M1179 2373.2h0M1240.1 2369.7h0M1267 2369.4h0M1304.6 2368.8h0M1326.6 2369.4h0M1329.6 2369h0M1334.1 2371.4h0M1336.2 2368.9h0M1340.5 2369.7h0M1345.3 2369.9h0M1346.1 2372.1h0M1352.1 2370.4h0M1353.9 2366.5h0M1353.4 2369.9h0M1356.5 2367.6h0M1356.7 2374.6h0M1359.6 2362.8h0M1359.9 2369.1h0M1366.9 2367.5h0M1370.6 2370.5h0M1384 2369.5h0M1399.4 2369.6h0M1092 2400.4h0M1099 2400.5h0M1104.4 2399.6h0M1108.1 2399.7h0M1111.5 2400.3h0M1116.5 2403.8h0M1116.3 2402.5h0M1117.9 2397.2h0M1122.4 2402.7h0M1122.5 2398h0M1122.8 2407.7h0M1125.2 2392.6h0M1126.8 2403.1h0M1131.7 2398.3h0M1131.4 2400.3h0M1136.4 2404.8h0M1134.9 2396.1h0M1137 2400h0M1139 2405.6h0M1139.5 2394.4h0M1142.5 2403h0M1141.5 2398.3h0M1147.2 2407.6h0M1147.5 2403.3h0M1149.5 2396.9h0M1156.8 2402.9h0M1164.6 2400.3h0M1194.8 2400.3h0M1256.9 2400.5h0M1301.9 2401.2h0M1309.2 2401.9h0M1311.7 2402.9h0M1313.9 2401.3h0M1317 2403.3h0M1319.5 2398.9h0M1324 2405.1h0M1325.1 2400.3h0M1328.1 2400.8h0M1334.1 2403.1h0M1334.9 2396.1h0M1337.5 2401.9h0M1336.8 2398.6h0M1340.5 2401.6h0M1343.1 2398.2h0M1342.2 2406.9h0M1344.6 2394.4h0M1348.9 2401.4h0M1356.8 2401.6h0M1355.8 2403.6h0M1360.5 2401.6h0M1363.6 2401h0M1372.9 2403.1h0M1397.4 2401h0M1093.2 2433.2h0M1110.9 2432.2h0M1114.8 2433.4h0M1120.3 2433h0M1123.2 2436h0M1121.9 2427.9h0M1125.5 2431.8h0M1129.4 2436.9h0M1129.6 2426.8h0M1129.6 2430.3h0M1131.2 2437.1h0M1133.4 2425.7h0M1134.3 2433.3h0M1136.5 2436.6h0M1134.7 2428.4h0M1138.7 2440.3h0M1140.7 2432.8h0M1143.4 2435.7h0M1143.5 2427.6h0M1146.9 2431.6h0M1150 2436.9h0M1153 2433.9h0M1153.6 2430.2h0M1158.6 2431.6h0M1162.3 2434.2h0M1168.5 2433.7h0M1197.6 2432.3h0M1245.8 2432.4h0M1277.7 2433.2h0M1301.2 2432.7h0M1306 2433.9h0M1313.5 2433.2h0M1317.8 2430.8h0M1317.5 2438.5h0M1321 2431.4h0M1321.5 2438h0M1326.3 2430.6h0M1329.2 2438.1h0M1333.5 2431.7h0M1334.8 2432.7h0M1337.8 2436.4h0M1339.4 2430.2h0M1343.8 2432.5h0M1345.1 2436.6h0M1346.6 2427.4h0M1348.1 2432.8h0M1351 2435.8h0M1351.6 2427.2h0M1354.2 2434h0M1356 2429.8h0M1361.8 2434.3h0M1367.6 2433.2h0M1376 2432h0M1102.4 2463.7h0M1112.5 2462.8h0M1114 2465.6h0M1117.6 2460.2h0M1119.2 2465.5h0M1121.7 2461.5h0M1122.3 2472.2h0M1123.7 2454.8h0M1126.5 2463.3h0M1128.3 2470.5h0M1129.6 2465.8h0M1133.8 2460.5h0M1136.1 2462.5h0M1136.5 2470.2h0M1139.3 2456.4h0M1137.6 2462.1h0M1141.7 2470.2h0M1141.8 2457.7h0M1142.4 2475.1h0M1146.4 2461.9h0M1148.7 2466.7h0M1154.2 2460.8h0M1158.3 2464.3h0M1174.9 2464.7h0M1190.5 2463.8h0M1222.7 2463.7h0M1245.3 2464.8h0M1272 2464.4h0M1285.6 2463.9h0M1296.5 2463.9h0M1301.9 2464.9h0M1307.4 2467.1h0M1309.2 2463.2h0M1310.6 2470.1h0M1311.6 2458.7h0M1312.2 2466.7h0M1318.2 2460.8h0M1318.1 2471.1h0M1322.9 2462.6h0M1322.4 2469.6h0M1324 2465.7h0M1323.6 2460.9h0M1325.1 2471.3h0M1329 2455.7h0M1330.3 2462.3h0M1337 2463.8h0M1338.1 2467.7h0M1341.8 2466.8h0M1089.6 2497h0M1113.4 2496h0M1117 2498.5h0M1119.7 2491.4h0M1125.8 2498.6h0M1125.6 2492.9h0M1130.6 2497.5h0M1131 2493.2h0M1133.9 2502.4h0M1133.6 2495.3h0M1134.5 2500.1h0M1134.7 2490.7h0M1137.1 2505.6h0M1137.2 2497.8h0M1141.8 2492.7h0M1141.2 2502.4h0M1147.2 2496.3h0M1146.7 2499.6h0M1148.9 2491.9h0M1150.4 2496.4h0M1151.3 2500h0M1154.3 2497.3h0M1157.9 2495.9h0M1162.5 2499.2h0M1162.6 2491.8h0M1164 2503.4h0M1174.2 2496.4h0M1181.7 2496.4h0M1194.5 2496.6h0M1229.7 2496.5h0M1265.7 2495.6h0M1282.3 2495.8h0M1295.3 2499h0M1298.7 2498.7h0M1301.3 2491.6h0M1304.4 2498.4h0M1305.9 2493.1h0M1308.1 2494.6h0M1308.8 2502.4h0M1315.1 2495h0M1315.5 2497.8h0M1319.5 2491.8h0M1321.6 2494.6h0M1324.3 2502.1h0M1324.6 2489h0M1326.7 2494h0M1329.7 2501.4h0M1332.5 2494.4h0M1334.8 2501.7h0M1341.6 2497.5h0M1343.8 2493.8h0M1345.6 2502.5h0M1350.7 2494.9h0M1351 2496.6h0M1108.6 2527.3h0M1110.8 2531.4h0M1113.2 2529.5h0M1116.5 2525.1h0M1118.9 2526h0M1124.4 2526.7h0M1125.6 2527.9h0M1128.6 2531.7h0M1130.3 2522.9h0M1133.1 2529.1h0M1135.9 2524.7h0M1137.8 2526.9h0M1139.6 2533.9h0M1141.8 2520.9h0M1144.2 2530.5h0M1147.6 2525.6h0M1152.1 2533h0M1153.1 2526.8h0M1156.2 2533.8h0M1159 2528.2h0M1158 2531.7h0M1159.3 2522.1h0M1161.9 2529.4h0M1166.6 2525.2h0M1169 2527h0M1176.2 2528.5h0M1179.7 2531.4h0M1187.3 2526.1h0M1205.9 2528.2h0M1223.9 2527.3h0M1257.8 2528.4h0M1272.9 2529.4h0M1278.9 2529.3h0M1291.3 2530.1h0M1292.3 2525.8h0M1298.2 2525.7h0M1301.5 2527.7h0M1301.3 2532.3h0M1303.1 2523.3h0M1306.8 2528.6h0M1310.2 2532h0M1313.9 2528h0M1316.4 2530.9h0M1316.2 2525.6h0M1319.9 2534h0M1322.1 2529h0M1326.6 2528.7h0M1331.8 2532h0M1331.4 2525.8h0M1332.8 2533h0M1337.2 2525.6h0M1339.9 2532.7h0M1341.4 2528.1h0M1351 2527.9h0M1116.7 2559.7h0M1122.1 2558.7h0M1129.3 2559.9h0M1132.8 2563.5h0M1133.3 2558.1h0M1135.1 2565.3h0M1139.4 2562h0M1138.5 2555.6h0M1139.9 2566.8h0M1143.3 2558.4h0M1142.1 2565.2h0M1148.7 2560h0M1152.3 2563.1h0M1152.3 2561.9h0M1155.3 2556.2h0M1156.6 2566.7h0M1156.2 2561.1h0M1159.2 2556.1h0M1159.6 2567.6h0M1162.7 2559.9h0M1163.8 2564.1h0M1166 2555.1h0M1166.3 2568.9h0M1166.3 2561h0M1168.1 2555.5h0M1170.4 2561.6h0M1173.3 2556.8h0M1181.8 2561.3h0M1183.3 2558.2h0M1235.5 2559.3h0M1279.8 2559.8h0M1298.9 2559.4h0M1302.6 2560.3h0M1306.2 2560.4h0M1307.1 2562.6h0M1315.6 2561h0M1316.5 2558.8h0M1322.4 2560.7h0M1323.2 2557.9h0M1325.8 2563.9h0M1324.4 2554.2h0M1325.3 2560.6h0M1327.4 2562.1h0M1330.1 2555.6h0M1330.4 2558.3h0M1333.8 2563.7h0M1334.5 2554.6h0M1337.6 2558.7h0M1339.3 2560.6h0M1343.7 2562.2h0M1347.2 2558.9h0M1350.6 2560.3h0M1106.7 2592.2h0M1123.4 2589.6h0M1127.5 2592.2h0M1130.2 2595.2h0M1133 2592h0M1134.4 2595.2h0M1140.4 2594h0M1139.9 2588.5h0M1143.2 2589.1h0M1144.1 2597.7h0M1149.3 2593.9h0M1150.1 2588.1h0M1151.1 2599.2h0M1152.3 2591.4h0M1154.6 2595.6h0M1156.1 2585.9h0M1157.4 2600.7h0M1160 2589.1h0M1158.6 2596.4h0M1160.6 2584.7h0M1162.1 2602.6h0M1164 2589.6h0M1167.1 2597.1h0M1168.7 2590.9h0M1170.1 2595.9h0M1170.5 2585.8h0M1174.1 2594h0M1174.4 2587.8h0M1176.3 2599.6h0M1180.6 2591.3h0M1186.4 2591.7h0M1199.2 2591.8h0M1214 2592.2h0M1225.1 2592.2h0M1238 2591h0M1252.1 2592h0M1264.1 2591.2h0M1278.6 2591.4h0M1301.7 2593.9h0M1314.7 2590.1h0M1324.1 2594.2h0M1330.6 2592h0M1333.3 2594.8h0M1339.3 2589.2h0M1339.5 2596.9h0M1339.1 2592.8h0M1340.7 2587.3h0M1347 2591h0M1346.8 2596.2h0M1350.7 2586h0M1353.7 2590.3h0M1364 2591.2h0M1366.2 2591h0M1370.4 2595.3h0M1373.4 2589h0M1375 2597.2h0M1375.6 2592.9h0M1381.5 2591.8h0M1384.8 2591h0M1406.7 2591.2h0M1126.5 2621.8h0M1130.3 2622h0M1136.9 2623.1h0M1145.9 2624.3h0M1146.3 2623.7h0M1147.3 2626.1h0M1151.3 2624h0M1156 2623.8h0M1157.4 2626.3h0M1157.9 2618.7h0M1159.4 2630.6h0M1159.8 2615.3h0M1161.2 2633.7h0M1163 2622.4h0M1163.2 2627.2h0M1160.9 2617.1h0M1164 2631.7h0M1165.7 2625.3h0M1166.2 2620.9h0M1169.5 2628.8h0M1171.1 2616.1h0M1171.6 2622.7h0M1174.4 2627.8h0M1175.2 2618.5h0M1175.2 2624.4h0M1178.7 2620.3h0M1180.8 2622.7h0M1184.1 2626.4h0M1183 2619.6h0M1189.8 2623.7h0M1206.8 2623.8h0M1220.9 2622.7h0M1236.7 2624h0M1255.3 2623.2h0M1269.8 2623.5h0M1284.8 2623.9h0M1295.8 2625.8h0M1302.2 2625.3h0M1305.3 2624.6h0M1307.3 2620h0M1308.6 2623.6h0M1316.2 2621.1h0M1318.4 2622.8h0M1322.4 2627.2h0M1325.9 2623.3h0M1327.7 2627h0M1326 2618.2h0M1334.7 2623.2h0M1337.4 2627h0M1340.9 2625.3h0M1341.6 2620.1h0M1341.2 2631.3h0M1346.4 2620.8h0M1352 2623.3h0"/>
<path class="dc" d="M1019.5 1953.7h0M1030.2 1958.3h0M1029.9 1957.5h0M1035 1951.5h0M1036.4 1963.9h0M1037.9 1958.1h0M1040.3 1956.1h0M1044.3 1959.8h0M1048.2 1957.6h0M1051 1957.4h0M1054.3 1952.9h0M1055.4 1954.1h0M1058 1961.8h0M1057.2 1948.1h0M1061 1966.5h0M1061.5 1954.7h0M1063.4 1961.5h0M1062.6 1948.4h0M1063.9 1967.2h0M1066.6 1954h0M1070.9 1961h0M1071.2 1956.2h0M1075.6 1959.7h0M1073.5 1950.6h0M1074.5 1965.5h0M1076.2 1953.4h0M1082.1 1954.6h0M1083.3 1962h0M1088.8 1957.7h0M1089.7 1958.2h0M1093.4 1951.9h0M1099.4 1956.6h0M1100.9 1960.2h0M1103 1950.2h0M1117.2 1955.8h0M1116.5 1960.3h0M1133.5 1956.4h0M1386.4 1956.5h0M1427.4 1956.2h0M1435.3 1955.9h0M1441.1 1956.4h0M1448.5 1957.1h0M1451.1 1952.8h0M1453.9 1956.2h0M1460.7 1957.7h0M1466.7 1956.5h0M1475.2 1956.1h0M1473.9 1956.5h0M1476.2 1954.1h0M1478.1 1961.5h0M1479.4 1955.7h0M1483.4 1958.9h0M1486.4 1957.6h0M1489.4 1953.9h0M1488.6 1957.1h0M1493.3 1953.8h0M1494 1960.5h0M1492.9 1950.1h0M1497.5 1954.2h0M1508.9 1955.6h0M1516.5 1956.1h0M1556.2 1955.4h0M1011.4 1987.7h0M1024.9 1988.4h0M1028.9 1985.9h0M1033.3 1988.6h0M1041.2 1988.5h0M1043.7 1990.8h0M1044.8 1983.9h0M1048.1 1988.6h0M1049.7 1984.4h0M1051.6 1987.1h0M1057.2 1987.1h0M1059 1990.4h0M1062.4 1984.5h0M1060.6 1988.5h0M1061.9 1985.9h0M1067.4 1993.1h0M1070 1986.9h0M1069.4 1991.3h0M1072.1 1988.9h0M1072.2 1985.7h0M1073.3 1992.5h0M1074.7 1981.9h0M1077.2 1996.9h0M1076.2 1989.7h0M1078.1 1984.4h0M1082.5 1986.3h0M1086.2 1987.1h0M1089.5 1991.2h0M1094.4 1988.3h0M1094.4 1990.2h0M1098.8 1986.6h0M1104.1 1986.1h0M1105.5 1988.4h0M1107.9 1991.1h0M1111.2 1987.5h0M1117.2 1989.8h0M1117.6 1986.5h0M1120.1 1991.6h0M1178.7 1987.5h0M1386 1988.1h0M1404.2 1987.6h0M1425.9 1988.4h0M1431.6 1989.6h0M1435.5 1989.3h0M1439 1988.5h0M1440.6 1991.8h0M1444.3 1989.2h0M1448.2 1984.2h0M1450.1 1989.8h0M1453.6 1984h0M1456.5 1985.3h0M1460.8 1990.5h0M1462.5 1984h0M1464.4 1987h0M1467.1 1991.2h0M1469.6 1981.5h0M1476.2 1990.1h0M1477.9 1988.1h0M1485.6 1988.5h0M1490.4 1989.8h0M1497.4 1985.5h0M1504.2 1989.2h0M1510.1 1987.4h0M1515.1 1988.4h0M1054 2019.9h0M1076.7 2021.2h0M1080.7 2019.1h0M1084.6 2021h0M1090.1 2017.8h0M1093.6 2016.9h0M1095.6 2025.5h0M1096.3 2011.4h0M1100.8 2020.9h0M1104.6 2016.9h0M1104.5 2025.1h0M1109.1 2019.9h0M1113 2023.7h0M1112.9 2018.1h0M1117.8 2025.8h0M1117.4 2021.8h0M1118.2 2015.6h0M1122.2 2027h0M1122.5 2021.7h0M1126 2016.2h0M1126.7 2027.3h0M1128.2 2020.1h0M1132.6 2021.6h0M1140.2 2020.2h0M1142.7 2023.8h0M1143.5 2017.5h0M1146.2 2026.2h0M1149.5 2017.8h0M1151.6 2025.1h0M1156.2 2021.6h0M1156.4 2022.1h0M1162.4 2020.2h0M1166.7 2023.4h0M1169.8 2018.9h0M1175 2020.1h0M1176.6 2024.3h0M1180.9 2017.1h0M1188.3 2018.1h0M1382.3 2018.8h0M1414.7 2019.6h0M1423 2021.3h0M1432.7 2021.6h0M1439 2021.1h0M1442.2 2020.3h0M1447.1 2019.9h0M1452.1 2017.7h0M1458.1 2020.8h0M1459.9 2019.9h0M1464.8 2019.1h0M1469.8 2020.2h0M1479.5 2018.9h0M1483.6 2022.8h0M1486 2021h0M1495.2 2019.1h0M1511.2 2020.7h0M1515.9 2021.9h0M1563.3 2019h0M1054.4 2053.6h0M1055.4 2051.6h0M1062.9 2051.2h0M1065.6 2051.4h0M1071.2 2050.8h0M1073.4 2054.1h0M1076.2 2053.7h0M1075.7 2048.7h0M1080.1 2058h0M1079.3 2043.4h0M1082.1 2049.8h0M1085.5 2056.3h0M1085.8 2044.3h0M1087.6 2049.7h0M1089.5 2055.5h0M1090.8 2045.3h0M1090.6 2049.9h0M1094.2 2056.7h0M1095.8 2049.2h0M1100.1 2055.8h0M1099.6 2044.3h0M1105.8 2051h0M1111.1 2051.2h0M1114.3 2055h0M1113.7 2046.2h0M1116.7 2053h0M1117.6 2048.8h0M1126.6 2049.5h0M1126.3 2049.3h0M1134 2052.7h0M1166.8 2051.9h0M1279.7 2051.9h0M1324.5 2052.7h0M1331.2 2050.5h0M1340.5 2051.2h0M1346.2 2054.6h0M1349.8 2050.6h0M1351 2054.5h0M1352.8 2047.1h0M1356.6 2053.1h0M1358.7 2048.3h0M1362.2 2053.3h0M1363.3 2047.8h0M1366.9 2053h0M1369.1 2049.8h0M1371.2 2056.8h0M1372.1 2044.6h0M1375.1 2051.1h0M1381.3 2051.7h0M1386.2 2051.1h0M1388.7 2053.9h0M1389.1 2050.9h0M1394.5 2055.3h0M1394.3 2050.8h0M1398.3 2054.2h0M1403.6 2053.6h0M1410.2 2050.8h0M1423.4 2050.7h0M1432.4 2053.7h0M1043.7 2082.6h0M1062.1 2081.4h0M1063.7 2080.8h0M1069.1 2081.3h0M1071 2087.7h0M1075.1 2081h0M1075.9 2088.8h0M1075.1 2075.4h0M1075.2 2085.1h0M1079.3 2078.9h0M1083.1 2083h0M1081.3 2086.3h0M1085.4 2077.7h0M1088.1 2085.5h0M1088.1 2079.6h0M1091.2 2089.7h0M1090.5 2074.6h0M1093.2 2081.2h0M1095.2 2088.1h0M1096.1 2075.5h0M1096.6 2081.7h0M1100.3 2088.6h0M1101.2 2081.9h0M1106.3 2088.3h0M1122.5 2082.4h0M1135.3 2083.7h0M1148.9 2083.1h0M1187.2 2083.4h0M1236.4 2082.5h0M1271.7 2083h0M1285.3 2083.4h0M1312 2082.4h0M1325.6 2082.9h0M1335.3 2082.4h0M1344.9 2083.3h0M1346.2 2088.1h0M1351.4 2085.2h0M1357.7 2080.8h0M1357.3 2090.5h0M1361.7 2086h0M1365.2 2078.4h0M1366.8 2080.7h0M1369 2085.5h0M1373.6 2078.3h0M1375.6 2085.4h0M1380.5 2082.9h0M1386.7 2082.5h0M1384.7 2087.5h0M1387.2 2075.5h0M1393.1 2081.4h0M1412.2 2083h0M1430.1 2082.3h0M1066.2 2116.2h0M1078.3 2116.5h0M1082 2114.2h0M1083.1 2118.9h0M1086.7 2115h0M1088.2 2119.2h0M1091.5 2114.7h0M1090.9 2119.1h0M1093 2108.8h0M1095 2115.1h0M1095.9 2119.1h0M1098.6 2109.9h0M1101.4 2123.4h0M1099.1 2112.5h0M1102.7 2120.6h0M1105.1 2108h0M1107.5 2115.1h0M1107.2 2118.2h0M1116.2 2113.7h0M1117.1 2113.4h0M1117.2 2119.8h0M1121.6 2115.1h0M1122.7 2118.7h0M1123.9 2109.6h0M1130.8 2113.3h0M1132.2 2113.9h0M1136.7 2116.8h0M1138.3 2110.9h0M1170.4 2114.1h0M1268 2115h0M1278.7 2114.6h0M1312.5 2115.6h0M1319.6 2117.5h0M1323.4 2113.6h0M1330 2113.5h0M1339.8 2116.4h0M1342.2 2112.6h0M1345.6 2116.3h0M1350.2 2115.2h0M1354 2119.5h0M1355.9 2115h0M1356.7 2118.8h0M1359.6 2116.9h0M1363 2111.8h0M1363.9 2114.3h0M1369.1 2117.9h0M1372.8 2116.5h0M1376.7 2111.6h0M1377.8 2113.5h0M1381.2 2115.4h0M1383.5 2118.7h0M1388.7 2113.1h0M1391.1 2117.4h0M1401.3 2114.2h0M1411 2112.5h0M1439.5 2115h0M1057.2 2145.9h0M1068.3 2146.1h0M1093.9 2147.7h0M1096.4 2146.3h0M1099.3 2149.7h0M1098.1 2142.5h0M1098.7 2154.2h0M1101.8 2147.5h0M1102.3 2143.7h0M1103.7 2152.9h0M1104.8 2146.8h0M1107 2150.1h0M1106 2142.9h0M1107.8 2154h0M1111.2 2138.6h0M1111.3 2148.1h0M1113.3 2143.8h0M1113.5 2151.8h0M1114.8 2139h0M1115.9 2148.4h0M1134.4 2145.9h0M1151.2 2147.2h0M1168.4 2146.5h0M1183.9 2147.3h0M1242.7 2147.4h0M1286.4 2146.2h0M1314.9 2146.2h0M1319.6 2144.6h0M1329 2147.1h0M1335.2 2144.8h0M1337.9 2145.6h0M1342.5 2146.4h0M1341.3 2149.5h0M1344 2142h0M1347.4 2146.9h0M1347.4 2150.6h0M1347.5 2142.3h0M1353.4 2147.6h0M1355.5 2142.6h0M1355.4 2148.2h0M1363.2 2146.4h0M1372.6 2147h0M1373.2 2150.5h0M1376.1 2147.2h0M1384.1 2147.7h0M1385.1 2146.7h0M1391.2 2146.3h0M1392.1 2150.2h0M1419.6 2146h0M1081.4 2179.1h0M1093.1 2179h0M1094.3 2181.6h0M1095.8 2177.1h0M1102.6 2180.6h0M1101.6 2175.1h0M1106.7 2180.3h0M1109.2 2174.3h0M1110.3 2185.8h0M1110 2178.4h0M1111.2 2181.3h0M1113.5 2173.4h0M1114.1 2187.9h0M1118.6 2177.3h0M1118 2184.3h0M1120.3 2179h0M1124.2 2181.7h0M1126.3 2172.7h0M1126.5 2179.6h0M1130.6 2174.8h0M1132.2 2177h0M1135.4 2178.9h0M1139.9 2182.5h0M1142.4 2180.8h0M1160.2 2178.1h0M1175.6 2178.4h0M1215.2 2178.9h0M1254 2178.8h0M1268.5 2178.5h0M1284.1 2177.8h0M1342.9 2178.8h0M1354.1 2178.7h0M1377.6 2177.7h0M1381.7 2179.4h0M1385.6 2179.2h0M1388 2181.2h0M1388.6 2175.6h0M1394.1 2177.3h0M1398.7 2178.7h0M1399.8 2180.1h0M1402.5 2177h0M1400.8 2182.1h0M1403.8 2174.1h0M1404.6 2178.2h0M1410.3 2180.4h0M1420.3 2178.2h0M1427.7 2179.4h0M1444.8 2178h0M1076 2212.7h0M1080.1 2208.2h0M1087.1 2208.7h0M1090.2 2209.8h0M1094.3 2210.3h0M1098.2 2214.6h0M1096.4 2204.1h0M1099.2 2212.8h0M1104.4 2206.6h0M1105.1 2208.5h0M1107.6 2216.5h0M1109.1 2208h0M1112.8 2216.3h0M1115.9 2212h0M1114.9 2206.8h0M1115.3 2218.6h0M1120.5 2210h0M1122.1 2214.1h0M1127.5 2212.7h0M1128.2 2206h0M1129.7 2217.9h0M1132.1 2208.5h0M1138 2211.9h0M1140.4 2207h0M1144.7 2208.9h0M1150.9 2210.8h0M1152.1 2213.5h0M1166.2 2210.3h0M1180.2 2210.9h0M1195 2210.1h0M1207.4 2210.2h0M1223.4 2210.7h0M1235.6 2210h0M1249 2210.2h0M1262.4 2210.6h0M1278.9 2210.7h0M1291.1 2210.4h0M1304.3 2210.3h0M1327.1 2212.3h0M1343 2210.8h0M1347.4 2214.1h0M1349.3 2209h0M1352.7 2212h0M1355.5 2209.6h0M1358.9 2213.7h0M1361.9 2210.1h0M1363.6 2213.8h0M1377.4 2210.4h0M1382.1 2214.7h0M1389.4 2210.1h0M1426 2209.5h0M1443.1 2210.1h0M1461.3 2210h0M1481.4 2210h0M1114.1 2243.5h0M1117.1 2241.6h0M1124.3 2243.6h0M1128.8 2241.4h0M1134.2 2242.3h0M1136.7 2244.3h0M1142.7 2241h0M1142.2 2240.7h0M1144.9 2246.7h0M1145.3 2236.1h0M1147.4 2250.4h0M1149.2 2240h0M1148.6 2245.8h0M1150.5 2235.8h0M1151.5 2243h0M1154 2238.9h0M1155.1 2247.8h0M1154.8 2234.6h0M1157.6 2252.2h0M1155.6 2244.2h0M1159.4 2239.7h0M1161.7 2248.6h0M1161.3 2241.5h0M1162.9 2244.8h0M1166.3 2244.2h0M1169.6 2239.1h0M1175.9 2240.4h0M1178.9 2242.3h0M1179.9 2245.5h0M1183.7 2244.3h0M1186 2241.5h0M1204.9 2242h0M1341.9 2241.9h0M1350.2 2241.6h0M1354.9 2244.1h0M1361.9 2244.8h0M1372.9 2244.9h0M1381.4 2244.9h0M1384.6 2241.4h0M1390.1 2239.7h0M1400.1 2242.6h0M1401.2 2245.9h0M1408.6 2243.7h0M1417.1 2241.9h0M1437.7 2242.1h0M1454.6 2239.2h0M1471.3 2242.2h0M1073.4 2273.6h0M1085.6 2271.9h0M1086.4 2272.4h0M1090.1 2278.1h0M1098.7 2273.8h0M1100.8 2273.4h0M1102.5 2276.5h0M1106.2 2274.2h0M1108.6 2276h0M1108.6 2275.3h0M1111.6 2270.6h0M1113.3 2280h0M1113.7 2266.7h0M1115.7 2273.7h0M1118.4 2276.4h0M1119.9 2273.6h0M1122.1 2277.2h0M1123.6 2269.8h0M1125.3 2272.8h0M1132 2275.6h0M1132.2 2270.4h0M1132.9 2279.4h0M1136.4 2274.7h0M1136.6 2271.5h0M1145.5 2273h0M1145.7 2277.1h0M1152.4 2274.5h0M1158.6 2275.2h0M1161.3 2274.8h0M1178.9 2274.2h0M1205.6 2273.8h0M1229.3 2273.2h0M1244 2273.7h0M1258.5 2273h0M1273.3 2273.1h0M1289.7 2273.2h0M1333.5 2274.5h0M1337.6 2275.7h0M1345.7 2270.7h0M1349.5 2271.6h0M1353.7 2276.6h0M1356.2 2274.2h0M1359.8 2273.8h0M1362.9 2279h0M1366.2 2275.3h0M1371.7 2268.8h0M1376.8 2276.7h0M1378.6 2271.2h0M1380.4 2276.6h0M1385.2 2273.7h0M1388.5 2278.9h0M1407.5 2273.4h0M1410.5 2277.7h0M1416.7 2274h0M1428.7 2276.8h0M1085.7 2305.7h0M1089.7 2306.1h0M1092.2 2310h0M1097.4 2308.3h0M1104.7 2305.3h0M1106.5 2310.3h0M1111.4 2303.8h0M1113.3 2312h0M1116 2308h0M1117.7 2300.6h0M1118.5 2307.9h0M1118.9 2301.3h0M1120.6 2315.1h0M1125.5 2303.6h0M1130.5 2303.5h0M1130.8 2313h0M1133.3 2307.4h0M1134.6 2301.4h0M1137.8 2315.5h0M1142 2304h0M1141.7 2313h0M1143.4 2302.6h0M1146.9 2312h0M1151.6 2306.2h0M1150.2 2310.9h0M1158.8 2307.4h0M1157.7 2308h0M1194.4 2305.1h0M1211.6 2305.2h0M1233 2306.2h0M1249.5 2305.1h0M1272.4 2305.2h0M1296.1 2305.1h0M1322 2306.7h0M1326.5 2302.6h0M1330.3 2303.4h0M1332.9 2310.2h0M1333 2308h0M1338.6 2305.8h0M1340.8 2308.9h0M1344.9 2304.7h0M1347.3 2306.2h0M1350.3 2309.7h0M1351.7 2300.1h0M1353.2 2303.6h0M1358.3 2306.6h0M1358.1 2301.8h0M1360.6 2312.3h0M1363.6 2307h0M1365.3 2302.9h0M1366.9 2305.9h0M1375.5 2307.1h0M1379.4 2306.5h0M1403.7 2306.3h0M1421.6 2305.4h0M1117.3 2337h0M1125.2 2337.4h0M1125.9 2341.1h0M1131 2336.4h0M1132.3 2341.8h0M1137.9 2335.4h0M1138.1 2336.9h0M1138.4 2339.9h0M1142.2 2336.1h0M1147.1 2342.3h0M1148.7 2336.6h0M1147.3 2341.2h0M1148.7 2332.7h0M1152.3 2345.7h0M1152.7 2336.4h0M1152.7 2342h0M1154.5 2330.7h0M1157 2346.5h0M1159.1 2337.4h0M1157 2340.6h0M1160.5 2333.1h0M1161.7 2344.5h0M1164.9 2335.9h0M1169.3 2341.5h0M1170.3 2336h0M1173.5 2338.3h0M1177.5 2338.1h0M1178.7 2339.8h0M1182.8 2332.2h0M1182.9 2338.7h0M1184.9 2334h0M1189.6 2338.9h0M1193.2 2334.6h0M1198.7 2337.9h0M1348.6 2337.9h0M1351.8 2338h0M1360.9 2337.2h0M1377.6 2337.4h0M1390.4 2337.2h0M1394.9 2341.6h0M1405 2337.3h0M1417.4 2337.4h0M1425.5 2337.9h0M1440.2 2338.1h0M1462.5 2337.9h0M1475.1 2337.9h0M1103.8 2369h0M1120.3 2367.3h0M1122.6 2367.6h0M1124.7 2374.3h0M1128.9 2367.2h0M1128.1 2375.6h0M1131.7 2366.8h0M1132.8 2374.8h0M1137.5 2371.2h0M1136.8 2364.7h0M1139.1 2368.6h0M1141.7 2373.7h0M1142 2363.4h0M1142.9 2378.5h0M1146.1 2366.8h0M1145.6 2374.6h0M1147.7 2362h0M1150.4 2371.7h0M1152.9 2365.9h0M1154.7 2371.4h0M1158.2 2365h0M1158.2 2377.6h0M1159.4 2371h0M1165.5 2367.7h0M1168.4 2369h0M1170.8 2373.6h0M1177.1 2371.1h0M1209.5 2369.4h0M1260.8 2369.3h0M1294.7 2368.7h0M1323 2368.6h0M1326.4 2370h0M1332.7 2370.6h0M1333.8 2366.7h0M1336.7 2370.7h0M1343.9 2369.6h0M1346.7 2370.4h0M1346.8 2367.1h0M1353 2367.4h0M1354.6 2373.5h0M1354.5 2367.6h0M1356.1 2372h0M1359.6 2364.4h0M1361.1 2376.5h0M1364.7 2369.5h0M1369.8 2372h0M1371.6 2367.2h0M1389.8 2368.4h0M1405.6 2369.2h0M1094.3 2400.9h0M1100.8 2400.3h0M1106.9 2400.2h0M1107.1 2405h0M1113 2402.8h0M1115.9 2397.8h0M1119 2399.3h0M1120.6 2405.3h0M1121.3 2398.8h0M1125.4 2405.1h0M1124.2 2394h0M1124.8 2411.4h0M1127 2399.1h0M1129.8 2406.5h0M1135.9 2402.1h0M1134.2 2398.3h0M1136.6 2400.4h0M1137.8 2403.9h0M1140.5 2395.4h0M1142.1 2408.7h0M1143.7 2399.4h0M1141.9 2405.4h0M1144.4 2393.7h0M1148.6 2398.7h0M1151.2 2406.1h0M1161.3 2400.9h0M1164.5 2402.4h0M1225.5 2400.7h0M1265.7 2400.2h0M1301.9 2401.7h0M1308.4 2399.2h0M1310.3 2398.7h0M1318.4 2403.1h0M1319.1 2401.7h0M1321.2 2404.3h0M1324.8 2396.9h0M1327.6 2402.5h0M1333.4 2401.7h0M1333.5 2398.4h0M1334.3 2406.9h0M1338.2 2399.4h0M1338.3 2405.6h0M1340 2399.3h0M1340.1 2404.3h0M1341.7 2394.8h0M1346.7 2400.9h0M1349.9 2402.3h0M1353.9 2403.1h0M1356.2 2398.1h0M1359.3 2401.7h0M1369.9 2401.9h0M1375 2400.4h0M1402.2 2400.4h0M1105.4 2433.2h0M1113.1 2433.8h0M1116 2433.7h0M1119.6 2433.7h0M1121.1 2429h0M1126.3 2432.3h0M1126 2435.4h0M1129.4 2427.2h0M1130.8 2432.8h0M1131.1 2436.7h0M1133.7 2428.3h0M1135.5 2441.1h0M1136.2 2433.8h0M1137.3 2429.1h0M1136.7 2439.1h0M1137.9 2425.2h0M1140.8 2434.6h0M1141.9 2430.1h0M1145.7 2433.1h0M1144.8 2436h0M1148.4 2427.4h0M1152.5 2430.8h0M1156.6 2432.5h0M1158.8 2435.4h0M1164.9 2430.9h0M1189.9 2431.9h0M1218.1 2433.2h0M1249.1 2432.5h0M1280 2433.3h0M1302.9 2434.5h0M1304 2431h0M1312.3 2432.5h0M1317.6 2436.3h0M1317.2 2432.7h0M1322.9 2436.4h0M1327 2432.7h0M1327.8 2436.8h0M1327.7 2432h0M1334 2436.7h0M1333.1 2434.3h0M1340.1 2432.3h0M1340.8 2436.7h0M1342.8 2434.1h0M1344.9 2429.9h0M1346.5 2439.9h0M1348.9 2434h0M1350.3 2429.4h0M1351.5 2438.9h0M1353.2 2430.4h0M1357.2 2437.2h0M1359.1 2431.3h0M1370 2434.9h0M1392.9 2433.1h0M1108.5 2464.3h0M1114.2 2468h0M1114.8 2462.2h0M1117.1 2469.7h0M1120.8 2462.9h0M1119.7 2469.3h0M1121.8 2456.9h0M1123.9 2464h0M1128.4 2468.2h0M1127.9 2459.5h0M1131.3 2462.3h0M1133.3 2464.4h0M1134.5 2468.1h0M1138.3 2459.6h0M1140 2464.4h0M1139.4 2468.3h0M1140.9 2459.6h0M1142 2473.4h0M1142.4 2463.9h0M1149.7 2468.8h0M1149.4 2462.2h0M1154.1 2470h0M1162.9 2465h0M1178 2464.5h0M1195.6 2463.8h0M1229.7 2464.4h0M1254.2 2464.8h0M1277.5 2465.2h0M1288.9 2464.3h0M1297.6 2465h0M1304.1 2466.6h0M1309.1 2464.7h0M1308.5 2468.4h0M1311.3 2460.1h0M1311.5 2472h0M1316.8 2462.7h0M1318.3 2469.6h0M1317.2 2465.2h0M1322.6 2467.5h0M1321.4 2459.7h0M1322.8 2462.7h0M1323.9 2469.5h0M1326.1 2457.5h0M1329.3 2463.9h0M1331.2 2467.9h0M1336.3 2466.4h0M1336.9 2461.9h0M1342.9 2463h0M1111.8 2495.9h0M1116.5 2498.5h0M1117.7 2492.6h0M1119.6 2495.8h0M1124.4 2494.9h0M1126.5 2500.1h0M1130.9 2494.9h0M1129.6 2501.2h0M1131.7 2496.3h0M1136.1 2499.8h0M1136.3 2491.6h0M1136.6 2503.4h0M1136.7 2487.8h0M1137.5 2494.7h0M1142 2501.3h0M1141.2 2490.4h0M1144.4 2497.8h0M1148 2492.9h0M1148.6 2501.8h0M1149.7 2498.5h0M1153.1 2492.9h0M1158.4 2495.5h0M1159.4 2498h0M1162.3 2492.6h0M1161.9 2503h0M1164.7 2496.6h0M1173.6 2497.2h0M1186.6 2496.3h0M1220.1 2496.6h0M1235.5 2496.2h0M1271.7 2495.9h0M1286 2495.8h0M1297.5 2494.3h0M1300.1 2494h0M1300.1 2502.4h0M1304 2494h0M1308.6 2497h0M1311.3 2500.8h0M1312.8 2495.7h0M1315.5 2499.8h0M1317.1 2495.1h0M1319.8 2496.4h0M1322.5 2500.7h0M1325.5 2489.9h0M1327 2496.5h0M1328.3 2500.4h0M1330.9 2496.9h0M1333.2 2500.8h0M1334.3 2490.2h0M1342.6 2496.9h0M1343.3 2499.6h0M1349.9 2496.3h0M1350.5 2499.8h0M1105.3 2528.8h0M1109.2 2529.4h0M1110.1 2524.4h0M1117.1 2526.6h0M1119.7 2527.9h0M1123 2527.6h0M1122.7 2531.8h0M1127.9 2529.8h0M1130.4 2524.9h0M1129.7 2535.4h0M1133.6 2525.7h0M1136.1 2528.3h0M1138.1 2532.2h0M1139.6 2522.1h0M1142.2 2536.3h0M1146.1 2527.3h0M1150.7 2531.7h0M1150.9 2527.4h0M1155.2 2531.9h0M1155.5 2522.7h0M1158.1 2529.9h0M1158.7 2524h0M1159.3 2534.8h0M1165.4 2526.5h0M1166.2 2527.9h0M1170.3 2531h0M1180.2 2530.4h0M1180.6 2527.5h0M1187.1 2527.3h0M1212.4 2528.7h0M1248.7 2527.9h0M1264.1 2528.4h0M1280 2527.8h0M1282.1 2525.9h0M1294 2528.6h0M1296.7 2528.6h0M1300.7 2531.9h0M1301.6 2529.4h0M1304.7 2525.1h0M1303.6 2535.1h0M1305.6 2530.1h0M1309.3 2524.6h0M1316.2 2530.3h0M1314.1 2528.5h0M1315.9 2532.1h0M1319.2 2523h0M1321.5 2525.8h0M1327.7 2529.9h0M1331.7 2528.2h0M1333.4 2531.2h0M1336.3 2527.4h0M1339.7 2532.2h0M1340.8 2522.5h0M1341 2530.2h0M1354.2 2529.2h0M1119.7 2559.5h0M1120.6 2560.6h0M1130.5 2561.6h0M1131.1 2559.7h0M1131.4 2563.7h0M1133.3 2553.8h0M1138.8 2558.8h0M1139.9 2565.7h0M1141.6 2559.8h0M1143.5 2564.1h0M1144.1 2553.8h0M1148.5 2560.8h0M1151.8 2555.7h0M1154.5 2557.3h0M1155.5 2565.4h0M1156.5 2552.7h0M1157.8 2558h0M1160.3 2564.6h0M1162.2 2552.1h0M1161.1 2560.9h0M1164.4 2556.2h0M1164.8 2566.4h0M1167.3 2550.1h0M1167.8 2557.7h0M1170.1 2564.5h0M1173.5 2558.1h0M1173.4 2564.7h0M1181.5 2559.5h0M1212.5 2559.6h0M1266.9 2560.1h0M1288 2559.1h0M1297.9 2561.4h0M1305.2 2558.5h0M1304.7 2560.8h0M1308.2 2557h0M1316.2 2560.4h0M1317.2 2561.6h0M1320.9 2558.2h0M1324.9 2563.2h0M1323.8 2554.4h0M1324.9 2566.8h0M1326.6 2561h0M1329.8 2557h0M1331.9 2560.4h0M1331.6 2561.4h0M1332.3 2555.6h0M1334.1 2560.1h0M1336.6 2562.5h0M1341.2 2560.4h0M1344.2 2560.1h0M1348.3 2562h0M1349.6 2560.8h0M1119 2592.1h0M1123 2592.1h0M1127.9 2593.6h0M1128.2 2587.8h0M1133.5 2593.5h0M1136.3 2587.3h0M1140.4 2589.6h0M1141 2591.8h0M1142.1 2595.5h0M1146.3 2586.3h0M1148.8 2589h0M1150.6 2596.9h0M1152.2 2584h0M1153.4 2592.9h0M1155 2588.3h0M1155.2 2599.1h0M1157.2 2590.9h0M1157.9 2595.9h0M1158.5 2586.1h0M1159.4 2601.3h0M1163.5 2590.9h0M1164.5 2594.6h0M1167.9 2586.8h0M1168 2593.6h0M1170.3 2587.6h0M1171.8 2599.2h0M1174.7 2590.2h0M1173.5 2596.7h0M1177.8 2584.8h0M1183.2 2590.9h0M1192.1 2591.6h0M1205.8 2592.2h0M1218.3 2591.8h0M1231.4 2591.4h0M1243.2 2592.2h0M1256.4 2591.4h0M1268.3 2591.2h0M1282.7 2591.5h0M1310.6 2591.1h0M1315.4 2591.5h0M1324.2 2591.6h0M1330.7 2594h0M1338.1 2591.1h0M1340.6 2595.2h0M1340 2586.1h0M1339 2589.3h0M1344.3 2597.9h0M1347.9 2593.9h0M1350.5 2588h0M1353.3 2592.1h0M1358 2590.8h0M1365.9 2593.3h0M1369.6 2594h0M1371 2590.8h0M1373.8 2595.6h0M1376.1 2585.3h0M1377.6 2590h0M1382.6 2594.2h0M1402.6 2592.4h0M1122.3 2622.7h0M1128.1 2623h0M1131.6 2623.6h0M1140.4 2624.2h0M1144.8 2622.5h0M1147.7 2624.4h0M1149.7 2620h0M1151.8 2625.5h0M1157.1 2624.9h0M1156.5 2619.9h0M1158.1 2629h0M1158.6 2616h0M1158.1 2632.3h0M1158.7 2623.9h0M1162.8 2626.2h0M1161.9 2619.5h0M1160.8 2630.2h0M1166.2 2615.3h0M1168.4 2621.6h0M1166.2 2627.1h0M1170.5 2617.5h0M1172 2623.8h0M1172.3 2625.7h0M1175.1 2619.6h0M1173.7 2630.9h0M1175 2621.5h0M1178.1 2627.1h0M1181.7 2624.8h0M1184.8 2620.1h0M1184.1 2623.8h0M1195 2623.4h0M1212.3 2624.1h0M1229.8 2622.9h0M1243.8 2623.7h0M1261.1 2622.9h0M1276.9 2622.6h0M1293.3 2623.7h0M1297.5 2620.7h0M1300.6 2621.3h0M1306.5 2621.2h0M1307.4 2629.1h0M1314.6 2623.3h0M1318.7 2626.6h0M1321.6 2624.7h0M1324.3 2619h0M1324.1 2625.3h0M1327.2 2619.7h0M1329.2 2623.1h0M1337.2 2625h0M1339.1 2619.3h0M1342 2622.2h0M1341.9 2629.7h0M1344.2 2623.9h0M1346.8 2626.8h0M1350.8 2625.9h0"/></svg></body></html>
